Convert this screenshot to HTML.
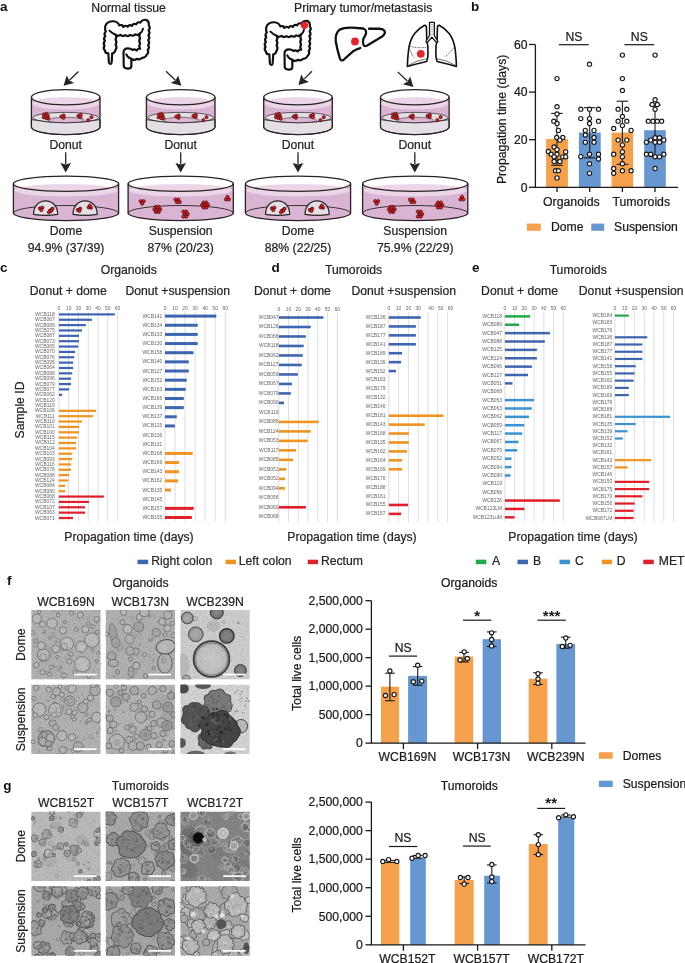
<!DOCTYPE html>
<html><head><meta charset="utf-8"><style>
html,body{margin:0;padding:0;background:#fff;}
body{width:685px;height:963px;overflow:hidden;}
svg{display:block;will-change:transform;}
text{font-family:"Liberation Sans",sans-serif;}
</style></head><body>
<svg width="685" height="963" viewBox="0 0 685 963">
<rect x="0" y="0" width="685" height="963" fill="#fff"/>
<defs><filter id="grain" x="0" y="0" width="100%" height="100%"><feTurbulence type="fractalNoise" baseFrequency="0.55" numOctaves="2" seed="7" result="t"/><feColorMatrix in="t" type="matrix" values="0 0 0 0 0  0 0 0 0 0  0 0 0 0 0  0.8 0 0 0 -0.3"/><feGaussianBlur stdDeviation="0.4"/></filter><filter id="soft"><feGaussianBlur stdDeviation="0.35"/></filter><filter id="blur1"><feGaussianBlur stdDeviation="1.2"/></filter><filter id="blur2"><feGaussianBlur stdDeviation="2.5"/></filter><clipPath id="cpf1"><rect x="31.2" y="610.0" width="69.5" height="69.5"/></clipPath><clipPath id="cpf2"><rect x="105.6" y="610.0" width="69.5" height="69.5"/></clipPath><clipPath id="cpf4"><rect x="31.2" y="684.6" width="69.5" height="69.5"/></clipPath><clipPath id="cpf5"><rect x="105.6" y="684.6" width="69.5" height="69.5"/></clipPath><radialGradient id="f3big"><stop offset="0" stop-color="#cbcbcb"/><stop offset="0.75" stop-color="#c2c2c2"/><stop offset="1" stop-color="#a8a8a8"/></radialGradient><radialGradient id="f3dk"><stop offset="0" stop-color="#8c8c8c"/><stop offset="0.75" stop-color="#7a7a7a"/><stop offset="1" stop-color="#5a5a5a"/></radialGradient><radialGradient id="f3md"><stop offset="0" stop-color="#b2b2b2"/><stop offset="0.75" stop-color="#a2a2a2"/><stop offset="1" stop-color="#7a7a7a"/></radialGradient><clipPath id="cpf3"><rect x="180.3" y="610.0" width="69.5" height="69.5"/></clipPath><radialGradient id="f6a"><stop offset="0" stop-color="#2e2e2e"/><stop offset="0.75" stop-color="#3e3e3e"/><stop offset="1" stop-color="#5a5a5a"/></radialGradient><radialGradient id="f6b"><stop offset="0" stop-color="#6e6e6e"/><stop offset="0.75" stop-color="#7a7a7a"/><stop offset="1" stop-color="#5a5a5a"/></radialGradient><radialGradient id="f6c"><stop offset="0" stop-color="#444"/><stop offset="0.75" stop-color="#525252"/><stop offset="1" stop-color="#6a6a6a"/></radialGradient><clipPath id="cpf6"><rect x="180.3" y="684.6" width="69.5" height="69.5"/></clipPath><clipPath id="cpg1"><rect x="31.2" y="811.6" width="69.5" height="69.5"/></clipPath><radialGradient id="gdk"><stop offset="0" stop-color="#7a7a7a"/><stop offset="0.75" stop-color="#868686"/><stop offset="1" stop-color="#666"/></radialGradient><radialGradient id="gmd"><stop offset="0" stop-color="#959595"/><stop offset="0.75" stop-color="#9d9d9d"/><stop offset="1" stop-color="#707070"/></radialGradient><clipPath id="cpg2"><rect x="105.6" y="811.6" width="69.5" height="69.5"/></clipPath><clipPath id="cpg3"><rect x="180.3" y="811.6" width="69.5" height="69.5"/></clipPath><clipPath id="cpg4"><rect x="31.2" y="886.3" width="69.5" height="69.5"/></clipPath><clipPath id="cpg5"><rect x="105.6" y="886.3" width="69.5" height="69.5"/></clipPath><clipPath id="cpg6"><rect x="180.3" y="886.3" width="69.5" height="69.5"/></clipPath></defs>
<text x="0.00" y="11.00" font-size="13.5" text-anchor="start" fill="#111" font-weight="bold" >a</text>
<text x="128.60" y="12.40" font-size="12.2" text-anchor="middle" fill="#2a2223" stroke="#2a2223" stroke-width="0.22" >Normal tissue</text>
<text x="363.20" y="12.40" font-size="12.2" text-anchor="middle" fill="#2a2223" stroke="#2a2223" stroke-width="0.22" >Primary tumor/metastasis</text>
<text x="471.00" y="10.80" font-size="13.5" text-anchor="start" fill="#111" font-weight="bold" >b</text>
<ellipse cx="65.7" cy="97.2" rx="34.3" ry="7.6" fill="#fff"/>
<path d="M31.400000000000006,97.2 A34.3,7.6 0 0 0 100.0,97.2 L100.0,127.0 A34.3,7.6 0 0 1 31.400000000000006,127.0 Z" fill="#dab5d3"/>
<ellipse cx="65.7" cy="103.3" rx="33.699999999999996" ry="6.3" fill="#ebd6e8"/>
<ellipse cx="65.7" cy="117.6" rx="32.8" ry="5.2" fill="#e4dfe5" stroke="#2a2122" stroke-width="0.7"/>
<ellipse cx="66.2" cy="120.3" rx="18.299999999999997" ry="3.0" fill="#dab5d3" stroke="#2a2122" stroke-width="0.5"/>
<path d="M31.400000000000006,119.6 Q65.7,126.2 100.0,119.6 L100.0,127.0 A34.3,7.6 0 0 1 31.400000000000006,127.0 Z" fill="#e4dfe5" stroke="#2a2122" stroke-width="0.9"/>
<circle cx="44.00" cy="114.50" r="1.6" fill="#e31e24" stroke="#3a0a0a" stroke-width="0.7"/>
<circle cx="46.50" cy="113.90" r="1.6" fill="#e31e24" stroke="#3a0a0a" stroke-width="0.7"/>
<circle cx="47.70" cy="115.90" r="1.6" fill="#e31e24" stroke="#3a0a0a" stroke-width="0.7"/>
<circle cx="43.70" cy="117.30" r="1.6" fill="#e31e24" stroke="#3a0a0a" stroke-width="0.7"/>
<circle cx="46.30" cy="118.10" r="1.6" fill="#e31e24" stroke="#3a0a0a" stroke-width="0.7"/>
<circle cx="48.30" cy="118.50" r="1.6" fill="#e31e24" stroke="#3a0a0a" stroke-width="0.7"/>
<circle cx="61.40" cy="116.50" r="1.6" fill="#e31e24" stroke="#3a0a0a" stroke-width="0.7"/>
<circle cx="63.70" cy="115.50" r="1.6" fill="#e31e24" stroke="#3a0a0a" stroke-width="0.7"/>
<circle cx="63.50" cy="117.80" r="1.6" fill="#e31e24" stroke="#3a0a0a" stroke-width="0.7"/>
<circle cx="78.40" cy="116.00" r="1.6" fill="#e31e24" stroke="#3a0a0a" stroke-width="0.7"/>
<circle cx="80.70" cy="114.80" r="1.6" fill="#e31e24" stroke="#3a0a0a" stroke-width="0.7"/>
<circle cx="80.50" cy="117.20" r="1.6" fill="#e31e24" stroke="#3a0a0a" stroke-width="0.7"/>
<circle cx="88.20" cy="120.20" r="1.6" fill="#e31e24" stroke="#3a0a0a" stroke-width="0.7"/>
<circle cx="91.50" cy="117.20" r="1.6" fill="#e31e24" stroke="#3a0a0a" stroke-width="0.7"/>
<path d="M31.400000000000006,97.2 L31.400000000000006,127.0 A34.3,7.6 0 0 0 100.0,127.0 L100.0,97.2" fill="none" stroke="#2a2122" stroke-width="1.3"/>
<ellipse cx="65.7" cy="97.2" rx="34.3" ry="7.6" fill="none" stroke="#2a2122" stroke-width="1.3"/>
<text x="65.70" y="149.10" font-size="12.2" text-anchor="middle" fill="#2a2223" stroke="#2a2223" stroke-width="0.22" >Donut</text>
<line x1="65.7" y1="152.3" x2="65.70" y2="164.10" stroke="#2a2122" stroke-width="1.3"/>
<path d="M65.70,172.60 L60.40,163.10 L65.70,164.62 L71.00,163.10 Z" fill="#2a2122"/>
<ellipse cx="180.7" cy="97.2" rx="34.3" ry="7.6" fill="#fff"/>
<path d="M146.39999999999998,97.2 A34.3,7.6 0 0 0 215.0,97.2 L215.0,127.0 A34.3,7.6 0 0 1 146.39999999999998,127.0 Z" fill="#dab5d3"/>
<ellipse cx="180.7" cy="103.3" rx="33.699999999999996" ry="6.3" fill="#ebd6e8"/>
<ellipse cx="180.7" cy="117.6" rx="32.8" ry="5.2" fill="#e4dfe5" stroke="#2a2122" stroke-width="0.7"/>
<ellipse cx="181.2" cy="120.3" rx="18.299999999999997" ry="3.0" fill="#dab5d3" stroke="#2a2122" stroke-width="0.5"/>
<path d="M146.39999999999998,119.6 Q180.7,126.2 215.0,119.6 L215.0,127.0 A34.3,7.6 0 0 1 146.39999999999998,127.0 Z" fill="#e4dfe5" stroke="#2a2122" stroke-width="0.9"/>
<circle cx="159.00" cy="114.50" r="1.6" fill="#e31e24" stroke="#3a0a0a" stroke-width="0.7"/>
<circle cx="161.50" cy="113.90" r="1.6" fill="#e31e24" stroke="#3a0a0a" stroke-width="0.7"/>
<circle cx="162.70" cy="115.90" r="1.6" fill="#e31e24" stroke="#3a0a0a" stroke-width="0.7"/>
<circle cx="158.70" cy="117.30" r="1.6" fill="#e31e24" stroke="#3a0a0a" stroke-width="0.7"/>
<circle cx="161.30" cy="118.10" r="1.6" fill="#e31e24" stroke="#3a0a0a" stroke-width="0.7"/>
<circle cx="163.30" cy="118.50" r="1.6" fill="#e31e24" stroke="#3a0a0a" stroke-width="0.7"/>
<circle cx="176.40" cy="116.50" r="1.6" fill="#e31e24" stroke="#3a0a0a" stroke-width="0.7"/>
<circle cx="178.70" cy="115.50" r="1.6" fill="#e31e24" stroke="#3a0a0a" stroke-width="0.7"/>
<circle cx="178.50" cy="117.80" r="1.6" fill="#e31e24" stroke="#3a0a0a" stroke-width="0.7"/>
<circle cx="193.40" cy="116.00" r="1.6" fill="#e31e24" stroke="#3a0a0a" stroke-width="0.7"/>
<circle cx="195.70" cy="114.80" r="1.6" fill="#e31e24" stroke="#3a0a0a" stroke-width="0.7"/>
<circle cx="195.50" cy="117.20" r="1.6" fill="#e31e24" stroke="#3a0a0a" stroke-width="0.7"/>
<circle cx="203.20" cy="120.20" r="1.6" fill="#e31e24" stroke="#3a0a0a" stroke-width="0.7"/>
<circle cx="206.50" cy="117.20" r="1.6" fill="#e31e24" stroke="#3a0a0a" stroke-width="0.7"/>
<path d="M146.39999999999998,97.2 L146.39999999999998,127.0 A34.3,7.6 0 0 0 215.0,127.0 L215.0,97.2" fill="none" stroke="#2a2122" stroke-width="1.3"/>
<ellipse cx="180.7" cy="97.2" rx="34.3" ry="7.6" fill="none" stroke="#2a2122" stroke-width="1.3"/>
<text x="180.70" y="149.10" font-size="12.2" text-anchor="middle" fill="#2a2223" stroke="#2a2223" stroke-width="0.22" >Donut</text>
<line x1="180.7" y1="152.3" x2="180.70" y2="164.10" stroke="#2a2122" stroke-width="1.3"/>
<path d="M180.70,172.60 L175.40,163.10 L180.70,164.62 L186.00,163.10 Z" fill="#2a2122"/>
<ellipse cx="298.0" cy="97.2" rx="34.3" ry="7.6" fill="#fff"/>
<path d="M263.7,97.2 A34.3,7.6 0 0 0 332.3,97.2 L332.3,127.0 A34.3,7.6 0 0 1 263.7,127.0 Z" fill="#dab5d3"/>
<ellipse cx="298.0" cy="103.3" rx="33.699999999999996" ry="6.3" fill="#ebd6e8"/>
<ellipse cx="298.0" cy="117.6" rx="32.8" ry="5.2" fill="#e4dfe5" stroke="#2a2122" stroke-width="0.7"/>
<ellipse cx="298.5" cy="120.3" rx="18.299999999999997" ry="3.0" fill="#dab5d3" stroke="#2a2122" stroke-width="0.5"/>
<path d="M263.7,119.6 Q298.0,126.2 332.3,119.6 L332.3,127.0 A34.3,7.6 0 0 1 263.7,127.0 Z" fill="#e4dfe5" stroke="#2a2122" stroke-width="0.9"/>
<circle cx="276.30" cy="114.50" r="1.6" fill="#e31e24" stroke="#3a0a0a" stroke-width="0.7"/>
<circle cx="278.80" cy="113.90" r="1.6" fill="#e31e24" stroke="#3a0a0a" stroke-width="0.7"/>
<circle cx="280.00" cy="115.90" r="1.6" fill="#e31e24" stroke="#3a0a0a" stroke-width="0.7"/>
<circle cx="276.00" cy="117.30" r="1.6" fill="#e31e24" stroke="#3a0a0a" stroke-width="0.7"/>
<circle cx="278.60" cy="118.10" r="1.6" fill="#e31e24" stroke="#3a0a0a" stroke-width="0.7"/>
<circle cx="280.60" cy="118.50" r="1.6" fill="#e31e24" stroke="#3a0a0a" stroke-width="0.7"/>
<circle cx="293.70" cy="116.50" r="1.6" fill="#e31e24" stroke="#3a0a0a" stroke-width="0.7"/>
<circle cx="296.00" cy="115.50" r="1.6" fill="#e31e24" stroke="#3a0a0a" stroke-width="0.7"/>
<circle cx="295.80" cy="117.80" r="1.6" fill="#e31e24" stroke="#3a0a0a" stroke-width="0.7"/>
<circle cx="310.70" cy="116.00" r="1.6" fill="#e31e24" stroke="#3a0a0a" stroke-width="0.7"/>
<circle cx="313.00" cy="114.80" r="1.6" fill="#e31e24" stroke="#3a0a0a" stroke-width="0.7"/>
<circle cx="312.80" cy="117.20" r="1.6" fill="#e31e24" stroke="#3a0a0a" stroke-width="0.7"/>
<circle cx="320.50" cy="120.20" r="1.6" fill="#e31e24" stroke="#3a0a0a" stroke-width="0.7"/>
<circle cx="323.80" cy="117.20" r="1.6" fill="#e31e24" stroke="#3a0a0a" stroke-width="0.7"/>
<path d="M263.7,97.2 L263.7,127.0 A34.3,7.6 0 0 0 332.3,127.0 L332.3,97.2" fill="none" stroke="#2a2122" stroke-width="1.3"/>
<ellipse cx="298.0" cy="97.2" rx="34.3" ry="7.6" fill="none" stroke="#2a2122" stroke-width="1.3"/>
<text x="298.00" y="149.10" font-size="12.2" text-anchor="middle" fill="#2a2223" stroke="#2a2223" stroke-width="0.22" >Donut</text>
<line x1="298.0" y1="152.3" x2="298.00" y2="164.10" stroke="#2a2122" stroke-width="1.3"/>
<path d="M298.00,172.60 L292.70,163.10 L298.00,164.62 L303.30,163.10 Z" fill="#2a2122"/>
<ellipse cx="414.8" cy="97.2" rx="34.3" ry="7.6" fill="#fff"/>
<path d="M380.5,97.2 A34.3,7.6 0 0 0 449.1,97.2 L449.1,127.0 A34.3,7.6 0 0 1 380.5,127.0 Z" fill="#dab5d3"/>
<ellipse cx="414.8" cy="103.3" rx="33.699999999999996" ry="6.3" fill="#ebd6e8"/>
<ellipse cx="414.8" cy="117.6" rx="32.8" ry="5.2" fill="#e4dfe5" stroke="#2a2122" stroke-width="0.7"/>
<ellipse cx="415.3" cy="120.3" rx="18.299999999999997" ry="3.0" fill="#dab5d3" stroke="#2a2122" stroke-width="0.5"/>
<path d="M380.5,119.6 Q414.8,126.2 449.1,119.6 L449.1,127.0 A34.3,7.6 0 0 1 380.5,127.0 Z" fill="#e4dfe5" stroke="#2a2122" stroke-width="0.9"/>
<circle cx="393.10" cy="114.50" r="1.6" fill="#e31e24" stroke="#3a0a0a" stroke-width="0.7"/>
<circle cx="395.60" cy="113.90" r="1.6" fill="#e31e24" stroke="#3a0a0a" stroke-width="0.7"/>
<circle cx="396.80" cy="115.90" r="1.6" fill="#e31e24" stroke="#3a0a0a" stroke-width="0.7"/>
<circle cx="392.80" cy="117.30" r="1.6" fill="#e31e24" stroke="#3a0a0a" stroke-width="0.7"/>
<circle cx="395.40" cy="118.10" r="1.6" fill="#e31e24" stroke="#3a0a0a" stroke-width="0.7"/>
<circle cx="397.40" cy="118.50" r="1.6" fill="#e31e24" stroke="#3a0a0a" stroke-width="0.7"/>
<circle cx="410.50" cy="116.50" r="1.6" fill="#e31e24" stroke="#3a0a0a" stroke-width="0.7"/>
<circle cx="412.80" cy="115.50" r="1.6" fill="#e31e24" stroke="#3a0a0a" stroke-width="0.7"/>
<circle cx="412.60" cy="117.80" r="1.6" fill="#e31e24" stroke="#3a0a0a" stroke-width="0.7"/>
<circle cx="427.50" cy="116.00" r="1.6" fill="#e31e24" stroke="#3a0a0a" stroke-width="0.7"/>
<circle cx="429.80" cy="114.80" r="1.6" fill="#e31e24" stroke="#3a0a0a" stroke-width="0.7"/>
<circle cx="429.60" cy="117.20" r="1.6" fill="#e31e24" stroke="#3a0a0a" stroke-width="0.7"/>
<circle cx="437.30" cy="120.20" r="1.6" fill="#e31e24" stroke="#3a0a0a" stroke-width="0.7"/>
<circle cx="440.60" cy="117.20" r="1.6" fill="#e31e24" stroke="#3a0a0a" stroke-width="0.7"/>
<path d="M380.5,97.2 L380.5,127.0 A34.3,7.6 0 0 0 449.1,127.0 L449.1,97.2" fill="none" stroke="#2a2122" stroke-width="1.3"/>
<ellipse cx="414.8" cy="97.2" rx="34.3" ry="7.6" fill="none" stroke="#2a2122" stroke-width="1.3"/>
<text x="414.80" y="149.10" font-size="12.2" text-anchor="middle" fill="#2a2223" stroke="#2a2223" stroke-width="0.22" >Donut</text>
<line x1="414.8" y1="152.3" x2="414.80" y2="164.10" stroke="#2a2122" stroke-width="1.3"/>
<path d="M414.80,172.60 L409.50,163.10 L414.80,164.62 L420.10,163.10 Z" fill="#2a2122"/>
<ellipse cx="66.0" cy="183.8" rx="52.6" ry="7.6" fill="#fff"/>
<path d="M13.399999999999999,183.8 A52.6,7.6 0 0 0 118.6,183.8 L118.6,213.1 A52.6,7.6 0 0 1 13.399999999999999,213.1 Z" fill="#dab5d3"/>
<ellipse cx="66.0" cy="190.3" rx="51.800000000000004" ry="6.2" fill="#ebd6e8"/>
<path d="M13.399999999999999,213.1 A52.6,7.6 0 0 1 118.6,213.1" fill="none" stroke="#2a2122" stroke-width="0.9"/>
<path d="M33.5,214.3 C33.5,196.5 57.7,196.5 57.7,214.3 Q45.6,216.6 33.5,214.3 Z" fill="#e4dfe5" stroke="#2a2122" stroke-width="1.2"/>
<circle cx="39.90" cy="208.30" r="1.6" fill="#e31e24" stroke="#3a0a0a" stroke-width="0.7"/>
<circle cx="42.40" cy="207.70" r="1.6" fill="#e31e24" stroke="#3a0a0a" stroke-width="0.7"/>
<circle cx="41.30" cy="210.00" r="1.6" fill="#e31e24" stroke="#3a0a0a" stroke-width="0.7"/>
<circle cx="50.30" cy="210.30" r="1.6" fill="#e31e24" stroke="#3a0a0a" stroke-width="0.7"/>
<circle cx="52.50" cy="208.70" r="1.6" fill="#e31e24" stroke="#3a0a0a" stroke-width="0.7"/>
<circle cx="48.90" cy="212.20" r="1.6" fill="#e31e24" stroke="#3a0a0a" stroke-width="0.7"/>
<circle cx="51.30" cy="210.90" r="1.6" fill="#e31e24" stroke="#3a0a0a" stroke-width="0.7"/>
<path d="M73.0,214.3 C73.0,196.5 97.19999999999999,196.5 97.19999999999999,214.3 Q85.1,216.6 73.0,214.3 Z" fill="#e4dfe5" stroke="#2a2122" stroke-width="1.2"/>
<circle cx="77.80" cy="209.90" r="1.6" fill="#e31e24" stroke="#3a0a0a" stroke-width="0.7"/>
<circle cx="80.20" cy="208.60" r="1.6" fill="#e31e24" stroke="#3a0a0a" stroke-width="0.7"/>
<circle cx="79.40" cy="210.90" r="1.6" fill="#e31e24" stroke="#3a0a0a" stroke-width="0.7"/>
<circle cx="88.70" cy="207.30" r="1.6" fill="#e31e24" stroke="#3a0a0a" stroke-width="0.7"/>
<circle cx="91.00" cy="207.70" r="1.6" fill="#e31e24" stroke="#3a0a0a" stroke-width="0.7"/>
<circle cx="89.90" cy="205.50" r="1.6" fill="#e31e24" stroke="#3a0a0a" stroke-width="0.7"/>
<path d="M13.399999999999999,183.8 L13.399999999999999,213.1 A52.6,7.6 0 0 0 118.6,213.1 L118.6,183.8" fill="none" stroke="#2a2122" stroke-width="1.3"/>
<ellipse cx="66.0" cy="183.8" rx="52.6" ry="7.6" fill="none" stroke="#2a2122" stroke-width="1.3"/>
<text x="66.00" y="234.70" font-size="12.2" text-anchor="middle" fill="#2a2223" stroke="#2a2223" stroke-width="0.22" >Dome</text>
<text x="66.00" y="251.50" font-size="12.2" text-anchor="middle" fill="#2a2223" stroke="#2a2223" stroke-width="0.22" >94.9% (37/39)</text>
<ellipse cx="180.7" cy="183.8" rx="52.6" ry="7.6" fill="#fff"/>
<path d="M128.1,183.8 A52.6,7.6 0 0 0 233.29999999999998,183.8 L233.29999999999998,213.1 A52.6,7.6 0 0 1 128.1,213.1 Z" fill="#dab5d3"/>
<ellipse cx="180.7" cy="190.3" rx="51.800000000000004" ry="6.2" fill="#ebd6e8"/>
<path d="M128.1,213.1 A52.6,7.6 0 0 1 233.29999999999998,213.1" fill="none" stroke="#2a2122" stroke-width="0.9"/>
<circle cx="140.70" cy="201.20" r="1.6" fill="#e31e24" stroke="#3a0a0a" stroke-width="0.7"/>
<circle cx="143.60" cy="201.20" r="1.6" fill="#e31e24" stroke="#3a0a0a" stroke-width="0.7"/>
<circle cx="142.15" cy="203.70" r="1.6" fill="#e31e24" stroke="#3a0a0a" stroke-width="0.7"/>
<circle cx="157.30" cy="209.40" r="1.6" fill="#e31e24" stroke="#3a0a0a" stroke-width="0.7"/>
<circle cx="160.20" cy="209.40" r="1.6" fill="#e31e24" stroke="#3a0a0a" stroke-width="0.7"/>
<circle cx="158.75" cy="206.90" r="1.6" fill="#e31e24" stroke="#3a0a0a" stroke-width="0.7"/>
<circle cx="158.75" cy="211.90" r="1.6" fill="#e31e24" stroke="#3a0a0a" stroke-width="0.7"/>
<circle cx="155.85" cy="206.90" r="1.6" fill="#e31e24" stroke="#3a0a0a" stroke-width="0.7"/>
<circle cx="155.85" cy="211.90" r="1.6" fill="#e31e24" stroke="#3a0a0a" stroke-width="0.7"/>
<circle cx="154.40" cy="209.40" r="1.6" fill="#e31e24" stroke="#3a0a0a" stroke-width="0.7"/>
<circle cx="176.90" cy="202.10" r="1.6" fill="#e31e24" stroke="#3a0a0a" stroke-width="0.7"/>
<circle cx="179.80" cy="202.10" r="1.6" fill="#e31e24" stroke="#3a0a0a" stroke-width="0.7"/>
<circle cx="178.35" cy="199.60" r="1.6" fill="#e31e24" stroke="#3a0a0a" stroke-width="0.7"/>
<circle cx="175.45" cy="199.60" r="1.6" fill="#e31e24" stroke="#3a0a0a" stroke-width="0.7"/>
<circle cx="184.80" cy="214.10" r="1.6" fill="#e31e24" stroke="#3a0a0a" stroke-width="0.7"/>
<circle cx="187.70" cy="214.10" r="1.6" fill="#e31e24" stroke="#3a0a0a" stroke-width="0.7"/>
<circle cx="186.25" cy="211.60" r="1.6" fill="#e31e24" stroke="#3a0a0a" stroke-width="0.7"/>
<circle cx="186.25" cy="216.60" r="1.6" fill="#e31e24" stroke="#3a0a0a" stroke-width="0.7"/>
<circle cx="183.35" cy="211.60" r="1.6" fill="#e31e24" stroke="#3a0a0a" stroke-width="0.7"/>
<circle cx="183.35" cy="216.60" r="1.6" fill="#e31e24" stroke="#3a0a0a" stroke-width="0.7"/>
<circle cx="205.00" cy="205.00" r="1.6" fill="#e31e24" stroke="#3a0a0a" stroke-width="0.7"/>
<circle cx="207.90" cy="205.00" r="1.6" fill="#e31e24" stroke="#3a0a0a" stroke-width="0.7"/>
<circle cx="206.45" cy="202.50" r="1.6" fill="#e31e24" stroke="#3a0a0a" stroke-width="0.7"/>
<circle cx="206.45" cy="207.50" r="1.6" fill="#e31e24" stroke="#3a0a0a" stroke-width="0.7"/>
<circle cx="203.55" cy="202.50" r="1.6" fill="#e31e24" stroke="#3a0a0a" stroke-width="0.7"/>
<circle cx="203.55" cy="207.50" r="1.6" fill="#e31e24" stroke="#3a0a0a" stroke-width="0.7"/>
<circle cx="202.10" cy="205.00" r="1.6" fill="#e31e24" stroke="#3a0a0a" stroke-width="0.7"/>
<circle cx="226.00" cy="199.40" r="1.6" fill="#e31e24" stroke="#3a0a0a" stroke-width="0.7"/>
<circle cx="228.90" cy="199.40" r="1.6" fill="#e31e24" stroke="#3a0a0a" stroke-width="0.7"/>
<circle cx="227.45" cy="196.90" r="1.6" fill="#e31e24" stroke="#3a0a0a" stroke-width="0.7"/>
<path d="M128.1,183.8 L128.1,213.1 A52.6,7.6 0 0 0 233.29999999999998,213.1 L233.29999999999998,183.8" fill="none" stroke="#2a2122" stroke-width="1.3"/>
<ellipse cx="180.7" cy="183.8" rx="52.6" ry="7.6" fill="none" stroke="#2a2122" stroke-width="1.3"/>
<text x="180.70" y="234.70" font-size="12.2" text-anchor="middle" fill="#2a2223" stroke="#2a2223" stroke-width="0.22" >Suspension</text>
<text x="180.70" y="251.50" font-size="12.2" text-anchor="middle" fill="#2a2223" stroke="#2a2223" stroke-width="0.22" >87% (20/23)</text>
<ellipse cx="298.0" cy="183.8" rx="52.6" ry="7.6" fill="#fff"/>
<path d="M245.4,183.8 A52.6,7.6 0 0 0 350.6,183.8 L350.6,213.1 A52.6,7.6 0 0 1 245.4,213.1 Z" fill="#dab5d3"/>
<ellipse cx="298.0" cy="190.3" rx="51.800000000000004" ry="6.2" fill="#ebd6e8"/>
<path d="M245.4,213.1 A52.6,7.6 0 0 1 350.6,213.1" fill="none" stroke="#2a2122" stroke-width="0.9"/>
<path d="M265.5,214.3 C265.5,196.5 289.70000000000005,196.5 289.70000000000005,214.3 Q277.6,216.6 265.5,214.3 Z" fill="#e4dfe5" stroke="#2a2122" stroke-width="1.2"/>
<circle cx="271.90" cy="208.30" r="1.6" fill="#e31e24" stroke="#3a0a0a" stroke-width="0.7"/>
<circle cx="274.40" cy="207.70" r="1.6" fill="#e31e24" stroke="#3a0a0a" stroke-width="0.7"/>
<circle cx="273.30" cy="210.00" r="1.6" fill="#e31e24" stroke="#3a0a0a" stroke-width="0.7"/>
<circle cx="282.30" cy="210.30" r="1.6" fill="#e31e24" stroke="#3a0a0a" stroke-width="0.7"/>
<circle cx="284.50" cy="208.70" r="1.6" fill="#e31e24" stroke="#3a0a0a" stroke-width="0.7"/>
<circle cx="280.90" cy="212.20" r="1.6" fill="#e31e24" stroke="#3a0a0a" stroke-width="0.7"/>
<circle cx="283.30" cy="210.90" r="1.6" fill="#e31e24" stroke="#3a0a0a" stroke-width="0.7"/>
<path d="M305.0,214.3 C305.0,196.5 329.20000000000005,196.5 329.20000000000005,214.3 Q317.1,216.6 305.0,214.3 Z" fill="#e4dfe5" stroke="#2a2122" stroke-width="1.2"/>
<circle cx="309.80" cy="209.90" r="1.6" fill="#e31e24" stroke="#3a0a0a" stroke-width="0.7"/>
<circle cx="312.20" cy="208.60" r="1.6" fill="#e31e24" stroke="#3a0a0a" stroke-width="0.7"/>
<circle cx="311.40" cy="210.90" r="1.6" fill="#e31e24" stroke="#3a0a0a" stroke-width="0.7"/>
<circle cx="320.70" cy="207.30" r="1.6" fill="#e31e24" stroke="#3a0a0a" stroke-width="0.7"/>
<circle cx="323.00" cy="207.70" r="1.6" fill="#e31e24" stroke="#3a0a0a" stroke-width="0.7"/>
<circle cx="321.90" cy="205.50" r="1.6" fill="#e31e24" stroke="#3a0a0a" stroke-width="0.7"/>
<path d="M245.4,183.8 L245.4,213.1 A52.6,7.6 0 0 0 350.6,213.1 L350.6,183.8" fill="none" stroke="#2a2122" stroke-width="1.3"/>
<ellipse cx="298.0" cy="183.8" rx="52.6" ry="7.6" fill="none" stroke="#2a2122" stroke-width="1.3"/>
<text x="298.00" y="234.70" font-size="12.2" text-anchor="middle" fill="#2a2223" stroke="#2a2223" stroke-width="0.22" >Dome</text>
<text x="298.00" y="251.50" font-size="12.2" text-anchor="middle" fill="#2a2223" stroke="#2a2223" stroke-width="0.22" >88% (22/25)</text>
<ellipse cx="415.2" cy="183.8" rx="52.6" ry="7.6" fill="#fff"/>
<path d="M362.59999999999997,183.8 A52.6,7.6 0 0 0 467.8,183.8 L467.8,213.1 A52.6,7.6 0 0 1 362.59999999999997,213.1 Z" fill="#dab5d3"/>
<ellipse cx="415.2" cy="190.3" rx="51.800000000000004" ry="6.2" fill="#ebd6e8"/>
<path d="M362.59999999999997,213.1 A52.6,7.6 0 0 1 467.8,213.1" fill="none" stroke="#2a2122" stroke-width="0.9"/>
<circle cx="375.20" cy="201.20" r="1.6" fill="#e31e24" stroke="#3a0a0a" stroke-width="0.7"/>
<circle cx="378.10" cy="201.20" r="1.6" fill="#e31e24" stroke="#3a0a0a" stroke-width="0.7"/>
<circle cx="376.65" cy="203.70" r="1.6" fill="#e31e24" stroke="#3a0a0a" stroke-width="0.7"/>
<circle cx="391.80" cy="209.40" r="1.6" fill="#e31e24" stroke="#3a0a0a" stroke-width="0.7"/>
<circle cx="394.70" cy="209.40" r="1.6" fill="#e31e24" stroke="#3a0a0a" stroke-width="0.7"/>
<circle cx="393.25" cy="206.90" r="1.6" fill="#e31e24" stroke="#3a0a0a" stroke-width="0.7"/>
<circle cx="393.25" cy="211.90" r="1.6" fill="#e31e24" stroke="#3a0a0a" stroke-width="0.7"/>
<circle cx="390.35" cy="206.90" r="1.6" fill="#e31e24" stroke="#3a0a0a" stroke-width="0.7"/>
<circle cx="390.35" cy="211.90" r="1.6" fill="#e31e24" stroke="#3a0a0a" stroke-width="0.7"/>
<circle cx="388.90" cy="209.40" r="1.6" fill="#e31e24" stroke="#3a0a0a" stroke-width="0.7"/>
<circle cx="411.40" cy="202.10" r="1.6" fill="#e31e24" stroke="#3a0a0a" stroke-width="0.7"/>
<circle cx="414.30" cy="202.10" r="1.6" fill="#e31e24" stroke="#3a0a0a" stroke-width="0.7"/>
<circle cx="412.85" cy="199.60" r="1.6" fill="#e31e24" stroke="#3a0a0a" stroke-width="0.7"/>
<circle cx="409.95" cy="199.60" r="1.6" fill="#e31e24" stroke="#3a0a0a" stroke-width="0.7"/>
<circle cx="419.30" cy="214.10" r="1.6" fill="#e31e24" stroke="#3a0a0a" stroke-width="0.7"/>
<circle cx="422.20" cy="214.10" r="1.6" fill="#e31e24" stroke="#3a0a0a" stroke-width="0.7"/>
<circle cx="420.75" cy="211.60" r="1.6" fill="#e31e24" stroke="#3a0a0a" stroke-width="0.7"/>
<circle cx="420.75" cy="216.60" r="1.6" fill="#e31e24" stroke="#3a0a0a" stroke-width="0.7"/>
<circle cx="417.85" cy="211.60" r="1.6" fill="#e31e24" stroke="#3a0a0a" stroke-width="0.7"/>
<circle cx="417.85" cy="216.60" r="1.6" fill="#e31e24" stroke="#3a0a0a" stroke-width="0.7"/>
<circle cx="439.50" cy="205.00" r="1.6" fill="#e31e24" stroke="#3a0a0a" stroke-width="0.7"/>
<circle cx="442.40" cy="205.00" r="1.6" fill="#e31e24" stroke="#3a0a0a" stroke-width="0.7"/>
<circle cx="440.95" cy="202.50" r="1.6" fill="#e31e24" stroke="#3a0a0a" stroke-width="0.7"/>
<circle cx="440.95" cy="207.50" r="1.6" fill="#e31e24" stroke="#3a0a0a" stroke-width="0.7"/>
<circle cx="438.05" cy="202.50" r="1.6" fill="#e31e24" stroke="#3a0a0a" stroke-width="0.7"/>
<circle cx="438.05" cy="207.50" r="1.6" fill="#e31e24" stroke="#3a0a0a" stroke-width="0.7"/>
<circle cx="436.60" cy="205.00" r="1.6" fill="#e31e24" stroke="#3a0a0a" stroke-width="0.7"/>
<circle cx="460.50" cy="199.40" r="1.6" fill="#e31e24" stroke="#3a0a0a" stroke-width="0.7"/>
<circle cx="463.40" cy="199.40" r="1.6" fill="#e31e24" stroke="#3a0a0a" stroke-width="0.7"/>
<circle cx="461.95" cy="196.90" r="1.6" fill="#e31e24" stroke="#3a0a0a" stroke-width="0.7"/>
<path d="M362.59999999999997,183.8 L362.59999999999997,213.1 A52.6,7.6 0 0 0 467.8,213.1 L467.8,183.8" fill="none" stroke="#2a2122" stroke-width="1.3"/>
<ellipse cx="415.2" cy="183.8" rx="52.6" ry="7.6" fill="none" stroke="#2a2122" stroke-width="1.3"/>
<text x="415.20" y="234.70" font-size="12.2" text-anchor="middle" fill="#2a2223" stroke="#2a2223" stroke-width="0.22" >Suspension</text>
<text x="415.20" y="251.50" font-size="12.2" text-anchor="middle" fill="#2a2223" stroke="#2a2223" stroke-width="0.22" >75.9% (22/29)</text>
<line x1="78.5" y1="71.5" x2="69.65" y2="79.93" stroke="#2a2122" stroke-width="1.3"/>
<path d="M63.50,85.80 L66.72,75.41 L69.28,80.29 L74.03,83.08 Z" fill="#2a2122"/>
<line x1="166" y1="71.2" x2="175.23" y2="79.95" stroke="#2a2122" stroke-width="1.3"/>
<path d="M181.40,85.80 L170.86,83.11 L175.61,80.31 L178.15,75.42 Z" fill="#2a2122"/>
<line x1="311.9" y1="71.2" x2="304.34" y2="78.92" stroke="#2a2122" stroke-width="1.3"/>
<path d="M298.40,85.00 L301.25,74.50 L303.98,79.30 L308.83,81.92 Z" fill="#2a2122"/>
<line x1="397.7" y1="71.9" x2="407.25" y2="81.03" stroke="#2a2122" stroke-width="1.3"/>
<path d="M413.40,86.90 L402.87,84.17 L407.63,81.39 L410.19,76.51 Z" fill="#2a2122"/>
<g transform="translate(100.0,15.0) scale(0.08032)">
<path d="M128,610 Q112,608 110,585 L104,478 Q66,480 61,442 Q33,414 57,383 Q33,352 61,323 Q37,291 66,264 Q43,232 72,205 Q50,150 80,110 Q110,75 165,78 Q225,82 240,130 Q275,113 291,149 Q317,120 345,146 Q366,113 398,135 Q415,100 450,117 Q464,80 500,95 Q530,55 570,60 Q615,70 608,130 Q633,162 605,191 Q630,223 602,252 Q627,284 600,313 Q625,345 599,375 Q622,407 594,435 Q612,471 580,495 Q566,535 524,533 Q495,564 458,545 Q424,571 390,545 L390,640 Q388,668 345,668 Q295,668 295,630 L293,460 Q300,415 345,415 Q385,415 405,435 Q434,419 457,443 Q469,414 500,420 Q478,388 500,356 Q478,324 500,292 Q478,260 500,228 Q475,258 439,241 Q411,268 378,248 Q348,274 316,251 Q284,274 254,248 Q222,271 192,245 Q214,275 193,307 Q215,337 194,368 Q216,399 195,430 Q180,475 152,478 L145,590 Q143,610 128,610 Z" fill="#fff" stroke="#111" stroke-width="27" stroke-linejoin="round"/>
<path d="M118,195 Q150,228 192,245 M535,170 Q528,212 500,228 M328,488 Q340,532 390,545" fill="none" stroke="#111" stroke-width="25" stroke-linecap="round"/>
</g>
<g transform="translate(261.0,16.0) scale(0.08032)">
<path d="M128,610 Q112,608 110,585 L104,478 Q66,480 61,442 Q33,414 57,383 Q33,352 61,323 Q37,291 66,264 Q43,232 72,205 Q50,150 80,110 Q110,75 165,78 Q225,82 240,130 Q275,113 291,149 Q317,120 345,146 Q366,113 398,135 Q415,100 450,117 Q464,80 500,95 Q530,55 570,60 Q615,70 608,130 Q633,162 605,191 Q630,223 602,252 Q627,284 600,313 Q625,345 599,375 Q622,407 594,435 Q612,471 580,495 Q566,535 524,533 Q495,564 458,545 Q424,571 390,545 L390,640 Q388,668 345,668 Q295,668 295,630 L293,460 Q300,415 345,415 Q385,415 405,435 Q434,419 457,443 Q469,414 500,420 Q478,388 500,356 Q478,324 500,292 Q478,260 500,228 Q475,258 439,241 Q411,268 378,248 Q348,274 316,251 Q284,274 254,248 Q222,271 192,245 Q214,275 193,307 Q215,337 194,368 Q216,399 195,430 Q180,475 152,478 L145,590 Q143,610 128,610 Z" fill="#fff" stroke="#111" stroke-width="27" stroke-linejoin="round"/>
<path d="M118,195 Q150,228 192,245 M535,170 Q528,212 500,228 M328,488 Q340,532 390,545" fill="none" stroke="#111" stroke-width="25" stroke-linecap="round"/>
</g>
<circle cx="304.5" cy="25.3" r="3.6" fill="#e52329"/>
<g transform="translate(330,20) scale(0.08757)">
<path d="M345,320 Q300,330 260,360 Q200,410 150,460 Q120,470 110,430 Q80,330 65,240 Q60,150 110,110 Q160,85 250,88 L380,97 Q420,110 410,160 Q395,195 380,215 Q370,260 385,290 Q400,305 420,295 L600,185 Q640,150 620,120 Q600,100 560,100 L445,100" fill="none" stroke="#111" stroke-width="26" stroke-linecap="round" stroke-linejoin="round"/>
</g>
<circle cx="355" cy="41.5" r="3.9" fill="#e52329"/>
<g transform="translate(405,15) scale(0.08032)">
<path d="M245,128 Q180,160 120,230 Q60,310 45,430 Q30,560 30,640 Q130,610 270,578 Q287,540 286,480 L284,380 Q268,345 270,290 Q268,200 266,150 Q262,125 245,128 Z" fill="#fff" stroke="#111" stroke-width="20" stroke-linejoin="round"/>
<path d="M245,128 Q180,160 120,230 Q60,310 45,430 Q30,560 30,640 Q130,610 270,578 Q287,540 286,480 L284,380 Q268,345 270,290 Q268,200 266,150 Q262,125 245,128 Z" transform="translate(670,0) scale(-1,1)" fill="#fff" stroke="#111" stroke-width="20" stroke-linejoin="round"/>
<path d="M305,92 L365,92 L365,255 L410,330 L392,345 L335,275 L278,345 L260,330 L305,255 Z" fill="#fff" stroke="#111" stroke-width="16" stroke-linejoin="round"/>
<path d="M318,120 L352,120 M318,150 L352,150 M318,180 L352,180 M318,210 L352,210 M318,240 L352,240" stroke="#777" stroke-width="7"/>
<path d="M55,385 Q150,420 270,400 M62,430 Q80,490 112,530 M608,405 Q560,470 500,520" fill="none" stroke="#222" stroke-width="8" stroke-dasharray="22,10"/>
<path d="M40,628 Q150,560 272,545 M630,628 Q520,560 398,545" fill="none" stroke="#222" stroke-width="8"/>
</g>
<circle cx="420.8" cy="53.8" r="3.9" fill="#e52329"/>
<rect x="546.1" y="138.99" width="21.80" height="48.31" fill="#f5a04a"/>
<rect x="578.9" y="132.56" width="21.80" height="54.74" fill="#6797d0"/>
<rect x="611.6" y="132.56" width="21.50" height="54.74" fill="#f5a04a"/>
<rect x="644.2" y="130.18" width="21.60" height="57.12" fill="#6797d0"/>
<line x1="557.0" y1="113.4" x2="557.0" y2="165.3" stroke="#1a1a1a" stroke-width="1.1"/>
<line x1="551.2" y1="113.4" x2="562.8" y2="113.4" stroke="#1a1a1a" stroke-width="1.1"/>
<line x1="551.2" y1="165.3" x2="562.8" y2="165.3" stroke="#1a1a1a" stroke-width="1.1"/>
<line x1="589.7" y1="107.7" x2="589.7" y2="157.9" stroke="#1a1a1a" stroke-width="1.1"/>
<line x1="583.9000000000001" y1="107.7" x2="595.5" y2="107.7" stroke="#1a1a1a" stroke-width="1.1"/>
<line x1="583.9000000000001" y1="157.9" x2="595.5" y2="157.9" stroke="#1a1a1a" stroke-width="1.1"/>
<line x1="622.4" y1="101.2" x2="622.4" y2="164.4" stroke="#1a1a1a" stroke-width="1.1"/>
<line x1="616.6" y1="101.2" x2="628.1999999999999" y2="101.2" stroke="#1a1a1a" stroke-width="1.1"/>
<line x1="616.6" y1="164.4" x2="628.1999999999999" y2="164.4" stroke="#1a1a1a" stroke-width="1.1"/>
<line x1="655.0" y1="105.2" x2="655.0" y2="156.5" stroke="#1a1a1a" stroke-width="1.1"/>
<line x1="649.2" y1="105.2" x2="660.8" y2="105.2" stroke="#1a1a1a" stroke-width="1.1"/>
<line x1="649.2" y1="156.5" x2="660.8" y2="156.5" stroke="#1a1a1a" stroke-width="1.1"/>
<circle cx="557" cy="78.6" r="2.1" fill="#fff" stroke="#1a1a1a" stroke-width="1.15"/>
<circle cx="557" cy="106.7" r="2.1" fill="#fff" stroke="#1a1a1a" stroke-width="1.15"/>
<circle cx="557" cy="114" r="2.1" fill="#fff" stroke="#1a1a1a" stroke-width="1.15"/>
<circle cx="553.8" cy="121.2" r="2.1" fill="#fff" stroke="#1a1a1a" stroke-width="1.15"/>
<circle cx="557.1" cy="123.4" r="2.1" fill="#fff" stroke="#1a1a1a" stroke-width="1.15"/>
<circle cx="558.4" cy="130.4" r="2.1" fill="#fff" stroke="#1a1a1a" stroke-width="1.15"/>
<circle cx="556.7" cy="137.5" r="2.1" fill="#fff" stroke="#1a1a1a" stroke-width="1.15"/>
<circle cx="562.8" cy="137.5" r="2.1" fill="#fff" stroke="#1a1a1a" stroke-width="1.15"/>
<circle cx="559.9" cy="140.1" r="2.1" fill="#fff" stroke="#1a1a1a" stroke-width="1.15"/>
<circle cx="554.1" cy="147" r="2.1" fill="#fff" stroke="#1a1a1a" stroke-width="1.15"/>
<circle cx="557" cy="149.6" r="2.1" fill="#fff" stroke="#1a1a1a" stroke-width="1.15"/>
<circle cx="548.3" cy="151.5" r="2.1" fill="#fff" stroke="#1a1a1a" stroke-width="1.15"/>
<circle cx="565.7" cy="151.8" r="2.1" fill="#fff" stroke="#1a1a1a" stroke-width="1.15"/>
<circle cx="551.2" cy="154.2" r="2.1" fill="#fff" stroke="#1a1a1a" stroke-width="1.15"/>
<circle cx="557" cy="154.2" r="2.1" fill="#fff" stroke="#1a1a1a" stroke-width="1.15"/>
<circle cx="554.1" cy="156.8" r="2.1" fill="#fff" stroke="#1a1a1a" stroke-width="1.15"/>
<circle cx="562.8" cy="156.8" r="2.1" fill="#fff" stroke="#1a1a1a" stroke-width="1.15"/>
<circle cx="565.7" cy="156.8" r="2.1" fill="#fff" stroke="#1a1a1a" stroke-width="1.15"/>
<circle cx="554.1" cy="161.5" r="2.1" fill="#fff" stroke="#1a1a1a" stroke-width="1.15"/>
<circle cx="559.9" cy="161.5" r="2.1" fill="#fff" stroke="#1a1a1a" stroke-width="1.15"/>
<circle cx="555.5" cy="170.7" r="2.1" fill="#fff" stroke="#1a1a1a" stroke-width="1.15"/>
<circle cx="558.4" cy="170.7" r="2.1" fill="#fff" stroke="#1a1a1a" stroke-width="1.15"/>
<circle cx="557" cy="177.9" r="2.1" fill="#fff" stroke="#1a1a1a" stroke-width="1.15"/>
<circle cx="589.5" cy="64.2" r="2.1" fill="#fff" stroke="#1a1a1a" stroke-width="1.15"/>
<circle cx="580.8" cy="109.2" r="2.1" fill="#fff" stroke="#1a1a1a" stroke-width="1.15"/>
<circle cx="589.5" cy="109.2" r="2.1" fill="#fff" stroke="#1a1a1a" stroke-width="1.15"/>
<circle cx="598.5" cy="109.2" r="2.1" fill="#fff" stroke="#1a1a1a" stroke-width="1.15"/>
<circle cx="580.8" cy="118.6" r="2.1" fill="#fff" stroke="#1a1a1a" stroke-width="1.15"/>
<circle cx="589.5" cy="118.6" r="2.1" fill="#fff" stroke="#1a1a1a" stroke-width="1.15"/>
<circle cx="598.5" cy="121.2" r="2.1" fill="#fff" stroke="#1a1a1a" stroke-width="1.15"/>
<circle cx="589.5" cy="123.4" r="2.1" fill="#fff" stroke="#1a1a1a" stroke-width="1.15"/>
<circle cx="585.3" cy="130.4" r="2.1" fill="#fff" stroke="#1a1a1a" stroke-width="1.15"/>
<circle cx="594" cy="130.4" r="2.1" fill="#fff" stroke="#1a1a1a" stroke-width="1.15"/>
<circle cx="585.3" cy="135" r="2.1" fill="#fff" stroke="#1a1a1a" stroke-width="1.15"/>
<circle cx="594" cy="137.5" r="2.1" fill="#fff" stroke="#1a1a1a" stroke-width="1.15"/>
<circle cx="585.3" cy="142.3" r="2.1" fill="#fff" stroke="#1a1a1a" stroke-width="1.15"/>
<circle cx="594" cy="142.3" r="2.1" fill="#fff" stroke="#1a1a1a" stroke-width="1.15"/>
<circle cx="589.5" cy="154.2" r="2.1" fill="#fff" stroke="#1a1a1a" stroke-width="1.15"/>
<circle cx="598.5" cy="154.2" r="2.1" fill="#fff" stroke="#1a1a1a" stroke-width="1.15"/>
<circle cx="580.8" cy="156.6" r="2.1" fill="#fff" stroke="#1a1a1a" stroke-width="1.15"/>
<circle cx="598.5" cy="159" r="2.1" fill="#fff" stroke="#1a1a1a" stroke-width="1.15"/>
<circle cx="589.5" cy="163.7" r="2.1" fill="#fff" stroke="#1a1a1a" stroke-width="1.15"/>
<circle cx="589.5" cy="173.3" r="2.1" fill="#fff" stroke="#1a1a1a" stroke-width="1.15"/>
<circle cx="622.4" cy="55.1" r="2.1" fill="#fff" stroke="#1a1a1a" stroke-width="1.15"/>
<circle cx="622.4" cy="78.6" r="2.1" fill="#fff" stroke="#1a1a1a" stroke-width="1.15"/>
<circle cx="622.4" cy="90.4" r="2.1" fill="#fff" stroke="#1a1a1a" stroke-width="1.15"/>
<circle cx="618.1" cy="109.2" r="2.1" fill="#fff" stroke="#1a1a1a" stroke-width="1.15"/>
<circle cx="626.8" cy="109.2" r="2.1" fill="#fff" stroke="#1a1a1a" stroke-width="1.15"/>
<circle cx="622.4" cy="116.4" r="2.1" fill="#fff" stroke="#1a1a1a" stroke-width="1.15"/>
<circle cx="618.1" cy="121.2" r="2.1" fill="#fff" stroke="#1a1a1a" stroke-width="1.15"/>
<circle cx="626.8" cy="121.2" r="2.1" fill="#fff" stroke="#1a1a1a" stroke-width="1.15"/>
<circle cx="622.4" cy="125.6" r="2.1" fill="#fff" stroke="#1a1a1a" stroke-width="1.15"/>
<circle cx="613.7" cy="128.5" r="2.1" fill="#fff" stroke="#1a1a1a" stroke-width="1.15"/>
<circle cx="631.1" cy="130.4" r="2.1" fill="#fff" stroke="#1a1a1a" stroke-width="1.15"/>
<circle cx="618.1" cy="140.1" r="2.1" fill="#fff" stroke="#1a1a1a" stroke-width="1.15"/>
<circle cx="626.8" cy="140.1" r="2.1" fill="#fff" stroke="#1a1a1a" stroke-width="1.15"/>
<circle cx="622.4" cy="144.9" r="2.1" fill="#fff" stroke="#1a1a1a" stroke-width="1.15"/>
<circle cx="613.7" cy="154.2" r="2.1" fill="#fff" stroke="#1a1a1a" stroke-width="1.15"/>
<circle cx="622.4" cy="151.8" r="2.1" fill="#fff" stroke="#1a1a1a" stroke-width="1.15"/>
<circle cx="622.4" cy="156.8" r="2.1" fill="#fff" stroke="#1a1a1a" stroke-width="1.15"/>
<circle cx="622.4" cy="163.7" r="2.1" fill="#fff" stroke="#1a1a1a" stroke-width="1.15"/>
<circle cx="613.7" cy="168.5" r="2.1" fill="#fff" stroke="#1a1a1a" stroke-width="1.15"/>
<circle cx="613.7" cy="173.3" r="2.1" fill="#fff" stroke="#1a1a1a" stroke-width="1.15"/>
<circle cx="622.4" cy="170.7" r="2.1" fill="#fff" stroke="#1a1a1a" stroke-width="1.15"/>
<circle cx="631.1" cy="170.7" r="2.1" fill="#fff" stroke="#1a1a1a" stroke-width="1.15"/>
<circle cx="655.1" cy="55.1" r="2.1" fill="#fff" stroke="#1a1a1a" stroke-width="1.15"/>
<circle cx="655.1" cy="99.7" r="2.1" fill="#fff" stroke="#1a1a1a" stroke-width="1.15"/>
<circle cx="652.2" cy="104.5" r="2.1" fill="#fff" stroke="#1a1a1a" stroke-width="1.15"/>
<circle cx="657.3" cy="104.5" r="2.1" fill="#fff" stroke="#1a1a1a" stroke-width="1.15"/>
<circle cx="655.1" cy="109.3" r="2.1" fill="#fff" stroke="#1a1a1a" stroke-width="1.15"/>
<circle cx="648.3" cy="121.2" r="2.1" fill="#fff" stroke="#1a1a1a" stroke-width="1.15"/>
<circle cx="652.9" cy="121.2" r="2.1" fill="#fff" stroke="#1a1a1a" stroke-width="1.15"/>
<circle cx="657.3" cy="121.2" r="2.1" fill="#fff" stroke="#1a1a1a" stroke-width="1.15"/>
<circle cx="661.6" cy="121.2" r="2.1" fill="#fff" stroke="#1a1a1a" stroke-width="1.15"/>
<circle cx="655.1" cy="137.7" r="2.1" fill="#fff" stroke="#1a1a1a" stroke-width="1.15"/>
<circle cx="659.5" cy="137.7" r="2.1" fill="#fff" stroke="#1a1a1a" stroke-width="1.15"/>
<circle cx="650.7" cy="140.1" r="2.1" fill="#fff" stroke="#1a1a1a" stroke-width="1.15"/>
<circle cx="663.8" cy="140.1" r="2.1" fill="#fff" stroke="#1a1a1a" stroke-width="1.15"/>
<circle cx="646.4" cy="142.3" r="2.1" fill="#fff" stroke="#1a1a1a" stroke-width="1.15"/>
<circle cx="655.1" cy="142.3" r="2.1" fill="#fff" stroke="#1a1a1a" stroke-width="1.15"/>
<circle cx="659.5" cy="142.3" r="2.1" fill="#fff" stroke="#1a1a1a" stroke-width="1.15"/>
<circle cx="646.4" cy="154.2" r="2.1" fill="#fff" stroke="#1a1a1a" stroke-width="1.15"/>
<circle cx="650.7" cy="154.2" r="2.1" fill="#fff" stroke="#1a1a1a" stroke-width="1.15"/>
<circle cx="663.8" cy="154.2" r="2.1" fill="#fff" stroke="#1a1a1a" stroke-width="1.15"/>
<circle cx="655.1" cy="156.8" r="2.1" fill="#fff" stroke="#1a1a1a" stroke-width="1.15"/>
<circle cx="659.5" cy="156.8" r="2.1" fill="#fff" stroke="#1a1a1a" stroke-width="1.15"/>
<circle cx="655.1" cy="168.5" r="2.1" fill="#fff" stroke="#1a1a1a" stroke-width="1.15"/>
<path d="M535.4,44.7 L535.4,187.3 L678,187.3" fill="none" stroke="#1a1a1a" stroke-width="1.3"/>
<line x1="529" y1="187.30" x2="535.4" y2="187.30" stroke="#1a1a1a" stroke-width="1.3"/>
<text x="527.50" y="191.60" font-size="12.2" text-anchor="end" fill="#1a1a1a" stroke="#1a1a1a" stroke-width="0.22" >0</text>
<line x1="529" y1="139.70" x2="535.4" y2="139.70" stroke="#1a1a1a" stroke-width="1.3"/>
<text x="527.50" y="144.00" font-size="12.2" text-anchor="end" fill="#1a1a1a" stroke="#1a1a1a" stroke-width="0.22" >20</text>
<line x1="529" y1="92.10" x2="535.4" y2="92.10" stroke="#1a1a1a" stroke-width="1.3"/>
<text x="527.50" y="96.40" font-size="12.2" text-anchor="end" fill="#1a1a1a" stroke="#1a1a1a" stroke-width="0.22" >40</text>
<line x1="529" y1="44.50" x2="535.4" y2="44.50" stroke="#1a1a1a" stroke-width="1.3"/>
<text x="527.50" y="48.80" font-size="12.2" text-anchor="end" fill="#1a1a1a" stroke="#1a1a1a" stroke-width="0.22" >60</text>
<line x1="557.0" y1="187.3" x2="557.0" y2="192" stroke="#1a1a1a" stroke-width="1.3"/>
<line x1="589.7" y1="187.3" x2="589.7" y2="192" stroke="#1a1a1a" stroke-width="1.3"/>
<line x1="622.4" y1="187.3" x2="622.4" y2="192" stroke="#1a1a1a" stroke-width="1.3"/>
<line x1="655.0" y1="187.3" x2="655.0" y2="192" stroke="#1a1a1a" stroke-width="1.3"/>
<text x="571.40" y="206.30" font-size="12.3" text-anchor="middle" fill="#1a1a1a" stroke="#1a1a1a" stroke-width="0.22" >Organoids</text>
<text x="641.30" y="206.30" font-size="12.3" text-anchor="middle" fill="#1a1a1a" stroke="#1a1a1a" stroke-width="0.22" >Tumoroids</text>
<text x="0.00" y="0.00" font-size="12.2" text-anchor="middle" fill="#1a1a1a" stroke="#1a1a1a" stroke-width="0.22" transform="translate(506.3,119.4) rotate(-90)">Propagation time (days)</text>
<line x1="558.9" y1="44.7" x2="588.8" y2="44.7" stroke="#1a1a1a" stroke-width="1.2"/>
<text x="573.85" y="41.30" font-size="12.2" text-anchor="middle" fill="#1a1a1a" stroke="#1a1a1a" stroke-width="0.22" >NS</text>
<line x1="624.4" y1="44.7" x2="654.2" y2="44.7" stroke="#1a1a1a" stroke-width="1.2"/>
<text x="639.30" y="41.30" font-size="12.2" text-anchor="middle" fill="#1a1a1a" stroke="#1a1a1a" stroke-width="0.22" >NS</text>
<rect x="527" y="223.6" width="13.8" height="7.2" fill="#f5a04a"/>
<text x="551.00" y="231.30" font-size="12.2" text-anchor="start" fill="#1a1a1a" stroke="#1a1a1a" stroke-width="0.22" >Dome</text>
<rect x="591.3" y="223.6" width="12.9" height="7.2" fill="#6797d0"/>
<text x="614.00" y="231.30" font-size="12.2" text-anchor="start" fill="#1a1a1a" stroke="#1a1a1a" stroke-width="0.22" >Suspension</text>
<line x1="58.90" y1="311.10" x2="58.90" y2="521.00" stroke="#d4d4d4" stroke-width="0.8"/>
<text x="58.90" y="309.60" font-size="4.95" text-anchor="middle" fill="#666666" >0</text>
<line x1="68.68" y1="311.10" x2="68.68" y2="521.00" stroke="#d4d4d4" stroke-width="0.8"/>
<text x="68.68" y="309.60" font-size="4.95" text-anchor="middle" fill="#666666" >10</text>
<line x1="78.47" y1="311.10" x2="78.47" y2="521.00" stroke="#d4d4d4" stroke-width="0.8"/>
<text x="78.47" y="309.60" font-size="4.95" text-anchor="middle" fill="#666666" >20</text>
<line x1="88.25" y1="311.10" x2="88.25" y2="521.00" stroke="#d4d4d4" stroke-width="0.8"/>
<text x="88.25" y="309.60" font-size="4.95" text-anchor="middle" fill="#666666" >30</text>
<line x1="98.03" y1="311.10" x2="98.03" y2="521.00" stroke="#d4d4d4" stroke-width="0.8"/>
<text x="98.03" y="309.60" font-size="4.95" text-anchor="middle" fill="#666666" >40</text>
<line x1="107.82" y1="311.10" x2="107.82" y2="521.00" stroke="#d4d4d4" stroke-width="0.8"/>
<text x="107.82" y="309.60" font-size="4.95" text-anchor="middle" fill="#666666" >50</text>
<line x1="117.60" y1="311.10" x2="117.60" y2="521.00" stroke="#d4d4d4" stroke-width="0.8"/>
<text x="117.60" y="309.60" font-size="4.95" text-anchor="middle" fill="#666666" >60</text>
<text x="54.70" y="315.90" font-size="4.95" text-anchor="end" fill="#666666" >WCB118</text>
<rect x="58.90" y="313.30" width="55.90" height="2.2" fill="#3d65b0"/>
<text x="54.70" y="321.26" font-size="4.95" text-anchor="end" fill="#666666" >WCB067</text>
<rect x="58.90" y="318.66" width="33.10" height="2.2" fill="#3d65b0"/>
<text x="54.70" y="326.62" font-size="4.95" text-anchor="end" fill="#666666" >WCB089</text>
<rect x="58.90" y="324.02" width="26.90" height="2.2" fill="#3d65b0"/>
<text x="54.70" y="331.97" font-size="4.95" text-anchor="end" fill="#666666" >WCB075</text>
<rect x="58.90" y="329.37" width="23.10" height="2.2" fill="#3d65b0"/>
<text x="54.70" y="337.33" font-size="4.95" text-anchor="end" fill="#666666" >WCB087</text>
<rect x="58.90" y="334.73" width="20.10" height="2.2" fill="#3d65b0"/>
<text x="54.70" y="342.69" font-size="4.95" text-anchor="end" fill="#666666" >WCB073</text>
<rect x="58.90" y="340.09" width="20.10" height="2.2" fill="#3d65b0"/>
<text x="54.70" y="348.05" font-size="4.95" text-anchor="end" fill="#666666" >WCB065</text>
<rect x="58.90" y="345.45" width="19.20" height="2.2" fill="#3d65b0"/>
<text x="54.70" y="353.41" font-size="4.95" text-anchor="end" fill="#666666" >WCB070</text>
<rect x="58.90" y="350.81" width="16.30" height="2.2" fill="#3d65b0"/>
<text x="54.70" y="358.76" font-size="4.95" text-anchor="end" fill="#666666" >WCB076</text>
<rect x="58.90" y="356.16" width="15.20" height="2.2" fill="#3d65b0"/>
<text x="54.70" y="364.12" font-size="4.95" text-anchor="end" fill="#666666" >WCB095</text>
<rect x="58.90" y="361.52" width="14.30" height="2.2" fill="#3d65b0"/>
<text x="54.70" y="369.48" font-size="4.95" text-anchor="end" fill="#666666" >WCB064</text>
<rect x="58.90" y="366.88" width="14.30" height="2.2" fill="#3d65b0"/>
<text x="54.70" y="374.84" font-size="4.95" text-anchor="end" fill="#666666" >WCB098</text>
<rect x="58.90" y="372.24" width="13.30" height="2.2" fill="#3d65b0"/>
<text x="54.70" y="380.19" font-size="4.95" text-anchor="end" fill="#666666" >WCB096</text>
<rect x="58.90" y="377.59" width="12.20" height="2.2" fill="#3d65b0"/>
<text x="54.70" y="385.55" font-size="4.95" text-anchor="end" fill="#666666" >WCB079</text>
<rect x="58.90" y="382.95" width="12.20" height="2.2" fill="#3d65b0"/>
<text x="54.70" y="390.91" font-size="4.95" text-anchor="end" fill="#666666" >WCB077</text>
<rect x="58.90" y="388.31" width="10.30" height="2.2" fill="#3d65b0"/>
<text x="54.70" y="396.27" font-size="4.95" text-anchor="end" fill="#666666" >WCB062</text>
<rect x="58.90" y="393.67" width="3.30" height="2.2" fill="#3d65b0"/>
<text x="54.70" y="401.63" font-size="4.95" text-anchor="end" fill="#666666" >WCB120</text>
<text x="54.70" y="406.98" font-size="4.95" text-anchor="end" fill="#666666" >WCB119</text>
<text x="54.70" y="412.34" font-size="4.95" text-anchor="end" fill="#666666" >WCB106</text>
<rect x="58.90" y="409.74" width="37.10" height="2.2" fill="#f0931f"/>
<text x="54.70" y="417.70" font-size="4.95" text-anchor="end" fill="#666666" >WCB111</text>
<rect x="58.90" y="415.10" width="34.00" height="2.2" fill="#f0931f"/>
<text x="54.70" y="423.06" font-size="4.95" text-anchor="end" fill="#666666" >WCB110</text>
<rect x="58.90" y="420.46" width="23.10" height="2.2" fill="#f0931f"/>
<text x="54.70" y="428.42" font-size="4.95" text-anchor="end" fill="#666666" >WCB101</text>
<rect x="58.90" y="425.82" width="20.10" height="2.2" fill="#f0931f"/>
<text x="54.70" y="433.77" font-size="4.95" text-anchor="end" fill="#666666" >WCB100</text>
<rect x="58.90" y="431.17" width="20.10" height="2.2" fill="#f0931f"/>
<text x="54.70" y="439.13" font-size="4.95" text-anchor="end" fill="#666666" >WCB115</text>
<rect x="58.90" y="436.53" width="18.20" height="2.2" fill="#f0931f"/>
<text x="54.70" y="444.49" font-size="4.95" text-anchor="end" fill="#666666" >WCB112</text>
<rect x="58.90" y="441.89" width="17.10" height="2.2" fill="#f0931f"/>
<text x="54.70" y="449.85" font-size="4.95" text-anchor="end" fill="#666666" >WCB104</text>
<rect x="58.90" y="447.25" width="17.10" height="2.2" fill="#f0931f"/>
<text x="54.70" y="455.21" font-size="4.95" text-anchor="end" fill="#666666" >WCB103</text>
<rect x="58.90" y="452.61" width="13.30" height="2.2" fill="#f0931f"/>
<text x="54.70" y="460.56" font-size="4.95" text-anchor="end" fill="#666666" >WCB093</text>
<rect x="58.90" y="457.96" width="13.30" height="2.2" fill="#f0931f"/>
<text x="54.70" y="465.92" font-size="4.95" text-anchor="end" fill="#666666" >WCB116</text>
<rect x="58.90" y="463.32" width="12.20" height="2.2" fill="#f0931f"/>
<text x="54.70" y="471.28" font-size="4.95" text-anchor="end" fill="#666666" >WCB078</text>
<rect x="58.90" y="468.68" width="12.20" height="2.2" fill="#f0931f"/>
<text x="54.70" y="476.64" font-size="4.95" text-anchor="end" fill="#666666" >WCB088</text>
<rect x="58.90" y="474.04" width="10.30" height="2.2" fill="#f0931f"/>
<text x="54.70" y="481.99" font-size="4.95" text-anchor="end" fill="#666666" >WCB124</text>
<rect x="58.90" y="479.39" width="9.30" height="2.2" fill="#f0931f"/>
<text x="54.70" y="487.35" font-size="4.95" text-anchor="end" fill="#666666" >WCB084</text>
<rect x="58.90" y="484.75" width="6.30" height="2.2" fill="#f0931f"/>
<text x="54.70" y="492.71" font-size="4.95" text-anchor="end" fill="#666666" >WCB080</text>
<rect x="58.90" y="490.11" width="6.30" height="2.2" fill="#f0931f"/>
<text x="54.70" y="498.07" font-size="4.95" text-anchor="end" fill="#666666" >WCB068</text>
<rect x="58.90" y="495.47" width="45.00" height="2.2" fill="#e01f2b"/>
<text x="54.70" y="503.43" font-size="4.95" text-anchor="end" fill="#666666" >WCB072</text>
<rect x="58.90" y="500.83" width="30.10" height="2.2" fill="#e01f2b"/>
<text x="54.70" y="508.78" font-size="4.95" text-anchor="end" fill="#666666" >WCB107</text>
<rect x="58.90" y="506.18" width="26.10" height="2.2" fill="#e01f2b"/>
<text x="54.70" y="514.14" font-size="4.95" text-anchor="end" fill="#666666" >WCB063</text>
<rect x="58.90" y="511.54" width="26.10" height="2.2" fill="#e01f2b"/>
<text x="54.70" y="519.50" font-size="4.95" text-anchor="end" fill="#666666" >WCB071</text>
<rect x="58.90" y="516.90" width="14.10" height="2.2" fill="#e01f2b"/>
<line x1="165.00" y1="311.40" x2="165.00" y2="521.00" stroke="#d4d4d4" stroke-width="0.8"/>
<text x="165.00" y="309.90" font-size="4.95" text-anchor="middle" fill="#666666" >0</text>
<line x1="175.03" y1="311.40" x2="175.03" y2="521.00" stroke="#d4d4d4" stroke-width="0.8"/>
<text x="175.03" y="309.90" font-size="4.95" text-anchor="middle" fill="#666666" >10</text>
<line x1="185.07" y1="311.40" x2="185.07" y2="521.00" stroke="#d4d4d4" stroke-width="0.8"/>
<text x="185.07" y="309.90" font-size="4.95" text-anchor="middle" fill="#666666" >20</text>
<line x1="195.10" y1="311.40" x2="195.10" y2="521.00" stroke="#d4d4d4" stroke-width="0.8"/>
<text x="195.10" y="309.90" font-size="4.95" text-anchor="middle" fill="#666666" >30</text>
<line x1="205.13" y1="311.40" x2="205.13" y2="521.00" stroke="#d4d4d4" stroke-width="0.8"/>
<text x="205.13" y="309.90" font-size="4.95" text-anchor="middle" fill="#666666" >40</text>
<line x1="215.17" y1="311.40" x2="215.17" y2="521.00" stroke="#d4d4d4" stroke-width="0.8"/>
<text x="215.17" y="309.90" font-size="4.95" text-anchor="middle" fill="#666666" >50</text>
<line x1="225.20" y1="311.40" x2="225.20" y2="521.00" stroke="#d4d4d4" stroke-width="0.8"/>
<text x="225.20" y="309.90" font-size="4.95" text-anchor="middle" fill="#666666" >60</text>
<text x="162.20" y="317.60" font-size="4.95" text-anchor="end" fill="#666666" >WCB141</text>
<rect x="165.00" y="314.60" width="51.30" height="3.0" fill="#3d65b0"/>
<text x="162.20" y="326.75" font-size="4.95" text-anchor="end" fill="#666666" >WCB134</text>
<rect x="165.00" y="323.75" width="32.70" height="3.0" fill="#3d65b0"/>
<text x="162.20" y="335.91" font-size="4.95" text-anchor="end" fill="#666666" >WCB133</text>
<rect x="165.00" y="332.91" width="32.70" height="3.0" fill="#3d65b0"/>
<text x="162.20" y="345.06" font-size="4.95" text-anchor="end" fill="#666666" >WCB130</text>
<rect x="165.00" y="342.06" width="32.70" height="3.0" fill="#3d65b0"/>
<text x="162.20" y="354.22" font-size="4.95" text-anchor="end" fill="#666666" >WCB158</text>
<rect x="165.00" y="351.22" width="28.50" height="3.0" fill="#3d65b0"/>
<text x="162.20" y="363.37" font-size="4.95" text-anchor="end" fill="#666666" >WCB140</text>
<rect x="165.00" y="360.37" width="23.80" height="3.0" fill="#3d65b0"/>
<text x="162.20" y="372.53" font-size="4.95" text-anchor="end" fill="#666666" >WCB127</text>
<rect x="165.00" y="369.53" width="23.80" height="3.0" fill="#3d65b0"/>
<text x="162.20" y="381.68" font-size="4.95" text-anchor="end" fill="#666666" >WCB152</text>
<rect x="165.00" y="378.68" width="21.70" height="3.0" fill="#3d65b0"/>
<text x="162.20" y="390.84" font-size="4.95" text-anchor="end" fill="#666666" >WCB163</text>
<rect x="165.00" y="387.84" width="20.70" height="3.0" fill="#3d65b0"/>
<text x="162.20" y="399.99" font-size="4.95" text-anchor="end" fill="#666666" >WCB166</text>
<rect x="165.00" y="396.99" width="18.80" height="3.0" fill="#3d65b0"/>
<text x="162.20" y="409.15" font-size="4.95" text-anchor="end" fill="#666666" >WCB139</text>
<rect x="165.00" y="406.15" width="18.80" height="3.0" fill="#3d65b0"/>
<text x="162.20" y="418.30" font-size="4.95" text-anchor="end" fill="#666666" >WCB137</text>
<rect x="165.00" y="415.30" width="11.80" height="3.0" fill="#3d65b0"/>
<text x="162.20" y="427.45" font-size="4.95" text-anchor="end" fill="#666666" >WCB125</text>
<rect x="165.00" y="424.45" width="9.90" height="3.0" fill="#3d65b0"/>
<text x="162.20" y="436.61" font-size="4.95" text-anchor="end" fill="#666666" >WCB136</text>
<text x="162.20" y="445.76" font-size="4.95" text-anchor="end" fill="#666666" >WCB131</text>
<text x="162.20" y="454.92" font-size="4.95" text-anchor="end" fill="#666666" >WCB168</text>
<rect x="165.00" y="451.92" width="27.70" height="3.0" fill="#f0931f"/>
<text x="162.20" y="464.07" font-size="4.95" text-anchor="end" fill="#666666" >WCB169</text>
<rect x="165.00" y="461.07" width="13.90" height="3.0" fill="#f0931f"/>
<text x="162.20" y="473.23" font-size="4.95" text-anchor="end" fill="#666666" >WCB143</text>
<rect x="165.00" y="470.23" width="13.90" height="3.0" fill="#f0931f"/>
<text x="162.20" y="482.38" font-size="4.95" text-anchor="end" fill="#666666" >WCB162</text>
<rect x="165.00" y="479.38" width="12.90" height="3.0" fill="#f0931f"/>
<text x="162.20" y="491.54" font-size="4.95" text-anchor="end" fill="#666666" >WCB135</text>
<rect x="165.00" y="488.54" width="5.90" height="3.0" fill="#f0931f"/>
<text x="162.20" y="500.69" font-size="4.95" text-anchor="end" fill="#666666" >WCB145</text>
<text x="162.20" y="509.85" font-size="4.95" text-anchor="end" fill="#666666" >WCB157</text>
<rect x="165.00" y="506.85" width="28.70" height="3.0" fill="#e01f2b"/>
<text x="162.20" y="519.00" font-size="4.95" text-anchor="end" fill="#666666" >WCB155</text>
<rect x="165.00" y="516.00" width="26.80" height="3.0" fill="#e01f2b"/>
<line x1="278.80" y1="312.50" x2="278.80" y2="522.40" stroke="#d4d4d4" stroke-width="0.8"/>
<text x="278.80" y="311.00" font-size="4.95" text-anchor="middle" fill="#666666" >0</text>
<line x1="288.55" y1="312.50" x2="288.55" y2="522.40" stroke="#d4d4d4" stroke-width="0.8"/>
<text x="288.55" y="311.00" font-size="4.95" text-anchor="middle" fill="#666666" >10</text>
<line x1="298.30" y1="312.50" x2="298.30" y2="522.40" stroke="#d4d4d4" stroke-width="0.8"/>
<text x="298.30" y="311.00" font-size="4.95" text-anchor="middle" fill="#666666" >20</text>
<line x1="308.05" y1="312.50" x2="308.05" y2="522.40" stroke="#d4d4d4" stroke-width="0.8"/>
<text x="308.05" y="311.00" font-size="4.95" text-anchor="middle" fill="#666666" >30</text>
<line x1="317.80" y1="312.50" x2="317.80" y2="522.40" stroke="#d4d4d4" stroke-width="0.8"/>
<text x="317.80" y="311.00" font-size="4.95" text-anchor="middle" fill="#666666" >40</text>
<line x1="327.55" y1="312.50" x2="327.55" y2="522.40" stroke="#d4d4d4" stroke-width="0.8"/>
<text x="327.55" y="311.00" font-size="4.95" text-anchor="middle" fill="#666666" >50</text>
<line x1="337.30" y1="312.50" x2="337.30" y2="522.40" stroke="#d4d4d4" stroke-width="0.8"/>
<text x="337.30" y="311.00" font-size="4.95" text-anchor="middle" fill="#666666" >60</text>
<text x="278.50" y="319.00" font-size="4.95" text-anchor="end" fill="#666666" >WCB047</text>
<rect x="278.80" y="316.20" width="44.60" height="2.6" fill="#3d65b0"/>
<text x="278.50" y="328.49" font-size="4.95" text-anchor="end" fill="#666666" >WCB126</text>
<rect x="278.80" y="325.69" width="31.90" height="2.6" fill="#3d65b0"/>
<text x="278.50" y="337.98" font-size="4.95" text-anchor="end" fill="#666666" >WCB066</text>
<rect x="278.80" y="335.18" width="27.00" height="2.6" fill="#3d65b0"/>
<text x="278.50" y="347.47" font-size="4.95" text-anchor="end" fill="#666666" >WCB118</text>
<rect x="278.80" y="344.67" width="24.90" height="2.6" fill="#3d65b0"/>
<text x="278.50" y="356.96" font-size="4.95" text-anchor="end" fill="#666666" >WCB062</text>
<rect x="278.80" y="354.16" width="24.00" height="2.6" fill="#3d65b0"/>
<text x="278.50" y="366.45" font-size="4.95" text-anchor="end" fill="#666666" >WCB127</text>
<rect x="278.80" y="363.65" width="23.00" height="2.6" fill="#3d65b0"/>
<text x="278.50" y="375.94" font-size="4.95" text-anchor="end" fill="#666666" >WCB059</text>
<rect x="278.80" y="373.14" width="19.10" height="2.6" fill="#3d65b0"/>
<text x="278.50" y="385.43" font-size="4.95" text-anchor="end" fill="#666666" >WCB067</text>
<rect x="278.80" y="382.63" width="13.20" height="2.6" fill="#3d65b0"/>
<text x="278.50" y="394.92" font-size="4.95" text-anchor="end" fill="#666666" >WCB079</text>
<rect x="278.80" y="392.12" width="12.10" height="2.6" fill="#3d65b0"/>
<text x="278.50" y="404.41" font-size="4.95" text-anchor="end" fill="#666666" >WCB090</text>
<rect x="278.80" y="401.61" width="5.20" height="2.6" fill="#3d65b0"/>
<text x="278.50" y="413.90" font-size="4.95" text-anchor="end" fill="#666666" >WCB119</text>
<text x="278.50" y="423.40" font-size="4.95" text-anchor="end" fill="#666666" >WCB086</text>
<rect x="278.80" y="420.60" width="39.80" height="2.6" fill="#f0931f"/>
<text x="278.50" y="432.89" font-size="4.95" text-anchor="end" fill="#666666" >WCB124</text>
<rect x="278.80" y="430.09" width="31.90" height="2.6" fill="#f0931f"/>
<text x="278.50" y="442.38" font-size="4.95" text-anchor="end" fill="#666666" >WCB053</text>
<rect x="278.80" y="439.58" width="29.00" height="2.6" fill="#f0931f"/>
<text x="278.50" y="451.87" font-size="4.95" text-anchor="end" fill="#666666" >WCB117</text>
<rect x="278.80" y="449.07" width="17.20" height="2.6" fill="#f0931f"/>
<text x="278.50" y="461.36" font-size="4.95" text-anchor="end" fill="#666666" >WCB085</text>
<rect x="278.80" y="458.56" width="14.20" height="2.6" fill="#f0931f"/>
<text x="278.50" y="470.85" font-size="4.95" text-anchor="end" fill="#666666" >WCB051</text>
<rect x="278.80" y="468.05" width="7.30" height="2.6" fill="#f0931f"/>
<text x="278.50" y="480.34" font-size="4.95" text-anchor="end" fill="#666666" >WCB052</text>
<rect x="278.80" y="477.54" width="6.20" height="2.6" fill="#f0931f"/>
<text x="278.50" y="489.83" font-size="4.95" text-anchor="end" fill="#666666" >WCB094</text>
<rect x="278.80" y="487.03" width="6.20" height="2.6" fill="#f0931f"/>
<text x="278.50" y="499.32" font-size="4.95" text-anchor="end" fill="#666666" >WCB056</text>
<text x="278.50" y="508.81" font-size="4.95" text-anchor="end" fill="#666666" >WCB060</text>
<rect x="278.80" y="506.01" width="27.10" height="2.6" fill="#e01f2b"/>
<text x="278.50" y="518.30" font-size="4.95" text-anchor="end" fill="#666666" >WCB068</text>
<line x1="388.80" y1="311.50" x2="388.80" y2="522.40" stroke="#d4d4d4" stroke-width="0.8"/>
<text x="388.80" y="310.00" font-size="4.95" text-anchor="middle" fill="#666666" >0</text>
<line x1="398.60" y1="311.50" x2="398.60" y2="522.40" stroke="#d4d4d4" stroke-width="0.8"/>
<text x="398.60" y="310.00" font-size="4.95" text-anchor="middle" fill="#666666" >10</text>
<line x1="408.40" y1="311.50" x2="408.40" y2="522.40" stroke="#d4d4d4" stroke-width="0.8"/>
<text x="408.40" y="310.00" font-size="4.95" text-anchor="middle" fill="#666666" >20</text>
<line x1="418.20" y1="311.50" x2="418.20" y2="522.40" stroke="#d4d4d4" stroke-width="0.8"/>
<text x="418.20" y="310.00" font-size="4.95" text-anchor="middle" fill="#666666" >30</text>
<line x1="428.00" y1="311.50" x2="428.00" y2="522.40" stroke="#d4d4d4" stroke-width="0.8"/>
<text x="431.00" y="310.00" font-size="4.95" text-anchor="middle" fill="#666666" >40</text>
<line x1="437.80" y1="311.50" x2="437.80" y2="522.40" stroke="#d4d4d4" stroke-width="0.8"/>
<text x="440.80" y="310.00" font-size="4.95" text-anchor="middle" fill="#666666" >50</text>
<line x1="447.60" y1="311.50" x2="447.60" y2="522.40" stroke="#d4d4d4" stroke-width="0.8"/>
<text x="450.60" y="310.00" font-size="4.95" text-anchor="middle" fill="#666666" >60</text>
<text x="385.50" y="319.00" font-size="4.95" text-anchor="end" fill="#666666" >WCB136</text>
<rect x="388.80" y="316.20" width="31.90" height="2.6" fill="#3d65b0"/>
<text x="385.50" y="327.93" font-size="4.95" text-anchor="end" fill="#666666" >WCB187</text>
<rect x="388.80" y="325.13" width="27.10" height="2.6" fill="#3d65b0"/>
<text x="385.50" y="336.85" font-size="4.95" text-anchor="end" fill="#666666" >WCB177</text>
<rect x="388.80" y="334.05" width="27.10" height="2.6" fill="#3d65b0"/>
<text x="385.50" y="345.78" font-size="4.95" text-anchor="end" fill="#666666" >WCB141</text>
<rect x="388.80" y="342.98" width="27.10" height="2.6" fill="#3d65b0"/>
<text x="385.50" y="354.71" font-size="4.95" text-anchor="end" fill="#666666" >WCB189</text>
<rect x="388.80" y="351.91" width="13.30" height="2.6" fill="#3d65b0"/>
<text x="385.50" y="363.64" font-size="4.95" text-anchor="end" fill="#666666" >WCB139</text>
<rect x="388.80" y="360.84" width="12.30" height="2.6" fill="#3d65b0"/>
<text x="385.50" y="372.56" font-size="4.95" text-anchor="end" fill="#666666" >WCB152</text>
<rect x="388.80" y="369.76" width="7.20" height="2.6" fill="#3d65b0"/>
<text x="385.50" y="381.49" font-size="4.95" text-anchor="end" fill="#666666" >WCB163</text>
<text x="385.50" y="390.42" font-size="4.95" text-anchor="end" fill="#666666" >WCB179</text>
<text x="385.50" y="399.35" font-size="4.95" text-anchor="end" fill="#666666" >WCB132</text>
<text x="385.50" y="408.27" font-size="4.95" text-anchor="end" fill="#666666" >WCB146</text>
<text x="385.50" y="417.20" font-size="4.95" text-anchor="end" fill="#666666" >WCB181</text>
<rect x="388.80" y="414.40" width="54.70" height="2.6" fill="#f0931f"/>
<text x="385.50" y="426.13" font-size="4.95" text-anchor="end" fill="#666666" >WCB143</text>
<rect x="388.80" y="423.33" width="36.00" height="2.6" fill="#f0931f"/>
<text x="385.50" y="435.05" font-size="4.95" text-anchor="end" fill="#666666" >WCB168</text>
<rect x="388.80" y="432.25" width="20.10" height="2.6" fill="#f0931f"/>
<text x="385.50" y="443.98" font-size="4.95" text-anchor="end" fill="#666666" >WCB135</text>
<rect x="388.80" y="441.18" width="20.10" height="2.6" fill="#f0931f"/>
<text x="385.50" y="452.91" font-size="4.95" text-anchor="end" fill="#666666" >WCB162</text>
<rect x="388.80" y="450.11" width="18.20" height="2.6" fill="#f0931f"/>
<text x="385.50" y="461.84" font-size="4.95" text-anchor="end" fill="#666666" >WCB164</text>
<rect x="388.80" y="459.04" width="13.30" height="2.6" fill="#f0931f"/>
<text x="385.50" y="470.76" font-size="4.95" text-anchor="end" fill="#666666" >WCB169</text>
<rect x="388.80" y="467.96" width="13.30" height="2.6" fill="#f0931f"/>
<text x="385.50" y="479.69" font-size="4.95" text-anchor="end" fill="#666666" >WCB176</text>
<text x="385.50" y="488.62" font-size="4.95" text-anchor="end" fill="#666666" >WCB188</text>
<text x="385.50" y="497.55" font-size="4.95" text-anchor="end" fill="#666666" >WCB161</text>
<text x="385.50" y="506.47" font-size="4.95" text-anchor="end" fill="#666666" >WCB155</text>
<rect x="388.80" y="503.67" width="19.20" height="2.6" fill="#e01f2b"/>
<text x="385.50" y="515.40" font-size="4.95" text-anchor="end" fill="#666666" >WCB157</text>
<rect x="388.80" y="512.60" width="12.30" height="2.6" fill="#e01f2b"/>
<line x1="504.90" y1="311.00" x2="504.90" y2="521.00" stroke="#d4d4d4" stroke-width="0.8"/>
<text x="504.90" y="309.50" font-size="4.95" text-anchor="middle" fill="#666666" >0</text>
<line x1="514.63" y1="311.00" x2="514.63" y2="521.00" stroke="#d4d4d4" stroke-width="0.8"/>
<text x="514.63" y="309.50" font-size="4.95" text-anchor="middle" fill="#666666" >10</text>
<line x1="524.37" y1="311.00" x2="524.37" y2="521.00" stroke="#d4d4d4" stroke-width="0.8"/>
<text x="524.37" y="309.50" font-size="4.95" text-anchor="middle" fill="#666666" >20</text>
<line x1="534.10" y1="311.00" x2="534.10" y2="521.00" stroke="#d4d4d4" stroke-width="0.8"/>
<text x="534.10" y="309.50" font-size="4.95" text-anchor="middle" fill="#666666" >30</text>
<line x1="543.83" y1="311.00" x2="543.83" y2="521.00" stroke="#d4d4d4" stroke-width="0.8"/>
<text x="543.83" y="309.50" font-size="4.95" text-anchor="middle" fill="#666666" >40</text>
<line x1="553.57" y1="311.00" x2="553.57" y2="521.00" stroke="#d4d4d4" stroke-width="0.8"/>
<text x="553.57" y="309.50" font-size="4.95" text-anchor="middle" fill="#666666" >50</text>
<line x1="563.30" y1="311.00" x2="563.30" y2="521.00" stroke="#d4d4d4" stroke-width="0.8"/>
<text x="563.30" y="309.50" font-size="4.95" text-anchor="middle" fill="#666666" >60</text>
<text x="502.00" y="317.90" font-size="4.95" text-anchor="end" fill="#666666" >WCB118</text>
<rect x="504.90" y="315.15" width="25.30" height="2.5" fill="#22a94b"/>
<text x="502.00" y="326.27" font-size="4.95" text-anchor="end" fill="#666666" >WCB086</text>
<rect x="504.90" y="323.52" width="14.30" height="2.5" fill="#22a94b"/>
<text x="502.00" y="334.64" font-size="4.95" text-anchor="end" fill="#666666" >WCB047</text>
<rect x="504.90" y="331.89" width="45.00" height="2.5" fill="#3d65b0"/>
<text x="502.00" y="343.01" font-size="4.95" text-anchor="end" fill="#666666" >WCB088</text>
<rect x="504.90" y="340.26" width="39.90" height="2.5" fill="#3d65b0"/>
<text x="502.00" y="351.38" font-size="4.95" text-anchor="end" fill="#666666" >WCB125</text>
<rect x="504.90" y="348.63" width="32.00" height="2.5" fill="#3d65b0"/>
<text x="502.00" y="359.75" font-size="4.95" text-anchor="end" fill="#666666" >WCB124</text>
<rect x="504.90" y="357.00" width="32.00" height="2.5" fill="#3d65b0"/>
<text x="502.00" y="368.12" font-size="4.95" text-anchor="end" fill="#666666" >WCB066</text>
<rect x="504.90" y="365.38" width="27.00" height="2.5" fill="#3d65b0"/>
<text x="502.00" y="376.50" font-size="4.95" text-anchor="end" fill="#666666" >WCB127</text>
<rect x="504.90" y="373.75" width="23.10" height="2.5" fill="#3d65b0"/>
<text x="502.00" y="384.87" font-size="4.95" text-anchor="end" fill="#666666" >WCB051</text>
<rect x="504.90" y="382.12" width="7.60" height="2.5" fill="#3d65b0"/>
<text x="502.00" y="393.24" font-size="4.95" text-anchor="end" fill="#666666" >WCB068</text>
<text x="502.00" y="401.61" font-size="4.95" text-anchor="end" fill="#666666" >WCB053</text>
<rect x="504.90" y="398.86" width="29.10" height="2.5" fill="#3b93d1"/>
<text x="502.00" y="409.98" font-size="4.95" text-anchor="end" fill="#666666" >WCB063</text>
<rect x="504.90" y="407.23" width="27.00" height="2.5" fill="#3b93d1"/>
<text x="502.00" y="418.35" font-size="4.95" text-anchor="end" fill="#666666" >WCB062</text>
<rect x="504.90" y="415.60" width="24.10" height="2.5" fill="#3b93d1"/>
<text x="502.00" y="426.72" font-size="4.95" text-anchor="end" fill="#666666" >WCB059</text>
<rect x="504.90" y="423.97" width="19.40" height="2.5" fill="#3b93d1"/>
<text x="502.00" y="435.09" font-size="4.95" text-anchor="end" fill="#666666" >WCB117</text>
<rect x="504.90" y="432.34" width="17.40" height="2.5" fill="#3b93d1"/>
<text x="502.00" y="443.46" font-size="4.95" text-anchor="end" fill="#666666" >WCB067</text>
<rect x="504.90" y="440.71" width="13.60" height="2.5" fill="#3b93d1"/>
<text x="502.00" y="451.83" font-size="4.95" text-anchor="end" fill="#666666" >WCB079</text>
<rect x="504.90" y="449.08" width="12.40" height="2.5" fill="#3b93d1"/>
<text x="502.00" y="460.20" font-size="4.95" text-anchor="end" fill="#666666" >WCB052</text>
<rect x="504.90" y="457.45" width="6.60" height="2.5" fill="#3b93d1"/>
<text x="502.00" y="468.57" font-size="4.95" text-anchor="end" fill="#666666" >WCB094</text>
<rect x="504.90" y="465.82" width="6.60" height="2.5" fill="#3b93d1"/>
<text x="502.00" y="476.95" font-size="4.95" text-anchor="end" fill="#666666" >WCB090</text>
<rect x="504.90" y="474.20" width="5.60" height="2.5" fill="#3b93d1"/>
<text x="502.00" y="485.32" font-size="4.95" text-anchor="end" fill="#666666" >WCB119</text>
<text x="502.00" y="493.69" font-size="4.95" text-anchor="end" fill="#666666" >WCB056</text>
<text x="502.00" y="502.06" font-size="4.95" text-anchor="end" fill="#666666" >WCB126</text>
<rect x="504.90" y="499.31" width="54.90" height="2.5" fill="#e01f2b"/>
<text x="502.00" y="510.43" font-size="4.95" text-anchor="end" fill="#666666" >WCB123LM</text>
<rect x="504.90" y="507.68" width="19.40" height="2.5" fill="#e01f2b"/>
<text x="502.00" y="518.80" font-size="4.95" text-anchor="end" fill="#666666" >WCB123LuM</text>
<rect x="504.90" y="516.05" width="9.50" height="2.5" fill="#e01f2b"/>
<line x1="614.90" y1="311.00" x2="614.90" y2="521.40" stroke="#d4d4d4" stroke-width="0.8"/>
<text x="614.90" y="309.50" font-size="4.95" text-anchor="middle" fill="#666666" >0</text>
<line x1="624.67" y1="311.00" x2="624.67" y2="521.40" stroke="#d4d4d4" stroke-width="0.8"/>
<text x="624.67" y="309.50" font-size="4.95" text-anchor="middle" fill="#666666" >10</text>
<line x1="634.43" y1="311.00" x2="634.43" y2="521.40" stroke="#d4d4d4" stroke-width="0.8"/>
<text x="634.43" y="309.50" font-size="4.95" text-anchor="middle" fill="#666666" >20</text>
<line x1="644.20" y1="311.00" x2="644.20" y2="521.40" stroke="#d4d4d4" stroke-width="0.8"/>
<text x="644.20" y="309.50" font-size="4.95" text-anchor="middle" fill="#666666" >30</text>
<line x1="653.97" y1="311.00" x2="653.97" y2="521.40" stroke="#d4d4d4" stroke-width="0.8"/>
<text x="653.97" y="309.50" font-size="4.95" text-anchor="middle" fill="#666666" >40</text>
<line x1="663.73" y1="311.00" x2="663.73" y2="521.40" stroke="#d4d4d4" stroke-width="0.8"/>
<text x="663.73" y="309.50" font-size="4.95" text-anchor="middle" fill="#666666" >50</text>
<line x1="673.50" y1="311.00" x2="673.50" y2="521.40" stroke="#d4d4d4" stroke-width="0.8"/>
<text x="673.50" y="309.50" font-size="4.95" text-anchor="middle" fill="#666666" >60</text>
<text x="612.30" y="317.10" font-size="4.95" text-anchor="end" fill="#666666" >WCB184</text>
<rect x="614.90" y="314.50" width="13.90" height="2.2" fill="#22a94b"/>
<text x="612.30" y="324.33" font-size="4.95" text-anchor="end" fill="#666666" >WCB183</text>
<text x="612.30" y="331.56" font-size="4.95" text-anchor="end" fill="#666666" >WCB176</text>
<text x="612.30" y="338.79" font-size="4.95" text-anchor="end" fill="#666666" >WCB136</text>
<rect x="614.90" y="336.19" width="32.40" height="2.2" fill="#3d65b0"/>
<text x="612.30" y="346.01" font-size="4.95" text-anchor="end" fill="#666666" >WCB187</text>
<rect x="614.90" y="343.41" width="27.50" height="2.2" fill="#3d65b0"/>
<text x="612.30" y="353.24" font-size="4.95" text-anchor="end" fill="#666666" >WCB177</text>
<rect x="614.90" y="350.64" width="27.50" height="2.2" fill="#3d65b0"/>
<text x="612.30" y="360.47" font-size="4.95" text-anchor="end" fill="#666666" >WCB141</text>
<rect x="614.90" y="357.87" width="27.50" height="2.2" fill="#3d65b0"/>
<text x="612.30" y="367.70" font-size="4.95" text-anchor="end" fill="#666666" >WCB158</text>
<rect x="614.90" y="365.10" width="20.80" height="2.2" fill="#3d65b0"/>
<text x="612.30" y="374.93" font-size="4.95" text-anchor="end" fill="#666666" >WCB155</text>
<rect x="614.90" y="372.33" width="19.70" height="2.2" fill="#3d65b0"/>
<text x="612.30" y="382.16" font-size="4.95" text-anchor="end" fill="#666666" >WCB162</text>
<rect x="614.90" y="379.56" width="18.70" height="2.2" fill="#3d65b0"/>
<text x="612.30" y="389.39" font-size="4.95" text-anchor="end" fill="#666666" >WCB189</text>
<rect x="614.90" y="386.79" width="13.90" height="2.2" fill="#3d65b0"/>
<text x="612.30" y="396.61" font-size="4.95" text-anchor="end" fill="#666666" >WCB169</text>
<rect x="614.90" y="394.01" width="13.90" height="2.2" fill="#3d65b0"/>
<text x="612.30" y="403.84" font-size="4.95" text-anchor="end" fill="#666666" >WCB179</text>
<text x="612.30" y="411.07" font-size="4.95" text-anchor="end" fill="#666666" >WCB188</text>
<text x="612.30" y="418.30" font-size="4.95" text-anchor="end" fill="#666666" >WCB181</text>
<rect x="614.90" y="415.70" width="55.10" height="2.2" fill="#3b93d1"/>
<text x="612.30" y="425.53" font-size="4.95" text-anchor="end" fill="#666666" >WCB135</text>
<rect x="614.90" y="422.93" width="20.80" height="2.2" fill="#3b93d1"/>
<text x="612.30" y="432.76" font-size="4.95" text-anchor="end" fill="#666666" >WCB139</text>
<rect x="614.90" y="430.16" width="12.70" height="2.2" fill="#3b93d1"/>
<text x="612.30" y="439.99" font-size="4.95" text-anchor="end" fill="#666666" >WCB152</text>
<rect x="614.90" y="437.39" width="7.90" height="2.2" fill="#3b93d1"/>
<text x="612.30" y="447.21" font-size="4.95" text-anchor="end" fill="#666666" >WCB132</text>
<text x="612.30" y="454.44" font-size="4.95" text-anchor="end" fill="#666666" >WCB161</text>
<text x="612.30" y="461.67" font-size="4.95" text-anchor="end" fill="#666666" >WCB143</text>
<rect x="614.90" y="459.07" width="36.40" height="2.2" fill="#f0931f"/>
<text x="612.30" y="468.90" font-size="4.95" text-anchor="end" fill="#666666" >WCB157</text>
<rect x="614.90" y="466.30" width="12.70" height="2.2" fill="#f0931f"/>
<text x="612.30" y="476.13" font-size="4.95" text-anchor="end" fill="#666666" >WCB146</text>
<text x="612.30" y="483.36" font-size="4.95" text-anchor="end" fill="#666666" >WCB150</text>
<rect x="614.90" y="480.76" width="34.30" height="2.2" fill="#e01f2b"/>
<text x="612.30" y="490.59" font-size="4.95" text-anchor="end" fill="#666666" >WCB175</text>
<rect x="614.90" y="487.99" width="34.30" height="2.2" fill="#e01f2b"/>
<text x="612.30" y="497.81" font-size="4.95" text-anchor="end" fill="#666666" >WCB170</text>
<rect x="614.90" y="495.21" width="27.50" height="2.2" fill="#e01f2b"/>
<text x="612.30" y="505.04" font-size="4.95" text-anchor="end" fill="#666666" >WCB156</text>
<rect x="614.90" y="502.44" width="19.70" height="2.2" fill="#e01f2b"/>
<text x="612.30" y="512.27" font-size="4.95" text-anchor="end" fill="#666666" >WCB172</text>
<rect x="614.90" y="509.67" width="18.70" height="2.2" fill="#e01f2b"/>
<text x="612.30" y="519.50" font-size="4.95" text-anchor="end" fill="#666666" >WCB087LM</text>
<rect x="614.90" y="516.90" width="18.70" height="2.2" fill="#e01f2b"/>
<text x="0.00" y="271.80" font-size="13.5" text-anchor="start" fill="#111" font-weight="bold" >c</text>
<text x="271.50" y="271.80" font-size="13.5" text-anchor="start" fill="#111" font-weight="bold" >d</text>
<text x="472.00" y="271.80" font-size="13.5" text-anchor="start" fill="#111" font-weight="bold" >e</text>
<text x="128.80" y="274.30" font-size="12.2" text-anchor="middle" fill="#2a2223" stroke="#2a2223" stroke-width="0.22" >Organoids</text>
<text x="353.50" y="274.30" font-size="12.2" text-anchor="middle" fill="#2a2223" stroke="#2a2223" stroke-width="0.22" >Tumoroids</text>
<text x="578.20" y="274.30" font-size="12.2" text-anchor="middle" fill="#2a2223" stroke="#2a2223" stroke-width="0.22" >Tumoroids</text>
<text x="29.80" y="295.30" font-size="12.2" text-anchor="start" fill="#2a2223" stroke="#2a2223" stroke-width="0.22" >Donut + dome</text>
<text x="254.00" y="295.30" font-size="12.2" text-anchor="start" fill="#2a2223" stroke="#2a2223" stroke-width="0.22" >Donut + dome</text>
<text x="481.10" y="295.30" font-size="12.2" text-anchor="start" fill="#2a2223" stroke="#2a2223" stroke-width="0.22" >Donut + dome</text>
<text x="125.40" y="295.30" font-size="12.2" text-anchor="start" fill="#2a2223" stroke="#2a2223" stroke-width="0.22" >Donut +suspension</text>
<text x="351.40" y="295.30" font-size="12.2" text-anchor="start" fill="#2a2223" stroke="#2a2223" stroke-width="0.22" >Donut +suspension</text>
<text x="578.80" y="295.30" font-size="12.2" text-anchor="start" fill="#2a2223" stroke="#2a2223" stroke-width="0.22" >Donut +suspension</text>
<text x="0.00" y="0.00" font-size="12.2" text-anchor="middle" fill="#2a2223" stroke="#2a2223" stroke-width="0.22" transform="translate(23.9,410) rotate(-90)">Sample ID</text>
<text x="129.00" y="541.40" font-size="12.2" text-anchor="middle" fill="#2a2223" stroke="#2a2223" stroke-width="0.22" >Propagation time (days)</text>
<text x="352.00" y="541.40" font-size="12.2" text-anchor="middle" fill="#2a2223" stroke="#2a2223" stroke-width="0.22" >Propagation time (days)</text>
<text x="573.00" y="541.40" font-size="12.2" text-anchor="middle" fill="#2a2223" stroke="#2a2223" stroke-width="0.22" >Propagation time (days)</text>
<rect x="137.5" y="559.7" width="10.7" height="4.5" fill="#3d65b0"/>
<text x="151.20" y="565.20" font-size="12.2" text-anchor="start" fill="#2a2223" stroke="#2a2223" stroke-width="0.22" >Right colon</text>
<rect x="225.6" y="559.7" width="10.3" height="4.5" fill="#f0931f"/>
<text x="238.80" y="565.20" font-size="12.2" text-anchor="start" fill="#2a2223" stroke="#2a2223" stroke-width="0.22" >Left colon</text>
<rect x="307.7" y="559.7" width="10.3" height="4.5" fill="#e01f2b"/>
<text x="320.90" y="565.20" font-size="12.2" text-anchor="start" fill="#2a2223" stroke="#2a2223" stroke-width="0.22" >Rectum</text>
<rect x="475.8" y="559.7" width="10.5" height="4.5" fill="#22a94b"/>
<text x="491.90" y="565.20" font-size="12.2" text-anchor="start" fill="#2a2223" stroke="#2a2223" stroke-width="0.22" >A</text>
<rect x="517.5" y="559.7" width="10.5" height="4.5" fill="#3d65b0"/>
<text x="532.90" y="565.20" font-size="12.2" text-anchor="start" fill="#2a2223" stroke="#2a2223" stroke-width="0.22" >B</text>
<rect x="559.5" y="559.7" width="10.5" height="4.5" fill="#3b93d1"/>
<text x="575.00" y="565.20" font-size="12.2" text-anchor="start" fill="#2a2223" stroke="#2a2223" stroke-width="0.22" >C</text>
<rect x="601.9" y="559.7" width="10.0" height="4.5" fill="#f0931f"/>
<text x="616.70" y="565.20" font-size="12.2" text-anchor="start" fill="#2a2223" stroke="#2a2223" stroke-width="0.22" >D</text>
<rect x="643.3" y="559.7" width="10.5" height="4.5" fill="#e01f2b"/>
<text x="658.80" y="565.20" font-size="12.2" text-anchor="start" fill="#2a2223" stroke="#2a2223" stroke-width="0.22" >MET</text>
<g clip-path="url(#cpf1)">
<rect x="31.2" y="610.0" width="69.5" height="69.5" fill="#b4b4b4"/>
<g transform="translate(31.2,610.0)" filter="url(#soft)">
<circle cx="31.2" cy="39.1" r="0.9" fill="#b0b0b0" stroke="#808080" stroke-width="0.5"/>
<circle cx="8.2" cy="47.8" r="0.6" fill="#bababa" stroke="#808080" stroke-width="0.5"/>
<circle cx="24" cy="20" r="0.7" fill="#bababa" stroke="#808080" stroke-width="0.5"/>
<circle cx="53.7" cy="63.1" r="0.6" fill="#bababa" stroke="#808080" stroke-width="0.5"/>
<circle cx="22" cy="26" r="1.4" fill="#bababa" stroke="#808080" stroke-width="0.5"/>
<ellipse cx="49.6" cy="-1.7" rx="0.8" ry="0.7" fill="#b0b0b0" stroke="#808080" stroke-width="0.5" transform="rotate(157 49.6 -1.7)"/>
<circle cx="51.3" cy="4.4" r="1" fill="#bababa" stroke="#808080" stroke-width="0.5"/>
<circle cx="63" cy="62.5" r="1.2" fill="#bababa" stroke="#808080" stroke-width="0.5"/>
<circle cx="4.6" cy="11.3" r="0.7" fill="#bababa" stroke="#808080" stroke-width="0.5"/>
<circle cx="61.2" cy="-0.3" r="0.7" fill="#b0b0b0" stroke="#808080" stroke-width="0.5"/>
<ellipse cx="61.1" cy="25.8" rx="0.6" ry="0.5" fill="#bababa" stroke="#808080" stroke-width="0.5" transform="rotate(167 61.1 25.8)"/>
<ellipse cx="25" cy="31.2" rx="1.2" ry="1.1" fill="#b0b0b0" stroke="#808080" stroke-width="0.5" transform="rotate(170 25 31.2)"/>
<circle cx="11.8" cy="-1" r="0.8" fill="#b0b0b0" stroke="#808080" stroke-width="0.5"/>
<circle cx="18.7" cy="40.4" r="0.7" fill="#bababa" stroke="#808080" stroke-width="0.5"/>
<ellipse cx="26.4" cy="59.1" rx="0.9" ry="0.9" fill="#bababa" stroke="#808080" stroke-width="0.5" transform="rotate(146 26.4 59.1)"/>
<circle cx="16.1" cy="48.7" r="0.8" fill="#bababa" stroke="#808080" stroke-width="0.5"/>
<circle cx="50.1" cy="36.1" r="1.9" fill="#bababa" stroke="#808080" stroke-width="0.5"/>
<circle cx="68.3" cy="1.2" r="0.7" fill="#b0b0b0" stroke="#808080" stroke-width="0.5"/>
<circle cx="30.7" cy="51.9" r="0.6" fill="#bababa" stroke="#808080" stroke-width="0.5"/>
<circle cx="24.2" cy="56.6" r="0.8" fill="#bababa" stroke="#808080" stroke-width="0.5"/>
<ellipse cx="22.1" cy="23.1" rx="0.7" ry="0.6" fill="#bababa" stroke="#808080" stroke-width="0.5" transform="rotate(55 22.1 23.1)"/>
<circle cx="6.2" cy="46" r="0.6" fill="#b0b0b0" stroke="#808080" stroke-width="0.5"/>
<circle cx="36.3" cy="47.1" r="2" fill="#bababa" stroke="#808080" stroke-width="0.5"/>
<ellipse cx="-0.4" cy="43.9" rx="0.6" ry="0.6" fill="#b0b0b0" stroke="#808080" stroke-width="0.5" transform="rotate(85 -0.4 43.9)"/>
<ellipse cx="10.1" cy="51.1" rx="0.7" ry="0.6" fill="#bababa" stroke="#808080" stroke-width="0.5" transform="rotate(79 10.1 51.1)"/>
<circle cx="56.9" cy="8.3" r="1.7" fill="#bababa" stroke="#808080" stroke-width="0.5"/>
<circle cx="53.9" cy="16.2" r="0.8" fill="#b0b0b0" stroke="#808080" stroke-width="0.5"/>
<ellipse cx="15.7" cy="63.3" rx="1.3" ry="1.3" fill="#b0b0b0" stroke="#808080" stroke-width="0.5" transform="rotate(66 15.7 63.3)"/>
<circle cx="69.3" cy="53.9" r="0.6" fill="#b0b0b0" stroke="#808080" stroke-width="0.5"/>
<circle cx="31.9" cy="69.9" r="0.7" fill="#b0b0b0" stroke="#808080" stroke-width="0.5"/>
<circle cx="24.2" cy="27.2" r="0.6" fill="#bababa" stroke="#808080" stroke-width="0.5"/>
<ellipse cx="34.5" cy="64.6" rx="0.7" ry="0.6" fill="#bababa" stroke="#808080" stroke-width="0.5" transform="rotate(140 34.5 64.6)"/>
<ellipse cx="3.5" cy="36.3" rx="0.6" ry="0.5" fill="#b0b0b0" stroke="#808080" stroke-width="0.5" transform="rotate(66 3.5 36.3)"/>
<circle cx="17.8" cy="17.6" r="0.6" fill="#bababa" stroke="#808080" stroke-width="0.5"/>
<circle cx="25.9" cy="0.9" r="1.6" fill="#bababa" stroke="#808080" stroke-width="0.5"/>
<ellipse cx="37.5" cy="30.1" rx="0.6" ry="0.5" fill="#b0b0b0" stroke="#808080" stroke-width="0.5" transform="rotate(104 37.5 30.1)"/>
<circle cx="23.7" cy="42.7" r="0.8" fill="#b0b0b0" stroke="#808080" stroke-width="0.5"/>
<ellipse cx="17.9" cy="61.5" rx="1.3" ry="1.1" fill="#bababa" stroke="#808080" stroke-width="0.5" transform="rotate(148 17.9 61.5)"/>
<ellipse cx="56.2" cy="58.3" rx="1.6" ry="1.5" fill="#b0b0b0" stroke="#808080" stroke-width="0.5" transform="rotate(124 56.2 58.3)"/>
<circle cx="11.8" cy="22.6" r="0.6" fill="#b0b0b0" stroke="#808080" stroke-width="0.5"/>
<circle cx="26.9" cy="30.8" r="1.9" fill="#b0b0b0" stroke="#808080" stroke-width="0.5"/>
<ellipse cx="65.6" cy="13.4" rx="0.8" ry="0.7" fill="#bababa" stroke="#808080" stroke-width="0.5" transform="rotate(134 65.6 13.4)"/>
<ellipse cx="54" cy="72.2" rx="1.2" ry="1.1" fill="#b0b0b0" stroke="#808080" stroke-width="0.5" transform="rotate(22 54 72.2)"/>
<ellipse cx="28.7" cy="60.6" rx="1.5" ry="1.3" fill="#bababa" stroke="#808080" stroke-width="0.5" transform="rotate(151 28.7 60.6)"/>
<circle cx="1.8" cy="22.1" r="0.7" fill="#b0b0b0" stroke="#808080" stroke-width="0.5"/>
<ellipse cx="14" cy="44" rx="8" ry="10" fill="#a8a8a8" opacity="0.7"/>
<circle cx="20.9" cy="13.3" r="5.1" fill="#bebebe" stroke="#6c6c6c" stroke-width="0.75"/>
<circle cx="5.6" cy="8.7" r="4.6" fill="#bebebe" stroke="#6c6c6c" stroke-width="0.75"/>
<circle cx="11.2" cy="14.3" r="3" fill="#bebebe" stroke="#6c6c6c" stroke-width="0.75"/>
<circle cx="35.8" cy="33.7" r="6.6" fill="#bebebe" stroke="#6c6c6c" stroke-width="0.75"/>
<circle cx="60.8" cy="30.1" r="7.2" fill="#bebebe" stroke="#6c6c6c" stroke-width="0.75"/>
<circle cx="50.1" cy="36.8" r="5.6" fill="#bebebe" stroke="#6c6c6c" stroke-width="0.75"/>
<circle cx="51.1" cy="54.2" r="7.7" fill="#bebebe" stroke="#6c6c6c" stroke-width="0.75"/>
<circle cx="12.3" cy="45" r="6.1" fill="#bebebe" stroke="#6c6c6c" stroke-width="0.75"/>
<circle cx="10.2" cy="35.8" r="4" fill="#bebebe" stroke="#6c6c6c" stroke-width="0.75"/>
<circle cx="31.7" cy="20.4" r="3.6" fill="#bebebe" stroke="#6c6c6c" stroke-width="0.75"/>
<circle cx="49" cy="5.1" r="3" fill="#bebebe" stroke="#6c6c6c" stroke-width="0.75"/>
<circle cx="54.2" cy="19.4" r="3.6" fill="#bebebe" stroke="#6c6c6c" stroke-width="0.75"/>
<circle cx="65.4" cy="9.2" r="2.6" fill="#bebebe" stroke="#6c6c6c" stroke-width="0.75"/>
<circle cx="38.3" cy="51.6" r="2.6" fill="#bebebe" stroke="#6c6c6c" stroke-width="0.75"/>
<circle cx="24.5" cy="38.8" r="4" fill="#bebebe" stroke="#6c6c6c" stroke-width="0.75"/>
<circle cx="45" cy="19.4" r="2" fill="#bebebe" stroke="#6c6c6c" stroke-width="0.75"/>
<circle cx="13.3" cy="21.5" r="1.5" fill="#bebebe" stroke="#6c6c6c" stroke-width="0.75"/>
<circle cx="4.6" cy="30.7" r="2" fill="#bebebe" stroke="#6c6c6c" stroke-width="0.75"/>
<circle cx="18.4" cy="27.6" r="1.5" fill="#bebebe" stroke="#6c6c6c" stroke-width="0.75"/>
<circle cx="33.7" cy="12.3" r="1.5" fill="#bebebe" stroke="#6c6c6c" stroke-width="0.75"/>
<circle cx="40.4" cy="3.1" r="2" fill="#bebebe" stroke="#6c6c6c" stroke-width="0.75"/>
<circle cx="61.3" cy="39.9" r="1.5" fill="#bebebe" stroke="#6c6c6c" stroke-width="0.75"/>
<circle cx="65.4" cy="51.1" r="1.5" fill="#bebebe" stroke="#6c6c6c" stroke-width="0.75"/>
<circle cx="20.4" cy="57.2" r="2" fill="#bebebe" stroke="#6c6c6c" stroke-width="0.75"/>
<circle cx="11.2" cy="62.3" r="2.5" fill="#bebebe" stroke="#6c6c6c" stroke-width="0.75"/>
<circle cx="32.7" cy="65.4" r="2.5" fill="#bebebe" stroke="#6c6c6c" stroke-width="0.75"/>
<circle cx="18.4" cy="64.4" r="2" fill="#bebebe" stroke="#6c6c6c" stroke-width="0.75"/>
<circle cx="29.6" cy="57.2" r="1.2" fill="#bebebe" stroke="#6c6c6c" stroke-width="0.75"/>
<circle cx="57.2" cy="13.3" r="1.5" fill="#bebebe" stroke="#6c6c6c" stroke-width="0.75"/>
<circle cx="61.3" cy="16.4" r="2" fill="#bebebe" stroke="#6c6c6c" stroke-width="0.75"/>
<circle cx="1" cy="22.5" r="2" fill="#bebebe" stroke="#6c6c6c" stroke-width="0.75"/>
<circle cx="67.4" cy="42.9" r="1.5" fill="#bebebe" stroke="#6c6c6c" stroke-width="0.75"/>
<circle cx="27" cy="5" r="1.8" fill="#bebebe" stroke="#6c6c6c" stroke-width="0.75"/>
<circle cx="40" cy="44" r="2.2" fill="#bebebe" stroke="#6c6c6c" stroke-width="0.75"/>
<circle cx="5" cy="55" r="2.8" fill="#bebebe" stroke="#6c6c6c" stroke-width="0.75"/>
<circle cx="44" cy="62" r="2" fill="#bebebe" stroke="#6c6c6c" stroke-width="0.75"/>
<circle cx="58" cy="66" r="2.2" fill="#bebebe" stroke="#6c6c6c" stroke-width="0.75"/>
<circle cx="66" cy="22" r="1.8" fill="#bebebe" stroke="#6c6c6c" stroke-width="0.75"/>
<circle cx="26" cy="47" r="1.6" fill="#bebebe" stroke="#6c6c6c" stroke-width="0.75"/>
<circle cx="8" cy="2" r="1.6" fill="#bebebe" stroke="#6c6c6c" stroke-width="0.75"/>
<circle cx="32.7" cy="36.8" r="3.6" fill="none" stroke="#777" stroke-width="0.6"/>
<circle cx="12" cy="47" r="3.5" fill="none" stroke="#707070" stroke-width="0.6"/>
<circle cx="50.5" cy="37.5" r="2.5" fill="#c6c6c6"/>
<circle cx="52" cy="56" r="2.5" fill="#c4c4c4"/>
<circle cx="36" cy="31" r="1.5" fill="#c8c8c8"/>
</g>
<rect x="31.2" y="610.0" width="69.5" height="69.5" filter="url(#grain)" opacity="0.3"/>
</g>
<rect x="74.0" y="673.7" width="22.6" height="1.7" fill="#fff"/>
<g clip-path="url(#cpf2)">
<rect x="105.6" y="610.0" width="69.5" height="69.5" fill="#b3b3b3"/>
<g transform="translate(105.6,610.0)" filter="url(#soft)">
<circle cx="34" cy="35.1" r="0.6" fill="#bababa" stroke="#858585" stroke-width="0.5"/>
<circle cx="8.8" cy="65.9" r="1.1" fill="#b0b0b0" stroke="#858585" stroke-width="0.5"/>
<ellipse cx="11.9" cy="39.3" rx="1.4" ry="1.1" fill="#bababa" stroke="#858585" stroke-width="0.5" transform="rotate(59 11.9 39.3)"/>
<circle cx="34.1" cy="33.6" r="0.7" fill="#bababa" stroke="#858585" stroke-width="0.5"/>
<circle cx="50.2" cy="-1" r="0.7" fill="#b0b0b0" stroke="#858585" stroke-width="0.5"/>
<circle cx="30.3" cy="26" r="1.2" fill="#b0b0b0" stroke="#858585" stroke-width="0.5"/>
<ellipse cx="-1" cy="19.6" rx="1.1" ry="0.9" fill="#bababa" stroke="#858585" stroke-width="0.5" transform="rotate(1 -1 19.6)"/>
<circle cx="2.4" cy="71.2" r="0.6" fill="#b0b0b0" stroke="#858585" stroke-width="0.5"/>
<ellipse cx="47" cy="28.2" rx="0.8" ry="0.7" fill="#bababa" stroke="#858585" stroke-width="0.5" transform="rotate(145 47 28.2)"/>
<circle cx="47.6" cy="50" r="1.1" fill="#b0b0b0" stroke="#858585" stroke-width="0.5"/>
<ellipse cx="36.3" cy="52.1" rx="0.6" ry="0.5" fill="#b0b0b0" stroke="#858585" stroke-width="0.5" transform="rotate(121 36.3 52.1)"/>
<circle cx="26.7" cy="23.6" r="1.4" fill="#bababa" stroke="#858585" stroke-width="0.5"/>
<circle cx="35.1" cy="24.7" r="1" fill="#bababa" stroke="#858585" stroke-width="0.5"/>
<ellipse cx="26.4" cy="49.4" rx="0.6" ry="0.5" fill="#bababa" stroke="#858585" stroke-width="0.5" transform="rotate(90 26.4 49.4)"/>
<ellipse cx="23.1" cy="69.6" rx="1" ry="0.9" fill="#bababa" stroke="#858585" stroke-width="0.5" transform="rotate(135 23.1 69.6)"/>
<circle cx="26.5" cy="8.2" r="1.4" fill="#bababa" stroke="#858585" stroke-width="0.5"/>
<circle cx="43.9" cy="46.4" r="1.1" fill="#b0b0b0" stroke="#858585" stroke-width="0.5"/>
<circle cx="22" cy="69.8" r="0.9" fill="#b0b0b0" stroke="#858585" stroke-width="0.5"/>
<circle cx="18.7" cy="14.4" r="0.8" fill="#bababa" stroke="#858585" stroke-width="0.5"/>
<circle cx="16.2" cy="34.8" r="1.1" fill="#bababa" stroke="#858585" stroke-width="0.5"/>
<ellipse cx="60.5" cy="57.2" rx="1.1" ry="1" fill="#b0b0b0" stroke="#858585" stroke-width="0.5" transform="rotate(175 60.5 57.2)"/>
<ellipse cx="67.8" cy="49.4" rx="0.7" ry="0.5" fill="#b0b0b0" stroke="#858585" stroke-width="0.5" transform="rotate(20 67.8 49.4)"/>
<ellipse cx="63.9" cy="8.3" rx="0.6" ry="0.5" fill="#bababa" stroke="#858585" stroke-width="0.5" transform="rotate(149 63.9 8.3)"/>
<circle cx="66.3" cy="0.7" r="1" fill="#b0b0b0" stroke="#858585" stroke-width="0.5"/>
<circle cx="15" cy="-1" r="0.6" fill="#b0b0b0" stroke="#858585" stroke-width="0.5"/>
<ellipse cx="-0.9" cy="16.7" rx="1.2" ry="1.1" fill="#bababa" stroke="#858585" stroke-width="0.5" transform="rotate(92 -0.9 16.7)"/>
<ellipse cx="34.5" cy="8.3" rx="1.2" ry="1.1" fill="#bababa" stroke="#858585" stroke-width="0.5" transform="rotate(53 34.5 8.3)"/>
<ellipse cx="29.9" cy="62.1" rx="1.5" ry="1.2" fill="#bababa" stroke="#858585" stroke-width="0.5" transform="rotate(5 29.9 62.1)"/>
<circle cx="58" cy="45.3" r="1.5" fill="#b0b0b0" stroke="#858585" stroke-width="0.5"/>
<ellipse cx="49" cy="5.8" rx="1" ry="0.8" fill="#bababa" stroke="#858585" stroke-width="0.5" transform="rotate(91 49 5.8)"/>
<ellipse cx="7.7" cy="23.5" rx="3.8" ry="10.2" fill="#a2a2a2" stroke="#777" stroke-width="0.7" transform="rotate(-10 7.7 23.5)"/>
<ellipse cx="10.2" cy="32.7" rx="4.2" ry="5.2" fill="#a6a6a6" stroke="#6e6e6e" stroke-width="0.7"/>
<ellipse cx="15.3" cy="38.8" rx="6.1" ry="2.6" fill="#a9a9a9" transform="rotate(-30 15.3 38.8)"/>
<circle cx="6.1" cy="46" r="4.6" fill="#aaaaaa" stroke="#6e6e6e" stroke-width="0.7"/>
<ellipse cx="7.7" cy="53.1" rx="5.1" ry="3.6" fill="#b0b0b0" stroke="#666" stroke-width="0.8"/>
<ellipse cx="25.5" cy="62.3" rx="3" ry="5.6" fill="#a8a8a8" stroke="#6e6e6e" stroke-width="0.7"/>
<circle cx="22" cy="18.9" r="4.6" fill="#bcbcbc" stroke="#6a6a6a" stroke-width="0.75"/>
<circle cx="33.2" cy="16.9" r="5.1" fill="#a5a5a5" stroke="#6a6a6a" stroke-width="0.75"/>
<circle cx="24" cy="29.6" r="4.6" fill="#b4b4b4" stroke="#6a6a6a" stroke-width="0.75"/>
<circle cx="30.1" cy="41.4" r="3.6" fill="#b0b0b0" stroke="#6a6a6a" stroke-width="0.75"/>
<circle cx="38.8" cy="44.5" r="2" fill="#bdbdbd" stroke="#6a6a6a" stroke-width="0.75"/>
<circle cx="30.7" cy="55.7" r="3.6" fill="#bababa" stroke="#6a6a6a" stroke-width="0.75"/>
<circle cx="33.7" cy="7.2" r="3.1" fill="#bdbdbd" stroke="#6a6a6a" stroke-width="0.75"/>
<circle cx="38.8" cy="2" r="4.6" fill="#bcbcbc" stroke="#6a6a6a" stroke-width="0.75"/>
<circle cx="17.9" cy="2.6" r="3.1" fill="#bcbcbc" stroke="#6a6a6a" stroke-width="0.75"/>
<circle cx="56.7" cy="11.8" r="3.6" fill="#bcbcbc" stroke="#6a6a6a" stroke-width="0.75"/>
<circle cx="62.3" cy="5.1" r="4" fill="#b8b8b8" stroke="#6a6a6a" stroke-width="0.75"/>
<circle cx="61.8" cy="18.4" r="3.6" fill="#bcbcbc" stroke="#6a6a6a" stroke-width="0.75"/>
<circle cx="50.6" cy="22.5" r="4.1" fill="#a8a8a8" stroke="#6a6a6a" stroke-width="0.75"/>
<circle cx="59.3" cy="25" r="2" fill="#bcbcbc" stroke="#6a6a6a" stroke-width="0.75"/>
<circle cx="68" cy="25.5" r="2.5" fill="#b9b9b9" stroke="#6a6a6a" stroke-width="0.75"/>
<circle cx="58.2" cy="50" r="2.6" fill="#b8b8b8" stroke="#6a6a6a" stroke-width="0.75"/>
<circle cx="24.5" cy="40.9" r="4.1" fill="#b0b0b0" stroke="#6a6a6a" stroke-width="0.75"/>
<circle cx="25" cy="49" r="2" fill="#bdbdbd" stroke="#6a6a6a" stroke-width="0.75"/>
<circle cx="16.9" cy="12.3" r="2.6" fill="#bababa" stroke="#6a6a6a" stroke-width="0.75"/>
<circle cx="43.9" cy="6.1" r="1.2" fill="#bdbdbd" stroke="#6a6a6a" stroke-width="0.75"/>
<circle cx="67" cy="13.3" r="2" fill="#bcbcbc" stroke="#6a6a6a" stroke-width="0.75"/>
<circle cx="1" cy="24" r="2" fill="#bbbbbb" stroke="#6a6a6a" stroke-width="0.75"/>
<circle cx="45" cy="30" r="1.5" fill="#bcbcbc" stroke="#6a6a6a" stroke-width="0.75"/>
<circle cx="12" cy="62" r="2" fill="#b8b8b8" stroke="#6a6a6a" stroke-width="0.75"/>
<circle cx="40" cy="66" r="2.2" fill="#b8b8b8" stroke="#6a6a6a" stroke-width="0.75"/>
<circle cx="48" cy="58" r="1.5" fill="#bcbcbc" stroke="#6a6a6a" stroke-width="0.75"/>
<ellipse cx="59.3" cy="53.1" rx="7.2" ry="10.2" fill="#b5b5b5" stroke="#5a5a5a" stroke-width="0.9"/>
<ellipse cx="60.3" cy="36.8" rx="9.7" ry="7.2" fill="#bababa" stroke="#4e4e4e" stroke-width="1.0" transform="rotate(-10 60.3 36.8)"/>
<circle cx="58.5" cy="37.5" r="3" fill="#c2c2c2"/>
<circle cx="58" cy="51" r="2.2" fill="none" stroke="#777" stroke-width="0.6"/>
</g>
<rect x="105.6" y="610.0" width="69.5" height="69.5" filter="url(#grain)" opacity="0.3"/>
</g>
<rect x="148.39999999999998" y="673.7" width="22.6" height="1.7" fill="#fff"/>
<g clip-path="url(#cpf4)">
<rect x="31.2" y="684.6" width="69.5" height="69.5" fill="#b5b5b5"/>
<g transform="translate(31.2,684.6)" filter="url(#soft)">
<circle cx="66" cy="-0.2" r="1.3" fill="#b0b0b0" stroke="#808080" stroke-width="0.5"/>
<circle cx="61.5" cy="53.9" r="0.9" fill="#bababa" stroke="#808080" stroke-width="0.5"/>
<circle cx="16.7" cy="32.3" r="1.4" fill="#b0b0b0" stroke="#808080" stroke-width="0.5"/>
<ellipse cx="67.9" cy="0.3" rx="0.6" ry="0.5" fill="#bababa" stroke="#808080" stroke-width="0.5" transform="rotate(53 67.9 0.3)"/>
<ellipse cx="15.2" cy="65.2" rx="0.6" ry="0.6" fill="#bababa" stroke="#808080" stroke-width="0.5" transform="rotate(18 15.2 65.2)"/>
<ellipse cx="38.7" cy="8.1" rx="0.6" ry="0.5" fill="#b0b0b0" stroke="#808080" stroke-width="0.5" transform="rotate(117 38.7 8.1)"/>
<ellipse cx="42" cy="66.9" rx="1.7" ry="1.4" fill="#bababa" stroke="#808080" stroke-width="0.5" transform="rotate(56 42 66.9)"/>
<circle cx="63.7" cy="33.9" r="1.9" fill="#bababa" stroke="#808080" stroke-width="0.5"/>
<circle cx="32.9" cy="13.7" r="0.6" fill="#bababa" stroke="#808080" stroke-width="0.5"/>
<circle cx="36.8" cy="64.1" r="0.6" fill="#b0b0b0" stroke="#808080" stroke-width="0.5"/>
<circle cx="23.4" cy="17.4" r="1.2" fill="#b0b0b0" stroke="#808080" stroke-width="0.5"/>
<circle cx="49.3" cy="20.3" r="1.7" fill="#bababa" stroke="#808080" stroke-width="0.5"/>
<ellipse cx="16.9" cy="16.6" rx="0.7" ry="0.6" fill="#b0b0b0" stroke="#808080" stroke-width="0.5" transform="rotate(19 16.9 16.6)"/>
<circle cx="51.3" cy="10.3" r="0.7" fill="#bababa" stroke="#808080" stroke-width="0.5"/>
<ellipse cx="6.4" cy="2.8" rx="1.5" ry="1.2" fill="#bababa" stroke="#808080" stroke-width="0.5" transform="rotate(57 6.4 2.8)"/>
<circle cx="34.3" cy="29.2" r="1" fill="#bababa" stroke="#808080" stroke-width="0.5"/>
<ellipse cx="67.7" cy="38.5" rx="0.6" ry="0.6" fill="#bababa" stroke="#808080" stroke-width="0.5" transform="rotate(122 67.7 38.5)"/>
<ellipse cx="31.3" cy="22" rx="1.8" ry="1.4" fill="#b0b0b0" stroke="#808080" stroke-width="0.5" transform="rotate(55 31.3 22)"/>
<circle cx="9" cy="32.6" r="0.7" fill="#b0b0b0" stroke="#808080" stroke-width="0.5"/>
<circle cx="27.2" cy="24.9" r="0.7" fill="#b0b0b0" stroke="#808080" stroke-width="0.5"/>
<ellipse cx="19.2" cy="71.7" rx="1.1" ry="1" fill="#bababa" stroke="#808080" stroke-width="0.5" transform="rotate(116 19.2 71.7)"/>
<circle cx="35.3" cy="3.6" r="1.9" fill="#b0b0b0" stroke="#808080" stroke-width="0.5"/>
<circle cx="29.2" cy="15.1" r="0.6" fill="#b0b0b0" stroke="#808080" stroke-width="0.5"/>
<circle cx="39.8" cy="65" r="0.7" fill="#bababa" stroke="#808080" stroke-width="0.5"/>
<circle cx="26.1" cy="69.7" r="0.8" fill="#b0b0b0" stroke="#808080" stroke-width="0.5"/>
<circle cx="59.6" cy="-2.2" r="0.8" fill="#bababa" stroke="#808080" stroke-width="0.5"/>
<circle cx="59.2" cy="7.5" r="1.2" fill="#bababa" stroke="#808080" stroke-width="0.5"/>
<circle cx="7.8" cy="67.3" r="1" fill="#bababa" stroke="#808080" stroke-width="0.5"/>
<circle cx="46.6" cy="52.7" r="0.7" fill="#bababa" stroke="#808080" stroke-width="0.5"/>
<circle cx="52.6" cy="55.1" r="0.6" fill="#b0b0b0" stroke="#808080" stroke-width="0.5"/>
<ellipse cx="32.1" cy="16.1" rx="1.1" ry="0.9" fill="#b0b0b0" stroke="#808080" stroke-width="0.5" transform="rotate(101 32.1 16.1)"/>
<circle cx="66.3" cy="48" r="1.3" fill="#b0b0b0" stroke="#808080" stroke-width="0.5"/>
<circle cx="68.6" cy="44" r="0.9" fill="#bababa" stroke="#808080" stroke-width="0.5"/>
<circle cx="1.9" cy="35" r="0.6" fill="#bababa" stroke="#808080" stroke-width="0.5"/>
<ellipse cx="58.8" cy="51.9" rx="1.7" ry="1.4" fill="#bababa" stroke="#808080" stroke-width="0.5" transform="rotate(74 58.8 51.9)"/>
<circle cx="27.8" cy="46.4" r="0.7" fill="#b0b0b0" stroke="#808080" stroke-width="0.5"/>
<ellipse cx="47.8" cy="13.2" rx="0.6" ry="0.6" fill="#bababa" stroke="#808080" stroke-width="0.5" transform="rotate(11 47.8 13.2)"/>
<circle cx="33.2" cy="22" r="1.1" fill="#bababa" stroke="#808080" stroke-width="0.5"/>
<circle cx="49" cy="36.8" r="0.6" fill="#bababa" stroke="#808080" stroke-width="0.5"/>
<circle cx="17.5" cy="57.1" r="1.4" fill="#bababa" stroke="#808080" stroke-width="0.5"/>
<ellipse cx="15" cy="54" rx="9" ry="9" fill="#a6a6a6" opacity="0.8"/>
<circle cx="8.2" cy="25" r="6.6" fill="#bcbcbc" stroke="#6a6a6a" stroke-width="0.75"/>
<circle cx="24.5" cy="25.5" r="7" fill="#b9b9b9" stroke="#6a6a6a" stroke-width="0.75"/>
<circle cx="38.8" cy="16.4" r="5.1" fill="#b0b0b0" stroke="#6a6a6a" stroke-width="0.75"/>
<circle cx="40.9" cy="4.1" r="4.1" fill="#bcbcbc" stroke="#6a6a6a" stroke-width="0.75"/>
<circle cx="17.4" cy="5.1" r="2.5" fill="#bdbdbd" stroke="#6a6a6a" stroke-width="0.75"/>
<circle cx="5.1" cy="3.1" r="2.5" fill="#bdbdbd" stroke="#6a6a6a" stroke-width="0.75"/>
<circle cx="22" cy="11.8" r="2.5" fill="#bdbdbd" stroke="#6a6a6a" stroke-width="0.75"/>
<circle cx="2.6" cy="13.8" r="2" fill="#bdbdbd" stroke="#6a6a6a" stroke-width="0.75"/>
<circle cx="25.5" cy="7.2" r="4.1" fill="#b3b3b3" stroke="#6a6a6a" stroke-width="0.75"/>
<circle cx="30.7" cy="10.2" r="2.5" fill="#bdbdbd" stroke="#6a6a6a" stroke-width="0.75"/>
<circle cx="37.8" cy="27.1" r="3.1" fill="#bdbdbd" stroke="#6a6a6a" stroke-width="0.75"/>
<circle cx="43.4" cy="28.1" r="2.5" fill="#bcbcbc" stroke="#6a6a6a" stroke-width="0.75"/>
<circle cx="41.4" cy="32.2" r="2" fill="#bdbdbd" stroke="#6a6a6a" stroke-width="0.75"/>
<circle cx="42.9" cy="34.7" r="2" fill="#bdbdbd" stroke="#6a6a6a" stroke-width="0.75"/>
<circle cx="15.3" cy="32.7" r="2.5" fill="#bdbdbd" stroke="#6a6a6a" stroke-width="0.75"/>
<circle cx="4.1" cy="30.7" r="2.5" fill="#bdbdbd" stroke="#6a6a6a" stroke-width="0.75"/>
<circle cx="51.6" cy="23" r="5.1" fill="#b0b0b0" stroke="#6a6a6a" stroke-width="0.75"/>
<circle cx="54.7" cy="16.9" r="2.5" fill="#bdbdbd" stroke="#6a6a6a" stroke-width="0.75"/>
<circle cx="59.3" cy="13.3" r="3.1" fill="#bcbcbc" stroke="#6a6a6a" stroke-width="0.75"/>
<circle cx="63.9" cy="6.1" r="5.1" fill="#b0b0b0" stroke="#6a6a6a" stroke-width="0.75"/>
<circle cx="65.4" cy="32.7" r="5.1" fill="#bcbcbc" stroke="#6a6a6a" stroke-width="0.75"/>
<circle cx="55.2" cy="30.1" r="1.5" fill="#bdbdbd" stroke="#6a6a6a" stroke-width="0.75"/>
<circle cx="58.2" cy="35.3" r="2" fill="#bdbdbd" stroke="#6a6a6a" stroke-width="0.75"/>
<circle cx="55.2" cy="38.3" r="1.5" fill="#bdbdbd" stroke="#6a6a6a" stroke-width="0.75"/>
<circle cx="21.5" cy="38.8" r="3.6" fill="#b0b0b0" stroke="#6a6a6a" stroke-width="0.75"/>
<circle cx="24.5" cy="42.9" r="3.1" fill="#b3b3b3" stroke="#6a6a6a" stroke-width="0.75"/>
<circle cx="11.2" cy="57.2" r="4.1" fill="#b0b0b0" stroke="#6a6a6a" stroke-width="0.75"/>
<circle cx="19.4" cy="53.1" r="4.1" fill="#b3b3b3" stroke="#6a6a6a" stroke-width="0.75"/>
<circle cx="30.7" cy="51.1" r="5.1" fill="#bababa" stroke="#6a6a6a" stroke-width="0.75"/>
<circle cx="40.9" cy="52.6" r="3.6" fill="#bdbdbd" stroke="#6a6a6a" stroke-width="0.75"/>
<circle cx="31.7" cy="65.4" r="3.6" fill="#b8b8b8" stroke="#6a6a6a" stroke-width="0.75"/>
<circle cx="47" cy="62.3" r="5.1" fill="#acacac" stroke="#6a6a6a" stroke-width="0.75"/>
<circle cx="2" cy="57.2" r="2" fill="#bdbdbd" stroke="#6a6a6a" stroke-width="0.75"/>
<circle cx="9.2" cy="45" r="2" fill="#bdbdbd" stroke="#6a6a6a" stroke-width="0.75"/>
<circle cx="18.4" cy="63.4" r="2.5" fill="#b5b5b5" stroke="#6a6a6a" stroke-width="0.75"/>
<circle cx="13" cy="50" r="3" fill="#aaaaaa" stroke="#6a6a6a" stroke-width="0.75"/>
<circle cx="17" cy="59" r="3" fill="#a8a8a8" stroke="#6a6a6a" stroke-width="0.75"/>
<circle cx="62" cy="0" r="3" fill="#b5b5b5" stroke="#6a6a6a" stroke-width="0.75"/>
<circle cx="29" cy="2" r="2" fill="#bdbdbd" stroke="#6a6a6a" stroke-width="0.75"/>
<circle cx="27.1" cy="25.5" r="2.5" fill="#c2c2c2" stroke="#777" stroke-width="0.6"/>
<circle cx="23" cy="30.1" r="2.5" fill="#bdbdbd" stroke="#777" stroke-width="0.6"/>
<circle cx="15.3" cy="54.2" r="8.2" fill="none" stroke="#666" stroke-width="0.8"/>
<circle cx="38.8" cy="16.4" r="2.5" fill="none" stroke="#777" stroke-width="0.6"/>
</g>
<rect x="31.2" y="684.6" width="69.5" height="69.5" filter="url(#grain)" opacity="0.3"/>
</g>
<rect x="74.0" y="748.3000000000001" width="22.6" height="1.7" fill="#fff"/>
<g clip-path="url(#cpf5)">
<rect x="105.6" y="684.6" width="69.5" height="69.5" fill="#b7b7b7"/>
<g transform="translate(105.6,684.6)" filter="url(#soft)">
<ellipse cx="43.4" cy="5.1" rx="0.6" ry="0.6" fill="#b5b5b5" stroke="#737373" stroke-width="0.55" transform="rotate(152 43.4 5.1)"/>
<circle cx="55.7" cy="41.2" r="1" fill="#bdbdbd" stroke="#737373" stroke-width="0.55"/>
<circle cx="39.5" cy="29.5" r="0.6" fill="#adadad" stroke="#737373" stroke-width="0.55"/>
<circle cx="14.1" cy="62.5" r="0.9" fill="#bdbdbd" stroke="#737373" stroke-width="0.55"/>
<circle cx="9.3" cy="25.8" r="0.8" fill="#bdbdbd" stroke="#737373" stroke-width="0.55"/>
<ellipse cx="61.9" cy="50.8" rx="0.6" ry="0.5" fill="#b5b5b5" stroke="#737373" stroke-width="0.55" transform="rotate(28 61.9 50.8)"/>
<circle cx="29.4" cy="54.8" r="0.6" fill="#b5b5b5" stroke="#737373" stroke-width="0.55"/>
<ellipse cx="58.6" cy="55.7" rx="1.4" ry="1" fill="#adadad" stroke="#737373" stroke-width="0.55" transform="rotate(48 58.6 55.7)"/>
<circle cx="10.6" cy="46" r="0.6" fill="#adadad" stroke="#737373" stroke-width="0.55"/>
<ellipse cx="7.4" cy="70" rx="1.5" ry="1.2" fill="#bdbdbd" stroke="#737373" stroke-width="0.55" transform="rotate(96 7.4 70)"/>
<circle cx="52.9" cy="53.2" r="0.6" fill="#bdbdbd" stroke="#737373" stroke-width="0.55"/>
<ellipse cx="37.5" cy="52.3" rx="1" ry="0.8" fill="#bdbdbd" stroke="#737373" stroke-width="0.55" transform="rotate(123 37.5 52.3)"/>
<circle cx="67.4" cy="43.4" r="1.4" fill="#b5b5b5" stroke="#737373" stroke-width="0.55"/>
<circle cx="47.2" cy="19.2" r="0.8" fill="#bdbdbd" stroke="#737373" stroke-width="0.55"/>
<ellipse cx="34.6" cy="32.5" rx="1.9" ry="1.6" fill="#b5b5b5" stroke="#737373" stroke-width="0.55" transform="rotate(36 34.6 32.5)"/>
<circle cx="15.1" cy="11.7" r="0.6" fill="#b5b5b5" stroke="#737373" stroke-width="0.55"/>
<ellipse cx="-1.4" cy="7.1" rx="2" ry="1.6" fill="#b5b5b5" stroke="#737373" stroke-width="0.55" transform="rotate(46 -1.4 7.1)"/>
<circle cx="2.4" cy="-1.4" r="1" fill="#bdbdbd" stroke="#737373" stroke-width="0.55"/>
<ellipse cx="17.7" cy="1.1" rx="1.8" ry="1.5" fill="#adadad" stroke="#737373" stroke-width="0.55" transform="rotate(25 17.7 1.1)"/>
<ellipse cx="49" cy="3" rx="0.6" ry="0.5" fill="#b5b5b5" stroke="#737373" stroke-width="0.55" transform="rotate(132 49 3)"/>
<ellipse cx="5" cy="70.3" rx="0.8" ry="0.7" fill="#adadad" stroke="#737373" stroke-width="0.55" transform="rotate(166 5 70.3)"/>
<circle cx="57.1" cy="55.2" r="0.7" fill="#bdbdbd" stroke="#737373" stroke-width="0.55"/>
<ellipse cx="3.6" cy="26.4" rx="1.2" ry="0.9" fill="#bdbdbd" stroke="#737373" stroke-width="0.55" transform="rotate(105 3.6 26.4)"/>
<circle cx="25.5" cy="47" r="0.9" fill="#adadad" stroke="#737373" stroke-width="0.55"/>
<circle cx="65.6" cy="6.6" r="1" fill="#adadad" stroke="#737373" stroke-width="0.55"/>
<circle cx="21.9" cy="17.3" r="0.8" fill="#adadad" stroke="#737373" stroke-width="0.55"/>
<ellipse cx="43.7" cy="27.2" rx="0.7" ry="0.5" fill="#b5b5b5" stroke="#737373" stroke-width="0.55" transform="rotate(106 43.7 27.2)"/>
<circle cx="57.9" cy="68.9" r="1.8" fill="#b5b5b5" stroke="#737373" stroke-width="0.55"/>
<circle cx="10.4" cy="2" r="2" fill="#b5b5b5" stroke="#737373" stroke-width="0.55"/>
<circle cx="19.9" cy="6.2" r="0.6" fill="#b5b5b5" stroke="#737373" stroke-width="0.55"/>
<circle cx="35.8" cy="20.4" r="0.6" fill="#bdbdbd" stroke="#737373" stroke-width="0.55"/>
<circle cx="-0.8" cy="31.1" r="2.1" fill="#b5b5b5" stroke="#737373" stroke-width="0.55"/>
<circle cx="70.3" cy="13.8" r="0.6" fill="#adadad" stroke="#737373" stroke-width="0.55"/>
<circle cx="51.4" cy="7.2" r="0.7" fill="#bdbdbd" stroke="#737373" stroke-width="0.55"/>
<circle cx="44.1" cy="61.2" r="0.7" fill="#b5b5b5" stroke="#737373" stroke-width="0.55"/>
<ellipse cx="35.5" cy="23.9" rx="0.7" ry="0.6" fill="#b5b5b5" stroke="#737373" stroke-width="0.55" transform="rotate(156 35.5 23.9)"/>
<ellipse cx="26" cy="58" rx="1.5" ry="1.1" fill="#adadad" stroke="#737373" stroke-width="0.55" transform="rotate(79 26 58)"/>
<circle cx="68" cy="68" r="1.5" fill="#b5b5b5" stroke="#737373" stroke-width="0.55"/>
<ellipse cx="7.8" cy="15" rx="0.6" ry="0.6" fill="#bdbdbd" stroke="#737373" stroke-width="0.55" transform="rotate(119 7.8 15)"/>
<ellipse cx="16.2" cy="13.1" rx="1.3" ry="1.3" fill="#bdbdbd" stroke="#737373" stroke-width="0.55" transform="rotate(22 16.2 13.1)"/>
<circle cx="32.3" cy="63.5" r="2" fill="#adadad" stroke="#737373" stroke-width="0.55"/>
<circle cx="20.9" cy="12" r="1.2" fill="#b5b5b5" stroke="#737373" stroke-width="0.55"/>
<ellipse cx="24.3" cy="40.6" rx="1.4" ry="1.1" fill="#b5b5b5" stroke="#737373" stroke-width="0.55" transform="rotate(52 24.3 40.6)"/>
<circle cx="26.3" cy="39.9" r="1.2" fill="#bdbdbd" stroke="#737373" stroke-width="0.55"/>
<ellipse cx="40.5" cy="42.5" rx="0.8" ry="0.7" fill="#adadad" stroke="#737373" stroke-width="0.55" transform="rotate(153 40.5 42.5)"/>
<ellipse cx="13.1" cy="39.8" rx="0.7" ry="0.6" fill="#adadad" stroke="#737373" stroke-width="0.55" transform="rotate(102 13.1 39.8)"/>
<ellipse cx="-0.9" cy="21.4" rx="1" ry="0.8" fill="#bdbdbd" stroke="#737373" stroke-width="0.55" transform="rotate(77 -0.9 21.4)"/>
<circle cx="35.8" cy="26.3" r="2" fill="#bdbdbd" stroke="#737373" stroke-width="0.55"/>
<circle cx="41.4" cy="55.5" r="0.6" fill="#adadad" stroke="#737373" stroke-width="0.55"/>
<ellipse cx="32.3" cy="9.3" rx="0.8" ry="0.6" fill="#adadad" stroke="#737373" stroke-width="0.55" transform="rotate(169 32.3 9.3)"/>
<circle cx="3.2" cy="27.3" r="0.8" fill="#b5b5b5" stroke="#737373" stroke-width="0.55"/>
<circle cx="71.3" cy="27.7" r="0.8" fill="#bdbdbd" stroke="#737373" stroke-width="0.55"/>
<circle cx="41.8" cy="33" r="1.9" fill="#b5b5b5" stroke="#737373" stroke-width="0.55"/>
<ellipse cx="18.2" cy="27.7" rx="0.7" ry="0.5" fill="#adadad" stroke="#737373" stroke-width="0.55" transform="rotate(166 18.2 27.7)"/>
<ellipse cx="54" cy="21.8" rx="1.1" ry="0.9" fill="#adadad" stroke="#737373" stroke-width="0.55" transform="rotate(111 54 21.8)"/>
<ellipse cx="62" cy="35" rx="7" ry="12" fill="#a4a4a4" opacity="0.8"/>
<ellipse cx="56" cy="18" rx="9" ry="8" fill="#a8a8a8" opacity="0.7"/>
<ellipse cx="12" cy="14" rx="8" ry="7" fill="#a6a6a6" opacity="0.7"/>
<circle cx="11.2" cy="57.2" r="7.7" fill="#bababa" stroke="#666" stroke-width="0.75"/>
<circle cx="35.3" cy="32.7" r="5.6" fill="#b6b6b6" stroke="#666" stroke-width="0.75"/>
<circle cx="39.9" cy="50.1" r="5.6" fill="#a4a4a4" stroke="#666" stroke-width="0.75"/>
<circle cx="55.7" cy="37.8" r="4.6" fill="#b3b3b3" stroke="#666" stroke-width="0.75"/>
<circle cx="61.3" cy="40.9" r="5.1" fill="#9e9e9e" stroke="#666" stroke-width="0.75"/>
<circle cx="62.3" cy="22.5" r="5.1" fill="#a0a0a0" stroke="#666" stroke-width="0.75"/>
<circle cx="51.1" cy="20.4" r="4.1" fill="#a8a8a8" stroke="#666" stroke-width="0.75"/>
<circle cx="46.5" cy="6.1" r="4.1" fill="#b3b3b3" stroke="#666" stroke-width="0.75"/>
<circle cx="28.6" cy="22.5" r="4.1" fill="#b5b5b5" stroke="#666" stroke-width="0.75"/>
<circle cx="10.2" cy="17.4" r="5.1" fill="#a2a2a2" stroke="#666" stroke-width="0.75"/>
<circle cx="4.1" cy="8.2" r="3.6" fill="#b3b3b3" stroke="#666" stroke-width="0.75"/>
<circle cx="4.1" cy="33.7" r="3.6" fill="#b0b0b0" stroke="#666" stroke-width="0.75"/>
<circle cx="7.7" cy="39.9" r="3.6" fill="#b6b6b6" stroke="#666" stroke-width="0.75"/>
<circle cx="4.6" cy="46" r="3.1" fill="#b6b6b6" stroke="#666" stroke-width="0.75"/>
<circle cx="27.1" cy="45" r="3.6" fill="#b3b3b3" stroke="#666" stroke-width="0.75"/>
<circle cx="23.5" cy="55.2" r="3.6" fill="#b3b3b3" stroke="#666" stroke-width="0.75"/>
<circle cx="27.1" cy="61.3" r="4.6" fill="#b0b0b0" stroke="#666" stroke-width="0.75"/>
<circle cx="34.7" cy="61.3" r="4.1" fill="#acacac" stroke="#666" stroke-width="0.75"/>
<circle cx="48" cy="51.1" r="3.1" fill="#b3b3b3" stroke="#666" stroke-width="0.75"/>
<circle cx="53.6" cy="60.3" r="3.1" fill="#b3b3b3" stroke="#666" stroke-width="0.75"/>
<circle cx="66.4" cy="59.3" r="3.1" fill="#adadad" stroke="#666" stroke-width="0.75"/>
<circle cx="28.6" cy="6.1" r="4.1" fill="#adadad" stroke="#666" stroke-width="0.75"/>
<circle cx="20.4" cy="12.3" r="3.6" fill="#ababab" stroke="#666" stroke-width="0.75"/>
<circle cx="65.4" cy="11.2" r="3.6" fill="#a8a8a8" stroke="#666" stroke-width="0.75"/>
<circle cx="57.2" cy="4.1" r="3.1" fill="#b3b3b3" stroke="#666" stroke-width="0.75"/>
<circle cx="48" cy="38.8" r="3.1" fill="#b3b3b3" stroke="#666" stroke-width="0.75"/>
<circle cx="21.5" cy="42.9" r="2.5" fill="#bababa" stroke="#666" stroke-width="0.75"/>
<circle cx="30.7" cy="52.1" r="2.5" fill="#bababa" stroke="#666" stroke-width="0.75"/>
<circle cx="46.5" cy="29.6" r="3.1" fill="#b3b3b3" stroke="#666" stroke-width="0.75"/>
<circle cx="38.8" cy="24.5" r="3.1" fill="#b3b3b3" stroke="#666" stroke-width="0.75"/>
<circle cx="18.4" cy="3.1" r="2.5" fill="#b5b5b5" stroke="#666" stroke-width="0.75"/>
<circle cx="33.7" cy="17.4" r="2" fill="#b8b8b8" stroke="#666" stroke-width="0.75"/>
<circle cx="3.1" cy="61.3" r="3.1" fill="#b3b3b3" stroke="#666" stroke-width="0.75"/>
<circle cx="57.2" cy="49" r="3.1" fill="#b0b0b0" stroke="#666" stroke-width="0.75"/>
<circle cx="15" cy="8" r="2.5" fill="#acacac" stroke="#666" stroke-width="0.75"/>
<circle cx="68" cy="30" r="3" fill="#a8a8a8" stroke="#666" stroke-width="0.75"/>
<circle cx="44" cy="44" r="2.5" fill="#b3b3b3" stroke="#666" stroke-width="0.75"/>
<circle cx="60" cy="66" r="2.5" fill="#b3b3b3" stroke="#666" stroke-width="0.75"/>
<circle cx="43" cy="62" r="2.5" fill="#b0b0b0" stroke="#666" stroke-width="0.75"/>
<circle cx="16" cy="66" r="2.5" fill="#b5b5b5" stroke="#666" stroke-width="0.75"/>
<circle cx="38" cy="11" r="2.5" fill="#b3b3b3" stroke="#666" stroke-width="0.75"/>
<circle cx="11.5" cy="58" r="3.5" fill="#a8a8a8" opacity="0.8"/>
<circle cx="40" cy="50" r="2.5" fill="#8e8e8e" opacity="0.7"/>
<circle cx="61" cy="41" r="2.5" fill="#8e8e8e" opacity="0.7"/>
<circle cx="62" cy="22" r="2.5" fill="#909090" opacity="0.7"/>
</g>
<rect x="105.6" y="684.6" width="69.5" height="69.5" filter="url(#grain)" opacity="0.3"/>
</g>
<rect x="148.39999999999998" y="748.3000000000001" width="22.6" height="1.7" fill="#fff"/>
<g clip-path="url(#cpf3)">
<rect x="180.3" y="610.0" width="69.5" height="69.5" fill="#cfcfcf"/>
<g transform="translate(180.3,610.0)" filter="url(#soft)">
<ellipse cx="33" cy="16" rx="7" ry="6" fill="#b9b9b9" opacity="0.9"/>
<ellipse cx="3" cy="55" rx="6" ry="12" fill="#b8b8b8" opacity="0.8"/>
<circle cx="7.1" cy="8" r="5.9" fill="url(#f3md)" stroke="#4a4a4a" stroke-width="1.0"/>
<circle cx="36.5" cy="2.5" r="6.5" fill="url(#f3dk)" stroke="#3a3a3a" stroke-width="1.0"/>
<circle cx="15.5" cy="24.3" r="7.4" fill="url(#f3md)" stroke="#555" stroke-width="1.0"/>
<circle cx="46.5" cy="25.9" r="7.3" fill="url(#f3dk)" stroke="#333" stroke-width="1.2"/>
<circle cx="60.1" cy="60.5" r="6" fill="url(#f3dk)" stroke="#444" stroke-width="1.0"/>
<circle cx="14.8" cy="8.5" r="2.2" fill="none" stroke="#777" stroke-width="0.6"/>
<circle cx="6" cy="69" r="4" fill="#aaa" stroke="#666" stroke-width="0.8"/>
<circle cx="31.2" cy="49" r="17.9" fill="url(#f3big)" stroke="#3e3e3e" stroke-width="1.8"/>
<circle cx="31.2" cy="49" r="16.2" fill="none" stroke="#7a7a7a" stroke-width="0.9"/>
<circle cx="58" cy="13" r="1.2" fill="#999"/>
<circle cx="44" cy="12" r="1.5" fill="none" stroke="#888" stroke-width="0.5"/>
</g>
<rect x="180.3" y="610.0" width="69.5" height="69.5" filter="url(#grain)" opacity="0.25"/>
</g>
<rect x="223.10000000000002" y="673.7" width="22.6" height="1.7" fill="#fff"/>
<g clip-path="url(#cpf6)">
<rect x="180.3" y="684.6" width="69.5" height="69.5" fill="#d5d5d5"/>
<g transform="translate(180.3,684.6)" filter="url(#soft)">
<ellipse cx="3" cy="4" rx="5.5" ry="5" fill="#4c4c4c"/>
<ellipse cx="22.8" cy="1" rx="8" ry="3.5" fill="#5a5a5a"/>
<circle cx="0.5" cy="58.3" r="5" fill="#5a5a5a"/>
<ellipse cx="15.5" cy="69.2" rx="9" ry="3" fill="#6a6a6a"/>
<ellipse cx="50" cy="69.3" rx="6" ry="2.5" fill="#777"/>
<circle cx="60.8" cy="41.5" r="6.6" fill="#bdbdbd" stroke="#4a4a4a" stroke-width="1.0"/>
<g fill="#4a4a4a"><circle cx="37" cy="18.5" r="12.8"/><circle cx="46.6" cy="21" r="5.8"/><circle cx="46.5" cy="23.1" r="5.1"/><circle cx="40" cy="27" r="6"/><circle cx="30.5" cy="26" r="5.2"/><circle cx="27.6" cy="21.4" r="4.7"/><circle cx="28.1" cy="14" r="4.7"/><circle cx="33.5" cy="11.2" r="6"/><circle cx="39.5" cy="9.2" r="5.3"/><circle cx="46.5" cy="13.9" r="4.5"/></g><g fill="#7c7c7c"><circle cx="37" cy="18.5" r="11.8"/><circle cx="46.6" cy="21" r="4.8"/><circle cx="46.5" cy="23.1" r="4.1"/><circle cx="40" cy="27" r="5"/><circle cx="30.5" cy="26" r="4.2"/><circle cx="27.6" cy="21.4" r="3.7"/><circle cx="28.1" cy="14" r="3.7"/><circle cx="33.5" cy="11.2" r="5"/><circle cx="39.5" cy="9.2" r="4.3"/><circle cx="46.5" cy="13.9" r="3.5"/></g>
<g opacity="0.6"><circle cx="34.6" cy="9.2" r="1.1" fill="#666"/><circle cx="33" cy="17.9" r="1.5" fill="#666"/><circle cx="27.3" cy="18.2" r="1.3" fill="#8a8a8a"/><circle cx="42.8" cy="23.5" r="0.8" fill="#666"/><circle cx="37.3" cy="17.2" r="1.3" fill="#5a5a5a"/><circle cx="41.8" cy="16.3" r="0.7" fill="#8a8a8a"/><circle cx="27.5" cy="20.3" r="0.9" fill="#5a5a5a"/><circle cx="37.1" cy="26.9" r="1" fill="#5a5a5a"/><circle cx="29.8" cy="20.2" r="0.6" fill="#8a8a8a"/><circle cx="41.6" cy="23.7" r="0.6" fill="#666"/><circle cx="43.3" cy="21.2" r="1.4" fill="#5a5a5a"/><circle cx="31.2" cy="11.2" r="0.8" fill="#8a8a8a"/><circle cx="32.8" cy="14.5" r="1.1" fill="#5a5a5a"/><circle cx="38" cy="26.1" r="1.5" fill="#8a8a8a"/><circle cx="41.2" cy="26.3" r="0.6" fill="#8a8a8a"/><circle cx="28.7" cy="16.1" r="0.9" fill="#5a5a5a"/><circle cx="31.5" cy="23.7" r="1.4" fill="#5a5a5a"/><circle cx="38.5" cy="21.6" r="1.5" fill="#8a8a8a"/><circle cx="31.3" cy="11.9" r="1.3" fill="#5a5a5a"/><circle cx="44.4" cy="22.6" r="1.2" fill="#666"/><circle cx="40.7" cy="23.7" r="0.7" fill="#5a5a5a"/><circle cx="46" cy="20" r="1.1" fill="#8a8a8a"/><circle cx="38.6" cy="11.7" r="1.5" fill="#666"/><circle cx="35.1" cy="18.6" r="1" fill="#666"/><circle cx="37.2" cy="13.5" r="0.8" fill="#8a8a8a"/></g>
<g fill="#4a4a4a"><circle cx="15" cy="31.5" r="13"/><circle cx="25.9" cy="32.4" r="4.1"/><circle cx="21" cy="38.5" r="5.7"/><circle cx="14.7" cy="42.4" r="5.4"/><circle cx="9.5" cy="39.8" r="5.1"/><circle cx="5.6" cy="35.2" r="5.1"/><circle cx="6.5" cy="25.1" r="4.6"/><circle cx="13" cy="22.9" r="5.6"/><circle cx="16.4" cy="22.7" r="5.4"/><circle cx="23.6" cy="26.1" r="5.4"/></g><g fill="#545454"><circle cx="15" cy="31.5" r="12"/><circle cx="25.9" cy="32.4" r="3.1"/><circle cx="21" cy="38.5" r="4.7"/><circle cx="14.7" cy="42.4" r="4.4"/><circle cx="9.5" cy="39.8" r="4.1"/><circle cx="5.6" cy="35.2" r="4.1"/><circle cx="6.5" cy="25.1" r="3.6"/><circle cx="13" cy="22.9" r="4.6"/><circle cx="16.4" cy="22.7" r="4.4"/><circle cx="23.6" cy="26.1" r="4.4"/></g>
<g opacity="0.6"><circle cx="19.2" cy="39.7" r="0.6" fill="#444"/><circle cx="20.2" cy="24.5" r="0.5" fill="#444"/><circle cx="20.2" cy="26" r="1.2" fill="#444"/><circle cx="14.3" cy="22.6" r="1.4" fill="#444"/><circle cx="10.4" cy="40.2" r="1.5" fill="#6a6a6a"/><circle cx="7.8" cy="32.1" r="0.8" fill="#6a6a6a"/><circle cx="16.9" cy="32.1" r="1.5" fill="#6a6a6a"/><circle cx="19.8" cy="37" r="0.8" fill="#444"/><circle cx="10.6" cy="36" r="1.5" fill="#6a6a6a"/><circle cx="15.6" cy="34.7" r="1.1" fill="#6a6a6a"/><circle cx="20.1" cy="37" r="0.6" fill="#444"/><circle cx="14.1" cy="35.5" r="0.6" fill="#6a6a6a"/><circle cx="18.7" cy="22.8" r="0.9" fill="#6a6a6a"/><circle cx="19.2" cy="39" r="1.2" fill="#444"/><circle cx="14.2" cy="34" r="1.3" fill="#444"/><circle cx="7.6" cy="35.7" r="0.8" fill="#444"/><circle cx="15.8" cy="38.5" r="0.8" fill="#6a6a6a"/><circle cx="12.4" cy="24.6" r="1.5" fill="#6a6a6a"/><circle cx="10" cy="26.6" r="0.8" fill="#6a6a6a"/><circle cx="19.5" cy="28.1" r="0.5" fill="#444"/><circle cx="15.4" cy="34.6" r="1.1" fill="#6a6a6a"/><circle cx="19.7" cy="30.1" r="0.8" fill="#444"/><circle cx="19.5" cy="22.7" r="0.7" fill="#444"/><circle cx="18.1" cy="33" r="0.7" fill="#444"/><circle cx="21.5" cy="33.9" r="0.6" fill="#6a6a6a"/></g>
<g fill="#4a4a4a"><circle cx="26" cy="56" r="8"/><circle cx="31.8" cy="57.4" r="3.3"/><circle cx="29" cy="61.4" r="3.2"/><circle cx="23.8" cy="61.7" r="3.2"/><circle cx="20.5" cy="58.9" r="2.8"/><circle cx="20.9" cy="52.7" r="3.5"/><circle cx="23.6" cy="50.5" r="2.6"/><circle cx="29.1" cy="50.9" r="3.3"/></g><g fill="#686868"><circle cx="26" cy="56" r="7"/><circle cx="31.8" cy="57.4" r="2.4"/><circle cx="29" cy="61.4" r="2.3"/><circle cx="23.8" cy="61.7" r="2.3"/><circle cx="20.5" cy="58.9" r="1.9"/><circle cx="20.9" cy="52.7" r="2.6"/><circle cx="23.6" cy="50.5" r="1.7"/><circle cx="29.1" cy="50.9" r="2.4"/></g>
<g opacity="0.6"><circle cx="24.4" cy="52.3" r="0.7" fill="#555"/><circle cx="22.6" cy="53.5" r="1" fill="#555"/><circle cx="23.9" cy="51.9" r="1.5" fill="#555"/><circle cx="25.8" cy="62" r="1.2" fill="#555"/><circle cx="25.7" cy="51.5" r="1.2" fill="#777"/><circle cx="31.7" cy="56" r="0.6" fill="#777"/><circle cx="26.4" cy="56.2" r="1.2" fill="#777"/><circle cx="21.6" cy="57.2" r="1.1" fill="#777"/><circle cx="21.2" cy="55" r="0.7" fill="#777"/><circle cx="31.1" cy="55.1" r="0.9" fill="#777"/></g>
<g fill="#333"><circle cx="40" cy="45" r="17.5"/><circle cx="52.7" cy="47" r="7.9"/><circle cx="51.2" cy="51.2" r="7.1"/><circle cx="46.2" cy="55.8" r="7.5"/><circle cx="41.2" cy="56.8" r="6.3"/><circle cx="31.4" cy="53.2" r="7.2"/><circle cx="26.4" cy="50.2" r="6.3"/><circle cx="27.2" cy="42.3" r="6.7"/><circle cx="33" cy="33.3" r="5.9"/><circle cx="40.2" cy="32.4" r="6.4"/><circle cx="42.1" cy="33.1" r="7.6"/><circle cx="51.7" cy="40.5" r="6"/></g><g fill="#464646"><circle cx="40" cy="45" r="16.5"/><circle cx="52.7" cy="47" r="6.9"/><circle cx="51.2" cy="51.2" r="6.1"/><circle cx="46.2" cy="55.8" r="6.5"/><circle cx="41.2" cy="56.8" r="5.3"/><circle cx="31.4" cy="53.2" r="6.2"/><circle cx="26.4" cy="50.2" r="5.3"/><circle cx="27.2" cy="42.3" r="5.7"/><circle cx="33" cy="33.3" r="4.9"/><circle cx="40.2" cy="32.4" r="5.4"/><circle cx="42.1" cy="33.1" r="6.6"/><circle cx="51.7" cy="40.5" r="5"/></g>
<g opacity="0.6"><circle cx="29.7" cy="50.6" r="0.6" fill="#262626"/><circle cx="37.4" cy="56.7" r="1.4" fill="#2e2e2e"/><circle cx="39.8" cy="46.8" r="0.5" fill="#262626"/><circle cx="37" cy="38.9" r="0.8" fill="#2e2e2e"/><circle cx="34.1" cy="53.1" r="1.3" fill="#2e2e2e"/><circle cx="40.3" cy="35.1" r="1.5" fill="#5e5e5e"/><circle cx="39.6" cy="53" r="1.4" fill="#2e2e2e"/><circle cx="31.6" cy="41.6" r="0.5" fill="#2e2e2e"/><circle cx="50.4" cy="45.4" r="1.3" fill="#262626"/><circle cx="40.4" cy="40.7" r="1.2" fill="#2e2e2e"/><circle cx="27.6" cy="42.4" r="1.2" fill="#262626"/><circle cx="27.5" cy="46" r="1.1" fill="#262626"/><circle cx="31.4" cy="51.4" r="1.5" fill="#6e6e6e"/><circle cx="40.4" cy="38.8" r="1.6" fill="#5e5e5e"/><circle cx="32.7" cy="42.7" r="1.6" fill="#5e5e5e"/><circle cx="46.3" cy="41.9" r="0.7" fill="#262626"/><circle cx="42.5" cy="56.9" r="1.6" fill="#6e6e6e"/><circle cx="31.3" cy="52.5" r="0.8" fill="#262626"/><circle cx="28.2" cy="49.4" r="0.7" fill="#262626"/><circle cx="35.2" cy="35.3" r="1" fill="#6e6e6e"/><circle cx="48.8" cy="43" r="0.9" fill="#262626"/><circle cx="40.5" cy="56.4" r="1.2" fill="#262626"/><circle cx="40.2" cy="52.4" r="0.6" fill="#262626"/><circle cx="33.6" cy="44.6" r="1.3" fill="#5e5e5e"/><circle cx="36" cy="43.6" r="0.7" fill="#6e6e6e"/><circle cx="35.6" cy="36.7" r="1.2" fill="#262626"/><circle cx="32.2" cy="43.7" r="1.5" fill="#2e2e2e"/><circle cx="42.3" cy="37.8" r="1" fill="#2e2e2e"/><circle cx="41.6" cy="39.6" r="1.1" fill="#5e5e5e"/><circle cx="42.8" cy="33.5" r="1.4" fill="#5e5e5e"/><circle cx="45.1" cy="49.7" r="0.7" fill="#5e5e5e"/><circle cx="31.9" cy="36.4" r="1.2" fill="#6e6e6e"/><circle cx="46.2" cy="41.6" r="0.7" fill="#262626"/><circle cx="39.2" cy="39.4" r="0.8" fill="#2e2e2e"/><circle cx="42.7" cy="33.5" r="0.7" fill="#2e2e2e"/><circle cx="43.7" cy="46.9" r="0.5" fill="#6e6e6e"/><circle cx="51.3" cy="42.1" r="1" fill="#5e5e5e"/><circle cx="48.8" cy="38.6" r="1" fill="#262626"/><circle cx="41.7" cy="46.8" r="0.5" fill="#2e2e2e"/><circle cx="48.1" cy="48.1" r="0.8" fill="#5e5e5e"/><circle cx="45.4" cy="44.6" r="1.5" fill="#262626"/><circle cx="48.2" cy="54.3" r="0.9" fill="#5e5e5e"/><circle cx="40.4" cy="46.1" r="0.8" fill="#6e6e6e"/><circle cx="46.1" cy="40.3" r="1" fill="#6e6e6e"/><circle cx="37" cy="44.9" r="1.5" fill="#2e2e2e"/><circle cx="43.3" cy="37" r="0.9" fill="#2e2e2e"/><circle cx="35.2" cy="55" r="1.5" fill="#6e6e6e"/><circle cx="41.1" cy="47.1" r="1.4" fill="#262626"/><circle cx="38.3" cy="38.4" r="1.6" fill="#5e5e5e"/><circle cx="33.3" cy="39.2" r="1.6" fill="#6e6e6e"/></g>
<ellipse cx="28" cy="40" rx="9" ry="8" fill="#464646"/>
<circle cx="41.1" cy="38.6" r="0.9" fill="#6a6a6a" opacity="0.7"/>
<circle cx="29.2" cy="49.2" r="1.5" fill="#222" opacity="0.7"/>
<circle cx="33.4" cy="23" r="1.2" fill="#6a6a6a" opacity="0.7"/>
<circle cx="17.5" cy="34.2" r="1.5" fill="#5a5a5a" opacity="0.7"/>
<circle cx="33" cy="30.4" r="1.4" fill="#222" opacity="0.7"/>
<circle cx="18.9" cy="33.9" r="1.8" fill="#5a5a5a" opacity="0.7"/>
<circle cx="34.2" cy="36" r="0.8" fill="#6a6a6a" opacity="0.7"/>
<circle cx="37.7" cy="35.6" r="1" fill="#6a6a6a" opacity="0.7"/>
<circle cx="37.5" cy="35.1" r="0.7" fill="#5a5a5a" opacity="0.7"/>
<circle cx="49.7" cy="33.7" r="1.6" fill="#6a6a6a" opacity="0.7"/>
<circle cx="35.4" cy="36.6" r="0.9" fill="#222" opacity="0.7"/>
<circle cx="27.5" cy="42.8" r="0.7" fill="#6a6a6a" opacity="0.7"/>
<circle cx="32.3" cy="35.5" r="1.6" fill="#6a6a6a" opacity="0.7"/>
<circle cx="28" cy="46.5" r="1.5" fill="#2a2a2a" opacity="0.7"/>
<circle cx="40.7" cy="47.8" r="1.6" fill="#222" opacity="0.7"/>
<circle cx="30.7" cy="48.3" r="1.3" fill="#6a6a6a" opacity="0.7"/>
<circle cx="28.1" cy="43.2" r="1.4" fill="#5a5a5a" opacity="0.7"/>
<circle cx="33.1" cy="37.3" r="0.7" fill="#5a5a5a" opacity="0.7"/>
<circle cx="34.1" cy="35.8" r="0.6" fill="#2a2a2a" opacity="0.7"/>
<circle cx="22.6" cy="33.1" r="1.8" fill="#222" opacity="0.7"/>
<circle cx="32.2" cy="35.7" r="0.7" fill="#6a6a6a" opacity="0.7"/>
<circle cx="46.7" cy="29.9" r="1.3" fill="#222" opacity="0.7"/>
<circle cx="47.6" cy="33" r="1.2" fill="#222" opacity="0.7"/>
<circle cx="38.7" cy="42.9" r="1" fill="#222" opacity="0.7"/>
<circle cx="37.9" cy="30.7" r="0.9" fill="#6a6a6a" opacity="0.7"/>
<circle cx="46.1" cy="41" r="0.8" fill="#2a2a2a" opacity="0.7"/>
<circle cx="28" cy="27" r="1.3" fill="#222" opacity="0.7"/>
<circle cx="36.7" cy="24.4" r="1.3" fill="#222" opacity="0.7"/>
<circle cx="31.2" cy="35.3" r="1.7" fill="#5a5a5a" opacity="0.7"/>
<circle cx="33.6" cy="24.8" r="1.1" fill="#2a2a2a" opacity="0.7"/>
<circle cx="28.9" cy="25.8" r="1" fill="#5a5a5a" opacity="0.7"/>
<circle cx="32.1" cy="32.3" r="0.6" fill="#222" opacity="0.7"/>
<circle cx="26.8" cy="39.9" r="1.5" fill="#222" opacity="0.7"/>
<circle cx="35.2" cy="38.7" r="1.7" fill="#6a6a6a" opacity="0.7"/>
<circle cx="38.7" cy="35.2" r="1.5" fill="#2a2a2a" opacity="0.7"/>
<circle cx="37.4" cy="30.9" r="1.4" fill="#222" opacity="0.7"/>
<circle cx="18.7" cy="41.2" r="1.5" fill="#2a2a2a" opacity="0.7"/>
<circle cx="35" cy="38.1" r="1.6" fill="#5a5a5a" opacity="0.7"/>
<circle cx="44.3" cy="30" r="1.5" fill="#2a2a2a" opacity="0.7"/>
<circle cx="33.3" cy="36.7" r="1.8" fill="#6a6a6a" opacity="0.7"/>
<circle cx="68.6" cy="16.3" r="1" fill="#9a9a9a"/>
<circle cx="64.9" cy="21.1" r="1" fill="#9a9a9a"/>
<circle cx="61.2" cy="13.5" r="0.9" fill="#9a9a9a"/>
<circle cx="62" cy="16.9" r="0.8" fill="#9a9a9a"/>
<circle cx="57.9" cy="26.8" r="0.7" fill="#9a9a9a"/>
<circle cx="66.6" cy="13.4" r="0.9" fill="#9a9a9a"/>
<circle cx="45.8" cy="28.4" r="0.5" fill="#9a9a9a"/>
<circle cx="54.6" cy="8.1" r="0.9" fill="#9a9a9a"/>
<circle cx="61.2" cy="12.8" r="0.4" fill="#9a9a9a"/>
<circle cx="56.5" cy="26.1" r="0.9" fill="#9a9a9a"/>
<circle cx="52.7" cy="29.5" r="0.6" fill="#9a9a9a"/>
<circle cx="67.7" cy="3.3" r="0.4" fill="#9a9a9a"/>
<circle cx="59.7" cy="9.4" r="0.8" fill="#9a9a9a"/>
<circle cx="56.9" cy="6" r="0.9" fill="#9a9a9a"/>
<circle cx="45.5" cy="9" r="0.7" fill="#9a9a9a"/>
<circle cx="59.9" cy="9.7" r="0.6" fill="#9a9a9a"/>
<circle cx="49.3" cy="24.7" r="0.6" fill="#9a9a9a"/>
<circle cx="50" cy="26.5" r="0.9" fill="#9a9a9a"/>
<circle cx="66.1" cy="16.7" r="1" fill="#9a9a9a"/>
<circle cx="54.8" cy="27.1" r="1" fill="#9a9a9a"/>
<circle cx="59.4" cy="15.2" r="0.8" fill="#9a9a9a"/>
<circle cx="61.7" cy="7.3" r="1" fill="#9a9a9a"/>
<circle cx="62.5" cy="28" r="0.9" fill="#9a9a9a"/>
<circle cx="49.6" cy="0.9" r="0.6" fill="#9a9a9a"/>
<circle cx="64.2" cy="28.4" r="0.5" fill="#9a9a9a"/>
<circle cx="53.6" cy="0.2" r="0.6" fill="#9a9a9a"/>
<circle cx="48.6" cy="19.2" r="0.8" fill="#9a9a9a"/>
<circle cx="66.9" cy="3.6" r="0.6" fill="#9a9a9a"/>
<circle cx="50.5" cy="19.2" r="0.7" fill="#9a9a9a"/>
<circle cx="59.7" cy="0.2" r="0.5" fill="#9a9a9a"/>
</g>
<rect x="180.3" y="684.6" width="69.5" height="69.5" filter="url(#grain)" opacity="0.25"/>
</g>
<rect x="223.10000000000002" y="748.3000000000001" width="22.6" height="1.7" fill="#fff"/>
<g clip-path="url(#cpg1)">
<rect x="31.2" y="811.6" width="69.5" height="69.5" fill="#bcbcbc"/>
<g transform="translate(31.2,811.6)" filter="url(#soft)">
<ellipse cx="25" cy="14" rx="7" ry="4" fill="#a5a5a5" opacity="0.6"/>
<ellipse cx="50" cy="28" rx="6" ry="5" fill="#a8a8a8" opacity="0.6"/>
<ellipse cx="18" cy="50" rx="8" ry="6" fill="#ababab" opacity="0.5"/>
<ellipse cx="40" cy="45" rx="6" ry="5" fill="#aaaaaa" opacity="0.6"/>
<ellipse cx="19.2" cy="31.7" rx="2.2" ry="1.7" fill="#c8c8c8" stroke="#7a7a7a" stroke-width="0.6" transform="rotate(148 19.2 31.7)"/>
<ellipse cx="13.3" cy="47.5" rx="1.5" ry="1.3" fill="#b0b0b0" stroke="#7a7a7a" stroke-width="0.6" transform="rotate(91 13.3 47.5)"/>
<ellipse cx="25.4" cy="64.1" rx="1.8" ry="1.5" fill="#c8c8c8" stroke="#7a7a7a" stroke-width="0.6" transform="rotate(51 25.4 64.1)"/>
<circle cx="17" cy="53.8" r="0.8" fill="#c8c8c8" stroke="#7a7a7a" stroke-width="0.6"/>
<circle cx="50.5" cy="1.9" r="2" fill="#b0b0b0" stroke="#7a7a7a" stroke-width="0.6"/>
<circle cx="57.4" cy="57.2" r="0.9" fill="#a5a5a5" stroke="#7a7a7a" stroke-width="0.6"/>
<circle cx="53" cy="53.2" r="0.8" fill="#c8c8c8" stroke="#7a7a7a" stroke-width="0.6"/>
<circle cx="23.9" cy="6.2" r="1.4" fill="#c8c8c8" stroke="#7a7a7a" stroke-width="0.6"/>
<ellipse cx="46.7" cy="52" rx="2.1" ry="1.7" fill="#b0b0b0" stroke="#7a7a7a" stroke-width="0.6" transform="rotate(78 46.7 52)"/>
<ellipse cx="42.9" cy="35.8" rx="0.9" ry="0.7" fill="#a5a5a5" stroke="#7a7a7a" stroke-width="0.6" transform="rotate(162 42.9 35.8)"/>
<ellipse cx="3.9" cy="10.7" rx="1" ry="0.8" fill="#c8c8c8" stroke="#7a7a7a" stroke-width="0.6" transform="rotate(142 3.9 10.7)"/>
<ellipse cx="68.6" cy="16" rx="0.8" ry="0.7" fill="#c8c8c8" stroke="#7a7a7a" stroke-width="0.6" transform="rotate(10 68.6 16)"/>
<ellipse cx="29.2" cy="6.6" rx="1.3" ry="1" fill="#b0b0b0" stroke="#7a7a7a" stroke-width="0.6" transform="rotate(73 29.2 6.6)"/>
<circle cx="7.7" cy="46.8" r="1.2" fill="#b0b0b0" stroke="#7a7a7a" stroke-width="0.6"/>
<ellipse cx="23.2" cy="36.2" rx="2.4" ry="2.1" fill="#a5a5a5" stroke="#7a7a7a" stroke-width="0.6" transform="rotate(3 23.2 36.2)"/>
<circle cx="28.8" cy="15.8" r="0.9" fill="#c8c8c8" stroke="#7a7a7a" stroke-width="0.6"/>
<ellipse cx="42.8" cy="47.8" rx="1.9" ry="1.7" fill="#b0b0b0" stroke="#7a7a7a" stroke-width="0.6" transform="rotate(5 42.8 47.8)"/>
<ellipse cx="39.7" cy="35.2" rx="1.8" ry="1.3" fill="#a5a5a5" stroke="#7a7a7a" stroke-width="0.6" transform="rotate(157 39.7 35.2)"/>
<circle cx="-1" cy="6.7" r="1.6" fill="#b0b0b0" stroke="#7a7a7a" stroke-width="0.6"/>
<circle cx="68.1" cy="16.4" r="1" fill="#a5a5a5" stroke="#7a7a7a" stroke-width="0.6"/>
<circle cx="55.4" cy="32.3" r="2.1" fill="#a5a5a5" stroke="#7a7a7a" stroke-width="0.6"/>
<circle cx="20.3" cy="15.4" r="0.8" fill="#b0b0b0" stroke="#7a7a7a" stroke-width="0.6"/>
<circle cx="37.9" cy="-0.3" r="1.2" fill="#c8c8c8" stroke="#7a7a7a" stroke-width="0.6"/>
<circle cx="7.3" cy="53.4" r="1.5" fill="#c8c8c8" stroke="#7a7a7a" stroke-width="0.6"/>
<ellipse cx="69.3" cy="26.4" rx="1.5" ry="1.4" fill="#c8c8c8" stroke="#7a7a7a" stroke-width="0.6" transform="rotate(105 69.3 26.4)"/>
<circle cx="51.2" cy="32.2" r="0.8" fill="#c8c8c8" stroke="#7a7a7a" stroke-width="0.6"/>
<ellipse cx="43.1" cy="3.5" rx="0.8" ry="0.7" fill="#c8c8c8" stroke="#7a7a7a" stroke-width="0.6" transform="rotate(92 43.1 3.5)"/>
<ellipse cx="52.5" cy="30" rx="1.2" ry="1" fill="#b0b0b0" stroke="#7a7a7a" stroke-width="0.6" transform="rotate(64 52.5 30)"/>
<circle cx="56.9" cy="50.6" r="0.8" fill="#c8c8c8" stroke="#7a7a7a" stroke-width="0.6"/>
<ellipse cx="63.4" cy="63.7" rx="1.2" ry="1.1" fill="#c8c8c8" stroke="#7a7a7a" stroke-width="0.6" transform="rotate(43 63.4 63.7)"/>
<g fill="#6a6a6a"><circle cx="22.7" cy="43.4" r="1.9"/><circle cx="23.8" cy="43.2" r="0.9"/><circle cx="23.3" cy="44.4" r="1"/><circle cx="22.1" cy="44.6" r="0.9"/><circle cx="21.6" cy="43.9" r="0.8"/><circle cx="21.7" cy="42.6" r="0.9"/><circle cx="22.6" cy="42.1" r="0.8"/><circle cx="23.2" cy="42.3" r="0.9"/></g><g fill="#989898"><circle cx="22.7" cy="43.4" r="1.2"/><circle cx="23.8" cy="43.2" r="0.3"/><circle cx="23.3" cy="44.4" r="0.3"/><circle cx="22.1" cy="44.6" r="0.3"/><circle cx="21.6" cy="43.9" r="0.3"/><circle cx="21.7" cy="42.6" r="0.3"/><circle cx="22.6" cy="42.1" r="0.3"/><circle cx="23.2" cy="42.3" r="0.3"/></g>
<g opacity="0.6"><circle cx="23.2" cy="43.3" r="1.6" fill="#888"/><circle cx="23.5" cy="42.8" r="0.7" fill="#7a7a7a"/></g>
<g fill="#6a6a6a"><circle cx="57.6" cy="69.9" r="2.4"/><circle cx="59.1" cy="70" r="1"/><circle cx="58.2" cy="71.4" r="1.1"/><circle cx="57.5" cy="71.7" r="1"/><circle cx="56.1" cy="70.4" r="1"/><circle cx="55.8" cy="69.6" r="1"/><circle cx="57.4" cy="68.3" r="1"/><circle cx="58.4" cy="68.6" r="1.1"/></g><g fill="#989898"><circle cx="57.6" cy="69.9" r="1.7"/><circle cx="59.1" cy="70" r="0.3"/><circle cx="58.2" cy="71.4" r="0.4"/><circle cx="57.5" cy="71.7" r="0.3"/><circle cx="56.1" cy="70.4" r="0.3"/><circle cx="55.8" cy="69.6" r="0.3"/><circle cx="57.4" cy="68.3" r="0.3"/><circle cx="58.4" cy="68.6" r="0.4"/></g>
<g opacity="0.6"><circle cx="57.8" cy="71" r="0.8" fill="#7a7a7a"/><circle cx="56.8" cy="68.9" r="0.9" fill="#888"/><circle cx="56.8" cy="70.5" r="1" fill="#888"/></g>
<g fill="#6a6a6a"><circle cx="35.9" cy="41.6" r="3.2"/><circle cx="38.2" cy="41.1" r="1.5"/><circle cx="37.1" cy="43.6" r="1.4"/><circle cx="35.1" cy="44" r="1.4"/><circle cx="33.8" cy="42.5" r="1.5"/><circle cx="34.1" cy="40.2" r="1.5"/><circle cx="35" cy="39.5" r="1.2"/><circle cx="37.5" cy="40" r="1.4"/></g><g fill="#aaaaaa"><circle cx="35.9" cy="41.6" r="2.5"/><circle cx="38.2" cy="41.1" r="0.8"/><circle cx="37.1" cy="43.6" r="0.7"/><circle cx="35.1" cy="44" r="0.7"/><circle cx="33.8" cy="42.5" r="0.8"/><circle cx="34.1" cy="40.2" r="0.8"/><circle cx="35" cy="39.5" r="0.5"/><circle cx="37.5" cy="40" r="0.7"/></g>
<g opacity="0.6"><circle cx="34.8" cy="41.6" r="1.1" fill="#7a7a7a"/><circle cx="34.4" cy="41.7" r="1" fill="#7a7a7a"/><circle cx="35.9" cy="42.3" r="0.9" fill="#7a7a7a"/><circle cx="33.9" cy="41.5" r="1" fill="#888"/></g>
<g fill="#6a6a6a"><circle cx="65.2" cy="32" r="2"/><circle cx="66.4" cy="32.4" r="1"/><circle cx="65.9" cy="33.3" r="0.9"/><circle cx="64.8" cy="33.4" r="0.9"/><circle cx="63.8" cy="32.3" r="1.1"/><circle cx="63.9" cy="31.7" r="0.9"/><circle cx="64.4" cy="30.7" r="0.9"/><circle cx="65.8" cy="30.7" r="1"/></g><g fill="#989898"><circle cx="65.2" cy="32" r="1.3"/><circle cx="66.4" cy="32.4" r="0.3"/><circle cx="65.9" cy="33.3" r="0.3"/><circle cx="64.8" cy="33.4" r="0.3"/><circle cx="63.8" cy="32.3" r="0.4"/><circle cx="63.9" cy="31.7" r="0.3"/><circle cx="64.4" cy="30.7" r="0.3"/><circle cx="65.8" cy="30.7" r="0.3"/></g>
<g opacity="0.6"><circle cx="64.2" cy="32.6" r="1.3" fill="#888"/><circle cx="65.3" cy="33.1" r="1.3" fill="#7a7a7a"/></g>
<g fill="#6a6a6a"><circle cx="2.6" cy="42.5" r="2.8"/><circle cx="4.2" cy="42.9" r="1.4"/><circle cx="4" cy="43.7" r="1.2"/><circle cx="1.7" cy="44.4" r="1"/><circle cx="0.7" cy="42.9" r="1.1"/><circle cx="1" cy="41.9" r="1.3"/><circle cx="2.2" cy="40.5" r="1.2"/><circle cx="3.9" cy="41" r="1.3"/></g><g fill="#989898"><circle cx="2.6" cy="42.5" r="2.1"/><circle cx="4.2" cy="42.9" r="0.7"/><circle cx="4" cy="43.7" r="0.5"/><circle cx="1.7" cy="44.4" r="0.3"/><circle cx="0.7" cy="42.9" r="0.4"/><circle cx="1" cy="41.9" r="0.6"/><circle cx="2.2" cy="40.5" r="0.5"/><circle cx="3.9" cy="41" r="0.6"/></g>
<g opacity="0.6"><circle cx="1.2" cy="42.8" r="0.8" fill="#7a7a7a"/><circle cx="2.8" cy="42.2" r="0.5" fill="#7a7a7a"/><circle cx="3" cy="41.6" r="1" fill="#7a7a7a"/></g>
<g fill="#6a6a6a"><circle cx="67.6" cy="22.5" r="4.7"/><circle cx="70.9" cy="23.2" r="1.8"/><circle cx="68.9" cy="25.6" r="1.8"/><circle cx="67.1" cy="26.2" r="1.7"/><circle cx="64.2" cy="23.5" r="1.7"/><circle cx="64.1" cy="21.2" r="1.7"/><circle cx="66.7" cy="19.4" r="1.9"/><circle cx="70.2" cy="20.5" r="1.7"/></g><g fill="#c4c4c4"><circle cx="67.6" cy="22.5" r="4"/><circle cx="70.9" cy="23.2" r="1.1"/><circle cx="68.9" cy="25.6" r="1.1"/><circle cx="67.1" cy="26.2" r="1"/><circle cx="64.2" cy="23.5" r="1"/><circle cx="64.1" cy="21.2" r="1"/><circle cx="66.7" cy="19.4" r="1.2"/><circle cx="70.2" cy="20.5" r="1"/></g>
<g opacity="0.6"><circle cx="65" cy="20.3" r="1.4" fill="#888"/><circle cx="69.5" cy="23.2" r="1.4" fill="#7a7a7a"/><circle cx="65.7" cy="24.8" r="1.2" fill="#7a7a7a"/><circle cx="71" cy="22" r="1.3" fill="#888"/><circle cx="70.8" cy="21.6" r="1.1" fill="#888"/><circle cx="68.8" cy="20.3" r="1.1" fill="#7a7a7a"/></g>
<g fill="#6a6a6a"><circle cx="66.2" cy="68.6" r="3.9"/><circle cx="69.3" cy="69" r="1.9"/><circle cx="67.4" cy="71.4" r="1.8"/><circle cx="65" cy="71.3" r="1.8"/><circle cx="63.3" cy="69.1" r="1.6"/><circle cx="64" cy="67.3" r="1.8"/><circle cx="65.1" cy="65.7" r="1.6"/><circle cx="67.8" cy="65.9" r="1.6"/></g><g fill="#989898"><circle cx="66.2" cy="68.6" r="3.2"/><circle cx="69.3" cy="69" r="1.2"/><circle cx="67.4" cy="71.4" r="1.1"/><circle cx="65" cy="71.3" r="1.1"/><circle cx="63.3" cy="69.1" r="0.9"/><circle cx="64" cy="67.3" r="1.1"/><circle cx="65.1" cy="65.7" r="0.9"/><circle cx="67.8" cy="65.9" r="0.9"/></g>
<g opacity="0.6"><circle cx="64.7" cy="70.7" r="0.7" fill="#888"/><circle cx="67" cy="69.1" r="0.9" fill="#7a7a7a"/><circle cx="66.7" cy="66.9" r="1.3" fill="#888"/><circle cx="64.7" cy="67.3" r="1" fill="#7a7a7a"/><circle cx="67.8" cy="67.4" r="0.7" fill="#7a7a7a"/></g>
<g fill="#6a6a6a"><circle cx="42.3" cy="10.9" r="4.6"/><circle cx="45.2" cy="10.5" r="2"/><circle cx="44.2" cy="13.9" r="1.9"/><circle cx="42.3" cy="13.9" r="2.3"/><circle cx="39.6" cy="12.7" r="2"/><circle cx="39.5" cy="8.6" r="1.7"/><circle cx="41.1" cy="8.1" r="2"/><circle cx="44.9" cy="8.4" r="1.6"/></g><g fill="#aaaaaa"><circle cx="42.3" cy="10.9" r="3.9"/><circle cx="45.2" cy="10.5" r="1.3"/><circle cx="44.2" cy="13.9" r="1.2"/><circle cx="42.3" cy="13.9" r="1.6"/><circle cx="39.6" cy="12.7" r="1.3"/><circle cx="39.5" cy="8.6" r="1"/><circle cx="41.1" cy="8.1" r="1.3"/><circle cx="44.9" cy="8.4" r="0.9"/></g>
<g opacity="0.6"><circle cx="43.5" cy="11.6" r="1" fill="#7a7a7a"/><circle cx="41.3" cy="11.2" r="0.8" fill="#888"/><circle cx="43.3" cy="9.6" r="1.2" fill="#888"/><circle cx="45" cy="9.4" r="1.5" fill="#7a7a7a"/><circle cx="43.9" cy="8.5" r="1.5" fill="#888"/><circle cx="43.1" cy="12.3" r="0.6" fill="#888"/></g>
<g fill="#6a6a6a"><circle cx="20.9" cy="1.2" r="2.6"/><circle cx="22.4" cy="0.9" r="1.3"/><circle cx="22.2" cy="2.7" r="1.1"/><circle cx="20.9" cy="3.2" r="1.1"/><circle cx="18.9" cy="1.7" r="1.1"/><circle cx="19.4" cy="-0" r="1.3"/><circle cx="20.3" cy="-0.5" r="1.4"/><circle cx="22" cy="-0" r="1.3"/></g><g fill="#c4c4c4"><circle cx="20.9" cy="1.2" r="1.9"/><circle cx="22.4" cy="0.9" r="0.6"/><circle cx="22.2" cy="2.7" r="0.4"/><circle cx="20.9" cy="3.2" r="0.4"/><circle cx="18.9" cy="1.7" r="0.4"/><circle cx="19.4" cy="-0" r="0.6"/><circle cx="20.3" cy="-0.5" r="0.7"/><circle cx="22" cy="-0" r="0.6"/></g>
<g opacity="0.6"><circle cx="22.3" cy="1.8" r="1.4" fill="#888"/><circle cx="22.5" cy="1.6" r="0.9" fill="#7a7a7a"/><circle cx="21.3" cy="2.7" r="1" fill="#7a7a7a"/></g>
<g fill="#6a6a6a"><circle cx="2" cy="6.8" r="2"/><circle cx="3.3" cy="6.7" r="0.9"/><circle cx="3" cy="7.5" r="0.9"/><circle cx="1.7" cy="8" r="0.9"/><circle cx="1" cy="7.4" r="0.9"/><circle cx="1" cy="6.6" r="1"/><circle cx="1.8" cy="5.4" r="0.9"/><circle cx="2.6" cy="5.8" r="1"/></g><g fill="#989898"><circle cx="2" cy="6.8" r="1.3"/><circle cx="3.3" cy="6.7" r="0.3"/><circle cx="3" cy="7.5" r="0.3"/><circle cx="1.7" cy="8" r="0.3"/><circle cx="1" cy="7.4" r="0.3"/><circle cx="1" cy="6.6" r="0.3"/><circle cx="1.8" cy="5.4" r="0.3"/><circle cx="2.6" cy="5.8" r="0.3"/></g>
<g opacity="0.6"><circle cx="1.7" cy="6.5" r="1.3" fill="#888"/><circle cx="2.8" cy="6.1" r="1" fill="#888"/></g>
<g fill="#6a6a6a"><circle cx="29.1" cy="34.6" r="3.5"/><circle cx="31.4" cy="35.2" r="1.4"/><circle cx="31" cy="36.4" r="1.5"/><circle cx="28.5" cy="37.1" r="1.3"/><circle cx="27" cy="35.9" r="1.2"/><circle cx="27.2" cy="33" r="1.3"/><circle cx="28.6" cy="32.2" r="1.4"/><circle cx="30.9" cy="32.7" r="1.4"/></g><g fill="#aaaaaa"><circle cx="29.1" cy="34.6" r="2.8"/><circle cx="31.4" cy="35.2" r="0.7"/><circle cx="31" cy="36.4" r="0.8"/><circle cx="28.5" cy="37.1" r="0.6"/><circle cx="27" cy="35.9" r="0.5"/><circle cx="27.2" cy="33" r="0.6"/><circle cx="28.6" cy="32.2" r="0.7"/><circle cx="30.9" cy="32.7" r="0.7"/></g>
<g opacity="0.6"><circle cx="26.6" cy="34.5" r="1.5" fill="#888"/><circle cx="28.8" cy="36.9" r="1.2" fill="#7a7a7a"/><circle cx="29.7" cy="36.1" r="0.8" fill="#888"/><circle cx="29.2" cy="35.3" r="0.9" fill="#7a7a7a"/></g>
<g fill="#6a6a6a"><circle cx="20.6" cy="6.6" r="2.5"/><circle cx="22.2" cy="7" r="1"/><circle cx="21.7" cy="8" r="1.1"/><circle cx="20.6" cy="8.4" r="1"/><circle cx="19.2" cy="7.6" r="1.2"/><circle cx="18.9" cy="6" r="1"/><circle cx="20.5" cy="5" r="1.3"/><circle cx="21.9" cy="5.6" r="1.1"/></g><g fill="#989898"><circle cx="20.6" cy="6.6" r="1.8"/><circle cx="22.2" cy="7" r="0.3"/><circle cx="21.7" cy="8" r="0.4"/><circle cx="20.6" cy="8.4" r="0.3"/><circle cx="19.2" cy="7.6" r="0.5"/><circle cx="18.9" cy="6" r="0.3"/><circle cx="20.5" cy="5" r="0.6"/><circle cx="21.9" cy="5.6" r="0.4"/></g>
<g opacity="0.6"><circle cx="20.7" cy="7.9" r="0.9" fill="#888"/><circle cx="20.7" cy="6.1" r="0.6" fill="#888"/><circle cx="21.4" cy="6" r="1.5" fill="#7a7a7a"/></g>
<g fill="#6a6a6a"><circle cx="11.2" cy="30.9" r="3.4"/><circle cx="13.5" cy="30.9" r="1.5"/><circle cx="12.4" cy="32.7" r="1.7"/><circle cx="11.2" cy="33.4" r="1.3"/><circle cx="9.4" cy="31.9" r="1.7"/><circle cx="8.9" cy="29.8" r="1.4"/><circle cx="10.8" cy="28.4" r="1.7"/><circle cx="12.7" cy="29" r="1.4"/></g><g fill="#aaaaaa"><circle cx="11.2" cy="30.9" r="2.7"/><circle cx="13.5" cy="30.9" r="0.8"/><circle cx="12.4" cy="32.7" r="1"/><circle cx="11.2" cy="33.4" r="0.6"/><circle cx="9.4" cy="31.9" r="1"/><circle cx="8.9" cy="29.8" r="0.7"/><circle cx="10.8" cy="28.4" r="1"/><circle cx="12.7" cy="29" r="0.7"/></g>
<g opacity="0.6"><circle cx="11.2" cy="31.5" r="1.2" fill="#888"/><circle cx="9.5" cy="32.2" r="0.6" fill="#7a7a7a"/><circle cx="12.4" cy="31.4" r="1.2" fill="#888"/><circle cx="13.4" cy="30.2" r="0.8" fill="#888"/></g>
<g fill="#6a6a6a"><circle cx="6.6" cy="52.6" r="3.7"/><circle cx="9" cy="51.9" r="1.8"/><circle cx="9" cy="54.2" r="1.6"/><circle cx="5.4" cy="55" r="1.8"/><circle cx="4" cy="53.6" r="1.6"/><circle cx="4.1" cy="51.5" r="1.5"/><circle cx="6.8" cy="49.6" r="1.7"/><circle cx="7.9" cy="50.6" r="1.8"/></g><g fill="#aaaaaa"><circle cx="6.6" cy="52.6" r="3"/><circle cx="9" cy="51.9" r="1.1"/><circle cx="9" cy="54.2" r="0.9"/><circle cx="5.4" cy="55" r="1.1"/><circle cx="4" cy="53.6" r="0.9"/><circle cx="4.1" cy="51.5" r="0.8"/><circle cx="6.8" cy="49.6" r="1"/><circle cx="7.9" cy="50.6" r="1.1"/></g>
<g opacity="0.6"><circle cx="4.9" cy="51.2" r="1.3" fill="#7a7a7a"/><circle cx="6.3" cy="54.7" r="1.3" fill="#7a7a7a"/><circle cx="6.4" cy="52.1" r="0.7" fill="#888"/><circle cx="4.6" cy="52.2" r="0.6" fill="#7a7a7a"/><circle cx="7.6" cy="52" r="1" fill="#7a7a7a"/></g>
<g fill="#6a6a6a"><circle cx="49.2" cy="59.8" r="1.9"/><circle cx="50.4" cy="59.7" r="0.8"/><circle cx="50.2" cy="60.7" r="0.9"/><circle cx="48.6" cy="60.9" r="1"/><circle cx="48.4" cy="60.5" r="1"/><circle cx="48.1" cy="59.4" r="0.8"/><circle cx="49.2" cy="58.5" r="0.9"/><circle cx="50.1" cy="59" r="1"/></g><g fill="#989898"><circle cx="49.2" cy="59.8" r="1.2"/><circle cx="50.4" cy="59.7" r="0.3"/><circle cx="50.2" cy="60.7" r="0.3"/><circle cx="48.6" cy="60.9" r="0.3"/><circle cx="48.4" cy="60.5" r="0.3"/><circle cx="48.1" cy="59.4" r="0.3"/><circle cx="49.2" cy="58.5" r="0.3"/><circle cx="50.1" cy="59" r="0.3"/></g>
<g opacity="0.6"><circle cx="48.4" cy="60.7" r="1.3" fill="#888"/><circle cx="48.8" cy="59.4" r="1.5" fill="#7a7a7a"/></g>
<g fill="#6a6a6a"><circle cx="15.5" cy="22.8" r="4.8"/><circle cx="19.3" cy="23.7" r="1.7"/><circle cx="17.9" cy="24.7" r="2.2"/><circle cx="13.8" cy="25.7" r="2.1"/><circle cx="12.2" cy="24" r="2"/><circle cx="12.1" cy="22" r="1.6"/><circle cx="15.4" cy="19.7" r="2.3"/><circle cx="17.8" cy="20.3" r="1.7"/></g><g fill="#aaaaaa"><circle cx="15.5" cy="22.8" r="4.1"/><circle cx="19.3" cy="23.7" r="1"/><circle cx="17.9" cy="24.7" r="1.5"/><circle cx="13.8" cy="25.7" r="1.4"/><circle cx="12.2" cy="24" r="1.3"/><circle cx="12.1" cy="22" r="0.9"/><circle cx="15.4" cy="19.7" r="1.6"/><circle cx="17.8" cy="20.3" r="1"/></g>
<g opacity="0.6"><circle cx="12.2" cy="22.2" r="1.4" fill="#888"/><circle cx="17.1" cy="23" r="0.9" fill="#7a7a7a"/><circle cx="18.8" cy="22.3" r="1.3" fill="#7a7a7a"/><circle cx="15.4" cy="26.3" r="1.4" fill="#7a7a7a"/><circle cx="12.6" cy="23.2" r="0.7" fill="#888"/><circle cx="17" cy="20.6" r="1.3" fill="#888"/></g>
<g fill="#6a6a6a"><circle cx="66.6" cy="18.9" r="2.1"/><circle cx="67.9" cy="19.1" r="1"/><circle cx="67.7" cy="19.6" r="1"/><circle cx="66.3" cy="20.3" r="1"/><circle cx="65.6" cy="19.5" r="1"/><circle cx="65.4" cy="18.2" r="1"/><circle cx="66.5" cy="17.4" r="0.9"/><circle cx="67.4" cy="17.9" r="1"/></g><g fill="#a0a0a0"><circle cx="66.6" cy="18.9" r="1.4"/><circle cx="67.9" cy="19.1" r="0.3"/><circle cx="67.7" cy="19.6" r="0.3"/><circle cx="66.3" cy="20.3" r="0.3"/><circle cx="65.6" cy="19.5" r="0.3"/><circle cx="65.4" cy="18.2" r="0.3"/><circle cx="66.5" cy="17.4" r="0.3"/><circle cx="67.4" cy="17.9" r="0.3"/></g>
<g opacity="0.6"><circle cx="65.6" cy="19.3" r="0.9" fill="#888"/><circle cx="65.7" cy="18.6" r="1.2" fill="#888"/></g>
<g fill="#6a6a6a"><circle cx="35" cy="32.7" r="2"/><circle cx="36.4" cy="32.5" r="0.9"/><circle cx="36.1" cy="33.7" r="0.9"/><circle cx="34.7" cy="34.1" r="1"/><circle cx="33.7" cy="33.1" r="0.8"/><circle cx="33.7" cy="32.2" r="0.9"/><circle cx="34.6" cy="31.4" r="0.8"/><circle cx="35.9" cy="31.8" r="1"/></g><g fill="#a0a0a0"><circle cx="35" cy="32.7" r="1.3"/><circle cx="36.4" cy="32.5" r="0.3"/><circle cx="36.1" cy="33.7" r="0.3"/><circle cx="34.7" cy="34.1" r="0.3"/><circle cx="33.7" cy="33.1" r="0.3"/><circle cx="33.7" cy="32.2" r="0.3"/><circle cx="34.6" cy="31.4" r="0.3"/><circle cx="35.9" cy="31.8" r="0.3"/></g>
<g opacity="0.6"><circle cx="35.8" cy="32.2" r="1.1" fill="#888"/><circle cx="35.4" cy="32.4" r="0.6" fill="#7a7a7a"/></g>
<g fill="#6a6a6a"><circle cx="14.8" cy="43.8" r="2.4"/><circle cx="16.6" cy="44" r="1"/><circle cx="16" cy="45" r="1.2"/><circle cx="14.1" cy="45.2" r="1.1"/><circle cx="13.3" cy="44.4" r="1.1"/><circle cx="13.5" cy="42.8" r="1.2"/><circle cx="13.9" cy="42.2" r="1"/><circle cx="16.1" cy="42.8" r="1.3"/></g><g fill="#c4c4c4"><circle cx="14.8" cy="43.8" r="1.7"/><circle cx="16.6" cy="44" r="0.3"/><circle cx="16" cy="45" r="0.5"/><circle cx="14.1" cy="45.2" r="0.4"/><circle cx="13.3" cy="44.4" r="0.4"/><circle cx="13.5" cy="42.8" r="0.5"/><circle cx="13.9" cy="42.2" r="0.3"/><circle cx="16.1" cy="42.8" r="0.6"/></g>
<g opacity="0.6"><circle cx="14.8" cy="43.4" r="1.4" fill="#7a7a7a"/><circle cx="13.4" cy="43.3" r="0.9" fill="#888"/><circle cx="14.9" cy="42.7" r="0.6" fill="#7a7a7a"/></g>
<g fill="#6a6a6a"><circle cx="29.8" cy="18.1" r="2.7"/><circle cx="31.6" cy="18.6" r="1.1"/><circle cx="30.8" cy="19.5" r="1.4"/><circle cx="29.4" cy="20.1" r="1"/><circle cx="27.9" cy="18.4" r="1.4"/><circle cx="28.2" cy="17" r="1.1"/><circle cx="29.2" cy="16.2" r="1.1"/><circle cx="31.2" cy="16.8" r="1.3"/></g><g fill="#aaaaaa"><circle cx="29.8" cy="18.1" r="2"/><circle cx="31.6" cy="18.6" r="0.4"/><circle cx="30.8" cy="19.5" r="0.7"/><circle cx="29.4" cy="20.1" r="0.3"/><circle cx="27.9" cy="18.4" r="0.7"/><circle cx="28.2" cy="17" r="0.4"/><circle cx="29.2" cy="16.2" r="0.4"/><circle cx="31.2" cy="16.8" r="0.6"/></g>
<g opacity="0.6"><circle cx="29.9" cy="18.3" r="1.5" fill="#888"/><circle cx="31.5" cy="17.5" r="0.6" fill="#7a7a7a"/><circle cx="30.9" cy="17.9" r="1.1" fill="#7a7a7a"/></g>
<g fill="#6a6a6a"><circle cx="43.6" cy="38.5" r="5.1"/><circle cx="47.2" cy="38.6" r="1.8"/><circle cx="45.5" cy="41.3" r="2.1"/><circle cx="43.7" cy="42.4" r="2.3"/><circle cx="40.6" cy="40.6" r="1.9"/><circle cx="40.7" cy="36" r="2.2"/><circle cx="41.9" cy="34.8" r="1.9"/><circle cx="46.2" cy="35.3" r="2.1"/></g><g fill="#a0a0a0"><circle cx="43.6" cy="38.5" r="4.4"/><circle cx="47.2" cy="38.6" r="1.1"/><circle cx="45.5" cy="41.3" r="1.4"/><circle cx="43.7" cy="42.4" r="1.6"/><circle cx="40.6" cy="40.6" r="1.2"/><circle cx="40.7" cy="36" r="1.5"/><circle cx="41.9" cy="34.8" r="1.2"/><circle cx="46.2" cy="35.3" r="1.4"/></g>
<g opacity="0.6"><circle cx="44.5" cy="42" r="1.3" fill="#7a7a7a"/><circle cx="47.3" cy="38.6" r="1.5" fill="#888"/><circle cx="44.7" cy="35.6" r="1" fill="#888"/><circle cx="45.6" cy="35.4" r="1.4" fill="#888"/><circle cx="44.2" cy="38.9" r="0.9" fill="#888"/><circle cx="43.1" cy="35.4" r="0.7" fill="#888"/><circle cx="41.1" cy="39.9" r="1" fill="#888"/></g>
<g fill="#6a6a6a"><circle cx="67.5" cy="28.6" r="3"/><circle cx="69.6" cy="28" r="1.4"/><circle cx="68.4" cy="30.5" r="1.4"/><circle cx="66.6" cy="30.3" r="1.2"/><circle cx="65.9" cy="29.4" r="1.4"/><circle cx="66" cy="27.4" r="1.4"/><circle cx="66.6" cy="26.8" r="1.3"/><circle cx="69.2" cy="27" r="1.3"/></g><g fill="#aaaaaa"><circle cx="67.5" cy="28.6" r="2.3"/><circle cx="69.6" cy="28" r="0.7"/><circle cx="68.4" cy="30.5" r="0.7"/><circle cx="66.6" cy="30.3" r="0.5"/><circle cx="65.9" cy="29.4" r="0.7"/><circle cx="66" cy="27.4" r="0.7"/><circle cx="66.6" cy="26.8" r="0.6"/><circle cx="69.2" cy="27" r="0.6"/></g>
<g opacity="0.6"><circle cx="66.7" cy="29.7" r="0.6" fill="#7a7a7a"/><circle cx="66.6" cy="27.3" r="0.7" fill="#888"/><circle cx="67.8" cy="28.8" r="1.5" fill="#888"/></g>
<g fill="#6a6a6a"><circle cx="47.9" cy="3.5" r="2.9"/><circle cx="50" cy="3.5" r="1.3"/><circle cx="48.7" cy="5.2" r="1.4"/><circle cx="47.6" cy="5.3" r="1.4"/><circle cx="45.9" cy="4.3" r="1.1"/><circle cx="46.4" cy="2.1" r="1.3"/><circle cx="47.6" cy="1.3" r="1.1"/><circle cx="49.5" cy="2.1" r="1.3"/></g><g fill="#aaaaaa"><circle cx="47.9" cy="3.5" r="2.2"/><circle cx="50" cy="3.5" r="0.6"/><circle cx="48.7" cy="5.2" r="0.7"/><circle cx="47.6" cy="5.3" r="0.7"/><circle cx="45.9" cy="4.3" r="0.4"/><circle cx="46.4" cy="2.1" r="0.6"/><circle cx="47.6" cy="1.3" r="0.4"/><circle cx="49.5" cy="2.1" r="0.6"/></g>
<g opacity="0.6"><circle cx="49.4" cy="3.3" r="1" fill="#7a7a7a"/><circle cx="46" cy="3.2" r="1.5" fill="#888"/><circle cx="49.4" cy="2.8" r="1.1" fill="#888"/></g>
<g fill="#6a6a6a"><circle cx="17.4" cy="41.9" r="4"/><circle cx="20.4" cy="41" r="1.4"/><circle cx="19.9" cy="43.8" r="1.9"/><circle cx="16.7" cy="44.5" r="1.6"/><circle cx="14.9" cy="43.7" r="1.6"/><circle cx="14.4" cy="40.9" r="1.4"/><circle cx="15.9" cy="39" r="1.8"/><circle cx="18.8" cy="39.6" r="1.7"/></g><g fill="#c4c4c4"><circle cx="17.4" cy="41.9" r="3.3"/><circle cx="20.4" cy="41" r="0.7"/><circle cx="19.9" cy="43.8" r="1.2"/><circle cx="16.7" cy="44.5" r="0.9"/><circle cx="14.9" cy="43.7" r="0.9"/><circle cx="14.4" cy="40.9" r="0.7"/><circle cx="15.9" cy="39" r="1.1"/><circle cx="18.8" cy="39.6" r="1"/></g>
<g opacity="0.6"><circle cx="18.3" cy="42.5" r="1.4" fill="#7a7a7a"/><circle cx="16.9" cy="43.7" r="1" fill="#888"/><circle cx="18.7" cy="39.7" r="0.9" fill="#888"/><circle cx="18" cy="44.1" r="1.1" fill="#888"/><circle cx="20.1" cy="42.1" r="1.2" fill="#888"/></g>
<g fill="#6a6a6a"><circle cx="47.5" cy="38.9" r="2.6"/><circle cx="49.4" cy="39.4" r="1.2"/><circle cx="48.2" cy="40.5" r="1.1"/><circle cx="47.6" cy="40.6" r="1"/><circle cx="45.6" cy="39.4" r="1"/><circle cx="45.6" cy="38.1" r="1.1"/><circle cx="46.8" cy="37" r="1"/><circle cx="49" cy="37.7" r="1.1"/></g><g fill="#c4c4c4"><circle cx="47.5" cy="38.9" r="1.9"/><circle cx="49.4" cy="39.4" r="0.5"/><circle cx="48.2" cy="40.5" r="0.4"/><circle cx="47.6" cy="40.6" r="0.3"/><circle cx="45.6" cy="39.4" r="0.3"/><circle cx="45.6" cy="38.1" r="0.4"/><circle cx="46.8" cy="37" r="0.3"/><circle cx="49" cy="37.7" r="0.4"/></g>
<g opacity="0.6"><circle cx="47" cy="39.2" r="1.5" fill="#7a7a7a"/><circle cx="46.5" cy="39.7" r="1.5" fill="#7a7a7a"/><circle cx="46.5" cy="38.1" r="0.6" fill="#888"/></g>
<g fill="#6a6a6a"><circle cx="3.5" cy="26.7" r="3.5"/><circle cx="5.8" cy="27.2" r="1.3"/><circle cx="5.3" cy="28.4" r="1.6"/><circle cx="2.7" cy="29.3" r="1.6"/><circle cx="1" cy="27.5" r="1.3"/><circle cx="1.6" cy="25.3" r="1.6"/><circle cx="2.6" cy="24.2" r="1.5"/><circle cx="5" cy="24.8" r="1.3"/></g><g fill="#aaaaaa"><circle cx="3.5" cy="26.7" r="2.8"/><circle cx="5.8" cy="27.2" r="0.6"/><circle cx="5.3" cy="28.4" r="0.9"/><circle cx="2.7" cy="29.3" r="0.9"/><circle cx="1" cy="27.5" r="0.6"/><circle cx="1.6" cy="25.3" r="0.9"/><circle cx="2.6" cy="24.2" r="0.8"/><circle cx="5" cy="24.8" r="0.6"/></g>
<g opacity="0.6"><circle cx="3.1" cy="28.6" r="1.1" fill="#888"/><circle cx="5.4" cy="27" r="1.3" fill="#7a7a7a"/><circle cx="3.8" cy="26.2" r="1" fill="#7a7a7a"/><circle cx="2" cy="28.1" r="0.5" fill="#7a7a7a"/></g>
</g>
<rect x="31.2" y="811.6" width="69.5" height="69.5" filter="url(#grain)" opacity="0.25"/>
</g>
<rect x="74.0" y="875.3000000000001" width="22.6" height="1.7" fill="#fff"/>
<g clip-path="url(#cpg2)">
<rect x="105.6" y="811.6" width="69.5" height="69.5" fill="#acacac"/>
<g transform="translate(105.6,811.6)" filter="url(#soft)">
<ellipse cx="69.7" cy="6.5" rx="1.1" ry="0.9" fill="#a2a2a2" stroke="#6e6e6e" stroke-width="0.6" transform="rotate(180 69.7 6.5)"/>
<circle cx="45.5" cy="31.7" r="1.1" fill="#b4b4b4" stroke="#6e6e6e" stroke-width="0.6"/>
<ellipse cx="64.7" cy="27.4" rx="2" ry="1.5" fill="#b4b4b4" stroke="#6e6e6e" stroke-width="0.6" transform="rotate(48 64.7 27.4)"/>
<circle cx="65.1" cy="25.6" r="1.5" fill="#a2a2a2" stroke="#6e6e6e" stroke-width="0.6"/>
<ellipse cx="58.5" cy="26.2" rx="1" ry="0.8" fill="#b4b4b4" stroke="#6e6e6e" stroke-width="0.6" transform="rotate(42 58.5 26.2)"/>
<circle cx="65.2" cy="36" r="1" fill="#9a9a9a" stroke="#6e6e6e" stroke-width="0.6"/>
<circle cx="1.9" cy="68.4" r="1" fill="#b4b4b4" stroke="#6e6e6e" stroke-width="0.6"/>
<ellipse cx="62" cy="31.4" rx="1.1" ry="0.9" fill="#b4b4b4" stroke="#6e6e6e" stroke-width="0.6" transform="rotate(158 62 31.4)"/>
<circle cx="54.7" cy="4.4" r="1" fill="#a8a8a8" stroke="#6e6e6e" stroke-width="0.6"/>
<ellipse cx="60.7" cy="35" rx="4.1" ry="3.4" fill="#9a9a9a" stroke="#6e6e6e" stroke-width="0.6" transform="rotate(51 60.7 35)"/>
<ellipse cx="58" cy="61.7" rx="2.4" ry="2.2" fill="#9a9a9a" stroke="#6e6e6e" stroke-width="0.6" transform="rotate(53 58 61.7)"/>
<circle cx="-0.5" cy="16.2" r="1.1" fill="#a8a8a8" stroke="#6e6e6e" stroke-width="0.6"/>
<circle cx="10.2" cy="26.9" r="3.7" fill="#9a9a9a" stroke="#6e6e6e" stroke-width="0.6"/>
<ellipse cx="-1.1" cy="70.5" rx="3.5" ry="2.6" fill="#9a9a9a" stroke="#6e6e6e" stroke-width="0.6" transform="rotate(138 -1.1 70.5)"/>
<ellipse cx="9.8" cy="29.9" rx="1.3" ry="1.1" fill="#9a9a9a" stroke="#6e6e6e" stroke-width="0.6" transform="rotate(73 9.8 29.9)"/>
<ellipse cx="2.3" cy="51.1" rx="1" ry="0.8" fill="#a2a2a2" stroke="#6e6e6e" stroke-width="0.6" transform="rotate(94 2.3 51.1)"/>
<circle cx="58" cy="35.1" r="1.4" fill="#9a9a9a" stroke="#6e6e6e" stroke-width="0.6"/>
<circle cx="-1.7" cy="7.6" r="1" fill="#b4b4b4" stroke="#6e6e6e" stroke-width="0.6"/>
<ellipse cx="19.6" cy="21.6" rx="1" ry="0.9" fill="#a8a8a8" stroke="#6e6e6e" stroke-width="0.6" transform="rotate(38 19.6 21.6)"/>
<ellipse cx="-0.5" cy="69.9" rx="3.6" ry="3.4" fill="#9a9a9a" stroke="#6e6e6e" stroke-width="0.6" transform="rotate(79 -0.5 69.9)"/>
<circle cx="42.7" cy="34.5" r="1" fill="#b4b4b4" stroke="#6e6e6e" stroke-width="0.6"/>
<circle cx="5.2" cy="51.4" r="1.4" fill="#9a9a9a" stroke="#6e6e6e" stroke-width="0.6"/>
<circle cx="3.8" cy="67.1" r="1.8" fill="#b4b4b4" stroke="#6e6e6e" stroke-width="0.6"/>
<ellipse cx="0.8" cy="0.7" rx="1.6" ry="1.4" fill="#a2a2a2" stroke="#6e6e6e" stroke-width="0.6" transform="rotate(127 0.8 0.7)"/>
<circle cx="-1.3" cy="24.5" r="2.2" fill="#b4b4b4" stroke="#6e6e6e" stroke-width="0.6"/>
<circle cx="53.5" cy="42.3" r="4.3" fill="#9a9a9a" stroke="#6e6e6e" stroke-width="0.6"/>
<ellipse cx="26" cy="36.2" rx="1.3" ry="1.1" fill="#9a9a9a" stroke="#6e6e6e" stroke-width="0.6" transform="rotate(164 26 36.2)"/>
<circle cx="67" cy="71.1" r="2.8" fill="#9a9a9a" stroke="#6e6e6e" stroke-width="0.6"/>
<circle cx="28.7" cy="53.2" r="1" fill="#a8a8a8" stroke="#6e6e6e" stroke-width="0.6"/>
<circle cx="69.3" cy="56.1" r="2.2" fill="#a8a8a8" stroke="#6e6e6e" stroke-width="0.6"/>
<ellipse cx="33.6" cy="25.6" rx="1" ry="0.9" fill="#a8a8a8" stroke="#6e6e6e" stroke-width="0.6" transform="rotate(69 33.6 25.6)"/>
<circle cx="36.5" cy="49.1" r="3.9" fill="#a8a8a8" stroke="#6e6e6e" stroke-width="0.6"/>
<circle cx="24.3" cy="29.3" r="2.2" fill="#b4b4b4" stroke="#6e6e6e" stroke-width="0.6"/>
<circle cx="3.2" cy="9.3" r="1.8" fill="#b4b4b4" stroke="#6e6e6e" stroke-width="0.6"/>
<circle cx="28.7" cy="5.8" r="1.2" fill="#a8a8a8" stroke="#6e6e6e" stroke-width="0.6"/>
<ellipse cx="59.3" cy="17.3" rx="1.2" ry="1" fill="#b4b4b4" stroke="#6e6e6e" stroke-width="0.6" transform="rotate(45 59.3 17.3)"/>
<circle cx="31.6" cy="14.7" r="1.8" fill="#9a9a9a" stroke="#6e6e6e" stroke-width="0.6"/>
<circle cx="56.9" cy="26.3" r="3" fill="#9a9a9a" stroke="#6e6e6e" stroke-width="0.6"/>
<ellipse cx="66.5" cy="56.4" rx="4.4" ry="3.5" fill="#9a9a9a" stroke="#6e6e6e" stroke-width="0.6" transform="rotate(48 66.5 56.4)"/>
<circle cx="31.7" cy="47.5" r="1" fill="#a8a8a8" stroke="#6e6e6e" stroke-width="0.6"/>
<ellipse cx="42.8" cy="62.3" rx="1" ry="0.8" fill="#a2a2a2" stroke="#6e6e6e" stroke-width="0.6" transform="rotate(166 42.8 62.3)"/>
<circle cx="46.3" cy="24.7" r="3.5" fill="#a2a2a2" stroke="#6e6e6e" stroke-width="0.6"/>
<circle cx="42.3" cy="21.1" r="2.7" fill="#a8a8a8" stroke="#6e6e6e" stroke-width="0.6"/>
<circle cx="2" cy="65" r="4.3" fill="#a8a8a8" stroke="#6e6e6e" stroke-width="0.6"/>
<ellipse cx="64.5" cy="8.2" rx="1.1" ry="0.8" fill="#a2a2a2" stroke="#6e6e6e" stroke-width="0.6" transform="rotate(53 64.5 8.2)"/>
<ellipse cx="53.6" cy="5.2" rx="1.1" ry="1" fill="#a2a2a2" stroke="#6e6e6e" stroke-width="0.6" transform="rotate(32 53.6 5.2)"/>
<circle cx="45.3" cy="19.3" r="1.1" fill="#9a9a9a" stroke="#6e6e6e" stroke-width="0.6"/>
<circle cx="39.5" cy="67.7" r="1.7" fill="#9a9a9a" stroke="#6e6e6e" stroke-width="0.6"/>
<ellipse cx="21.7" cy="27.8" rx="1" ry="0.9" fill="#9a9a9a" stroke="#6e6e6e" stroke-width="0.6" transform="rotate(125 21.7 27.8)"/>
<circle cx="47.4" cy="18.7" r="1.6" fill="#b4b4b4" stroke="#6e6e6e" stroke-width="0.6"/>
<circle cx="66.7" cy="49.3" r="3.8" fill="#b4b4b4" stroke="#6e6e6e" stroke-width="0.6"/>
<circle cx="55.9" cy="11.2" r="2.8" fill="#a8a8a8" stroke="#6e6e6e" stroke-width="0.6"/>
<circle cx="6.7" cy="60.3" r="1.7" fill="#b4b4b4" stroke="#6e6e6e" stroke-width="0.6"/>
<circle cx="56.6" cy="35.6" r="1.8" fill="#9a9a9a" stroke="#6e6e6e" stroke-width="0.6"/>
<ellipse cx="7.2" cy="33.9" rx="1.4" ry="1.2" fill="#b4b4b4" stroke="#6e6e6e" stroke-width="0.6" transform="rotate(6 7.2 33.9)"/>
<g fill="#5e5e5e"><circle cx="33.3" cy="9" r="8.9"/><circle cx="39.2" cy="7.7" r="4.1"/><circle cx="38.8" cy="13.1" r="3.5"/><circle cx="32.6" cy="16.2" r="4"/><circle cx="30.1" cy="14.8" r="4"/><circle cx="26.1" cy="7.9" r="2.8"/><circle cx="29.4" cy="3.9" r="3.2"/><circle cx="35.1" cy="1.5" r="2.9"/><circle cx="38.1" cy="4.4" r="4.2"/></g><g fill="#939393"><circle cx="33.3" cy="9" r="8.1"/><circle cx="39.2" cy="7.7" r="3.2"/><circle cx="38.8" cy="13.1" r="2.6"/><circle cx="32.6" cy="16.2" r="3.1"/><circle cx="30.1" cy="14.8" r="3.1"/><circle cx="26.1" cy="7.9" r="1.9"/><circle cx="29.4" cy="3.9" r="2.3"/><circle cx="35.1" cy="1.5" r="2"/><circle cx="38.1" cy="4.4" r="3.3"/></g>
<g opacity="0.6"><circle cx="34.2" cy="13.3" r="0.5" fill="#6a6a6a"/><circle cx="33.9" cy="2.4" r="1.1" fill="#777"/><circle cx="33.7" cy="12.2" r="1" fill="#777"/><circle cx="37.2" cy="7" r="1.5" fill="#5a5a5a"/><circle cx="36" cy="15.2" r="1.4" fill="#5a5a5a"/><circle cx="33" cy="2.6" r="1.6" fill="#8a8a8a"/><circle cx="26.8" cy="8.7" r="0.7" fill="#777"/><circle cx="27.9" cy="5.7" r="1.4" fill="#8a8a8a"/><circle cx="32.2" cy="8.3" r="0.8" fill="#8a8a8a"/><circle cx="30.9" cy="10.5" r="1.1" fill="#777"/><circle cx="38" cy="11.9" r="0.6" fill="#6a6a6a"/><circle cx="29.1" cy="8.4" r="1" fill="#5a5a5a"/><circle cx="29.6" cy="9.7" r="1.4" fill="#8a8a8a"/><circle cx="31.6" cy="6.8" r="0.7" fill="#5a5a5a"/><circle cx="33.9" cy="4" r="1.4" fill="#6a6a6a"/><circle cx="30" cy="11.3" r="1.4" fill="#777"/><circle cx="29.9" cy="9.9" r="1.1" fill="#5a5a5a"/></g>
<g fill="#5e5e5e"><circle cx="55.2" cy="19.6" r="7.5"/><circle cx="61" cy="21.2" r="3.5"/><circle cx="59.5" cy="22.2" r="3.4"/><circle cx="54.6" cy="25.2" r="2.8"/><circle cx="50.7" cy="23.6" r="3.1"/><circle cx="49.8" cy="19.8" r="2.9"/><circle cx="52.7" cy="15" r="3.5"/><circle cx="55" cy="13.3" r="2.7"/><circle cx="58" cy="14.5" r="3"/></g><g fill="#9a9a9a"><circle cx="55.2" cy="19.6" r="6.5"/><circle cx="61" cy="21.2" r="2.6"/><circle cx="59.5" cy="22.2" r="2.5"/><circle cx="54.6" cy="25.2" r="1.9"/><circle cx="50.7" cy="23.6" r="2.2"/><circle cx="49.8" cy="19.8" r="2"/><circle cx="52.7" cy="15" r="2.6"/><circle cx="55" cy="13.3" r="1.8"/><circle cx="58" cy="14.5" r="2.1"/></g>
<g opacity="0.6"><circle cx="51.3" cy="23.2" r="1.1" fill="#6a6a6a"/><circle cx="55.3" cy="20.5" r="0.9" fill="#6a6a6a"/><circle cx="51.8" cy="19.4" r="1.1" fill="#6a6a6a"/><circle cx="58.9" cy="19.5" r="1" fill="#777"/><circle cx="56" cy="16.4" r="1.6" fill="#8a8a8a"/><circle cx="57.8" cy="23.7" r="1.3" fill="#8a8a8a"/><circle cx="53.6" cy="17.3" r="0.8" fill="#8a8a8a"/><circle cx="50.1" cy="19.6" r="0.9" fill="#8a8a8a"/><circle cx="58.3" cy="17.4" r="1.1" fill="#8a8a8a"/><circle cx="52.6" cy="19.8" r="0.9" fill="#6a6a6a"/><circle cx="58.3" cy="16.5" r="1.4" fill="#8a8a8a"/><circle cx="53.2" cy="24.7" r="1.3" fill="#8a8a8a"/><circle cx="54.2" cy="22" r="1.1" fill="#5a5a5a"/><circle cx="55.9" cy="16.4" r="0.5" fill="#6a6a6a"/></g>
<g fill="#5e5e5e"><circle cx="3.6" cy="6.5" r="6.5"/><circle cx="8.5" cy="5.7" r="2.7"/><circle cx="7.1" cy="10.4" r="2.8"/><circle cx="5" cy="11.2" r="3"/><circle cx="0.9" cy="10.2" r="3.1"/><circle cx="-1" cy="5.6" r="2.6"/><circle cx="0" cy="4.2" r="2.8"/><circle cx="3.7" cy="2" r="2.9"/><circle cx="5.9" cy="2.6" r="2.9"/></g><g fill="#969696"><circle cx="3.6" cy="6.5" r="5.5"/><circle cx="8.5" cy="5.7" r="1.8"/><circle cx="7.1" cy="10.4" r="1.9"/><circle cx="5" cy="11.2" r="2.1"/><circle cx="0.9" cy="10.2" r="2.2"/><circle cx="-1" cy="5.6" r="1.7"/><circle cx="0" cy="4.2" r="1.9"/><circle cx="3.7" cy="2" r="2"/><circle cx="5.9" cy="2.6" r="2"/></g>
<g opacity="0.6"><circle cx="3.3" cy="7.3" r="1.5" fill="#8a8a8a"/><circle cx="-0.2" cy="3.9" r="0.9" fill="#8a8a8a"/><circle cx="0.2" cy="9.1" r="1" fill="#6a6a6a"/><circle cx="4.7" cy="5.5" r="0.6" fill="#6a6a6a"/><circle cx="3.4" cy="10.4" r="1.4" fill="#777"/><circle cx="-0.3" cy="8.6" r="1.1" fill="#8a8a8a"/><circle cx="-0.3" cy="4.2" r="1.3" fill="#5a5a5a"/><circle cx="6.6" cy="2.7" r="1.2" fill="#6a6a6a"/><circle cx="2.7" cy="3.9" r="1.1" fill="#5a5a5a"/><circle cx="3.1" cy="4.4" r="1.4" fill="#777"/><circle cx="3.3" cy="7.7" r="1.4" fill="#8a8a8a"/><circle cx="7.2" cy="8.8" r="1" fill="#6a6a6a"/></g>
<g fill="#5e5e5e"><circle cx="15.8" cy="56" r="8.9"/><circle cx="22.9" cy="54.9" r="3"/><circle cx="21.9" cy="60" r="2.9"/><circle cx="14.3" cy="61.9" r="4"/><circle cx="11.7" cy="61.8" r="3.6"/><circle cx="8.5" cy="57.5" r="3"/><circle cx="12.8" cy="50.8" r="4"/><circle cx="17.1" cy="48.8" r="3.1"/><circle cx="20.4" cy="52.1" r="3.9"/></g><g fill="#9a9a9a"><circle cx="15.8" cy="56" r="8.1"/><circle cx="22.9" cy="54.9" r="2.1"/><circle cx="21.9" cy="60" r="2"/><circle cx="14.3" cy="61.9" r="3.1"/><circle cx="11.7" cy="61.8" r="2.7"/><circle cx="8.5" cy="57.5" r="2.1"/><circle cx="12.8" cy="50.8" r="3.1"/><circle cx="17.1" cy="48.8" r="2.2"/><circle cx="20.4" cy="52.1" r="3"/></g>
<g opacity="0.6"><circle cx="17.3" cy="54.6" r="1.2" fill="#8a8a8a"/><circle cx="12.9" cy="55.9" r="1" fill="#5a5a5a"/><circle cx="21.6" cy="53.9" r="1.5" fill="#777"/><circle cx="19.5" cy="56.2" r="1.3" fill="#777"/><circle cx="18.6" cy="52" r="1" fill="#777"/><circle cx="13.3" cy="57.1" r="0.8" fill="#5a5a5a"/><circle cx="19.8" cy="58.3" r="1.6" fill="#8a8a8a"/><circle cx="15" cy="53.5" r="1.2" fill="#5a5a5a"/><circle cx="13.2" cy="57.6" r="1.2" fill="#777"/><circle cx="17.6" cy="60.1" r="1.1" fill="#6a6a6a"/><circle cx="17.6" cy="54.8" r="0.6" fill="#6a6a6a"/><circle cx="14.9" cy="61.1" r="1.4" fill="#5a5a5a"/><circle cx="14.4" cy="58.5" r="1" fill="#5a5a5a"/><circle cx="14.6" cy="57.5" r="1.6" fill="#777"/><circle cx="15.2" cy="49.4" r="0.5" fill="#777"/><circle cx="14.6" cy="58.4" r="1.2" fill="#5a5a5a"/><circle cx="15" cy="58.9" r="1" fill="#6a6a6a"/></g>
<g fill="#5e5e5e"><circle cx="42.4" cy="56.8" r="6.5"/><circle cx="46.7" cy="57.1" r="2.9"/><circle cx="44.5" cy="60.4" r="2.9"/><circle cx="43.6" cy="61" r="2.6"/><circle cx="38.5" cy="60.1" r="3"/><circle cx="37.5" cy="56.9" r="2.4"/><circle cx="38.8" cy="52.9" r="2.1"/><circle cx="41.8" cy="52.6" r="3.1"/><circle cx="45.2" cy="52.6" r="2.9"/></g><g fill="#a0a0a0"><circle cx="42.4" cy="56.8" r="5.5"/><circle cx="46.7" cy="57.1" r="2"/><circle cx="44.5" cy="60.4" r="2"/><circle cx="43.6" cy="61" r="1.7"/><circle cx="38.5" cy="60.1" r="2.1"/><circle cx="37.5" cy="56.9" r="1.5"/><circle cx="38.8" cy="52.9" r="1.2"/><circle cx="41.8" cy="52.6" r="2.2"/><circle cx="45.2" cy="52.6" r="2"/></g>
<g opacity="0.6"><circle cx="41.1" cy="55.7" r="0.5" fill="#5a5a5a"/><circle cx="43" cy="59" r="1.6" fill="#6a6a6a"/><circle cx="41.2" cy="61.4" r="1.1" fill="#6a6a6a"/><circle cx="44.4" cy="61.1" r="0.7" fill="#8a8a8a"/><circle cx="41.5" cy="59.6" r="0.7" fill="#6a6a6a"/><circle cx="42.2" cy="59.6" r="1.4" fill="#5a5a5a"/><circle cx="39.1" cy="54.5" r="0.6" fill="#777"/><circle cx="43.8" cy="53.8" r="0.8" fill="#8a8a8a"/><circle cx="40.4" cy="57.1" r="0.8" fill="#5a5a5a"/><circle cx="45.1" cy="55.9" r="0.9" fill="#8a8a8a"/><circle cx="40" cy="59.5" r="0.5" fill="#5a5a5a"/><circle cx="41.4" cy="53.1" r="1.5" fill="#5a5a5a"/></g>
<g fill="#5e5e5e"><circle cx="59" cy="48.4" r="8.9"/><circle cx="65.5" cy="49.5" r="4"/><circle cx="64.6" cy="52.6" r="2.8"/><circle cx="59.1" cy="55.2" r="3.9"/><circle cx="53.7" cy="52.2" r="3.2"/><circle cx="52.3" cy="47.5" r="3.4"/><circle cx="54.6" cy="43" r="3.1"/><circle cx="60.2" cy="41.9" r="3.2"/><circle cx="64.3" cy="44.1" r="4"/></g><g fill="#8e8e8e"><circle cx="59" cy="48.4" r="8.1"/><circle cx="65.5" cy="49.5" r="3.1"/><circle cx="64.6" cy="52.6" r="1.9"/><circle cx="59.1" cy="55.2" r="3"/><circle cx="53.7" cy="52.2" r="2.3"/><circle cx="52.3" cy="47.5" r="2.5"/><circle cx="54.6" cy="43" r="2.2"/><circle cx="60.2" cy="41.9" r="2.3"/><circle cx="64.3" cy="44.1" r="3.1"/></g>
<g opacity="0.6"><circle cx="64.1" cy="51.8" r="1.4" fill="#8a8a8a"/><circle cx="57.2" cy="42.8" r="1.3" fill="#777"/><circle cx="60.2" cy="49.2" r="1.5" fill="#777"/><circle cx="52.8" cy="48.9" r="0.7" fill="#5a5a5a"/><circle cx="56.8" cy="45.9" r="1" fill="#777"/><circle cx="57.3" cy="47.3" r="1.5" fill="#6a6a6a"/><circle cx="63.1" cy="52.1" r="0.8" fill="#6a6a6a"/><circle cx="56.7" cy="50.6" r="1.2" fill="#5a5a5a"/><circle cx="60.1" cy="51" r="1.2" fill="#777"/><circle cx="55.5" cy="51.9" r="0.8" fill="#8a8a8a"/><circle cx="63.2" cy="49.9" r="1.3" fill="#8a8a8a"/><circle cx="62.7" cy="51" r="1.4" fill="#5a5a5a"/><circle cx="63.3" cy="44.9" r="1.5" fill="#8a8a8a"/><circle cx="59.9" cy="44.3" r="0.6" fill="#8a8a8a"/><circle cx="53.4" cy="49.4" r="0.9" fill="#5a5a5a"/><circle cx="61" cy="53.6" r="1" fill="#6a6a6a"/><circle cx="64" cy="49" r="0.8" fill="#777"/></g>
<g fill="#5e5e5e"><circle cx="66" cy="8" r="5.5"/><circle cx="70" cy="7.6" r="2"/><circle cx="69.5" cy="10.1" r="2.3"/><circle cx="67.2" cy="12.3" r="2.3"/><circle cx="62.9" cy="11.3" r="1.9"/><circle cx="61.8" cy="8.2" r="2.6"/><circle cx="63.1" cy="6" r="2.4"/><circle cx="66.2" cy="4.4" r="2.2"/><circle cx="68" cy="4.5" r="2.6"/></g><g fill="#999"><circle cx="66" cy="8" r="4.5"/><circle cx="70" cy="7.6" r="1.1"/><circle cx="69.5" cy="10.1" r="1.4"/><circle cx="67.2" cy="12.3" r="1.4"/><circle cx="62.9" cy="11.3" r="1"/><circle cx="61.8" cy="8.2" r="1.7"/><circle cx="63.1" cy="6" r="1.5"/><circle cx="66.2" cy="4.4" r="1.3"/><circle cx="68" cy="4.5" r="1.7"/></g>
<g opacity="0.6"><circle cx="66.8" cy="9.1" r="0.8" fill="#6a6a6a"/><circle cx="68.4" cy="9.8" r="0.7" fill="#5a5a5a"/><circle cx="65" cy="7.7" r="0.6" fill="#6a6a6a"/><circle cx="63.1" cy="8.1" r="1.4" fill="#8a8a8a"/><circle cx="63.7" cy="6.6" r="0.8" fill="#6a6a6a"/><circle cx="65.4" cy="6.1" r="1.1" fill="#8a8a8a"/><circle cx="68.4" cy="5.6" r="0.8" fill="#5a5a5a"/><circle cx="67.9" cy="9.7" r="1.3" fill="#6a6a6a"/><circle cx="68.4" cy="6.9" r="1.6" fill="#5a5a5a"/><circle cx="66.3" cy="5" r="1.5" fill="#777"/></g>
<g fill="#5e5e5e"><circle cx="8" cy="28" r="6.5"/><circle cx="13" cy="27.2" r="3.1"/><circle cx="11.2" cy="32.1" r="2.2"/><circle cx="6.6" cy="32.6" r="2.3"/><circle cx="4.7" cy="31.5" r="2.6"/><circle cx="3" cy="28.9" r="3"/><circle cx="3.7" cy="24.9" r="2.2"/><circle cx="7.7" cy="23.3" r="3.1"/><circle cx="10.3" cy="24.2" r="2.4"/></g><g fill="#979797"><circle cx="8" cy="28" r="5.5"/><circle cx="13" cy="27.2" r="2.2"/><circle cx="11.2" cy="32.1" r="1.3"/><circle cx="6.6" cy="32.6" r="1.4"/><circle cx="4.7" cy="31.5" r="1.7"/><circle cx="3" cy="28.9" r="2.1"/><circle cx="3.7" cy="24.9" r="1.3"/><circle cx="7.7" cy="23.3" r="2.2"/><circle cx="10.3" cy="24.2" r="1.5"/></g>
<g opacity="0.6"><circle cx="11.5" cy="29.5" r="0.9" fill="#5a5a5a"/><circle cx="5.9" cy="31.4" r="1" fill="#6a6a6a"/><circle cx="6.4" cy="27.1" r="0.6" fill="#5a5a5a"/><circle cx="5.9" cy="28.2" r="1.5" fill="#8a8a8a"/><circle cx="7.4" cy="23.5" r="0.8" fill="#777"/><circle cx="9.9" cy="25.5" r="0.7" fill="#5a5a5a"/><circle cx="5.4" cy="27.5" r="0.9" fill="#8a8a8a"/><circle cx="5.9" cy="28" r="0.7" fill="#777"/><circle cx="6.7" cy="27.9" r="1.5" fill="#6a6a6a"/><circle cx="5.4" cy="31.8" r="0.8" fill="#6a6a6a"/><circle cx="7.7" cy="31.1" r="0.9" fill="#8a8a8a"/><circle cx="9.4" cy="30.7" r="0.7" fill="#5a5a5a"/></g>
<g fill="#5e5e5e"><circle cx="68" cy="33" r="5.5"/><circle cx="72.4" cy="32.9" r="2.2"/><circle cx="70.3" cy="36.6" r="1.9"/><circle cx="67" cy="37" r="1.9"/><circle cx="64.8" cy="35.8" r="1.9"/><circle cx="64.2" cy="32.5" r="2.2"/><circle cx="64.3" cy="30.6" r="2.1"/><circle cx="68" cy="29.3" r="2.6"/><circle cx="71.1" cy="30.8" r="2.2"/></g><g fill="#959595"><circle cx="68" cy="33" r="4.5"/><circle cx="72.4" cy="32.9" r="1.3"/><circle cx="70.3" cy="36.6" r="1"/><circle cx="67" cy="37" r="1"/><circle cx="64.8" cy="35.8" r="1"/><circle cx="64.2" cy="32.5" r="1.3"/><circle cx="64.3" cy="30.6" r="1.2"/><circle cx="68" cy="29.3" r="1.7"/><circle cx="71.1" cy="30.8" r="1.3"/></g>
<g opacity="0.6"><circle cx="69.7" cy="34.3" r="1.2" fill="#8a8a8a"/><circle cx="70.7" cy="30.8" r="1.5" fill="#8a8a8a"/><circle cx="67.3" cy="36.5" r="0.7" fill="#5a5a5a"/><circle cx="68.7" cy="32.4" r="0.9" fill="#8a8a8a"/><circle cx="69.2" cy="34.5" r="1.3" fill="#5a5a5a"/><circle cx="68.2" cy="32.9" r="1.3" fill="#6a6a6a"/><circle cx="69.4" cy="31.9" r="0.5" fill="#5a5a5a"/><circle cx="70.6" cy="35.8" r="1.1" fill="#8a8a8a"/><circle cx="66.3" cy="32.6" r="0.6" fill="#6a6a6a"/><circle cx="67.2" cy="32.1" r="1.1" fill="#6a6a6a"/></g>
<g fill="#5e5e5e"><circle cx="28" cy="66" r="5.5"/><circle cx="32" cy="66.2" r="2.2"/><circle cx="30.9" cy="68" r="2.5"/><circle cx="27.6" cy="70.1" r="2"/><circle cx="25.6" cy="68.9" r="2.1"/><circle cx="24.2" cy="64.8" r="1.9"/><circle cx="25.2" cy="62.8" r="2.2"/><circle cx="28.4" cy="62.2" r="2.2"/><circle cx="31.1" cy="63.5" r="2"/></g><g fill="#9c9c9c"><circle cx="28" cy="66" r="4.5"/><circle cx="32" cy="66.2" r="1.3"/><circle cx="30.9" cy="68" r="1.6"/><circle cx="27.6" cy="70.1" r="1.1"/><circle cx="25.6" cy="68.9" r="1.2"/><circle cx="24.2" cy="64.8" r="1"/><circle cx="25.2" cy="62.8" r="1.3"/><circle cx="28.4" cy="62.2" r="1.3"/><circle cx="31.1" cy="63.5" r="1.1"/></g>
<g opacity="0.6"><circle cx="31.9" cy="65.6" r="1.2" fill="#5a5a5a"/><circle cx="26.3" cy="65" r="0.7" fill="#777"/><circle cx="24.6" cy="65.2" r="0.8" fill="#8a8a8a"/><circle cx="27.1" cy="66.4" r="1.1" fill="#6a6a6a"/><circle cx="30.2" cy="62.7" r="0.8" fill="#5a5a5a"/><circle cx="24.4" cy="66.1" r="1.2" fill="#5a5a5a"/><circle cx="29.8" cy="68.4" r="0.9" fill="#6a6a6a"/><circle cx="30.7" cy="68.3" r="0.6" fill="#6a6a6a"/><circle cx="29.7" cy="65.8" r="0.9" fill="#8a8a8a"/><circle cx="24.9" cy="67.1" r="0.7" fill="#6a6a6a"/></g>
<g fill="#5e5e5e"><circle cx="50" cy="35" r="4.5"/><circle cx="52.9" cy="34.9" r="2"/><circle cx="52.3" cy="37.2" r="1.9"/><circle cx="50.6" cy="38" r="1.9"/><circle cx="47.2" cy="37" r="1.6"/><circle cx="47.2" cy="35.7" r="2.1"/><circle cx="47.7" cy="33.7" r="2.2"/><circle cx="50.3" cy="31.6" r="2"/><circle cx="51.7" cy="31.9" r="1.9"/></g><g fill="#a3a3a3"><circle cx="50" cy="35" r="3.5"/><circle cx="52.9" cy="34.9" r="1.1"/><circle cx="52.3" cy="37.2" r="1"/><circle cx="50.6" cy="38" r="1"/><circle cx="47.2" cy="37" r="0.7"/><circle cx="47.2" cy="35.7" r="1.2"/><circle cx="47.7" cy="33.7" r="1.3"/><circle cx="50.3" cy="31.6" r="1.1"/><circle cx="51.7" cy="31.9" r="1"/></g>
<g opacity="0.6"><circle cx="50.6" cy="36.5" r="0.5" fill="#8a8a8a"/><circle cx="48.9" cy="37.2" r="0.7" fill="#6a6a6a"/><circle cx="48.6" cy="33.3" r="1.2" fill="#8a8a8a"/><circle cx="48.9" cy="33.3" r="1.1" fill="#5a5a5a"/><circle cx="49.5" cy="33.3" r="0.8" fill="#777"/><circle cx="52.4" cy="35.4" r="0.6" fill="#5a5a5a"/><circle cx="51.1" cy="33.4" r="1.6" fill="#5a5a5a"/><circle cx="50.7" cy="38" r="0.6" fill="#8a8a8a"/></g>
<g fill="#555"><circle cx="25.7" cy="33.3" r="13.5"/><circle cx="35.5" cy="33.2" r="5.6"/><circle cx="36" cy="37" r="4.2"/><circle cx="29.8" cy="40.3" r="5.9"/><circle cx="22.1" cy="40.9" r="5.4"/><circle cx="18.2" cy="40.2" r="5.1"/><circle cx="15.7" cy="31.3" r="4.3"/><circle cx="15.8" cy="30.1" r="5.7"/><circle cx="21.6" cy="24.7" r="6"/><circle cx="26.2" cy="25.2" r="6.2"/><circle cx="31.2" cy="28" r="6.3"/></g><g fill="#858585"><circle cx="25.7" cy="33.3" r="12.5"/><circle cx="35.5" cy="33.2" r="4.6"/><circle cx="36" cy="37" r="3.2"/><circle cx="29.8" cy="40.3" r="4.9"/><circle cx="22.1" cy="40.9" r="4.4"/><circle cx="18.2" cy="40.2" r="4.1"/><circle cx="15.7" cy="31.3" r="3.3"/><circle cx="15.8" cy="30.1" r="4.7"/><circle cx="21.6" cy="24.7" r="5"/><circle cx="26.2" cy="25.2" r="5.2"/><circle cx="31.2" cy="28" r="5.3"/></g>
<g opacity="0.6"><circle cx="30.8" cy="36.9" r="0.6" fill="#777"/><circle cx="31.4" cy="29" r="1.6" fill="#5a5a5a"/><circle cx="18.7" cy="31.2" r="0.6" fill="#8a8a8a"/><circle cx="22.2" cy="28.2" r="1.2" fill="#5a5a5a"/><circle cx="23.8" cy="31.4" r="0.7" fill="#777"/><circle cx="21.8" cy="37.3" r="1.3" fill="#777"/><circle cx="29.5" cy="36" r="0.9" fill="#6a6a6a"/><circle cx="35" cy="34.7" r="1" fill="#5a5a5a"/><circle cx="26.9" cy="38.8" r="0.9" fill="#5a5a5a"/><circle cx="25.8" cy="29.3" r="0.6" fill="#777"/><circle cx="31" cy="34.3" r="0.9" fill="#5a5a5a"/><circle cx="19.4" cy="32.8" r="0.9" fill="#8a8a8a"/><circle cx="15.6" cy="34.5" r="1" fill="#6a6a6a"/><circle cx="18.2" cy="34.7" r="0.7" fill="#6a6a6a"/><circle cx="26.4" cy="32.9" r="0.8" fill="#777"/><circle cx="29.7" cy="40.2" r="1.1" fill="#6a6a6a"/><circle cx="18.1" cy="27.5" r="1.6" fill="#6a6a6a"/><circle cx="31.5" cy="34" r="1.4" fill="#777"/><circle cx="22.5" cy="30.2" r="1.1" fill="#8a8a8a"/><circle cx="19.5" cy="33.6" r="1.3" fill="#8a8a8a"/><circle cx="29" cy="31.2" r="0.8" fill="#5a5a5a"/><circle cx="23.9" cy="41.5" r="1.1" fill="#8a8a8a"/><circle cx="24.3" cy="29.5" r="0.8" fill="#777"/><circle cx="26.3" cy="33.4" r="0.5" fill="#777"/><circle cx="21.2" cy="35.3" r="1" fill="#5a5a5a"/><circle cx="18.1" cy="30.8" r="1.5" fill="#777"/><circle cx="26.1" cy="27.8" r="1.1" fill="#8a8a8a"/><circle cx="27.6" cy="27" r="0.9" fill="#777"/><circle cx="21.5" cy="29.3" r="0.7" fill="#6a6a6a"/><circle cx="33.3" cy="29" r="1.5" fill="#8a8a8a"/><circle cx="16.7" cy="31.7" r="0.9" fill="#5a5a5a"/><circle cx="24.6" cy="29.7" r="0.8" fill="#8a8a8a"/><circle cx="23.1" cy="31.2" r="1.1" fill="#8a8a8a"/><circle cx="23.3" cy="32.2" r="0.9" fill="#5a5a5a"/><circle cx="24.2" cy="30.4" r="0.6" fill="#777"/><circle cx="24.1" cy="36.7" r="1.2" fill="#8a8a8a"/><circle cx="24.5" cy="34.4" r="1" fill="#8a8a8a"/><circle cx="23.2" cy="33.5" r="1.2" fill="#8a8a8a"/><circle cx="26.1" cy="38.2" r="1.5" fill="#5a5a5a"/><circle cx="31.8" cy="32.1" r="1.4" fill="#8a8a8a"/></g>
</g>
<rect x="105.6" y="811.6" width="69.5" height="69.5" filter="url(#grain)" opacity="0.3"/>
</g>
<rect x="148.39999999999998" y="875.3000000000001" width="22.6" height="1.7" fill="#fff"/>
<g clip-path="url(#cpg3)">
<rect x="180.3" y="811.6" width="69.5" height="69.5" fill="#868686"/>
<g transform="translate(180.3,811.6)" filter="url(#soft)">
<ellipse cx="10" cy="30" rx="12" ry="14" fill="#6e6e6e" opacity="0.8"/>
<ellipse cx="40" cy="40" rx="10" ry="8" fill="#7a7a7a" opacity="0.7"/>
<ellipse cx="60" cy="55" rx="10" ry="10" fill="#7a7a7a" opacity="0.7"/>
<ellipse cx="8" cy="58" rx="9" ry="9" fill="#727272" opacity="0.7"/>
<g fill="#b8b8b8"><circle cx="47.4" cy="54.9" r="4"/><circle cx="50.1" cy="54.6" r="1.6"/><circle cx="49" cy="57.2" r="1.9"/><circle cx="46.1" cy="57.3" r="1.9"/><circle cx="44.4" cy="55.5" r="1.6"/><circle cx="45.5" cy="53.4" r="2"/><circle cx="47.1" cy="51.8" r="1.4"/><circle cx="49.7" cy="52.9" r="1.4"/></g><g fill="#9a9a9a"><circle cx="47.4" cy="54.9" r="3.2"/><circle cx="50.1" cy="54.6" r="0.8"/><circle cx="49" cy="57.2" r="1.1"/><circle cx="46.1" cy="57.3" r="1.1"/><circle cx="44.4" cy="55.5" r="0.8"/><circle cx="45.5" cy="53.4" r="1.2"/><circle cx="47.1" cy="51.8" r="0.6"/><circle cx="49.7" cy="52.9" r="0.6"/></g>
<g opacity="0.6"><circle cx="47.8" cy="57.7" r="0.7" fill="#5a5a5a"/><circle cx="49.6" cy="56.4" r="0.6" fill="#5a5a5a"/><circle cx="47.8" cy="52.3" r="1.6" fill="#5a5a5a"/><circle cx="48.2" cy="55.3" r="1.5" fill="#b0b0b0"/></g>
<g fill="#9e9e9e"><circle cx="27.5" cy="69.8" r="3.3"/><circle cx="29.7" cy="69.8" r="1.4"/><circle cx="28.6" cy="71.8" r="1.6"/><circle cx="26.5" cy="71.8" r="1.3"/><circle cx="25.5" cy="70.5" r="1.3"/><circle cx="25.6" cy="68.6" r="1.2"/><circle cx="27.2" cy="67.3" r="1.5"/><circle cx="28.9" cy="68.4" r="1.7"/></g><g fill="#858585"><circle cx="27.5" cy="69.8" r="2.5"/><circle cx="29.7" cy="69.8" r="0.6"/><circle cx="28.6" cy="71.8" r="0.8"/><circle cx="26.5" cy="71.8" r="0.5"/><circle cx="25.5" cy="70.5" r="0.5"/><circle cx="25.6" cy="68.6" r="0.4"/><circle cx="27.2" cy="67.3" r="0.7"/><circle cx="28.9" cy="68.4" r="0.9"/></g>
<g opacity="0.6"><circle cx="27" cy="71.6" r="0.7" fill="#5a5a5a"/><circle cx="28.9" cy="69.1" r="1.5" fill="#b0b0b0"/><circle cx="26.6" cy="70.5" r="1.5" fill="#5a5a5a"/></g>
<g fill="#b8b8b8"><circle cx="18.3" cy="18.2" r="3.4"/><circle cx="20.7" cy="18.7" r="1.3"/><circle cx="19.9" cy="20" r="1.5"/><circle cx="17.9" cy="20.3" r="1.6"/><circle cx="16.5" cy="19.6" r="1.6"/><circle cx="16.3" cy="17.3" r="1.6"/><circle cx="18" cy="16" r="1.5"/><circle cx="20.2" cy="16.5" r="1.5"/></g><g fill="#6c6c6c"><circle cx="18.3" cy="18.2" r="2.6"/><circle cx="20.7" cy="18.7" r="0.5"/><circle cx="19.9" cy="20" r="0.7"/><circle cx="17.9" cy="20.3" r="0.8"/><circle cx="16.5" cy="19.6" r="0.8"/><circle cx="16.3" cy="17.3" r="0.8"/><circle cx="18" cy="16" r="0.7"/><circle cx="20.2" cy="16.5" r="0.7"/></g>
<g opacity="0.6"><circle cx="17.9" cy="19.4" r="0.9" fill="#5a5a5a"/><circle cx="18" cy="18" r="0.8" fill="#b0b0b0"/><circle cx="17.1" cy="17.8" r="1.2" fill="#5a5a5a"/></g>
<g fill="#b8b8b8"><circle cx="54.1" cy="62.8" r="2.5"/><circle cx="55.7" cy="62.6" r="1.1"/><circle cx="54.7" cy="64.1" r="1.3"/><circle cx="53.8" cy="64.2" r="1.3"/><circle cx="52.7" cy="63.2" r="1.2"/><circle cx="52.8" cy="62.3" r="1.2"/><circle cx="53.9" cy="61.4" r="1.3"/><circle cx="54.9" cy="61.3" r="1"/></g><g fill="#9a9a9a"><circle cx="54.1" cy="62.8" r="1.7"/><circle cx="55.7" cy="62.6" r="0.3"/><circle cx="54.7" cy="64.1" r="0.5"/><circle cx="53.8" cy="64.2" r="0.5"/><circle cx="52.7" cy="63.2" r="0.4"/><circle cx="52.8" cy="62.3" r="0.4"/><circle cx="53.9" cy="61.4" r="0.5"/><circle cx="54.9" cy="61.3" r="0.3"/></g>
<g opacity="0.6"><circle cx="55.4" cy="62.6" r="1.4" fill="#b0b0b0"/><circle cx="52.7" cy="63.1" r="1.3" fill="#b0b0b0"/></g>
<g fill="#a8a8a8"><circle cx="61.5" cy="64.4" r="2.7"/><circle cx="63.6" cy="63.9" r="1.2"/><circle cx="63.1" cy="65.6" r="1.3"/><circle cx="61.2" cy="66.2" r="1.1"/><circle cx="59.8" cy="65.1" r="1.2"/><circle cx="59.9" cy="64" r="1.3"/><circle cx="60.8" cy="62.6" r="1.1"/><circle cx="62.4" cy="62.6" r="1.2"/></g><g fill="#909090"><circle cx="61.5" cy="64.4" r="1.9"/><circle cx="63.6" cy="63.9" r="0.4"/><circle cx="63.1" cy="65.6" r="0.5"/><circle cx="61.2" cy="66.2" r="0.3"/><circle cx="59.8" cy="65.1" r="0.4"/><circle cx="59.9" cy="64" r="0.5"/><circle cx="60.8" cy="62.6" r="0.3"/><circle cx="62.4" cy="62.6" r="0.4"/></g>
<g opacity="0.6"><circle cx="62.6" cy="64.7" r="1.4" fill="#5a5a5a"/><circle cx="62.4" cy="64.9" r="1" fill="#b0b0b0"/></g>
<g fill="#b8b8b8"><circle cx="60.6" cy="5.2" r="2.7"/><circle cx="62.2" cy="4.7" r="1.4"/><circle cx="61.4" cy="6.7" r="1.4"/><circle cx="60" cy="7" r="1.1"/><circle cx="58.8" cy="5.9" r="1.1"/><circle cx="58.8" cy="4.5" r="1"/><circle cx="60.2" cy="3.2" r="1.2"/><circle cx="62" cy="3.9" r="1.3"/></g><g fill="#7a7a7a"><circle cx="60.6" cy="5.2" r="1.9"/><circle cx="62.2" cy="4.7" r="0.6"/><circle cx="61.4" cy="6.7" r="0.6"/><circle cx="60" cy="7" r="0.3"/><circle cx="58.8" cy="5.9" r="0.3"/><circle cx="58.8" cy="4.5" r="0.3"/><circle cx="60.2" cy="3.2" r="0.4"/><circle cx="62" cy="3.9" r="0.5"/></g>
<g opacity="0.6"><circle cx="59.3" cy="5.1" r="1" fill="#5a5a5a"/><circle cx="59.4" cy="6.1" r="1.3" fill="#b0b0b0"/></g>
<g fill="#9e9e9e"><circle cx="40.5" cy="29.6" r="5"/><circle cx="44.3" cy="29.4" r="2"/><circle cx="43.5" cy="32.5" r="1.8"/><circle cx="40.5" cy="33.3" r="2.4"/><circle cx="38" cy="31.7" r="2.4"/><circle cx="37.3" cy="28.3" r="1.8"/><circle cx="40.1" cy="25.9" r="2.4"/><circle cx="43.3" cy="27.3" r="2"/></g><g fill="#909090"><circle cx="40.5" cy="29.6" r="4.2"/><circle cx="44.3" cy="29.4" r="1.2"/><circle cx="43.5" cy="32.5" r="1"/><circle cx="40.5" cy="33.3" r="1.6"/><circle cx="38" cy="31.7" r="1.6"/><circle cx="37.3" cy="28.3" r="1"/><circle cx="40.1" cy="25.9" r="1.6"/><circle cx="43.3" cy="27.3" r="1.2"/></g>
<g opacity="0.6"><circle cx="44" cy="29.3" r="0.7" fill="#5a5a5a"/><circle cx="37.5" cy="30" r="0.9" fill="#b0b0b0"/><circle cx="42.6" cy="32.1" r="1" fill="#b0b0b0"/><circle cx="38.7" cy="27" r="1.5" fill="#5a5a5a"/><circle cx="39" cy="30.8" r="1" fill="#b0b0b0"/></g>
<g fill="#9e9e9e"><circle cx="69.2" cy="40" r="3.9"/><circle cx="72" cy="40.2" r="1.4"/><circle cx="70.9" cy="42.1" r="1.6"/><circle cx="68.2" cy="42.9" r="1.7"/><circle cx="67" cy="40.9" r="1.9"/><circle cx="67.1" cy="38.1" r="1.7"/><circle cx="68.1" cy="37.2" r="1.5"/><circle cx="70.5" cy="37.6" r="1.6"/></g><g fill="#858585"><circle cx="69.2" cy="40" r="3.1"/><circle cx="72" cy="40.2" r="0.6"/><circle cx="70.9" cy="42.1" r="0.8"/><circle cx="68.2" cy="42.9" r="0.9"/><circle cx="67" cy="40.9" r="1.1"/><circle cx="67.1" cy="38.1" r="0.9"/><circle cx="68.1" cy="37.2" r="0.7"/><circle cx="70.5" cy="37.6" r="0.8"/></g>
<g opacity="0.6"><circle cx="66.9" cy="38.9" r="1.2" fill="#5a5a5a"/><circle cx="69.1" cy="42.2" r="1.1" fill="#5a5a5a"/><circle cx="68.5" cy="37.9" r="1" fill="#b0b0b0"/><circle cx="69.2" cy="41.8" r="0.7" fill="#5a5a5a"/></g>
<g fill="#b8b8b8"><circle cx="66.8" cy="16.3" r="4"/><circle cx="69.4" cy="16.8" r="1.7"/><circle cx="68.9" cy="18.3" r="1.8"/><circle cx="66.6" cy="19.2" r="1.5"/><circle cx="64.4" cy="17.4" r="1.8"/><circle cx="64.4" cy="14.7" r="1.6"/><circle cx="66.9" cy="13.2" r="2"/><circle cx="68.3" cy="13.4" r="1.5"/></g><g fill="#7a7a7a"><circle cx="66.8" cy="16.3" r="3.2"/><circle cx="69.4" cy="16.8" r="0.9"/><circle cx="68.9" cy="18.3" r="1"/><circle cx="66.6" cy="19.2" r="0.7"/><circle cx="64.4" cy="17.4" r="1"/><circle cx="64.4" cy="14.7" r="0.8"/><circle cx="66.9" cy="13.2" r="1.2"/><circle cx="68.3" cy="13.4" r="0.7"/></g>
<g opacity="0.6"><circle cx="67.2" cy="18.5" r="0.8" fill="#b0b0b0"/><circle cx="68.2" cy="14.9" r="0.6" fill="#5a5a5a"/><circle cx="66.5" cy="19.1" r="1.3" fill="#b0b0b0"/><circle cx="67.1" cy="14.8" r="1.6" fill="#5a5a5a"/></g>
<g fill="#9e9e9e"><circle cx="27.3" cy="9.7" r="4.3"/><circle cx="30.6" cy="10.3" r="1.8"/><circle cx="28.6" cy="12.5" r="1.9"/><circle cx="25.8" cy="12.5" r="2"/><circle cx="24.8" cy="11.8" r="1.7"/><circle cx="24.1" cy="8.9" r="1.9"/><circle cx="27.5" cy="6.4" r="1.8"/><circle cx="29.4" cy="7.3" r="1.9"/></g><g fill="#7a7a7a"><circle cx="27.3" cy="9.7" r="3.5"/><circle cx="30.6" cy="10.3" r="1"/><circle cx="28.6" cy="12.5" r="1.1"/><circle cx="25.8" cy="12.5" r="1.2"/><circle cx="24.8" cy="11.8" r="0.9"/><circle cx="24.1" cy="8.9" r="1.1"/><circle cx="27.5" cy="6.4" r="1"/><circle cx="29.4" cy="7.3" r="1.1"/></g>
<g opacity="0.6"><circle cx="28.1" cy="8" r="1.6" fill="#b0b0b0"/><circle cx="28.6" cy="9.7" r="0.7" fill="#b0b0b0"/><circle cx="24.5" cy="9.5" r="0.8" fill="#b0b0b0"/><circle cx="25.5" cy="10.3" r="1.3" fill="#5a5a5a"/></g>
<g fill="#9e9e9e"><circle cx="49.4" cy="0.5" r="3.8"/><circle cx="52.2" cy="-0.1" r="1.9"/><circle cx="51.1" cy="2.2" r="1.9"/><circle cx="48.8" cy="3.4" r="1.5"/><circle cx="47.6" cy="2" r="1.9"/><circle cx="46.8" cy="-1.1" r="1.4"/><circle cx="48.9" cy="-2" r="1.6"/><circle cx="51.5" cy="-1.1" r="1.8"/></g><g fill="#909090"><circle cx="49.4" cy="0.5" r="3"/><circle cx="52.2" cy="-0.1" r="1.1"/><circle cx="51.1" cy="2.2" r="1.1"/><circle cx="48.8" cy="3.4" r="0.7"/><circle cx="47.6" cy="2" r="1.1"/><circle cx="46.8" cy="-1.1" r="0.6"/><circle cx="48.9" cy="-2" r="0.8"/><circle cx="51.5" cy="-1.1" r="1"/></g>
<g opacity="0.6"><circle cx="52" cy="0.6" r="0.6" fill="#b0b0b0"/><circle cx="47.8" cy="-0.3" r="0.6" fill="#b0b0b0"/><circle cx="48" cy="2.3" r="1" fill="#b0b0b0"/><circle cx="48.2" cy="-1.1" r="0.8" fill="#b0b0b0"/></g>
<g fill="#a8a8a8"><circle cx="8.4" cy="33.6" r="3.9"/><circle cx="11.1" cy="33.1" r="1.6"/><circle cx="10.4" cy="35.5" r="1.9"/><circle cx="8.2" cy="36.4" r="1.4"/><circle cx="6" cy="34.5" r="1.8"/><circle cx="6.2" cy="32.1" r="1.5"/><circle cx="8" cy="31.1" r="1.8"/><circle cx="10.6" cy="31.5" r="1.7"/></g><g fill="#6c6c6c"><circle cx="8.4" cy="33.6" r="3.1"/><circle cx="11.1" cy="33.1" r="0.8"/><circle cx="10.4" cy="35.5" r="1.1"/><circle cx="8.2" cy="36.4" r="0.6"/><circle cx="6" cy="34.5" r="1"/><circle cx="6.2" cy="32.1" r="0.7"/><circle cx="8" cy="31.1" r="1"/><circle cx="10.6" cy="31.5" r="0.9"/></g>
<g opacity="0.6"><circle cx="9.1" cy="31.6" r="1.1" fill="#5a5a5a"/><circle cx="9.3" cy="33.7" r="1.2" fill="#5a5a5a"/><circle cx="7.9" cy="32.3" r="0.6" fill="#b0b0b0"/><circle cx="8.5" cy="35.3" r="1.2" fill="#5a5a5a"/></g>
<g fill="#b8b8b8"><circle cx="62.7" cy="60.6" r="5.1"/><circle cx="66.8" cy="60.1" r="2.3"/><circle cx="64.3" cy="64.5" r="1.8"/><circle cx="62.6" cy="64.7" r="2.1"/><circle cx="59.5" cy="61.7" r="2"/><circle cx="59.3" cy="58.9" r="2.2"/><circle cx="62.5" cy="57.2" r="2"/><circle cx="64.9" cy="57.3" r="2.2"/></g><g fill="#858585"><circle cx="62.7" cy="60.6" r="4.3"/><circle cx="66.8" cy="60.1" r="1.5"/><circle cx="64.3" cy="64.5" r="1"/><circle cx="62.6" cy="64.7" r="1.3"/><circle cx="59.5" cy="61.7" r="1.2"/><circle cx="59.3" cy="58.9" r="1.4"/><circle cx="62.5" cy="57.2" r="1.2"/><circle cx="64.9" cy="57.3" r="1.4"/></g>
<g opacity="0.6"><circle cx="65.8" cy="59.8" r="1" fill="#b0b0b0"/><circle cx="64.6" cy="61.1" r="0.7" fill="#5a5a5a"/><circle cx="65.6" cy="58.6" r="0.9" fill="#5a5a5a"/><circle cx="61" cy="58.1" r="1.1" fill="#b0b0b0"/><circle cx="64.1" cy="58.4" r="0.5" fill="#b0b0b0"/></g>
<g fill="#b8b8b8"><circle cx="1.8" cy="26.4" r="2.7"/><circle cx="3.6" cy="26.7" r="1.3"/><circle cx="3.3" cy="27.5" r="1.3"/><circle cx="1.2" cy="28.1" r="1.1"/><circle cx="0.2" cy="27.4" r="1.3"/><circle cx="0.3" cy="25.3" r="1.3"/><circle cx="1.9" cy="24.3" r="1.1"/><circle cx="2.9" cy="24.6" r="1.1"/></g><g fill="#6c6c6c"><circle cx="1.8" cy="26.4" r="1.9"/><circle cx="3.6" cy="26.7" r="0.5"/><circle cx="3.3" cy="27.5" r="0.5"/><circle cx="1.2" cy="28.1" r="0.3"/><circle cx="0.2" cy="27.4" r="0.5"/><circle cx="0.3" cy="25.3" r="0.5"/><circle cx="1.9" cy="24.3" r="0.3"/><circle cx="2.9" cy="24.6" r="0.3"/></g>
<g opacity="0.6"><circle cx="1.6" cy="26.9" r="0.9" fill="#b0b0b0"/><circle cx="0.1" cy="26.4" r="0.8" fill="#b0b0b0"/></g>
<g fill="#a8a8a8"><circle cx="33.3" cy="31.4" r="3.3"/><circle cx="35.4" cy="31.3" r="1.4"/><circle cx="34.5" cy="33.6" r="1.3"/><circle cx="33.4" cy="33.8" r="1.3"/><circle cx="31.3" cy="31.8" r="1.7"/><circle cx="31.2" cy="31" r="1.4"/><circle cx="33.5" cy="28.9" r="1.3"/><circle cx="34.9" cy="29.6" r="1.4"/></g><g fill="#858585"><circle cx="33.3" cy="31.4" r="2.5"/><circle cx="35.4" cy="31.3" r="0.6"/><circle cx="34.5" cy="33.6" r="0.5"/><circle cx="33.4" cy="33.8" r="0.5"/><circle cx="31.3" cy="31.8" r="0.9"/><circle cx="31.2" cy="31" r="0.6"/><circle cx="33.5" cy="28.9" r="0.5"/><circle cx="34.9" cy="29.6" r="0.6"/></g>
<g opacity="0.6"><circle cx="31.3" cy="32.2" r="0.5" fill="#b0b0b0"/><circle cx="33.9" cy="32.8" r="1" fill="#b0b0b0"/><circle cx="34.3" cy="33.4" r="1.4" fill="#5a5a5a"/></g>
<g fill="#b8b8b8"><circle cx="30.7" cy="21.6" r="4.7"/><circle cx="34.3" cy="22.2" r="1.8"/><circle cx="33.1" cy="23.7" r="2"/><circle cx="30.8" cy="24.6" r="2"/><circle cx="28.3" cy="23.4" r="2.3"/><circle cx="27" cy="21" r="1.7"/><circle cx="29.1" cy="18.5" r="1.9"/><circle cx="32.3" cy="18.6" r="1.8"/></g><g fill="#7a7a7a"><circle cx="30.7" cy="21.6" r="3.9"/><circle cx="34.3" cy="22.2" r="1"/><circle cx="33.1" cy="23.7" r="1.2"/><circle cx="30.8" cy="24.6" r="1.2"/><circle cx="28.3" cy="23.4" r="1.5"/><circle cx="27" cy="21" r="0.9"/><circle cx="29.1" cy="18.5" r="1.1"/><circle cx="32.3" cy="18.6" r="1"/></g>
<g opacity="0.6"><circle cx="31.7" cy="18.7" r="1.5" fill="#b0b0b0"/><circle cx="29.7" cy="18.8" r="1" fill="#5a5a5a"/><circle cx="29.9" cy="24.3" r="1.6" fill="#5a5a5a"/><circle cx="29.9" cy="20.2" r="1.4" fill="#b0b0b0"/><circle cx="30.3" cy="24.1" r="1" fill="#5a5a5a"/></g>
<g fill="#b8b8b8"><circle cx="21.8" cy="67.6" r="3.7"/><circle cx="24.5" cy="67.2" r="1.3"/><circle cx="23.2" cy="69.8" r="1.7"/><circle cx="21.5" cy="70.1" r="1.7"/><circle cx="19.1" cy="68.6" r="1.7"/><circle cx="20" cy="65.9" r="1.7"/><circle cx="20.5" cy="65.2" r="1.4"/><circle cx="23" cy="65.4" r="1.5"/></g><g fill="#909090"><circle cx="21.8" cy="67.6" r="2.9"/><circle cx="24.5" cy="67.2" r="0.5"/><circle cx="23.2" cy="69.8" r="0.9"/><circle cx="21.5" cy="70.1" r="0.9"/><circle cx="19.1" cy="68.6" r="0.9"/><circle cx="20" cy="65.9" r="0.9"/><circle cx="20.5" cy="65.2" r="0.6"/><circle cx="23" cy="65.4" r="0.7"/></g>
<g opacity="0.6"><circle cx="22.4" cy="66.3" r="0.6" fill="#5a5a5a"/><circle cx="22.4" cy="65.6" r="0.9" fill="#5a5a5a"/><circle cx="21.2" cy="65.8" r="1.2" fill="#5a5a5a"/></g>
<g fill="#a8a8a8"><circle cx="32.8" cy="31.6" r="5.3"/><circle cx="36.2" cy="32.5" r="2.4"/><circle cx="35.9" cy="33.8" r="2.1"/><circle cx="33" cy="35.7" r="1.8"/><circle cx="28.8" cy="32.8" r="1.8"/><circle cx="28.6" cy="30.9" r="1.8"/><circle cx="31.6" cy="28" r="2.5"/><circle cx="34.2" cy="28.2" r="2.2"/></g><g fill="#858585"><circle cx="32.8" cy="31.6" r="4.5"/><circle cx="36.2" cy="32.5" r="1.6"/><circle cx="35.9" cy="33.8" r="1.3"/><circle cx="33" cy="35.7" r="1"/><circle cx="28.8" cy="32.8" r="1"/><circle cx="28.6" cy="30.9" r="1"/><circle cx="31.6" cy="28" r="1.7"/><circle cx="34.2" cy="28.2" r="1.4"/></g>
<g opacity="0.6"><circle cx="34.9" cy="33.4" r="1" fill="#b0b0b0"/><circle cx="34.3" cy="33.6" r="1.1" fill="#b0b0b0"/><circle cx="32" cy="30.4" r="0.9" fill="#5a5a5a"/><circle cx="34.5" cy="31.5" r="1.4" fill="#5a5a5a"/><circle cx="35.1" cy="30" r="0.6" fill="#b0b0b0"/></g>
<g fill="#a8a8a8"><circle cx="45.4" cy="5.3" r="2.8"/><circle cx="47.5" cy="5.1" r="1.1"/><circle cx="46.4" cy="6.8" r="1.2"/><circle cx="45.5" cy="7.1" r="1.2"/><circle cx="43.8" cy="6" r="1.2"/><circle cx="43.6" cy="4.2" r="1.3"/><circle cx="44.7" cy="3.9" r="1.4"/><circle cx="46.3" cy="3.4" r="1.3"/></g><g fill="#909090"><circle cx="45.4" cy="5.3" r="2"/><circle cx="47.5" cy="5.1" r="0.3"/><circle cx="46.4" cy="6.8" r="0.4"/><circle cx="45.5" cy="7.1" r="0.4"/><circle cx="43.8" cy="6" r="0.4"/><circle cx="43.6" cy="4.2" r="0.5"/><circle cx="44.7" cy="3.9" r="0.6"/><circle cx="46.3" cy="3.4" r="0.5"/></g>
<g opacity="0.6"><circle cx="45.8" cy="5.8" r="1.4" fill="#b0b0b0"/><circle cx="45.4" cy="4.3" r="0.6" fill="#b0b0b0"/></g>
<g fill="#9e9e9e"><circle cx="61.8" cy="58.2" r="3"/><circle cx="64" cy="58.4" r="1.5"/><circle cx="63.4" cy="59.8" r="1.4"/><circle cx="61.9" cy="60" r="1.5"/><circle cx="59.8" cy="59.2" r="1.2"/><circle cx="59.6" cy="57.8" r="1.6"/><circle cx="60.9" cy="56.4" r="1.3"/><circle cx="63.1" cy="56.6" r="1.3"/></g><g fill="#909090"><circle cx="61.8" cy="58.2" r="2.2"/><circle cx="64" cy="58.4" r="0.7"/><circle cx="63.4" cy="59.8" r="0.6"/><circle cx="61.9" cy="60" r="0.7"/><circle cx="59.8" cy="59.2" r="0.4"/><circle cx="59.6" cy="57.8" r="0.8"/><circle cx="60.9" cy="56.4" r="0.5"/><circle cx="63.1" cy="56.6" r="0.5"/></g>
<g opacity="0.6"><circle cx="63.1" cy="57.1" r="0.7" fill="#5a5a5a"/><circle cx="63.5" cy="57.6" r="1" fill="#b0b0b0"/><circle cx="61.4" cy="58" r="0.5" fill="#b0b0b0"/></g>
<g fill="#b8b8b8"><circle cx="56.8" cy="30" r="5.2"/><circle cx="60.6" cy="28.9" r="2.4"/><circle cx="59.6" cy="32.2" r="2.3"/><circle cx="57" cy="33.6" r="2"/><circle cx="53.7" cy="32.8" r="2.4"/><circle cx="52.8" cy="28.6" r="2.1"/><circle cx="56.9" cy="25.8" r="2"/><circle cx="58.5" cy="26.2" r="2"/></g><g fill="#858585"><circle cx="56.8" cy="30" r="4.4"/><circle cx="60.6" cy="28.9" r="1.6"/><circle cx="59.6" cy="32.2" r="1.5"/><circle cx="57" cy="33.6" r="1.2"/><circle cx="53.7" cy="32.8" r="1.6"/><circle cx="52.8" cy="28.6" r="1.3"/><circle cx="56.9" cy="25.8" r="1.2"/><circle cx="58.5" cy="26.2" r="1.2"/></g>
<g opacity="0.6"><circle cx="55.8" cy="28.3" r="0.5" fill="#5a5a5a"/><circle cx="53.6" cy="29.7" r="1.3" fill="#5a5a5a"/><circle cx="54.9" cy="29" r="1.1" fill="#b0b0b0"/><circle cx="56.6" cy="27.5" r="0.5" fill="#5a5a5a"/><circle cx="59.1" cy="28.5" r="0.9" fill="#b0b0b0"/></g>
<g fill="#9e9e9e"><circle cx="61.5" cy="43.5" r="3.3"/><circle cx="63.5" cy="43.6" r="1.5"/><circle cx="63" cy="45.3" r="1.4"/><circle cx="60.5" cy="45.5" r="1.4"/><circle cx="59.6" cy="44.6" r="1.3"/><circle cx="59.4" cy="43.1" r="1.6"/><circle cx="61.4" cy="41.1" r="1.5"/><circle cx="62.8" cy="41.3" r="1.5"/></g><g fill="#7a7a7a"><circle cx="61.5" cy="43.5" r="2.5"/><circle cx="63.5" cy="43.6" r="0.7"/><circle cx="63" cy="45.3" r="0.6"/><circle cx="60.5" cy="45.5" r="0.6"/><circle cx="59.6" cy="44.6" r="0.5"/><circle cx="59.4" cy="43.1" r="0.8"/><circle cx="61.4" cy="41.1" r="0.7"/><circle cx="62.8" cy="41.3" r="0.7"/></g>
<g opacity="0.6"><circle cx="59.5" cy="44.3" r="0.7" fill="#5a5a5a"/><circle cx="62.7" cy="42.3" r="0.7" fill="#b0b0b0"/><circle cx="60.9" cy="44.1" r="0.9" fill="#b0b0b0"/></g>
<g fill="#9e9e9e"><circle cx="38.2" cy="25" r="3.2"/><circle cx="40.3" cy="24.8" r="1.2"/><circle cx="39.5" cy="26.8" r="1.5"/><circle cx="38.3" cy="26.9" r="1.6"/><circle cx="36.5" cy="26.3" r="1.4"/><circle cx="36.4" cy="24" r="1.5"/><circle cx="38.1" cy="22.6" r="1.3"/><circle cx="39.6" cy="22.9" r="1.3"/></g><g fill="#6c6c6c"><circle cx="38.2" cy="25" r="2.4"/><circle cx="40.3" cy="24.8" r="0.4"/><circle cx="39.5" cy="26.8" r="0.7"/><circle cx="38.3" cy="26.9" r="0.8"/><circle cx="36.5" cy="26.3" r="0.6"/><circle cx="36.4" cy="24" r="0.7"/><circle cx="38.1" cy="22.6" r="0.5"/><circle cx="39.6" cy="22.9" r="0.5"/></g>
<g opacity="0.6"><circle cx="37.8" cy="23.2" r="1" fill="#b0b0b0"/><circle cx="37.8" cy="25.3" r="1.3" fill="#b0b0b0"/><circle cx="39.5" cy="25.7" r="1.5" fill="#b0b0b0"/></g>
<g fill="#b8b8b8"><circle cx="22.2" cy="1.7" r="3.2"/><circle cx="24.3" cy="1.5" r="1.5"/><circle cx="23" cy="3.5" r="1.5"/><circle cx="21.8" cy="4.1" r="1.3"/><circle cx="20.3" cy="2.5" r="1.5"/><circle cx="20.7" cy="0.5" r="1.6"/><circle cx="21.2" cy="-0.2" r="1.5"/><circle cx="24" cy="0.4" r="1.2"/></g><g fill="#858585"><circle cx="22.2" cy="1.7" r="2.4"/><circle cx="24.3" cy="1.5" r="0.7"/><circle cx="23" cy="3.5" r="0.7"/><circle cx="21.8" cy="4.1" r="0.5"/><circle cx="20.3" cy="2.5" r="0.7"/><circle cx="20.7" cy="0.5" r="0.8"/><circle cx="21.2" cy="-0.2" r="0.7"/><circle cx="24" cy="0.4" r="0.4"/></g>
<g opacity="0.6"><circle cx="21.2" cy="3.6" r="0.6" fill="#5a5a5a"/><circle cx="20.2" cy="1.4" r="0.6" fill="#5a5a5a"/><circle cx="20.5" cy="1.5" r="1.5" fill="#5a5a5a"/></g>
<g fill="#a8a8a8"><circle cx="13.8" cy="36.7" r="4.7"/><circle cx="16.9" cy="36.8" r="2.2"/><circle cx="16.5" cy="38.7" r="2.1"/><circle cx="13.6" cy="40" r="1.7"/><circle cx="10.4" cy="37.7" r="2.1"/><circle cx="10.6" cy="35.8" r="1.9"/><circle cx="12.6" cy="33.6" r="2.2"/><circle cx="16.4" cy="34.8" r="1.9"/></g><g fill="#858585"><circle cx="13.8" cy="36.7" r="3.9"/><circle cx="16.9" cy="36.8" r="1.4"/><circle cx="16.5" cy="38.7" r="1.3"/><circle cx="13.6" cy="40" r="0.9"/><circle cx="10.4" cy="37.7" r="1.3"/><circle cx="10.6" cy="35.8" r="1.1"/><circle cx="12.6" cy="33.6" r="1.4"/><circle cx="16.4" cy="34.8" r="1.1"/></g>
<g opacity="0.6"><circle cx="13.6" cy="34.9" r="1.1" fill="#b0b0b0"/><circle cx="12.7" cy="38" r="1.3" fill="#b0b0b0"/><circle cx="10.9" cy="35.3" r="1.2" fill="#5a5a5a"/><circle cx="14.8" cy="34.4" r="0.7" fill="#5a5a5a"/><circle cx="16.7" cy="36.9" r="0.7" fill="#5a5a5a"/></g>
<g fill="#9e9e9e"><circle cx="56.3" cy="56.2" r="4.1"/><circle cx="59.6" cy="56.1" r="1.5"/><circle cx="57.7" cy="58.7" r="1.9"/><circle cx="55.4" cy="59.2" r="1.9"/><circle cx="53.5" cy="57.2" r="1.7"/><circle cx="53.3" cy="55.7" r="1.6"/><circle cx="56" cy="53.3" r="1.5"/><circle cx="57.5" cy="53.5" r="1.5"/></g><g fill="#6c6c6c"><circle cx="56.3" cy="56.2" r="3.3"/><circle cx="59.6" cy="56.1" r="0.7"/><circle cx="57.7" cy="58.7" r="1.1"/><circle cx="55.4" cy="59.2" r="1.1"/><circle cx="53.5" cy="57.2" r="0.9"/><circle cx="53.3" cy="55.7" r="0.8"/><circle cx="56" cy="53.3" r="0.7"/><circle cx="57.5" cy="53.5" r="0.7"/></g>
<g opacity="0.6"><circle cx="53.7" cy="56.5" r="0.9" fill="#5a5a5a"/><circle cx="55.5" cy="54.6" r="0.6" fill="#b0b0b0"/><circle cx="56.9" cy="58.3" r="1.4" fill="#5a5a5a"/><circle cx="55.5" cy="57.7" r="1.5" fill="#b0b0b0"/></g>
<g fill="#a8a8a8"><circle cx="52.2" cy="37" r="4.3"/><circle cx="55.3" cy="36.4" r="2"/><circle cx="54.6" cy="39.1" r="2.1"/><circle cx="51.3" cy="39.8" r="1.9"/><circle cx="49.4" cy="37.6" r="1.9"/><circle cx="49.6" cy="35.2" r="2.1"/><circle cx="51.4" cy="33.6" r="1.7"/><circle cx="54.6" cy="34.9" r="2.1"/></g><g fill="#9a9a9a"><circle cx="52.2" cy="37" r="3.5"/><circle cx="55.3" cy="36.4" r="1.2"/><circle cx="54.6" cy="39.1" r="1.3"/><circle cx="51.3" cy="39.8" r="1.1"/><circle cx="49.4" cy="37.6" r="1.1"/><circle cx="49.6" cy="35.2" r="1.3"/><circle cx="51.4" cy="33.6" r="0.9"/><circle cx="54.6" cy="34.9" r="1.3"/></g>
<g opacity="0.6"><circle cx="51.9" cy="37.4" r="1.5" fill="#b0b0b0"/><circle cx="50.9" cy="35.2" r="0.9" fill="#5a5a5a"/><circle cx="50.9" cy="39.8" r="1.4" fill="#5a5a5a"/><circle cx="53.1" cy="36.7" r="0.9" fill="#5a5a5a"/></g>
<g fill="#b8b8b8"><circle cx="57.8" cy="65.5" r="5"/><circle cx="61" cy="64.8" r="2.3"/><circle cx="60.8" cy="67.6" r="1.9"/><circle cx="56.3" cy="68.7" r="2.1"/><circle cx="54" cy="66.1" r="2.1"/><circle cx="54.6" cy="63.9" r="2"/><circle cx="56.7" cy="62.3" r="2.2"/><circle cx="60.2" cy="62.7" r="2.2"/></g><g fill="#858585"><circle cx="57.8" cy="65.5" r="4.2"/><circle cx="61" cy="64.8" r="1.5"/><circle cx="60.8" cy="67.6" r="1.1"/><circle cx="56.3" cy="68.7" r="1.3"/><circle cx="54" cy="66.1" r="1.3"/><circle cx="54.6" cy="63.9" r="1.2"/><circle cx="56.7" cy="62.3" r="1.4"/><circle cx="60.2" cy="62.7" r="1.4"/></g>
<g opacity="0.6"><circle cx="56.6" cy="64.6" r="0.9" fill="#b0b0b0"/><circle cx="58.3" cy="68.4" r="1.2" fill="#5a5a5a"/><circle cx="57.1" cy="66.3" r="1.1" fill="#5a5a5a"/><circle cx="58.5" cy="63.1" r="1.3" fill="#5a5a5a"/><circle cx="56.6" cy="69" r="1.1" fill="#b0b0b0"/></g>
<g fill="#b8b8b8"><circle cx="2.7" cy="59.7" r="2.7"/><circle cx="4.7" cy="59.4" r="1.1"/><circle cx="3.6" cy="61.5" r="1.2"/><circle cx="2.8" cy="61.8" r="1.2"/><circle cx="1.1" cy="60" r="1.3"/><circle cx="1" cy="59.3" r="1.3"/><circle cx="2.1" cy="58.1" r="1.3"/><circle cx="4.3" cy="58.6" r="1.2"/></g><g fill="#9a9a9a"><circle cx="2.7" cy="59.7" r="1.9"/><circle cx="4.7" cy="59.4" r="0.3"/><circle cx="3.6" cy="61.5" r="0.4"/><circle cx="2.8" cy="61.8" r="0.4"/><circle cx="1.1" cy="60" r="0.5"/><circle cx="1" cy="59.3" r="0.5"/><circle cx="2.1" cy="58.1" r="0.5"/><circle cx="4.3" cy="58.6" r="0.4"/></g>
<g opacity="0.6"><circle cx="2.8" cy="58.9" r="0.6" fill="#b0b0b0"/><circle cx="1.9" cy="58.5" r="1.2" fill="#5a5a5a"/></g>
<g fill="#a8a8a8"><circle cx="18.2" cy="32.7" r="3.5"/><circle cx="21.1" cy="32.8" r="1.3"/><circle cx="20.4" cy="34.2" r="1.5"/><circle cx="17.3" cy="34.8" r="1.5"/><circle cx="15.9" cy="33.7" r="1.4"/><circle cx="15.9" cy="31.9" r="1.4"/><circle cx="18.1" cy="30" r="1.4"/><circle cx="19.7" cy="30.5" r="1.6"/></g><g fill="#6c6c6c"><circle cx="18.2" cy="32.7" r="2.7"/><circle cx="21.1" cy="32.8" r="0.5"/><circle cx="20.4" cy="34.2" r="0.7"/><circle cx="17.3" cy="34.8" r="0.7"/><circle cx="15.9" cy="33.7" r="0.6"/><circle cx="15.9" cy="31.9" r="0.6"/><circle cx="18.1" cy="30" r="0.6"/><circle cx="19.7" cy="30.5" r="0.8"/></g>
<g opacity="0.6"><circle cx="19.5" cy="34.1" r="1" fill="#b0b0b0"/><circle cx="16.5" cy="31.1" r="1" fill="#5a5a5a"/><circle cx="16.2" cy="32.3" r="0.7" fill="#5a5a5a"/></g>
<g fill="#9e9e9e"><circle cx="25.9" cy="31.2" r="4.9"/><circle cx="29.8" cy="30.6" r="1.8"/><circle cx="28.4" cy="33.5" r="1.9"/><circle cx="24.1" cy="34.7" r="1.8"/><circle cx="22.4" cy="31.9" r="2.4"/><circle cx="23.1" cy="28.9" r="1.8"/><circle cx="25.7" cy="27.4" r="1.9"/><circle cx="27.5" cy="28.1" r="1.8"/></g><g fill="#7a7a7a"><circle cx="25.9" cy="31.2" r="4.1"/><circle cx="29.8" cy="30.6" r="1"/><circle cx="28.4" cy="33.5" r="1.1"/><circle cx="24.1" cy="34.7" r="1"/><circle cx="22.4" cy="31.9" r="1.6"/><circle cx="23.1" cy="28.9" r="1"/><circle cx="25.7" cy="27.4" r="1.1"/><circle cx="27.5" cy="28.1" r="1"/></g>
<g opacity="0.6"><circle cx="27.8" cy="29" r="1" fill="#5a5a5a"/><circle cx="25.3" cy="30.9" r="1.3" fill="#b0b0b0"/><circle cx="25.5" cy="29.9" r="1.4" fill="#b0b0b0"/><circle cx="23" cy="33.1" r="0.5" fill="#b0b0b0"/><circle cx="26.2" cy="30.7" r="1.1" fill="#b0b0b0"/></g>
<g fill="#a8a8a8"><circle cx="46.7" cy="37" r="3.6"/><circle cx="48.9" cy="37.6" r="1.7"/><circle cx="48.1" cy="39.5" r="1.3"/><circle cx="46.7" cy="39.8" r="1.6"/><circle cx="44.5" cy="38" r="1.5"/><circle cx="44.5" cy="36.1" r="1.7"/><circle cx="46.5" cy="34.5" r="1.8"/><circle cx="47.8" cy="34.9" r="1.7"/></g><g fill="#7a7a7a"><circle cx="46.7" cy="37" r="2.8"/><circle cx="48.9" cy="37.6" r="0.9"/><circle cx="48.1" cy="39.5" r="0.5"/><circle cx="46.7" cy="39.8" r="0.8"/><circle cx="44.5" cy="38" r="0.7"/><circle cx="44.5" cy="36.1" r="0.9"/><circle cx="46.5" cy="34.5" r="1"/><circle cx="47.8" cy="34.9" r="0.9"/></g>
<g opacity="0.6"><circle cx="45.7" cy="37.3" r="1.2" fill="#5a5a5a"/><circle cx="49.1" cy="36.5" r="1.1" fill="#b0b0b0"/><circle cx="46.2" cy="39.4" r="0.5" fill="#5a5a5a"/></g>
<g fill="#b8b8b8"><circle cx="6.6" cy="30.6" r="3.8"/><circle cx="9.5" cy="30.7" r="1.7"/><circle cx="7.8" cy="32.9" r="1.6"/><circle cx="6.5" cy="33.1" r="1.8"/><circle cx="4.3" cy="31.4" r="1.6"/><circle cx="3.8" cy="29.8" r="1.5"/><circle cx="6.3" cy="27.9" r="1.5"/><circle cx="8.7" cy="28.8" r="1.9"/></g><g fill="#6c6c6c"><circle cx="6.6" cy="30.6" r="3"/><circle cx="9.5" cy="30.7" r="0.9"/><circle cx="7.8" cy="32.9" r="0.8"/><circle cx="6.5" cy="33.1" r="1"/><circle cx="4.3" cy="31.4" r="0.8"/><circle cx="3.8" cy="29.8" r="0.7"/><circle cx="6.3" cy="27.9" r="0.7"/><circle cx="8.7" cy="28.8" r="1.1"/></g>
<g opacity="0.6"><circle cx="5.8" cy="32.7" r="0.8" fill="#5a5a5a"/><circle cx="7.8" cy="29.5" r="0.6" fill="#b0b0b0"/><circle cx="8.4" cy="32.2" r="1.4" fill="#b0b0b0"/><circle cx="4.9" cy="30.4" r="1.2" fill="#b0b0b0"/></g>
<g fill="#b8b8b8"><circle cx="20.7" cy="19.2" r="5.3"/><circle cx="25" cy="18.4" r="2.2"/><circle cx="22.6" cy="21.9" r="2.5"/><circle cx="19" cy="23.2" r="1.9"/><circle cx="17.5" cy="21.6" r="2.4"/><circle cx="16.5" cy="18.5" r="2.4"/><circle cx="20.9" cy="14.7" r="1.9"/><circle cx="23.2" cy="16.5" r="2.6"/></g><g fill="#909090"><circle cx="20.7" cy="19.2" r="4.5"/><circle cx="25" cy="18.4" r="1.4"/><circle cx="22.6" cy="21.9" r="1.7"/><circle cx="19" cy="23.2" r="1.1"/><circle cx="17.5" cy="21.6" r="1.6"/><circle cx="16.5" cy="18.5" r="1.6"/><circle cx="20.9" cy="14.7" r="1.1"/><circle cx="23.2" cy="16.5" r="1.8"/></g>
<g opacity="0.6"><circle cx="23.2" cy="21" r="0.6" fill="#b0b0b0"/><circle cx="22.2" cy="21.4" r="0.9" fill="#5a5a5a"/><circle cx="23.9" cy="19.2" r="0.6" fill="#b0b0b0"/><circle cx="17.8" cy="17.6" r="1.1" fill="#5a5a5a"/><circle cx="21.6" cy="17" r="0.8" fill="#5a5a5a"/></g>
<g fill="#b8b8b8"><circle cx="68.1" cy="11.6" r="4.4"/><circle cx="71.4" cy="11.3" r="1.9"/><circle cx="69.7" cy="14.6" r="1.5"/><circle cx="67.5" cy="14.8" r="1.6"/><circle cx="64.6" cy="12.6" r="1.5"/><circle cx="65.3" cy="9.8" r="1.6"/><circle cx="67.4" cy="8.8" r="2"/><circle cx="69.4" cy="8.5" r="1.9"/></g><g fill="#9a9a9a"><circle cx="68.1" cy="11.6" r="3.6"/><circle cx="71.4" cy="11.3" r="1.1"/><circle cx="69.7" cy="14.6" r="0.7"/><circle cx="67.5" cy="14.8" r="0.8"/><circle cx="64.6" cy="12.6" r="0.7"/><circle cx="65.3" cy="9.8" r="0.8"/><circle cx="67.4" cy="8.8" r="1.2"/><circle cx="69.4" cy="8.5" r="1.1"/></g>
<g opacity="0.6"><circle cx="70.6" cy="12.2" r="0.6" fill="#b0b0b0"/><circle cx="67.7" cy="8.6" r="1.1" fill="#5a5a5a"/><circle cx="67.4" cy="13.6" r="0.8" fill="#b0b0b0"/><circle cx="69.8" cy="9" r="1.4" fill="#5a5a5a"/></g>
<g fill="#a8a8a8"><circle cx="49.7" cy="36" r="5"/><circle cx="53.1" cy="37" r="2.4"/><circle cx="51.4" cy="39.4" r="1.7"/><circle cx="48.1" cy="39.3" r="2.1"/><circle cx="46.2" cy="37.6" r="1.8"/><circle cx="46.3" cy="35" r="2.1"/><circle cx="48.7" cy="32.5" r="2.1"/><circle cx="52.4" cy="34" r="2.4"/></g><g fill="#9a9a9a"><circle cx="49.7" cy="36" r="4.2"/><circle cx="53.1" cy="37" r="1.6"/><circle cx="51.4" cy="39.4" r="0.9"/><circle cx="48.1" cy="39.3" r="1.3"/><circle cx="46.2" cy="37.6" r="1"/><circle cx="46.3" cy="35" r="1.3"/><circle cx="48.7" cy="32.5" r="1.3"/><circle cx="52.4" cy="34" r="1.6"/></g>
<g opacity="0.6"><circle cx="48.8" cy="36.3" r="1.6" fill="#5a5a5a"/><circle cx="46.3" cy="36.8" r="0.7" fill="#b0b0b0"/><circle cx="48.9" cy="36" r="1.6" fill="#b0b0b0"/><circle cx="52.2" cy="37.5" r="1" fill="#5a5a5a"/><circle cx="52.7" cy="34.8" r="1" fill="#5a5a5a"/></g>
<g fill="#9e9e9e"><circle cx="3.3" cy="47.8" r="4.2"/><circle cx="6.4" cy="47.6" r="2"/><circle cx="4.7" cy="50.5" r="1.6"/><circle cx="2.9" cy="50.6" r="1.8"/><circle cx="0.1" cy="49" r="1.8"/><circle cx="0.5" cy="46.4" r="1.5"/><circle cx="3.4" cy="44.7" r="1.8"/><circle cx="4.5" cy="45.4" r="1.9"/></g><g fill="#858585"><circle cx="3.3" cy="47.8" r="3.4"/><circle cx="6.4" cy="47.6" r="1.2"/><circle cx="4.7" cy="50.5" r="0.8"/><circle cx="2.9" cy="50.6" r="1"/><circle cx="0.1" cy="49" r="1"/><circle cx="0.5" cy="46.4" r="0.7"/><circle cx="3.4" cy="44.7" r="1"/><circle cx="4.5" cy="45.4" r="1.1"/></g>
<g opacity="0.6"><circle cx="3.9" cy="45.8" r="0.9" fill="#b0b0b0"/><circle cx="3.9" cy="47.2" r="0.8" fill="#b0b0b0"/><circle cx="2.4" cy="45.4" r="1.2" fill="#5a5a5a"/><circle cx="5.8" cy="47.5" r="0.8" fill="#b0b0b0"/></g>
<g fill="#b8b8b8"><circle cx="51.1" cy="58.5" r="3.2"/><circle cx="53.7" cy="58.5" r="1.2"/><circle cx="52.9" cy="59.7" r="1.7"/><circle cx="50.3" cy="60.7" r="1.4"/><circle cx="48.9" cy="59.3" r="1.3"/><circle cx="49.4" cy="57.2" r="1.5"/><circle cx="51.3" cy="56.1" r="1.6"/><circle cx="52" cy="56.3" r="1.2"/></g><g fill="#858585"><circle cx="51.1" cy="58.5" r="2.4"/><circle cx="53.7" cy="58.5" r="0.4"/><circle cx="52.9" cy="59.7" r="0.9"/><circle cx="50.3" cy="60.7" r="0.6"/><circle cx="48.9" cy="59.3" r="0.5"/><circle cx="49.4" cy="57.2" r="0.7"/><circle cx="51.3" cy="56.1" r="0.8"/><circle cx="52" cy="56.3" r="0.4"/></g>
<g opacity="0.6"><circle cx="50.6" cy="58.5" r="1.1" fill="#b0b0b0"/><circle cx="49.6" cy="59.1" r="1.3" fill="#5a5a5a"/><circle cx="50.9" cy="60.4" r="1.4" fill="#b0b0b0"/></g>
<g fill="#9e9e9e"><circle cx="20.2" cy="41.3" r="3.7"/><circle cx="22.6" cy="40.8" r="1.7"/><circle cx="21.6" cy="43.6" r="1.5"/><circle cx="20.4" cy="44.1" r="1.3"/><circle cx="18.1" cy="42.8" r="1.4"/><circle cx="17.9" cy="40.7" r="1.6"/><circle cx="19.4" cy="38.6" r="1.6"/><circle cx="21.3" cy="38.8" r="1.8"/></g><g fill="#7a7a7a"><circle cx="20.2" cy="41.3" r="2.9"/><circle cx="22.6" cy="40.8" r="0.9"/><circle cx="21.6" cy="43.6" r="0.7"/><circle cx="20.4" cy="44.1" r="0.5"/><circle cx="18.1" cy="42.8" r="0.6"/><circle cx="17.9" cy="40.7" r="0.8"/><circle cx="19.4" cy="38.6" r="0.8"/><circle cx="21.3" cy="38.8" r="1"/></g>
<g opacity="0.6"><circle cx="21.2" cy="42.6" r="0.7" fill="#b0b0b0"/><circle cx="19.2" cy="43.7" r="1.4" fill="#b0b0b0"/><circle cx="19.3" cy="43" r="0.8" fill="#b0b0b0"/></g>
<g fill="#9e9e9e"><circle cx="31.5" cy="38.3" r="4.1"/><circle cx="34.7" cy="38.1" r="1.6"/><circle cx="32.7" cy="40.8" r="1.9"/><circle cx="31" cy="41" r="1.8"/><circle cx="29.2" cy="39.8" r="1.7"/><circle cx="29.3" cy="37.2" r="2"/><circle cx="31.1" cy="35.5" r="1.9"/><circle cx="33.8" cy="36.2" r="1.9"/></g><g fill="#6c6c6c"><circle cx="31.5" cy="38.3" r="3.3"/><circle cx="34.7" cy="38.1" r="0.8"/><circle cx="32.7" cy="40.8" r="1.1"/><circle cx="31" cy="41" r="1"/><circle cx="29.2" cy="39.8" r="0.9"/><circle cx="29.3" cy="37.2" r="1.2"/><circle cx="31.1" cy="35.5" r="1.1"/><circle cx="33.8" cy="36.2" r="1.1"/></g>
<g opacity="0.6"><circle cx="31.1" cy="37.3" r="1.2" fill="#b0b0b0"/><circle cx="32.8" cy="40.4" r="1.4" fill="#b0b0b0"/><circle cx="31" cy="36" r="0.6" fill="#b0b0b0"/><circle cx="32.1" cy="39.7" r="1.4" fill="#5a5a5a"/></g>
<g fill="#a8a8a8"><circle cx="55" cy="47.4" r="3.2"/><circle cx="57.3" cy="46.8" r="1.2"/><circle cx="56.7" cy="49.1" r="1.3"/><circle cx="54.4" cy="49.5" r="1.4"/><circle cx="52.8" cy="48.2" r="1.3"/><circle cx="52.6" cy="46.9" r="1.3"/><circle cx="54.3" cy="45.4" r="1.4"/><circle cx="56.6" cy="45.9" r="1.5"/></g><g fill="#6c6c6c"><circle cx="55" cy="47.4" r="2.4"/><circle cx="57.3" cy="46.8" r="0.4"/><circle cx="56.7" cy="49.1" r="0.5"/><circle cx="54.4" cy="49.5" r="0.6"/><circle cx="52.8" cy="48.2" r="0.5"/><circle cx="52.6" cy="46.9" r="0.5"/><circle cx="54.3" cy="45.4" r="0.6"/><circle cx="56.6" cy="45.9" r="0.7"/></g>
<g opacity="0.6"><circle cx="53.8" cy="47.8" r="1.6" fill="#b0b0b0"/><circle cx="53.1" cy="47" r="0.9" fill="#b0b0b0"/><circle cx="55.4" cy="47.3" r="1.1" fill="#5a5a5a"/></g>
<g fill="#b8b8b8"><circle cx="64.8" cy="15.5" r="3.7"/><circle cx="67.2" cy="15" r="1.8"/><circle cx="66.2" cy="17.5" r="1.6"/><circle cx="64.3" cy="18.1" r="1.9"/><circle cx="61.9" cy="16.2" r="1.6"/><circle cx="62.1" cy="14.4" r="1.7"/><circle cx="63.8" cy="12.8" r="1.4"/><circle cx="66.7" cy="13.2" r="1.3"/></g><g fill="#6c6c6c"><circle cx="64.8" cy="15.5" r="2.9"/><circle cx="67.2" cy="15" r="1"/><circle cx="66.2" cy="17.5" r="0.8"/><circle cx="64.3" cy="18.1" r="1.1"/><circle cx="61.9" cy="16.2" r="0.8"/><circle cx="62.1" cy="14.4" r="0.9"/><circle cx="63.8" cy="12.8" r="0.6"/><circle cx="66.7" cy="13.2" r="0.5"/></g>
<g opacity="0.6"><circle cx="66.5" cy="13.9" r="0.6" fill="#b0b0b0"/><circle cx="65.7" cy="16.4" r="0.7" fill="#5a5a5a"/><circle cx="63.1" cy="14.6" r="1.2" fill="#5a5a5a"/><circle cx="62.6" cy="14.9" r="1.5" fill="#b0b0b0"/></g>
<g fill="#9e9e9e"><circle cx="40.8" cy="55.7" r="2.8"/><circle cx="42.7" cy="55.5" r="1.2"/><circle cx="42.2" cy="57.2" r="1.3"/><circle cx="40.2" cy="57.3" r="1.3"/><circle cx="39.2" cy="56.6" r="1.1"/><circle cx="39.3" cy="55.2" r="1.4"/><circle cx="40.7" cy="54" r="1.3"/><circle cx="42.3" cy="54.5" r="1.3"/></g><g fill="#858585"><circle cx="40.8" cy="55.7" r="2"/><circle cx="42.7" cy="55.5" r="0.4"/><circle cx="42.2" cy="57.2" r="0.5"/><circle cx="40.2" cy="57.3" r="0.5"/><circle cx="39.2" cy="56.6" r="0.3"/><circle cx="39.3" cy="55.2" r="0.6"/><circle cx="40.7" cy="54" r="0.5"/><circle cx="42.3" cy="54.5" r="0.5"/></g>
<g opacity="0.6"><circle cx="41.2" cy="56" r="1.3" fill="#b0b0b0"/><circle cx="42.3" cy="55.4" r="0.9" fill="#b0b0b0"/></g>
<g fill="#a8a8a8"><circle cx="4.5" cy="8.8" r="4"/><circle cx="7.4" cy="9.3" r="1.4"/><circle cx="6.7" cy="10.9" r="1.6"/><circle cx="4.6" cy="11.5" r="1.9"/><circle cx="1.9" cy="9.3" r="1.7"/><circle cx="1.9" cy="8.2" r="1.6"/><circle cx="3.4" cy="6.3" r="1.5"/><circle cx="6.6" cy="6.4" r="1.5"/></g><g fill="#909090"><circle cx="4.5" cy="8.8" r="3.2"/><circle cx="7.4" cy="9.3" r="0.6"/><circle cx="6.7" cy="10.9" r="0.8"/><circle cx="4.6" cy="11.5" r="1.1"/><circle cx="1.9" cy="9.3" r="0.9"/><circle cx="1.9" cy="8.2" r="0.8"/><circle cx="3.4" cy="6.3" r="0.7"/><circle cx="6.6" cy="6.4" r="0.7"/></g>
<g opacity="0.6"><circle cx="2.8" cy="10.9" r="0.8" fill="#b0b0b0"/><circle cx="5" cy="6.9" r="1.6" fill="#5a5a5a"/><circle cx="6.2" cy="7.6" r="0.8" fill="#b0b0b0"/><circle cx="4.7" cy="8.4" r="1.3" fill="#5a5a5a"/></g>
<g fill="#9e9e9e"><circle cx="66.2" cy="31.7" r="4"/><circle cx="69.2" cy="31.4" r="1.4"/><circle cx="67.4" cy="34.1" r="1.9"/><circle cx="65.6" cy="34.8" r="1.6"/><circle cx="63.5" cy="32.9" r="1.5"/><circle cx="63.7" cy="30.1" r="1.9"/><circle cx="64.8" cy="28.9" r="1.8"/><circle cx="68.4" cy="29.8" r="1.9"/></g><g fill="#7a7a7a"><circle cx="66.2" cy="31.7" r="3.2"/><circle cx="69.2" cy="31.4" r="0.6"/><circle cx="67.4" cy="34.1" r="1.1"/><circle cx="65.6" cy="34.8" r="0.8"/><circle cx="63.5" cy="32.9" r="0.7"/><circle cx="63.7" cy="30.1" r="1.1"/><circle cx="64.8" cy="28.9" r="1"/><circle cx="68.4" cy="29.8" r="1.1"/></g>
<g opacity="0.6"><circle cx="67.1" cy="33.1" r="0.6" fill="#5a5a5a"/><circle cx="64.9" cy="33.6" r="0.9" fill="#b0b0b0"/><circle cx="64.6" cy="30" r="1" fill="#b0b0b0"/><circle cx="66" cy="30.5" r="1.2" fill="#5a5a5a"/></g>
<g fill="#a8a8a8"><circle cx="15.8" cy="21.7" r="3.1"/><circle cx="18.1" cy="21.7" r="1.3"/><circle cx="16.6" cy="23.6" r="1.6"/><circle cx="15" cy="23.6" r="1.3"/><circle cx="13.7" cy="22.2" r="1.6"/><circle cx="13.7" cy="21" r="1.3"/><circle cx="15.8" cy="19.5" r="1.2"/><circle cx="16.9" cy="19.8" r="1.3"/></g><g fill="#909090"><circle cx="15.8" cy="21.7" r="2.3"/><circle cx="18.1" cy="21.7" r="0.5"/><circle cx="16.6" cy="23.6" r="0.8"/><circle cx="15" cy="23.6" r="0.5"/><circle cx="13.7" cy="22.2" r="0.8"/><circle cx="13.7" cy="21" r="0.5"/><circle cx="15.8" cy="19.5" r="0.4"/><circle cx="16.9" cy="19.8" r="0.5"/></g>
<g opacity="0.6"><circle cx="14.4" cy="20.7" r="1.3" fill="#b0b0b0"/><circle cx="13.9" cy="22.6" r="0.5" fill="#5a5a5a"/><circle cx="16.2" cy="22.6" r="0.7" fill="#5a5a5a"/></g>
<g fill="#b8b8b8"><circle cx="44.4" cy="48.2" r="3.1"/><circle cx="46.3" cy="48.5" r="1.5"/><circle cx="45.7" cy="50.1" r="1.3"/><circle cx="44" cy="50.4" r="1.2"/><circle cx="42.5" cy="49" r="1.3"/><circle cx="42.7" cy="46.7" r="1.2"/><circle cx="44" cy="45.9" r="1.5"/><circle cx="45.5" cy="46.7" r="1.5"/></g><g fill="#909090"><circle cx="44.4" cy="48.2" r="2.3"/><circle cx="46.3" cy="48.5" r="0.7"/><circle cx="45.7" cy="50.1" r="0.5"/><circle cx="44" cy="50.4" r="0.4"/><circle cx="42.5" cy="49" r="0.5"/><circle cx="42.7" cy="46.7" r="0.4"/><circle cx="44" cy="45.9" r="0.7"/><circle cx="45.5" cy="46.7" r="0.7"/></g>
<g opacity="0.6"><circle cx="45.5" cy="48.5" r="1.3" fill="#5a5a5a"/><circle cx="44.1" cy="49.1" r="0.9" fill="#5a5a5a"/><circle cx="45.7" cy="46.8" r="1" fill="#b0b0b0"/></g>
<g fill="#a8a8a8"><circle cx="50.1" cy="33.4" r="3.2"/><circle cx="52.3" cy="33.3" r="1.4"/><circle cx="51.6" cy="35.1" r="1.5"/><circle cx="49.1" cy="35.4" r="1.3"/><circle cx="47.7" cy="34" r="1.2"/><circle cx="48.3" cy="31.9" r="1.6"/><circle cx="50.2" cy="31.1" r="1.2"/><circle cx="51.1" cy="31.3" r="1.6"/></g><g fill="#909090"><circle cx="50.1" cy="33.4" r="2.4"/><circle cx="52.3" cy="33.3" r="0.6"/><circle cx="51.6" cy="35.1" r="0.7"/><circle cx="49.1" cy="35.4" r="0.5"/><circle cx="47.7" cy="34" r="0.4"/><circle cx="48.3" cy="31.9" r="0.8"/><circle cx="50.2" cy="31.1" r="0.4"/><circle cx="51.1" cy="31.3" r="0.8"/></g>
<g opacity="0.6"><circle cx="49.6" cy="31.7" r="1.5" fill="#5a5a5a"/><circle cx="48.3" cy="34.4" r="1.3" fill="#5a5a5a"/><circle cx="51.5" cy="33" r="0.7" fill="#b0b0b0"/></g>
<circle cx="16" cy="27" r="8" fill="#505050" opacity="0.55"/>
<circle cx="18.1" cy="26.3" r="5.6" fill="#0e0e0e"/>
<circle cx="24" cy="28" r="2" fill="#e0e0e0" opacity="0.8"/>
<circle cx="42.8" cy="21.5" r="4.8" fill="#b5b5b5" stroke="#e6e6e6" stroke-width="1.2"/>
<circle cx="42.8" cy="21.5" r="2" fill="#d0d0d0"/>
<circle cx="53.8" cy="34.1" r="3.8" fill="#a5a5a5" stroke="#dedede" stroke-width="1.1"/>
<circle cx="65.9" cy="4.7" r="3.5" fill="#999" stroke="#ddd" stroke-width="1.0"/>
<circle cx="14" cy="47" r="4" fill="#888" stroke="#ddd" stroke-width="1.1"/>
<circle cx="13" cy="4" r="4" fill="#999" stroke="#ccc" stroke-width="1.0"/>
</g>
<rect x="180.3" y="811.6" width="69.5" height="69.5" filter="url(#grain)" opacity="0.3"/>
</g>
<rect x="223.10000000000002" y="875.3000000000001" width="22.6" height="1.7" fill="#fff"/>
<g clip-path="url(#cpg4)">
<rect x="31.2" y="886.3" width="69.5" height="69.5" fill="#acacac"/>
<g transform="translate(31.2,886.3)" filter="url(#soft)">
<ellipse cx="34.9" cy="39.6" rx="0.9" ry="0.7" fill="#a0a0a0" stroke="#777" stroke-width="0.6" transform="rotate(73 34.9 39.6)"/>
<circle cx="31" cy="-1.3" r="1.2" fill="#a0a0a0" stroke="#777" stroke-width="0.6"/>
<ellipse cx="23.6" cy="28.9" rx="0.8" ry="0.6" fill="#a0a0a0" stroke="#777" stroke-width="0.6" transform="rotate(48 23.6 28.9)"/>
<circle cx="56.4" cy="50.8" r="1.3" fill="#b0b0b0" stroke="#777" stroke-width="0.6"/>
<ellipse cx="63.8" cy="68.8" rx="1.8" ry="1.7" fill="#b0b0b0" stroke="#777" stroke-width="0.6" transform="rotate(145 63.8 68.8)"/>
<circle cx="50.5" cy="67" r="2.2" fill="#b0b0b0" stroke="#777" stroke-width="0.6"/>
<circle cx="29.5" cy="3.2" r="2.2" fill="#b0b0b0" stroke="#777" stroke-width="0.6"/>
<circle cx="39" cy="30.2" r="0.8" fill="#a0a0a0" stroke="#777" stroke-width="0.6"/>
<circle cx="23.4" cy="19.9" r="1.3" fill="#b0b0b0" stroke="#777" stroke-width="0.6"/>
<circle cx="26.7" cy="1.5" r="1.8" fill="#b0b0b0" stroke="#777" stroke-width="0.6"/>
<circle cx="55.8" cy="4" r="0.8" fill="#b0b0b0" stroke="#777" stroke-width="0.6"/>
<circle cx="38.4" cy="19.7" r="1.9" fill="#a0a0a0" stroke="#777" stroke-width="0.6"/>
<ellipse cx="3.1" cy="-0.5" rx="1.6" ry="1.4" fill="#b0b0b0" stroke="#777" stroke-width="0.6" transform="rotate(47 3.1 -0.5)"/>
<ellipse cx="72" cy="45.4" rx="1.1" ry="0.9" fill="#a0a0a0" stroke="#777" stroke-width="0.6" transform="rotate(130 72 45.4)"/>
<ellipse cx="49.5" cy="55.8" rx="0.8" ry="0.8" fill="#a0a0a0" stroke="#777" stroke-width="0.6" transform="rotate(153 49.5 55.8)"/>
<circle cx="46.2" cy="47.9" r="1" fill="#b0b0b0" stroke="#777" stroke-width="0.6"/>
<ellipse cx="7.1" cy="15" rx="0.9" ry="0.7" fill="#a0a0a0" stroke="#777" stroke-width="0.6" transform="rotate(136 7.1 15)"/>
<ellipse cx="28.1" cy="39.7" rx="0.8" ry="0.7" fill="#a0a0a0" stroke="#777" stroke-width="0.6" transform="rotate(62 28.1 39.7)"/>
<ellipse cx="27.9" cy="26.3" rx="1.1" ry="0.9" fill="#a0a0a0" stroke="#777" stroke-width="0.6" transform="rotate(129 27.9 26.3)"/>
<circle cx="47.8" cy="3.8" r="0.9" fill="#a0a0a0" stroke="#777" stroke-width="0.6"/>
<circle cx="25.3" cy="3.3" r="1.6" fill="#a0a0a0" stroke="#777" stroke-width="0.6"/>
<ellipse cx="49.7" cy="32.1" rx="2.1" ry="1.9" fill="#b0b0b0" stroke="#777" stroke-width="0.6" transform="rotate(113 49.7 32.1)"/>
<ellipse cx="13.1" cy="18.2" rx="0.8" ry="0.7" fill="#a0a0a0" stroke="#777" stroke-width="0.6" transform="rotate(66 13.1 18.2)"/>
<circle cx="44.7" cy="-2.9" r="1.8" fill="#b0b0b0" stroke="#777" stroke-width="0.6"/>
<circle cx="51.8" cy="11.2" r="2.3" fill="#a0a0a0" stroke="#777" stroke-width="0.6"/>
<circle cx="26.7" cy="53.2" r="1.5" fill="#b0b0b0" stroke="#777" stroke-width="0.6"/>
<circle cx="42.6" cy="37.1" r="1.7" fill="#b0b0b0" stroke="#777" stroke-width="0.6"/>
<circle cx="3.7" cy="45.4" r="1.5" fill="#a0a0a0" stroke="#777" stroke-width="0.6"/>
<ellipse cx="50.3" cy="45.4" rx="0.9" ry="0.8" fill="#a0a0a0" stroke="#777" stroke-width="0.6" transform="rotate(149 50.3 45.4)"/>
<ellipse cx="55.8" cy="-0.6" rx="0.9" ry="0.8" fill="#a0a0a0" stroke="#777" stroke-width="0.6" transform="rotate(129 55.8 -0.6)"/>
<g fill="#5e5e5e"><circle cx="3.4" cy="42" r="6.8"/><circle cx="8.3" cy="40.6" r="2.4"/><circle cx="7.5" cy="45.3" r="3.1"/><circle cx="3.8" cy="47.5" r="2.7"/><circle cx="-0.5" cy="45.6" r="2.5"/><circle cx="-1.6" cy="40.6" r="3.1"/><circle cx="2.8" cy="36.4" r="2.6"/><circle cx="6.4" cy="37.9" r="2.9"/></g><g fill="#9e9e9e"><circle cx="3.4" cy="42" r="6"/><circle cx="8.3" cy="40.6" r="1.6"/><circle cx="7.5" cy="45.3" r="2.4"/><circle cx="3.8" cy="47.5" r="1.9"/><circle cx="-0.5" cy="45.6" r="1.7"/><circle cx="-1.6" cy="40.6" r="2.4"/><circle cx="2.8" cy="36.4" r="1.8"/><circle cx="6.4" cy="37.9" r="2.2"/></g>
<g opacity="0.6"><circle cx="2.3" cy="40.6" r="0.7" fill="#666"/><circle cx="1.4" cy="42.2" r="0.7" fill="#777"/><circle cx="4.2" cy="40.4" r="0.7" fill="#b5b5b5"/><circle cx="1.7" cy="39.6" r="0.6" fill="#b5b5b5"/><circle cx="1.1" cy="38.7" r="0.6" fill="#b5b5b5"/><circle cx="2.1" cy="43.6" r="1" fill="#b5b5b5"/><circle cx="6.2" cy="41.9" r="1.5" fill="#666"/><circle cx="4.4" cy="44.7" r="0.8" fill="#777"/><circle cx="8.1" cy="44" r="0.8" fill="#b5b5b5"/><circle cx="1.4" cy="45" r="0.5" fill="#b5b5b5"/><circle cx="4.7" cy="46.1" r="0.6" fill="#777"/></g>
<g fill="#5e5e5e"><circle cx="49.7" cy="43.9" r="3.1"/><circle cx="52" cy="43.2" r="1.3"/><circle cx="51.1" cy="45.2" r="1.5"/><circle cx="49.3" cy="45.9" r="1.5"/><circle cx="47.5" cy="44.4" r="1.4"/><circle cx="47.8" cy="42.9" r="1.3"/><circle cx="48.9" cy="41.8" r="1.4"/><circle cx="50.9" cy="41.9" r="1.2"/></g><g fill="#8c8c8c"><circle cx="49.7" cy="43.9" r="2.3"/><circle cx="52" cy="43.2" r="0.5"/><circle cx="51.1" cy="45.2" r="0.7"/><circle cx="49.3" cy="45.9" r="0.7"/><circle cx="47.5" cy="44.4" r="0.7"/><circle cx="47.8" cy="42.9" r="0.6"/><circle cx="48.9" cy="41.8" r="0.7"/><circle cx="50.9" cy="41.9" r="0.5"/></g>
<g opacity="0.6"><circle cx="50.5" cy="45.6" r="1.2" fill="#666"/><circle cx="51.4" cy="42.7" r="1.3" fill="#b5b5b5"/><circle cx="48.4" cy="44.7" r="1.3" fill="#b5b5b5"/><circle cx="49.2" cy="42.8" r="0.6" fill="#b5b5b5"/></g>
<g fill="#5e5e5e"><circle cx="70.2" cy="50" r="3.2"/><circle cx="72.5" cy="50.4" r="1.5"/><circle cx="71.7" cy="51.3" r="1.5"/><circle cx="69.8" cy="52.4" r="1.6"/><circle cx="68.1" cy="51" r="1.3"/><circle cx="68.4" cy="49" r="1.6"/><circle cx="70.2" cy="47.5" r="1.3"/><circle cx="71.5" cy="48.4" r="1.5"/></g><g fill="#a6a6a6"><circle cx="70.2" cy="50" r="2.4"/><circle cx="72.5" cy="50.4" r="0.7"/><circle cx="71.7" cy="51.3" r="0.7"/><circle cx="69.8" cy="52.4" r="0.8"/><circle cx="68.1" cy="51" r="0.5"/><circle cx="68.4" cy="49" r="0.8"/><circle cx="70.2" cy="47.5" r="0.6"/><circle cx="71.5" cy="48.4" r="0.8"/></g>
<g opacity="0.6"><circle cx="71.3" cy="50.3" r="0.8" fill="#777"/><circle cx="71.3" cy="48.9" r="1.6" fill="#666"/><circle cx="71.6" cy="48.6" r="0.5" fill="#777"/><circle cx="71.3" cy="50.1" r="0.7" fill="#777"/><circle cx="71" cy="50.8" r="1.4" fill="#666"/></g>
<g fill="#5e5e5e"><circle cx="8.6" cy="0" r="5.6"/><circle cx="12.4" cy="-0.9" r="2.6"/><circle cx="11.5" cy="2.6" r="2.5"/><circle cx="7" cy="3.5" r="2.4"/><circle cx="4.2" cy="1.3" r="2.1"/><circle cx="5.3" cy="-2.7" r="1.9"/><circle cx="8.9" cy="-4.4" r="2.1"/><circle cx="10.9" cy="-3.4" r="2"/></g><g fill="#a6a6a6"><circle cx="8.6" cy="0" r="4.8"/><circle cx="12.4" cy="-0.9" r="1.8"/><circle cx="11.5" cy="2.6" r="1.8"/><circle cx="7" cy="3.5" r="1.6"/><circle cx="4.2" cy="1.3" r="1.4"/><circle cx="5.3" cy="-2.7" r="1.2"/><circle cx="8.9" cy="-4.4" r="1.4"/><circle cx="10.9" cy="-3.4" r="1.3"/></g>
<g opacity="0.6"><circle cx="8.3" cy="1.1" r="1.2" fill="#777"/><circle cx="7.5" cy="-0.9" r="1.5" fill="#777"/><circle cx="9.1" cy="-1.5" r="1.1" fill="#777"/><circle cx="11.6" cy="1.4" r="1.4" fill="#777"/><circle cx="6.9" cy="-3.2" r="1.2" fill="#666"/><circle cx="10.5" cy="-0.7" r="1.3" fill="#666"/><circle cx="7.6" cy="-1.1" r="1.2" fill="#666"/><circle cx="10.4" cy="0.8" r="0.8" fill="#777"/><circle cx="5" cy="0.2" r="0.6" fill="#666"/></g>
<g fill="#5e5e5e"><circle cx="57.9" cy="31.1" r="5.4"/><circle cx="62" cy="30.8" r="1.8"/><circle cx="61.1" cy="33.7" r="2.2"/><circle cx="56.6" cy="34.6" r="1.9"/><circle cx="54.8" cy="33.7" r="1.8"/><circle cx="55.3" cy="28.7" r="2.5"/><circle cx="56.1" cy="27.2" r="1.9"/><circle cx="60" cy="27.4" r="1.9"/></g><g fill="#959595"><circle cx="57.9" cy="31.1" r="4.6"/><circle cx="62" cy="30.8" r="1.1"/><circle cx="61.1" cy="33.7" r="1.4"/><circle cx="56.6" cy="34.6" r="1.2"/><circle cx="54.8" cy="33.7" r="1.1"/><circle cx="55.3" cy="28.7" r="1.7"/><circle cx="56.1" cy="27.2" r="1.2"/><circle cx="60" cy="27.4" r="1.2"/></g>
<g opacity="0.6"><circle cx="56.2" cy="32.7" r="1.4" fill="#777"/><circle cx="59.8" cy="33.2" r="1.3" fill="#666"/><circle cx="58.1" cy="29.7" r="1.1" fill="#777"/><circle cx="54.7" cy="33.2" r="1.1" fill="#777"/><circle cx="55.7" cy="31.9" r="1.4" fill="#777"/><circle cx="61.1" cy="29.5" r="1.4" fill="#666"/><circle cx="59.9" cy="29.4" r="1.3" fill="#777"/><circle cx="55" cy="33.3" r="0.9" fill="#777"/></g>
<g fill="#5e5e5e"><circle cx="35.4" cy="51.7" r="6"/><circle cx="39.8" cy="51.6" r="2.6"/><circle cx="38.3" cy="55.4" r="2.7"/><circle cx="33" cy="56" r="2.4"/><circle cx="31.4" cy="53" r="2.2"/><circle cx="31.8" cy="49.5" r="2.1"/><circle cx="33.8" cy="47.1" r="2.9"/><circle cx="37.9" cy="47.8" r="2.5"/></g><g fill="#9e9e9e"><circle cx="35.4" cy="51.7" r="5.2"/><circle cx="39.8" cy="51.6" r="1.9"/><circle cx="38.3" cy="55.4" r="2"/><circle cx="33" cy="56" r="1.7"/><circle cx="31.4" cy="53" r="1.4"/><circle cx="31.8" cy="49.5" r="1.4"/><circle cx="33.8" cy="47.1" r="2.1"/><circle cx="37.9" cy="47.8" r="1.8"/></g>
<g opacity="0.6"><circle cx="34.7" cy="53" r="1.2" fill="#666"/><circle cx="34.2" cy="55.2" r="1.1" fill="#b5b5b5"/><circle cx="37" cy="53.6" r="1.2" fill="#666"/><circle cx="31.7" cy="52.3" r="1.6" fill="#b5b5b5"/><circle cx="35" cy="53" r="1.5" fill="#666"/><circle cx="38.2" cy="53.8" r="1.4" fill="#b5b5b5"/><circle cx="34.7" cy="47.4" r="0.9" fill="#777"/><circle cx="39.6" cy="51.8" r="1.6" fill="#777"/><circle cx="38.7" cy="51.2" r="1.3" fill="#777"/><circle cx="38.1" cy="53.4" r="1.4" fill="#b5b5b5"/></g>
<g fill="#5e5e5e"><circle cx="17.9" cy="25.4" r="3.3"/><circle cx="20.1" cy="24.7" r="1.3"/><circle cx="18.8" cy="27.1" r="1.6"/><circle cx="17.8" cy="27.8" r="1.3"/><circle cx="15.8" cy="26.2" r="1.3"/><circle cx="15.8" cy="24.7" r="1.5"/><circle cx="17.2" cy="23.3" r="1.4"/><circle cx="19.3" cy="23.7" r="1.3"/></g><g fill="#a6a6a6"><circle cx="17.9" cy="25.4" r="2.6"/><circle cx="20.1" cy="24.7" r="0.6"/><circle cx="18.8" cy="27.1" r="0.9"/><circle cx="17.8" cy="27.8" r="0.6"/><circle cx="15.8" cy="26.2" r="0.5"/><circle cx="15.8" cy="24.7" r="0.8"/><circle cx="17.2" cy="23.3" r="0.7"/><circle cx="19.3" cy="23.7" r="0.6"/></g>
<g opacity="0.6"><circle cx="17.2" cy="26.5" r="0.6" fill="#b5b5b5"/><circle cx="17.3" cy="23.6" r="1.1" fill="#666"/><circle cx="19.3" cy="26.3" r="1.1" fill="#666"/><circle cx="15.8" cy="24.6" r="0.5" fill="#777"/><circle cx="18" cy="23.5" r="1.4" fill="#777"/></g>
<g fill="#5e5e5e"><circle cx="45" cy="23.9" r="3.8"/><circle cx="47.5" cy="23.9" r="1.7"/><circle cx="47.1" cy="25.7" r="1.4"/><circle cx="44.7" cy="26.3" r="1.8"/><circle cx="42.7" cy="25.9" r="1.6"/><circle cx="42.3" cy="22.9" r="1.9"/><circle cx="44.1" cy="20.9" r="1.5"/><circle cx="46.2" cy="21.4" r="1.4"/></g><g fill="#8c8c8c"><circle cx="45" cy="23.9" r="3.1"/><circle cx="47.5" cy="23.9" r="1"/><circle cx="47.1" cy="25.7" r="0.7"/><circle cx="44.7" cy="26.3" r="1"/><circle cx="42.7" cy="25.9" r="0.8"/><circle cx="42.3" cy="22.9" r="1.1"/><circle cx="44.1" cy="20.9" r="0.7"/><circle cx="46.2" cy="21.4" r="0.6"/></g>
<g opacity="0.6"><circle cx="44.4" cy="22.4" r="1.3" fill="#b5b5b5"/><circle cx="44.9" cy="26.1" r="0.6" fill="#777"/><circle cx="47" cy="24.6" r="0.9" fill="#777"/><circle cx="43.9" cy="25.1" r="1.4" fill="#777"/><circle cx="46.5" cy="22" r="0.7" fill="#b5b5b5"/><circle cx="45.2" cy="25.3" r="1.3" fill="#777"/></g>
<g fill="#5e5e5e"><circle cx="20.2" cy="28.2" r="5.8"/><circle cx="24.9" cy="27.6" r="2.6"/><circle cx="22.3" cy="32.1" r="2.1"/><circle cx="18.4" cy="32.1" r="2.1"/><circle cx="15.8" cy="28.9" r="2.5"/><circle cx="16" cy="27.1" r="2.8"/><circle cx="20.2" cy="23.5" r="2.4"/><circle cx="22.7" cy="24.7" r="2.3"/></g><g fill="#9e9e9e"><circle cx="20.2" cy="28.2" r="5.1"/><circle cx="24.9" cy="27.6" r="1.9"/><circle cx="22.3" cy="32.1" r="1.4"/><circle cx="18.4" cy="32.1" r="1.4"/><circle cx="15.8" cy="28.9" r="1.7"/><circle cx="16" cy="27.1" r="2.1"/><circle cx="20.2" cy="23.5" r="1.7"/><circle cx="22.7" cy="24.7" r="1.5"/></g>
<g opacity="0.6"><circle cx="20.7" cy="31.4" r="1.1" fill="#666"/><circle cx="23.4" cy="29.2" r="0.9" fill="#666"/><circle cx="23.2" cy="26" r="1.2" fill="#b5b5b5"/><circle cx="18.1" cy="24.8" r="0.7" fill="#b5b5b5"/><circle cx="20.9" cy="28.3" r="0.8" fill="#666"/><circle cx="20.7" cy="30.4" r="1" fill="#777"/><circle cx="17.5" cy="31.5" r="0.8" fill="#b5b5b5"/><circle cx="18.8" cy="29.3" r="1" fill="#777"/><circle cx="23.3" cy="28.9" r="1.4" fill="#666"/></g>
<g fill="#5e5e5e"><circle cx="9.4" cy="68.5" r="2.8"/><circle cx="11.2" cy="68.6" r="1.1"/><circle cx="10.8" cy="69.9" r="1.3"/><circle cx="9.1" cy="70.2" r="1.3"/><circle cx="7.5" cy="69.7" r="1.1"/><circle cx="7.4" cy="67.6" r="1.2"/><circle cx="8.6" cy="66.9" r="1.3"/><circle cx="10.7" cy="67.1" r="1.3"/></g><g fill="#959595"><circle cx="9.4" cy="68.5" r="2"/><circle cx="11.2" cy="68.6" r="0.3"/><circle cx="10.8" cy="69.9" r="0.6"/><circle cx="9.1" cy="70.2" r="0.6"/><circle cx="7.5" cy="69.7" r="0.4"/><circle cx="7.4" cy="67.6" r="0.4"/><circle cx="8.6" cy="66.9" r="0.5"/><circle cx="10.7" cy="67.1" r="0.6"/></g>
<g opacity="0.6"><circle cx="10.5" cy="69.7" r="1.2" fill="#b5b5b5"/><circle cx="8.4" cy="68.2" r="1.4" fill="#b5b5b5"/><circle cx="10.2" cy="69.4" r="1.3" fill="#b5b5b5"/><circle cx="10.1" cy="69.5" r="1" fill="#666"/></g>
<g fill="#5e5e5e"><circle cx="22.4" cy="2.5" r="2.4"/><circle cx="23.9" cy="2.4" r="1.2"/><circle cx="23.7" cy="3.9" r="1"/><circle cx="22.2" cy="4.4" r="1"/><circle cx="21" cy="3.2" r="1.1"/><circle cx="20.6" cy="2.1" r="1"/><circle cx="22" cy="1" r="1"/><circle cx="23.5" cy="1.3" r="1.3"/></g><g fill="#8c8c8c"><circle cx="22.4" cy="2.5" r="1.7"/><circle cx="23.9" cy="2.4" r="0.4"/><circle cx="23.7" cy="3.9" r="0.3"/><circle cx="22.2" cy="4.4" r="0.3"/><circle cx="21" cy="3.2" r="0.4"/><circle cx="20.6" cy="2.1" r="0.3"/><circle cx="22" cy="1" r="0.3"/><circle cx="23.5" cy="1.3" r="0.6"/></g>
<g opacity="0.6"><circle cx="23.3" cy="2.3" r="1.4" fill="#666"/><circle cx="22.2" cy="3.4" r="0.5" fill="#b5b5b5"/><circle cx="23.1" cy="2.1" r="0.8" fill="#666"/></g>
<g fill="#5e5e5e"><circle cx="20.1" cy="69.5" r="3.8"/><circle cx="23.1" cy="69.6" r="1.8"/><circle cx="21.2" cy="71.8" r="1.7"/><circle cx="19" cy="71.9" r="1.5"/><circle cx="17.5" cy="70.4" r="1.4"/><circle cx="18" cy="68.3" r="1.8"/><circle cx="19.8" cy="67.1" r="1.7"/><circle cx="21.4" cy="67" r="1.4"/></g><g fill="#a6a6a6"><circle cx="20.1" cy="69.5" r="3.1"/><circle cx="23.1" cy="69.6" r="1"/><circle cx="21.2" cy="71.8" r="1"/><circle cx="19" cy="71.9" r="0.8"/><circle cx="17.5" cy="70.4" r="0.7"/><circle cx="18" cy="68.3" r="1.1"/><circle cx="19.8" cy="67.1" r="0.9"/><circle cx="21.4" cy="67" r="0.7"/></g>
<g opacity="0.6"><circle cx="18.8" cy="67.1" r="1.3" fill="#b5b5b5"/><circle cx="20.1" cy="71.3" r="1.2" fill="#666"/><circle cx="19.6" cy="67.4" r="1.1" fill="#666"/><circle cx="19.2" cy="68.1" r="0.6" fill="#777"/><circle cx="19.2" cy="69.6" r="1.4" fill="#666"/><circle cx="20.7" cy="68.2" r="0.7" fill="#666"/></g>
<g fill="#5e5e5e"><circle cx="38.9" cy="65.5" r="3.4"/><circle cx="41" cy="65.4" r="1.7"/><circle cx="40.9" cy="67" r="1.5"/><circle cx="39" cy="67.5" r="1.6"/><circle cx="36.5" cy="66.6" r="1.5"/><circle cx="36.2" cy="65" r="1.4"/><circle cx="38.7" cy="63" r="1.3"/><circle cx="39.9" cy="63.2" r="1.3"/></g><g fill="#959595"><circle cx="38.9" cy="65.5" r="2.6"/><circle cx="41" cy="65.4" r="1"/><circle cx="40.9" cy="67" r="0.8"/><circle cx="39" cy="67.5" r="0.9"/><circle cx="36.5" cy="66.6" r="0.8"/><circle cx="36.2" cy="65" r="0.6"/><circle cx="38.7" cy="63" r="0.5"/><circle cx="39.9" cy="63.2" r="0.6"/></g>
<g opacity="0.6"><circle cx="37.6" cy="65.4" r="1.1" fill="#b5b5b5"/><circle cx="37.8" cy="64.9" r="0.6" fill="#b5b5b5"/><circle cx="37.7" cy="63.7" r="1.5" fill="#b5b5b5"/><circle cx="36.9" cy="64.3" r="1.3" fill="#b5b5b5"/><circle cx="39.6" cy="63.3" r="0.6" fill="#666"/></g>
<g fill="#5e5e5e"><circle cx="56.2" cy="35" r="6.5"/><circle cx="61.7" cy="33.8" r="2.3"/><circle cx="59.6" cy="38.8" r="2.6"/><circle cx="55.5" cy="40.1" r="2.6"/><circle cx="52" cy="37.5" r="2.7"/><circle cx="52.6" cy="32.3" r="2.9"/><circle cx="55.4" cy="30.3" r="2.4"/><circle cx="60.1" cy="31.3" r="2.4"/></g><g fill="#959595"><circle cx="56.2" cy="35" r="5.8"/><circle cx="61.7" cy="33.8" r="1.6"/><circle cx="59.6" cy="38.8" r="1.9"/><circle cx="55.5" cy="40.1" r="1.9"/><circle cx="52" cy="37.5" r="1.9"/><circle cx="52.6" cy="32.3" r="2.2"/><circle cx="55.4" cy="30.3" r="1.7"/><circle cx="60.1" cy="31.3" r="1.7"/></g>
<g opacity="0.6"><circle cx="53.5" cy="35.9" r="0.9" fill="#777"/><circle cx="59.5" cy="31.5" r="1.2" fill="#777"/><circle cx="57.6" cy="34.3" r="1.3" fill="#b5b5b5"/><circle cx="56" cy="31" r="0.8" fill="#666"/><circle cx="57.2" cy="33.6" r="1.4" fill="#777"/><circle cx="59.4" cy="38.1" r="1.2" fill="#b5b5b5"/><circle cx="57.1" cy="39.5" r="1.5" fill="#666"/><circle cx="52" cy="37.5" r="1.1" fill="#666"/><circle cx="57.6" cy="30.6" r="1.3" fill="#777"/><circle cx="57.9" cy="35.3" r="1.2" fill="#666"/><circle cx="59.9" cy="36.7" r="1" fill="#b5b5b5"/></g>
<g fill="#5e5e5e"><circle cx="17.3" cy="22.7" r="3.8"/><circle cx="20.1" cy="22.7" r="1.5"/><circle cx="19" cy="25" r="1.6"/><circle cx="17.4" cy="25.3" r="1.4"/><circle cx="14.5" cy="23.2" r="1.7"/><circle cx="15.1" cy="21.6" r="1.8"/><circle cx="16.2" cy="20.6" r="1.9"/><circle cx="19.2" cy="20.5" r="1.8"/></g><g fill="#959595"><circle cx="17.3" cy="22.7" r="3"/><circle cx="20.1" cy="22.7" r="0.8"/><circle cx="19" cy="25" r="0.8"/><circle cx="17.4" cy="25.3" r="0.7"/><circle cx="14.5" cy="23.2" r="1"/><circle cx="15.1" cy="21.6" r="1"/><circle cx="16.2" cy="20.6" r="1.1"/><circle cx="19.2" cy="20.5" r="1.1"/></g>
<g opacity="0.6"><circle cx="18.6" cy="24.4" r="0.9" fill="#b5b5b5"/><circle cx="15.9" cy="20.4" r="0.9" fill="#666"/><circle cx="14.9" cy="23.8" r="1" fill="#666"/><circle cx="15.6" cy="20.9" r="1.4" fill="#b5b5b5"/><circle cx="15.7" cy="23.7" r="0.5" fill="#666"/><circle cx="15" cy="21.3" r="1.5" fill="#b5b5b5"/></g>
<g fill="#5e5e5e"><circle cx="20.5" cy="20.9" r="3.3"/><circle cx="22.9" cy="20.3" r="1.6"/><circle cx="22.4" cy="22.7" r="1.2"/><circle cx="20.2" cy="23" r="1.5"/><circle cx="18.3" cy="21.8" r="1.6"/><circle cx="18.5" cy="20.5" r="1.6"/><circle cx="19.9" cy="18.6" r="1.3"/><circle cx="22.1" cy="19.2" r="1.4"/></g><g fill="#8c8c8c"><circle cx="20.5" cy="20.9" r="2.5"/><circle cx="22.9" cy="20.3" r="0.9"/><circle cx="22.4" cy="22.7" r="0.5"/><circle cx="20.2" cy="23" r="0.8"/><circle cx="18.3" cy="21.8" r="0.8"/><circle cx="18.5" cy="20.5" r="0.8"/><circle cx="19.9" cy="18.6" r="0.5"/><circle cx="22.1" cy="19.2" r="0.6"/></g>
<g opacity="0.6"><circle cx="19.2" cy="19.3" r="1" fill="#777"/><circle cx="20.5" cy="22.6" r="0.7" fill="#666"/><circle cx="20.3" cy="21.4" r="0.8" fill="#666"/><circle cx="20.4" cy="23.1" r="0.7" fill="#b5b5b5"/><circle cx="19.8" cy="21.7" r="1.2" fill="#777"/></g>
<g fill="#5e5e5e"><circle cx="55.9" cy="35.1" r="6.1"/><circle cx="60.1" cy="36.1" r="2.6"/><circle cx="58.8" cy="38.7" r="2.3"/><circle cx="55.6" cy="39.4" r="2.9"/><circle cx="51.8" cy="36.2" r="2.4"/><circle cx="51.7" cy="33.2" r="2"/><circle cx="56.1" cy="30.8" r="2.6"/><circle cx="58.7" cy="31.1" r="2.2"/></g><g fill="#8c8c8c"><circle cx="55.9" cy="35.1" r="5.4"/><circle cx="60.1" cy="36.1" r="1.9"/><circle cx="58.8" cy="38.7" r="1.6"/><circle cx="55.6" cy="39.4" r="2.1"/><circle cx="51.8" cy="36.2" r="1.7"/><circle cx="51.7" cy="33.2" r="1.3"/><circle cx="56.1" cy="30.8" r="1.8"/><circle cx="58.7" cy="31.1" r="1.5"/></g>
<g opacity="0.6"><circle cx="52.8" cy="31.9" r="0.6" fill="#777"/><circle cx="55.5" cy="37" r="0.8" fill="#777"/><circle cx="54.4" cy="32.6" r="1.2" fill="#b5b5b5"/><circle cx="56.8" cy="39.2" r="1.3" fill="#777"/><circle cx="52" cy="34.9" r="0.5" fill="#b5b5b5"/><circle cx="53.6" cy="36.5" r="0.6" fill="#666"/><circle cx="55.6" cy="37.6" r="1.4" fill="#666"/><circle cx="53" cy="34.2" r="1.5" fill="#666"/><circle cx="59.5" cy="36" r="0.6" fill="#777"/><circle cx="56.5" cy="38.9" r="1" fill="#666"/></g>
<g fill="#5e5e5e"><circle cx="55.8" cy="29.1" r="4.7"/><circle cx="59.3" cy="30.1" r="1.8"/><circle cx="58.5" cy="31.6" r="1.8"/><circle cx="55.3" cy="32.5" r="2.1"/><circle cx="52.4" cy="30.5" r="2.1"/><circle cx="52.3" cy="28.4" r="2.2"/><circle cx="54.3" cy="26.3" r="2"/><circle cx="58.7" cy="26.7" r="1.6"/></g><g fill="#959595"><circle cx="55.8" cy="29.1" r="3.9"/><circle cx="59.3" cy="30.1" r="1"/><circle cx="58.5" cy="31.6" r="1.1"/><circle cx="55.3" cy="32.5" r="1.4"/><circle cx="52.4" cy="30.5" r="1.4"/><circle cx="52.3" cy="28.4" r="1.4"/><circle cx="54.3" cy="26.3" r="1.2"/><circle cx="58.7" cy="26.7" r="0.9"/></g>
<g opacity="0.6"><circle cx="55" cy="32.2" r="0.7" fill="#777"/><circle cx="57.1" cy="27.4" r="1.4" fill="#666"/><circle cx="53.4" cy="27.5" r="0.9" fill="#b5b5b5"/><circle cx="58.9" cy="30.4" r="1.6" fill="#b5b5b5"/><circle cx="59.2" cy="29.1" r="1.4" fill="#666"/><circle cx="55.4" cy="26.4" r="0.9" fill="#777"/><circle cx="53.6" cy="29.3" r="1.3" fill="#b5b5b5"/></g>
<g fill="#5e5e5e"><circle cx="45.5" cy="13.1" r="4.3"/><circle cx="48.5" cy="12.7" r="1.5"/><circle cx="47.6" cy="15.2" r="1.6"/><circle cx="45.7" cy="16.2" r="1.9"/><circle cx="42.8" cy="15" r="1.7"/><circle cx="42.9" cy="11.6" r="2"/><circle cx="44.2" cy="10.1" r="1.6"/><circle cx="47" cy="10.1" r="1.9"/></g><g fill="#9e9e9e"><circle cx="45.5" cy="13.1" r="3.5"/><circle cx="48.5" cy="12.7" r="0.8"/><circle cx="47.6" cy="15.2" r="0.8"/><circle cx="45.7" cy="16.2" r="1.2"/><circle cx="42.8" cy="15" r="0.9"/><circle cx="42.9" cy="11.6" r="1.3"/><circle cx="44.2" cy="10.1" r="0.9"/><circle cx="47" cy="10.1" r="1.2"/></g>
<g opacity="0.6"><circle cx="43.2" cy="13.6" r="1" fill="#777"/><circle cx="45.3" cy="14.1" r="1.4" fill="#777"/><circle cx="46.7" cy="15.7" r="1.6" fill="#777"/><circle cx="46.7" cy="13.3" r="0.7" fill="#666"/><circle cx="43.6" cy="11.8" r="1.4" fill="#777"/><circle cx="43.6" cy="13.1" r="1.2" fill="#666"/></g>
<g fill="#5e5e5e"><circle cx="12.9" cy="61" r="5.8"/><circle cx="17.7" cy="61.6" r="2.2"/><circle cx="15.3" cy="65" r="2"/><circle cx="12.3" cy="65.6" r="2.8"/><circle cx="9.6" cy="63.9" r="2.6"/><circle cx="8.1" cy="59.9" r="2"/><circle cx="11.7" cy="57.4" r="2.8"/><circle cx="16.6" cy="58.3" r="2"/></g><g fill="#8c8c8c"><circle cx="12.9" cy="61" r="5.1"/><circle cx="17.7" cy="61.6" r="1.5"/><circle cx="15.3" cy="65" r="1.3"/><circle cx="12.3" cy="65.6" r="2.1"/><circle cx="9.6" cy="63.9" r="1.9"/><circle cx="8.1" cy="59.9" r="1.3"/><circle cx="11.7" cy="57.4" r="2"/><circle cx="16.6" cy="58.3" r="1.2"/></g>
<g opacity="0.6"><circle cx="14.9" cy="62.4" r="1.3" fill="#b5b5b5"/><circle cx="14.6" cy="58.9" r="0.5" fill="#666"/><circle cx="16.8" cy="61.3" r="1.1" fill="#b5b5b5"/><circle cx="16.1" cy="61.2" r="0.5" fill="#777"/><circle cx="12.1" cy="61.4" r="1.4" fill="#777"/><circle cx="9.9" cy="64" r="1.5" fill="#b5b5b5"/><circle cx="11.8" cy="62.4" r="0.6" fill="#b5b5b5"/><circle cx="13.9" cy="58.5" r="1" fill="#666"/><circle cx="14.9" cy="61.2" r="1.4" fill="#b5b5b5"/></g>
<g fill="#5e5e5e"><circle cx="7" cy="59.4" r="2.8"/><circle cx="9.1" cy="59.7" r="1.2"/><circle cx="8.4" cy="60.7" r="1.2"/><circle cx="6.4" cy="61.1" r="1.2"/><circle cx="5.2" cy="60.4" r="1.2"/><circle cx="5.2" cy="58.4" r="1.3"/><circle cx="6.8" cy="57.3" r="1.3"/><circle cx="8.1" cy="57.7" r="1.1"/></g><g fill="#8c8c8c"><circle cx="7" cy="59.4" r="2.1"/><circle cx="9.1" cy="59.7" r="0.4"/><circle cx="8.4" cy="60.7" r="0.5"/><circle cx="6.4" cy="61.1" r="0.4"/><circle cx="5.2" cy="60.4" r="0.5"/><circle cx="5.2" cy="58.4" r="0.6"/><circle cx="6.8" cy="57.3" r="0.5"/><circle cx="8.1" cy="57.7" r="0.3"/></g>
<g opacity="0.6"><circle cx="8.7" cy="59.3" r="0.8" fill="#777"/><circle cx="6.3" cy="58.5" r="1.3" fill="#b5b5b5"/><circle cx="6.2" cy="59.2" r="0.5" fill="#666"/><circle cx="7.4" cy="59.1" r="1.1" fill="#777"/></g>
<g fill="#5e5e5e"><circle cx="55.1" cy="37.3" r="3.8"/><circle cx="58.1" cy="36.8" r="1.4"/><circle cx="56.4" cy="39.7" r="1.5"/><circle cx="54.7" cy="39.9" r="1.6"/><circle cx="53.2" cy="38.9" r="1.9"/><circle cx="52.4" cy="36.4" r="1.5"/><circle cx="55" cy="34.3" r="1.9"/><circle cx="56.7" cy="34.9" r="1.9"/></g><g fill="#8c8c8c"><circle cx="55.1" cy="37.3" r="3.1"/><circle cx="58.1" cy="36.8" r="0.7"/><circle cx="56.4" cy="39.7" r="0.7"/><circle cx="54.7" cy="39.9" r="0.9"/><circle cx="53.2" cy="38.9" r="1.1"/><circle cx="52.4" cy="36.4" r="0.7"/><circle cx="55" cy="34.3" r="1.1"/><circle cx="56.7" cy="34.9" r="1.1"/></g>
<g opacity="0.6"><circle cx="55.2" cy="35.1" r="1.3" fill="#b5b5b5"/><circle cx="52.9" cy="38.7" r="1" fill="#b5b5b5"/><circle cx="56.6" cy="35.5" r="1.5" fill="#b5b5b5"/><circle cx="53.2" cy="38.8" r="0.5" fill="#666"/><circle cx="56.4" cy="37.1" r="0.5" fill="#b5b5b5"/><circle cx="56.7" cy="37.9" r="1.6" fill="#b5b5b5"/></g>
<g fill="#5e5e5e"><circle cx="26.2" cy="5.6" r="6"/><circle cx="31" cy="6.4" r="2.2"/><circle cx="29.9" cy="8.1" r="2.2"/><circle cx="25.3" cy="10.6" r="2"/><circle cx="21.6" cy="6.4" r="2"/><circle cx="21.9" cy="3.4" r="2.3"/><circle cx="24.8" cy="1.2" r="2.4"/><circle cx="30.1" cy="2.6" r="2.8"/></g><g fill="#9e9e9e"><circle cx="26.2" cy="5.6" r="5.3"/><circle cx="31" cy="6.4" r="1.4"/><circle cx="29.9" cy="8.1" r="1.4"/><circle cx="25.3" cy="10.6" r="1.3"/><circle cx="21.6" cy="6.4" r="1.3"/><circle cx="21.9" cy="3.4" r="1.6"/><circle cx="24.8" cy="1.2" r="1.6"/><circle cx="30.1" cy="2.6" r="2.1"/></g>
<g opacity="0.6"><circle cx="26.1" cy="6.3" r="1.1" fill="#b5b5b5"/><circle cx="26" cy="1.3" r="0.8" fill="#666"/><circle cx="28" cy="9.1" r="1.4" fill="#b5b5b5"/><circle cx="25.6" cy="3.7" r="0.9" fill="#666"/><circle cx="26.6" cy="3.8" r="1.1" fill="#666"/><circle cx="24" cy="8" r="1.2" fill="#b5b5b5"/><circle cx="24.9" cy="5.5" r="0.9" fill="#777"/><circle cx="27" cy="5.7" r="1.3" fill="#777"/><circle cx="26.2" cy="2.7" r="1.5" fill="#777"/><circle cx="22.1" cy="5.8" r="1.4" fill="#777"/></g>
<g fill="#5e5e5e"><circle cx="49.8" cy="20.2" r="3.8"/><circle cx="52.6" cy="19.9" r="1.6"/><circle cx="51.4" cy="22.3" r="1.6"/><circle cx="48.8" cy="22.6" r="1.6"/><circle cx="47.5" cy="20.9" r="1.7"/><circle cx="47.4" cy="18.7" r="1.9"/><circle cx="49" cy="17.5" r="1.5"/><circle cx="50.8" cy="17.9" r="1.7"/></g><g fill="#8c8c8c"><circle cx="49.8" cy="20.2" r="3"/><circle cx="52.6" cy="19.9" r="0.8"/><circle cx="51.4" cy="22.3" r="0.9"/><circle cx="48.8" cy="22.6" r="0.9"/><circle cx="47.5" cy="20.9" r="0.9"/><circle cx="47.4" cy="18.7" r="1.1"/><circle cx="49" cy="17.5" r="0.8"/><circle cx="50.8" cy="17.9" r="1"/></g>
<g opacity="0.6"><circle cx="51.5" cy="20" r="1.4" fill="#b5b5b5"/><circle cx="51.2" cy="20.2" r="0.6" fill="#b5b5b5"/><circle cx="51.6" cy="21.9" r="1" fill="#666"/><circle cx="47.7" cy="19.3" r="0.6" fill="#b5b5b5"/><circle cx="48.2" cy="21.8" r="1.4" fill="#b5b5b5"/><circle cx="48.6" cy="21.2" r="1.1" fill="#777"/></g>
<g fill="#5e5e5e"><circle cx="61.9" cy="0.1" r="5.8"/><circle cx="66.6" cy="-1.1" r="2.1"/><circle cx="64.6" cy="3.7" r="2.1"/><circle cx="59.7" cy="4.4" r="2.4"/><circle cx="57.9" cy="2.6" r="2.4"/><circle cx="58.3" cy="-2.5" r="2.3"/><circle cx="60.7" cy="-4.2" r="2.1"/><circle cx="64.7" cy="-2.6" r="2.5"/></g><g fill="#a6a6a6"><circle cx="61.9" cy="0.1" r="5"/><circle cx="66.6" cy="-1.1" r="1.3"/><circle cx="64.6" cy="3.7" r="1.3"/><circle cx="59.7" cy="4.4" r="1.6"/><circle cx="57.9" cy="2.6" r="1.6"/><circle cx="58.3" cy="-2.5" r="1.5"/><circle cx="60.7" cy="-4.2" r="1.4"/><circle cx="64.7" cy="-2.6" r="1.8"/></g>
<g opacity="0.6"><circle cx="64.2" cy="-1.4" r="1.2" fill="#777"/><circle cx="61.2" cy="-0.9" r="1.5" fill="#b5b5b5"/><circle cx="64.5" cy="1" r="0.6" fill="#b5b5b5"/><circle cx="58.9" cy="1.3" r="1" fill="#777"/><circle cx="59.7" cy="2.4" r="1.5" fill="#b5b5b5"/><circle cx="58.9" cy="2.4" r="0.8" fill="#666"/><circle cx="61.3" cy="-2.7" r="0.8" fill="#777"/><circle cx="65.7" cy="0.6" r="1.3" fill="#b5b5b5"/><circle cx="61.5" cy="4.3" r="1.4" fill="#666"/></g>
<g fill="#5e5e5e"><circle cx="10.4" cy="36.6" r="3.5"/><circle cx="12.8" cy="36.9" r="1.4"/><circle cx="11.4" cy="39" r="1.6"/><circle cx="9.2" cy="38.9" r="1.6"/><circle cx="8.3" cy="38.5" r="1.3"/><circle cx="8.5" cy="35.4" r="1.5"/><circle cx="9.3" cy="34.1" r="1.4"/><circle cx="12.6" cy="35.1" r="1.5"/></g><g fill="#959595"><circle cx="10.4" cy="36.6" r="2.7"/><circle cx="12.8" cy="36.9" r="0.6"/><circle cx="11.4" cy="39" r="0.9"/><circle cx="9.2" cy="38.9" r="0.9"/><circle cx="8.3" cy="38.5" r="0.6"/><circle cx="8.5" cy="35.4" r="0.8"/><circle cx="9.3" cy="34.1" r="0.6"/><circle cx="12.6" cy="35.1" r="0.7"/></g>
<g opacity="0.6"><circle cx="12.4" cy="37.3" r="1.2" fill="#666"/><circle cx="8.9" cy="38.1" r="0.9" fill="#666"/><circle cx="11.1" cy="34.7" r="1.6" fill="#b5b5b5"/><circle cx="10.6" cy="34.2" r="1.2" fill="#777"/><circle cx="11.5" cy="38.8" r="0.9" fill="#666"/></g>
<g fill="#5e5e5e"><circle cx="24.1" cy="4.2" r="2.7"/><circle cx="25.9" cy="4.1" r="1.4"/><circle cx="25.3" cy="5.8" r="1"/><circle cx="23.3" cy="5.7" r="1.2"/><circle cx="22.5" cy="4.6" r="1.4"/><circle cx="22.3" cy="3.5" r="1.1"/><circle cx="23.7" cy="2.3" r="1.1"/><circle cx="25.1" cy="2.6" r="1.2"/></g><g fill="#a6a6a6"><circle cx="24.1" cy="4.2" r="1.9"/><circle cx="25.9" cy="4.1" r="0.6"/><circle cx="25.3" cy="5.8" r="0.3"/><circle cx="23.3" cy="5.7" r="0.4"/><circle cx="22.5" cy="4.6" r="0.6"/><circle cx="22.3" cy="3.5" r="0.3"/><circle cx="23.7" cy="2.3" r="0.3"/><circle cx="25.1" cy="2.6" r="0.5"/></g>
<g opacity="0.6"><circle cx="24.9" cy="5.1" r="1.3" fill="#666"/><circle cx="25.8" cy="4" r="0.9" fill="#777"/><circle cx="23.3" cy="4.9" r="1.3" fill="#b5b5b5"/><circle cx="23.2" cy="2.6" r="1.5" fill="#777"/></g>
<g fill="#5e5e5e"><circle cx="25" cy="0.6" r="5.2"/><circle cx="28.5" cy="0.4" r="2.4"/><circle cx="27.7" cy="2.7" r="2.4"/><circle cx="24.3" cy="4.5" r="2.3"/><circle cx="21" cy="2" r="1.8"/><circle cx="21.7" cy="-2" r="2.3"/><circle cx="24.8" cy="-3.3" r="2"/><circle cx="26.8" cy="-2.5" r="2.4"/></g><g fill="#9e9e9e"><circle cx="25" cy="0.6" r="4.4"/><circle cx="28.5" cy="0.4" r="1.6"/><circle cx="27.7" cy="2.7" r="1.6"/><circle cx="24.3" cy="4.5" r="1.6"/><circle cx="21" cy="2" r="1"/><circle cx="21.7" cy="-2" r="1.6"/><circle cx="24.8" cy="-3.3" r="1.3"/><circle cx="26.8" cy="-2.5" r="1.7"/></g>
<g opacity="0.6"><circle cx="25" cy="1.4" r="1" fill="#666"/><circle cx="24.8" cy="-0.6" r="0.9" fill="#777"/><circle cx="25.8" cy="-2.9" r="0.9" fill="#666"/><circle cx="25.8" cy="0" r="1.4" fill="#b5b5b5"/><circle cx="26.3" cy="-1.8" r="0.6" fill="#b5b5b5"/><circle cx="27.5" cy="1.2" r="0.9" fill="#777"/><circle cx="23.1" cy="2" r="1.6" fill="#666"/><circle cx="25.1" cy="0.4" r="1.4" fill="#777"/></g>
<g fill="#5e5e5e"><circle cx="51.4" cy="51" r="4.8"/><circle cx="54.9" cy="51.9" r="2.1"/><circle cx="53.7" cy="53.2" r="2"/><circle cx="50.3" cy="54" r="1.9"/><circle cx="48.9" cy="52.9" r="2.2"/><circle cx="48.6" cy="48.5" r="2.3"/><circle cx="50.4" cy="48.3" r="2.3"/><circle cx="54.3" cy="49" r="2.2"/></g><g fill="#959595"><circle cx="51.4" cy="51" r="4"/><circle cx="54.9" cy="51.9" r="1.4"/><circle cx="53.7" cy="53.2" r="1.2"/><circle cx="50.3" cy="54" r="1.2"/><circle cx="48.9" cy="52.9" r="1.5"/><circle cx="48.6" cy="48.5" r="1.5"/><circle cx="50.4" cy="48.3" r="1.6"/><circle cx="54.3" cy="49" r="1.5"/></g>
<g opacity="0.6"><circle cx="52.4" cy="49" r="0.7" fill="#b5b5b5"/><circle cx="53.3" cy="48.2" r="0.6" fill="#b5b5b5"/><circle cx="49.1" cy="50.7" r="1.4" fill="#b5b5b5"/><circle cx="49.3" cy="49.2" r="1.6" fill="#b5b5b5"/><circle cx="49.9" cy="51.9" r="0.9" fill="#777"/><circle cx="50.5" cy="52.4" r="0.8" fill="#666"/><circle cx="48.1" cy="50.5" r="1.4" fill="#777"/></g>
<g fill="#5e5e5e"><circle cx="7.7" cy="28.6" r="2.5"/><circle cx="9.4" cy="28.7" r="1.1"/><circle cx="8.4" cy="30" r="1.3"/><circle cx="7.2" cy="30.2" r="1.3"/><circle cx="6.3" cy="29.5" r="1.2"/><circle cx="6.4" cy="27.6" r="1"/><circle cx="7.5" cy="26.7" r="1.1"/><circle cx="9.1" cy="27.6" r="1"/></g><g fill="#9e9e9e"><circle cx="7.7" cy="28.6" r="1.8"/><circle cx="9.4" cy="28.7" r="0.3"/><circle cx="8.4" cy="30" r="0.5"/><circle cx="7.2" cy="30.2" r="0.6"/><circle cx="6.3" cy="29.5" r="0.4"/><circle cx="6.4" cy="27.6" r="0.3"/><circle cx="7.5" cy="26.7" r="0.3"/><circle cx="9.1" cy="27.6" r="0.3"/></g>
<g opacity="0.6"><circle cx="7.9" cy="27.3" r="1.3" fill="#777"/><circle cx="6.9" cy="27.3" r="1" fill="#777"/><circle cx="6.7" cy="27.4" r="1.5" fill="#666"/></g>
<g fill="#5e5e5e"><circle cx="43.3" cy="50.8" r="4.6"/><circle cx="46.4" cy="51.2" r="1.8"/><circle cx="44.7" cy="53.7" r="1.9"/><circle cx="42.2" cy="53.6" r="1.9"/><circle cx="40.3" cy="51.5" r="2.2"/><circle cx="40.3" cy="48.7" r="2.3"/><circle cx="42.9" cy="47.2" r="2.1"/><circle cx="45.6" cy="48.7" r="1.8"/></g><g fill="#9e9e9e"><circle cx="43.3" cy="50.8" r="3.8"/><circle cx="46.4" cy="51.2" r="1"/><circle cx="44.7" cy="53.7" r="1.2"/><circle cx="42.2" cy="53.6" r="1.1"/><circle cx="40.3" cy="51.5" r="1.4"/><circle cx="40.3" cy="48.7" r="1.5"/><circle cx="42.9" cy="47.2" r="1.4"/><circle cx="45.6" cy="48.7" r="1"/></g>
<g opacity="0.6"><circle cx="44.9" cy="52.5" r="1.1" fill="#b5b5b5"/><circle cx="41.5" cy="51.4" r="0.5" fill="#666"/><circle cx="42.2" cy="53.4" r="1.1" fill="#777"/><circle cx="45" cy="50.7" r="0.9" fill="#666"/><circle cx="41.9" cy="49.2" r="1" fill="#b5b5b5"/><circle cx="43.4" cy="50.7" r="0.8" fill="#b5b5b5"/><circle cx="41.2" cy="53" r="1.5" fill="#666"/></g>
<g fill="#5e5e5e"><circle cx="61.8" cy="51.2" r="4.2"/><circle cx="64.3" cy="51.8" r="2.1"/><circle cx="63" cy="53.6" r="2.1"/><circle cx="60.4" cy="53.9" r="1.6"/><circle cx="58.9" cy="52.5" r="1.6"/><circle cx="59.3" cy="50.3" r="2.1"/><circle cx="60.7" cy="48.1" r="1.9"/><circle cx="62.9" cy="48.8" r="2"/></g><g fill="#959595"><circle cx="61.8" cy="51.2" r="3.5"/><circle cx="64.3" cy="51.8" r="1.3"/><circle cx="63" cy="53.6" r="1.3"/><circle cx="60.4" cy="53.9" r="0.8"/><circle cx="58.9" cy="52.5" r="0.9"/><circle cx="59.3" cy="50.3" r="1.3"/><circle cx="60.7" cy="48.1" r="1.1"/><circle cx="62.9" cy="48.8" r="1.3"/></g>
<g opacity="0.6"><circle cx="60.9" cy="52.5" r="0.9" fill="#666"/><circle cx="60.7" cy="49.1" r="0.9" fill="#b5b5b5"/><circle cx="63.7" cy="52" r="1.6" fill="#666"/><circle cx="64.5" cy="51" r="0.6" fill="#666"/><circle cx="61" cy="49.6" r="0.9" fill="#666"/><circle cx="59.6" cy="52.9" r="0.9" fill="#777"/></g>
<g fill="#5e5e5e"><circle cx="37.1" cy="12.1" r="2.5"/><circle cx="39" cy="11.8" r="1.1"/><circle cx="37.9" cy="13.7" r="1.1"/><circle cx="36.3" cy="13.6" r="1.1"/><circle cx="35.7" cy="13.2" r="1.1"/><circle cx="35.4" cy="11.7" r="1.1"/><circle cx="37" cy="10.2" r="1.2"/><circle cx="38.1" cy="10.9" r="1.3"/></g><g fill="#9e9e9e"><circle cx="37.1" cy="12.1" r="1.8"/><circle cx="39" cy="11.8" r="0.3"/><circle cx="37.9" cy="13.7" r="0.3"/><circle cx="36.3" cy="13.6" r="0.4"/><circle cx="35.7" cy="13.2" r="0.3"/><circle cx="35.4" cy="11.7" r="0.3"/><circle cx="37" cy="10.2" r="0.5"/><circle cx="38.1" cy="10.9" r="0.6"/></g>
<g opacity="0.6"><circle cx="36.7" cy="11.8" r="0.6" fill="#666"/><circle cx="38.4" cy="12.1" r="0.9" fill="#666"/><circle cx="36.9" cy="11" r="0.5" fill="#666"/></g>
<g fill="#5e5e5e"><circle cx="62.2" cy="3.3" r="6.6"/><circle cx="67" cy="3.9" r="2.8"/><circle cx="64.7" cy="8" r="2.6"/><circle cx="60.2" cy="7.8" r="2.4"/><circle cx="57.4" cy="4.9" r="2.2"/><circle cx="58.4" cy="-0.1" r="2.9"/><circle cx="60.4" cy="-1.6" r="2.6"/><circle cx="66.1" cy="0.1" r="2.4"/></g><g fill="#9e9e9e"><circle cx="62.2" cy="3.3" r="5.8"/><circle cx="67" cy="3.9" r="2"/><circle cx="64.7" cy="8" r="1.9"/><circle cx="60.2" cy="7.8" r="1.7"/><circle cx="57.4" cy="4.9" r="1.4"/><circle cx="58.4" cy="-0.1" r="2.1"/><circle cx="60.4" cy="-1.6" r="1.9"/><circle cx="66.1" cy="0.1" r="1.7"/></g>
<g opacity="0.6"><circle cx="64.5" cy="6.5" r="0.9" fill="#666"/><circle cx="57.9" cy="3.3" r="1" fill="#666"/><circle cx="60.5" cy="4.6" r="1.3" fill="#666"/><circle cx="62.9" cy="6.2" r="0.9" fill="#b5b5b5"/><circle cx="64" cy="0.5" r="1.5" fill="#777"/><circle cx="64.4" cy="5.3" r="1.4" fill="#666"/><circle cx="61" cy="-0.2" r="0.6" fill="#777"/><circle cx="65.9" cy="0.1" r="0.5" fill="#b5b5b5"/><circle cx="59.1" cy="4.1" r="0.5" fill="#777"/><circle cx="60.3" cy="5.7" r="1.2" fill="#777"/><circle cx="60.8" cy="7.7" r="1.3" fill="#666"/></g>
<g fill="#5e5e5e"><circle cx="15.5" cy="9.4" r="4.5"/><circle cx="18.3" cy="9.1" r="2.1"/><circle cx="16.8" cy="12.4" r="1.9"/><circle cx="14.3" cy="11.8" r="2.2"/><circle cx="12.9" cy="10.9" r="1.9"/><circle cx="12.4" cy="8.4" r="1.8"/><circle cx="14.5" cy="6.1" r="1.8"/><circle cx="17.3" cy="6.4" r="1.5"/></g><g fill="#8c8c8c"><circle cx="15.5" cy="9.4" r="3.7"/><circle cx="18.3" cy="9.1" r="1.4"/><circle cx="16.8" cy="12.4" r="1.1"/><circle cx="14.3" cy="11.8" r="1.4"/><circle cx="12.9" cy="10.9" r="1.1"/><circle cx="12.4" cy="8.4" r="1.1"/><circle cx="14.5" cy="6.1" r="1"/><circle cx="17.3" cy="6.4" r="0.8"/></g>
<g opacity="0.6"><circle cx="17.6" cy="11.2" r="1.1" fill="#b5b5b5"/><circle cx="14.9" cy="11.1" r="1" fill="#666"/><circle cx="13.2" cy="7.4" r="1" fill="#666"/><circle cx="14.8" cy="12.6" r="1.1" fill="#b5b5b5"/><circle cx="14.9" cy="8.6" r="0.7" fill="#b5b5b5"/><circle cx="18.1" cy="8.2" r="1.5" fill="#666"/><circle cx="17.7" cy="11" r="1.1" fill="#666"/></g>
<g fill="#5e5e5e"><circle cx="21.8" cy="69" r="2.4"/><circle cx="23.6" cy="68.8" r="1.1"/><circle cx="23.1" cy="69.9" r="0.9"/><circle cx="21.9" cy="70.6" r="1"/><circle cx="20.5" cy="69.9" r="1"/><circle cx="20.4" cy="68.5" r="1.2"/><circle cx="21.7" cy="67.3" r="1.2"/><circle cx="23" cy="68" r="1.1"/></g><g fill="#9e9e9e"><circle cx="21.8" cy="69" r="1.6"/><circle cx="23.6" cy="68.8" r="0.4"/><circle cx="23.1" cy="69.9" r="0.3"/><circle cx="21.9" cy="70.6" r="0.3"/><circle cx="20.5" cy="69.9" r="0.3"/><circle cx="20.4" cy="68.5" r="0.5"/><circle cx="21.7" cy="67.3" r="0.4"/><circle cx="23" cy="68" r="0.3"/></g>
<g opacity="0.6"><circle cx="20.4" cy="69.3" r="1" fill="#666"/><circle cx="21.2" cy="69.4" r="1.1" fill="#666"/><circle cx="21.1" cy="69.6" r="0.9" fill="#666"/></g>
<g fill="#5e5e5e"><circle cx="63" cy="61.1" r="4.1"/><circle cx="65.8" cy="61.4" r="1.7"/><circle cx="65.2" cy="62.8" r="1.9"/><circle cx="62.7" cy="64.1" r="1.5"/><circle cx="60.4" cy="61.9" r="1.9"/><circle cx="59.9" cy="60" r="1.5"/><circle cx="61.7" cy="58.5" r="2"/><circle cx="64.1" cy="58.4" r="1.5"/></g><g fill="#8c8c8c"><circle cx="63" cy="61.1" r="3.4"/><circle cx="65.8" cy="61.4" r="1"/><circle cx="65.2" cy="62.8" r="1.1"/><circle cx="62.7" cy="64.1" r="0.8"/><circle cx="60.4" cy="61.9" r="1.1"/><circle cx="59.9" cy="60" r="0.8"/><circle cx="61.7" cy="58.5" r="1.3"/><circle cx="64.1" cy="58.4" r="0.7"/></g>
<g opacity="0.6"><circle cx="65.2" cy="62.3" r="1" fill="#777"/><circle cx="61.8" cy="62.4" r="0.8" fill="#666"/><circle cx="64.2" cy="63.3" r="1.6" fill="#b5b5b5"/><circle cx="62" cy="63" r="1.4" fill="#b5b5b5"/><circle cx="60.5" cy="60.9" r="1.3" fill="#666"/><circle cx="65.1" cy="62" r="1.2" fill="#b5b5b5"/></g>
<g fill="#5e5e5e"><circle cx="31.2" cy="3.2" r="4.5"/><circle cx="33.9" cy="3.4" r="2.2"/><circle cx="33" cy="6.4" r="1.6"/><circle cx="30.1" cy="6.2" r="2.2"/><circle cx="28.1" cy="4.6" r="1.5"/><circle cx="28.8" cy="0.9" r="2"/><circle cx="30.5" cy="-0.2" r="1.6"/><circle cx="33.9" cy="1.2" r="1.6"/></g><g fill="#a6a6a6"><circle cx="31.2" cy="3.2" r="3.8"/><circle cx="33.9" cy="3.4" r="1.4"/><circle cx="33" cy="6.4" r="0.8"/><circle cx="30.1" cy="6.2" r="1.4"/><circle cx="28.1" cy="4.6" r="0.8"/><circle cx="28.8" cy="0.9" r="1.2"/><circle cx="30.5" cy="-0.2" r="0.9"/><circle cx="33.9" cy="1.2" r="0.8"/></g>
<g opacity="0.6"><circle cx="32.9" cy="1" r="0.9" fill="#666"/><circle cx="30.7" cy="6.2" r="1" fill="#777"/><circle cx="31.4" cy="6.1" r="0.8" fill="#777"/><circle cx="29.2" cy="2.7" r="1.4" fill="#666"/><circle cx="29.9" cy="1.3" r="0.7" fill="#666"/><circle cx="28.4" cy="2.8" r="0.6" fill="#666"/><circle cx="30.2" cy="3.9" r="1.2" fill="#777"/></g>
<g fill="#5e5e5e"><circle cx="6.2" cy="59" r="4"/><circle cx="9.2" cy="59.6" r="1.5"/><circle cx="8.5" cy="60.7" r="1.5"/><circle cx="6.2" cy="61.9" r="1.7"/><circle cx="3.9" cy="61.1" r="1.5"/><circle cx="3.6" cy="58.6" r="1.7"/><circle cx="5.2" cy="56.4" r="1.5"/><circle cx="7.9" cy="56.8" r="1.6"/></g><g fill="#9e9e9e"><circle cx="6.2" cy="59" r="3.3"/><circle cx="9.2" cy="59.6" r="0.7"/><circle cx="8.5" cy="60.7" r="0.7"/><circle cx="6.2" cy="61.9" r="1"/><circle cx="3.9" cy="61.1" r="0.8"/><circle cx="3.6" cy="58.6" r="0.9"/><circle cx="5.2" cy="56.4" r="0.7"/><circle cx="7.9" cy="56.8" r="0.8"/></g>
<g opacity="0.6"><circle cx="7.9" cy="57.3" r="1.2" fill="#b5b5b5"/><circle cx="8.9" cy="58.5" r="1.3" fill="#666"/><circle cx="6.5" cy="60" r="1.4" fill="#777"/><circle cx="5.1" cy="58.2" r="1.4" fill="#b5b5b5"/><circle cx="5.3" cy="60.8" r="0.8" fill="#666"/><circle cx="5.7" cy="57.3" r="0.6" fill="#b5b5b5"/></g>
<g fill="#5e5e5e"><circle cx="43.6" cy="19.6" r="6"/><circle cx="48.2" cy="18.6" r="2.7"/><circle cx="47.4" cy="22.6" r="2"/><circle cx="43.9" cy="24.2" r="2.7"/><circle cx="39.1" cy="20.8" r="2.1"/><circle cx="38.9" cy="18.9" r="2.8"/><circle cx="42" cy="15.6" r="2.7"/><circle cx="46" cy="17" r="2.9"/></g><g fill="#8c8c8c"><circle cx="43.6" cy="19.6" r="5.2"/><circle cx="48.2" cy="18.6" r="2"/><circle cx="47.4" cy="22.6" r="1.3"/><circle cx="43.9" cy="24.2" r="1.9"/><circle cx="39.1" cy="20.8" r="1.3"/><circle cx="38.9" cy="18.9" r="2"/><circle cx="42" cy="15.6" r="2"/><circle cx="46" cy="17" r="2.1"/></g>
<g opacity="0.6"><circle cx="43.8" cy="15.7" r="1.3" fill="#777"/><circle cx="47" cy="17" r="0.9" fill="#b5b5b5"/><circle cx="40.9" cy="18.5" r="0.7" fill="#666"/><circle cx="45.7" cy="22.8" r="0.5" fill="#777"/><circle cx="41.9" cy="18.5" r="1.4" fill="#777"/><circle cx="47.4" cy="18.7" r="1" fill="#777"/><circle cx="46.7" cy="19.9" r="0.9" fill="#777"/><circle cx="45.8" cy="16.2" r="1" fill="#777"/><circle cx="45.3" cy="22.1" r="0.9" fill="#777"/><circle cx="42.4" cy="19.8" r="0.6" fill="#777"/></g>
<g fill="#5e5e5e"><circle cx="67.6" cy="10.1" r="2.5"/><circle cx="69.2" cy="10.5" r="1"/><circle cx="68.8" cy="11.3" r="1.2"/><circle cx="67.1" cy="11.8" r="1.1"/><circle cx="66.2" cy="11.1" r="1.3"/><circle cx="66.2" cy="9.1" r="1.2"/><circle cx="66.9" cy="8.4" r="1.2"/><circle cx="68.6" cy="9" r="1.3"/></g><g fill="#9e9e9e"><circle cx="67.6" cy="10.1" r="1.8"/><circle cx="69.2" cy="10.5" r="0.3"/><circle cx="68.8" cy="11.3" r="0.5"/><circle cx="67.1" cy="11.8" r="0.3"/><circle cx="66.2" cy="11.1" r="0.5"/><circle cx="66.2" cy="9.1" r="0.4"/><circle cx="66.9" cy="8.4" r="0.4"/><circle cx="68.6" cy="9" r="0.6"/></g>
<g opacity="0.6"><circle cx="66.6" cy="10.8" r="1.1" fill="#b5b5b5"/><circle cx="69" cy="10.9" r="1.3" fill="#777"/><circle cx="68.8" cy="10.3" r="0.9" fill="#b5b5b5"/></g>
<g fill="#5e5e5e"><circle cx="36.3" cy="17.9" r="5.2"/><circle cx="40.2" cy="18.3" r="2.3"/><circle cx="38.4" cy="21.3" r="2.3"/><circle cx="35" cy="21.8" r="2.2"/><circle cx="32.9" cy="20.2" r="1.9"/><circle cx="32.4" cy="17" r="2.4"/><circle cx="36.5" cy="14.1" r="2.2"/><circle cx="38.7" cy="14.9" r="2.2"/></g><g fill="#9e9e9e"><circle cx="36.3" cy="17.9" r="4.4"/><circle cx="40.2" cy="18.3" r="1.6"/><circle cx="38.4" cy="21.3" r="1.6"/><circle cx="35" cy="21.8" r="1.4"/><circle cx="32.9" cy="20.2" r="1.2"/><circle cx="32.4" cy="17" r="1.7"/><circle cx="36.5" cy="14.1" r="1.5"/><circle cx="38.7" cy="14.9" r="1.4"/></g>
<g opacity="0.6"><circle cx="36.8" cy="18.7" r="1.6" fill="#b5b5b5"/><circle cx="37.5" cy="18.8" r="0.6" fill="#777"/><circle cx="37.8" cy="20.7" r="0.9" fill="#b5b5b5"/><circle cx="38.6" cy="18.4" r="0.6" fill="#b5b5b5"/><circle cx="35.5" cy="20.6" r="1.5" fill="#777"/><circle cx="36.9" cy="15.2" r="1.6" fill="#777"/><circle cx="36.6" cy="20.5" r="0.5" fill="#666"/><circle cx="37.8" cy="15.7" r="0.8" fill="#666"/></g>
<g fill="#5e5e5e"><circle cx="68.4" cy="51.2" r="4.1"/><circle cx="71.1" cy="50.9" r="1.7"/><circle cx="70" cy="53.5" r="1.7"/><circle cx="68.7" cy="54.4" r="1.6"/><circle cx="65.8" cy="52.2" r="1.7"/><circle cx="66" cy="49.3" r="1.6"/><circle cx="67.2" cy="48.2" r="1.4"/><circle cx="70.4" cy="48.5" r="1.6"/></g><g fill="#a6a6a6"><circle cx="68.4" cy="51.2" r="3.4"/><circle cx="71.1" cy="50.9" r="1"/><circle cx="70" cy="53.5" r="1"/><circle cx="68.7" cy="54.4" r="0.8"/><circle cx="65.8" cy="52.2" r="0.9"/><circle cx="66" cy="49.3" r="0.9"/><circle cx="67.2" cy="48.2" r="0.7"/><circle cx="70.4" cy="48.5" r="0.9"/></g>
<g opacity="0.6"><circle cx="69.3" cy="52.3" r="0.6" fill="#b5b5b5"/><circle cx="68.2" cy="48.3" r="1.6" fill="#777"/><circle cx="66.2" cy="50.6" r="0.8" fill="#777"/><circle cx="67.3" cy="51" r="1.3" fill="#666"/><circle cx="69.7" cy="51.5" r="0.6" fill="#777"/><circle cx="70.1" cy="49.9" r="0.8" fill="#b5b5b5"/></g>
<g fill="#5e5e5e"><circle cx="59" cy="54.1" r="2.9"/><circle cx="60.9" cy="54.6" r="1.3"/><circle cx="60.4" cy="55.7" r="1.2"/><circle cx="59.1" cy="56.2" r="1.2"/><circle cx="57.1" cy="54.7" r="1.2"/><circle cx="57.1" cy="52.9" r="1.1"/><circle cx="58.3" cy="52.1" r="1.5"/><circle cx="60.6" cy="52.6" r="1.4"/></g><g fill="#959595"><circle cx="59" cy="54.1" r="2.1"/><circle cx="60.9" cy="54.6" r="0.5"/><circle cx="60.4" cy="55.7" r="0.5"/><circle cx="59.1" cy="56.2" r="0.5"/><circle cx="57.1" cy="54.7" r="0.4"/><circle cx="57.1" cy="52.9" r="0.3"/><circle cx="58.3" cy="52.1" r="0.7"/><circle cx="60.6" cy="52.6" r="0.6"/></g>
<g opacity="0.6"><circle cx="59.8" cy="54.1" r="1.2" fill="#777"/><circle cx="59.6" cy="54.5" r="1.3" fill="#b5b5b5"/><circle cx="59.6" cy="54.5" r="0.8" fill="#777"/><circle cx="57.8" cy="52.6" r="1.1" fill="#777"/></g>
<g fill="#5e5e5e"><circle cx="45.8" cy="3.5" r="2.6"/><circle cx="47.4" cy="3.9" r="1.3"/><circle cx="47.1" cy="4.9" r="1.2"/><circle cx="45.8" cy="5" r="1.3"/><circle cx="44.4" cy="4.4" r="1.3"/><circle cx="44" cy="3.1" r="1.1"/><circle cx="45" cy="1.8" r="1"/><circle cx="47.3" cy="2.4" r="1.1"/></g><g fill="#a6a6a6"><circle cx="45.8" cy="3.5" r="1.8"/><circle cx="47.4" cy="3.9" r="0.5"/><circle cx="47.1" cy="4.9" r="0.5"/><circle cx="45.8" cy="5" r="0.5"/><circle cx="44.4" cy="4.4" r="0.5"/><circle cx="44" cy="3.1" r="0.3"/><circle cx="45" cy="1.8" r="0.3"/><circle cx="47.3" cy="2.4" r="0.3"/></g>
<g opacity="0.6"><circle cx="46.3" cy="2.5" r="1.5" fill="#b5b5b5"/><circle cx="44.6" cy="2.3" r="0.8" fill="#b5b5b5"/><circle cx="46.4" cy="2.8" r="1" fill="#666"/></g>
<g fill="#5e5e5e"><circle cx="22" cy="0.7" r="3.5"/><circle cx="24.5" cy="0.1" r="1.5"/><circle cx="23" cy="2.7" r="1.8"/><circle cx="20.8" cy="2.7" r="1.7"/><circle cx="19.5" cy="1.1" r="1.7"/><circle cx="19.7" cy="-0.6" r="1.4"/><circle cx="21.5" cy="-1.7" r="1.6"/><circle cx="23.7" cy="-1.3" r="1.7"/></g><g fill="#8c8c8c"><circle cx="22" cy="0.7" r="2.8"/><circle cx="24.5" cy="0.1" r="0.8"/><circle cx="23" cy="2.7" r="1"/><circle cx="20.8" cy="2.7" r="0.9"/><circle cx="19.5" cy="1.1" r="1"/><circle cx="19.7" cy="-0.6" r="0.7"/><circle cx="21.5" cy="-1.7" r="0.9"/><circle cx="23.7" cy="-1.3" r="1"/></g>
<g opacity="0.6"><circle cx="21.4" cy="0.8" r="1.3" fill="#777"/><circle cx="22.7" cy="2.5" r="0.6" fill="#666"/><circle cx="23.3" cy="2.3" r="0.6" fill="#777"/><circle cx="21.7" cy="-1.6" r="1.4" fill="#777"/><circle cx="24.4" cy="0.5" r="0.9" fill="#b5b5b5"/></g>
<g fill="#5e5e5e"><circle cx="48.6" cy="50.9" r="6.5"/><circle cx="53.1" cy="52.1" r="2.6"/><circle cx="52.5" cy="53.8" r="2.6"/><circle cx="48" cy="55.6" r="2.7"/><circle cx="43.7" cy="52.2" r="2.2"/><circle cx="44.2" cy="49.3" r="2.3"/><circle cx="47.9" cy="45.6" r="2.6"/><circle cx="53" cy="47.8" r="2.1"/></g><g fill="#959595"><circle cx="48.6" cy="50.9" r="5.8"/><circle cx="53.1" cy="52.1" r="1.9"/><circle cx="52.5" cy="53.8" r="1.8"/><circle cx="48" cy="55.6" r="1.9"/><circle cx="43.7" cy="52.2" r="1.5"/><circle cx="44.2" cy="49.3" r="1.6"/><circle cx="47.9" cy="45.6" r="1.8"/><circle cx="53" cy="47.8" r="1.4"/></g>
<g opacity="0.6"><circle cx="52.1" cy="53.5" r="1.5" fill="#b5b5b5"/><circle cx="50.4" cy="53.9" r="1.4" fill="#666"/><circle cx="44.8" cy="51.1" r="0.6" fill="#666"/><circle cx="49.9" cy="52.3" r="0.9" fill="#666"/><circle cx="49.9" cy="49.5" r="0.5" fill="#777"/><circle cx="49.6" cy="54.2" r="1" fill="#b5b5b5"/><circle cx="45.3" cy="51.6" r="1" fill="#777"/><circle cx="47.1" cy="50.8" r="1.4" fill="#b5b5b5"/><circle cx="47.9" cy="53.8" r="0.8" fill="#666"/><circle cx="51.1" cy="47.4" r="0.6" fill="#666"/><circle cx="47.5" cy="55.4" r="1.1" fill="#b5b5b5"/></g>
<g fill="#5e5e5e"><circle cx="17.7" cy="70.5" r="3.2"/><circle cx="19.9" cy="70.5" r="1.2"/><circle cx="18.6" cy="72.3" r="1.6"/><circle cx="17.7" cy="73" r="1.2"/><circle cx="15.6" cy="71" r="1.5"/><circle cx="16" cy="69.2" r="1.6"/><circle cx="17.3" cy="68.5" r="1.3"/><circle cx="19.1" cy="68.8" r="1.5"/></g><g fill="#959595"><circle cx="17.7" cy="70.5" r="2.4"/><circle cx="19.9" cy="70.5" r="0.4"/><circle cx="18.6" cy="72.3" r="0.9"/><circle cx="17.7" cy="73" r="0.4"/><circle cx="15.6" cy="71" r="0.7"/><circle cx="16" cy="69.2" r="0.9"/><circle cx="17.3" cy="68.5" r="0.5"/><circle cx="19.1" cy="68.8" r="0.8"/></g>
<g opacity="0.6"><circle cx="16.9" cy="70.8" r="0.9" fill="#b5b5b5"/><circle cx="17.3" cy="70.8" r="0.6" fill="#777"/><circle cx="17.4" cy="70.1" r="1.5" fill="#b5b5b5"/><circle cx="16.6" cy="72.4" r="1.4" fill="#777"/></g>
<g fill="#5e5e5e"><circle cx="15.9" cy="27.6" r="4.6"/><circle cx="18.9" cy="28.2" r="2.1"/><circle cx="17.5" cy="30.3" r="2.1"/><circle cx="15.5" cy="30.6" r="2.2"/><circle cx="12.8" cy="29.1" r="1.6"/><circle cx="13" cy="27" r="2"/><circle cx="15.4" cy="24.6" r="2.2"/><circle cx="17.6" cy="24.6" r="1.8"/></g><g fill="#9e9e9e"><circle cx="15.9" cy="27.6" r="3.8"/><circle cx="18.9" cy="28.2" r="1.3"/><circle cx="17.5" cy="30.3" r="1.3"/><circle cx="15.5" cy="30.6" r="1.4"/><circle cx="12.8" cy="29.1" r="0.9"/><circle cx="13" cy="27" r="1.3"/><circle cx="15.4" cy="24.6" r="1.5"/><circle cx="17.6" cy="24.6" r="1"/></g>
<g opacity="0.6"><circle cx="14.6" cy="25.4" r="1.2" fill="#777"/><circle cx="17" cy="30.6" r="0.9" fill="#666"/><circle cx="17.7" cy="29.1" r="0.6" fill="#b5b5b5"/><circle cx="17.7" cy="28" r="0.6" fill="#b5b5b5"/><circle cx="14.3" cy="27" r="0.9" fill="#666"/><circle cx="16.3" cy="30.6" r="1" fill="#666"/><circle cx="16.9" cy="27.8" r="1.5" fill="#b5b5b5"/></g>
<g fill="#5e5e5e"><circle cx="67.9" cy="69.3" r="3.9"/><circle cx="70.7" cy="68.9" r="1.9"/><circle cx="69.4" cy="71.5" r="1.7"/><circle cx="67.2" cy="72.2" r="1.9"/><circle cx="65.3" cy="70" r="1.7"/><circle cx="65.2" cy="68.3" r="1.4"/><circle cx="67.1" cy="66.4" r="1.9"/><circle cx="69.4" cy="67" r="2"/></g><g fill="#8c8c8c"><circle cx="67.9" cy="69.3" r="3.1"/><circle cx="70.7" cy="68.9" r="1.1"/><circle cx="69.4" cy="71.5" r="1"/><circle cx="67.2" cy="72.2" r="1.1"/><circle cx="65.3" cy="70" r="0.9"/><circle cx="65.2" cy="68.3" r="0.7"/><circle cx="67.1" cy="66.4" r="1.1"/><circle cx="69.4" cy="67" r="1.2"/></g>
<g opacity="0.6"><circle cx="68.4" cy="71.1" r="1.5" fill="#666"/><circle cx="66.3" cy="69.6" r="1" fill="#b5b5b5"/><circle cx="68.6" cy="69.4" r="1.4" fill="#666"/><circle cx="69.6" cy="69.8" r="0.8" fill="#b5b5b5"/><circle cx="69.6" cy="67.5" r="0.8" fill="#b5b5b5"/><circle cx="66.7" cy="69" r="1.3" fill="#777"/></g>
<g fill="#5e5e5e"><circle cx="53.3" cy="35.8" r="5.2"/><circle cx="56.9" cy="35.6" r="2.5"/><circle cx="56.7" cy="38.4" r="1.7"/><circle cx="53.2" cy="39.8" r="2"/><circle cx="49.6" cy="36.5" r="2.1"/><circle cx="50.2" cy="34.8" r="2.4"/><circle cx="51.8" cy="32.4" r="2.4"/><circle cx="55.2" cy="32.2" r="2.1"/></g><g fill="#a6a6a6"><circle cx="53.3" cy="35.8" r="4.4"/><circle cx="56.9" cy="35.6" r="1.7"/><circle cx="56.7" cy="38.4" r="1"/><circle cx="53.2" cy="39.8" r="1.3"/><circle cx="49.6" cy="36.5" r="1.3"/><circle cx="50.2" cy="34.8" r="1.7"/><circle cx="51.8" cy="32.4" r="1.6"/><circle cx="55.2" cy="32.2" r="1.3"/></g>
<g opacity="0.6"><circle cx="50.2" cy="34.2" r="1" fill="#777"/><circle cx="53.2" cy="34" r="1.2" fill="#777"/><circle cx="52.4" cy="37.3" r="1.5" fill="#777"/><circle cx="54.7" cy="34.1" r="1.6" fill="#666"/><circle cx="53.4" cy="39.3" r="1.4" fill="#666"/><circle cx="49.8" cy="35.6" r="1.5" fill="#666"/><circle cx="51.2" cy="36" r="1.1" fill="#666"/><circle cx="53" cy="38.6" r="0.7" fill="#b5b5b5"/></g>
<g fill="#5e5e5e"><circle cx="5.6" cy="71.8" r="3.8"/><circle cx="8.3" cy="71.7" r="1.6"/><circle cx="7.4" cy="73.9" r="1.6"/><circle cx="5.4" cy="74.5" r="1.9"/><circle cx="3" cy="72.2" r="1.6"/><circle cx="3.8" cy="70.2" r="1.7"/><circle cx="4.8" cy="68.8" r="1.4"/><circle cx="7" cy="70" r="1.8"/></g><g fill="#8c8c8c"><circle cx="5.6" cy="71.8" r="3"/><circle cx="8.3" cy="71.7" r="0.8"/><circle cx="7.4" cy="73.9" r="0.8"/><circle cx="5.4" cy="74.5" r="1.1"/><circle cx="3" cy="72.2" r="0.9"/><circle cx="3.8" cy="70.2" r="0.9"/><circle cx="4.8" cy="68.8" r="0.7"/><circle cx="7" cy="70" r="1"/></g>
<g opacity="0.6"><circle cx="6.2" cy="73.8" r="1" fill="#666"/><circle cx="8" cy="73" r="1.3" fill="#b5b5b5"/><circle cx="6" cy="72.6" r="0.5" fill="#b5b5b5"/><circle cx="5.8" cy="69.4" r="0.7" fill="#b5b5b5"/><circle cx="4.6" cy="71" r="1.6" fill="#777"/><circle cx="5.4" cy="72.1" r="0.8" fill="#b5b5b5"/></g>
<g fill="#5e5e5e"><circle cx="37.6" cy="35.9" r="4.9"/><circle cx="41.3" cy="36.5" r="1.7"/><circle cx="39.8" cy="38.8" r="2.3"/><circle cx="36.9" cy="39.3" r="1.9"/><circle cx="34.4" cy="36.9" r="2.4"/><circle cx="34.8" cy="34.2" r="2.2"/><circle cx="37.3" cy="31.9" r="1.7"/><circle cx="40.2" cy="33.6" r="2.2"/></g><g fill="#9e9e9e"><circle cx="37.6" cy="35.9" r="4.2"/><circle cx="41.3" cy="36.5" r="0.9"/><circle cx="39.8" cy="38.8" r="1.5"/><circle cx="36.9" cy="39.3" r="1.1"/><circle cx="34.4" cy="36.9" r="1.6"/><circle cx="34.8" cy="34.2" r="1.5"/><circle cx="37.3" cy="31.9" r="0.9"/><circle cx="40.2" cy="33.6" r="1.5"/></g>
<g opacity="0.6"><circle cx="39.7" cy="38" r="0.8" fill="#666"/><circle cx="36.6" cy="33.5" r="1.2" fill="#666"/><circle cx="39.1" cy="36.7" r="0.6" fill="#666"/><circle cx="37.3" cy="35.4" r="0.8" fill="#777"/><circle cx="37.7" cy="39" r="1.1" fill="#666"/><circle cx="36.9" cy="34.5" r="0.6" fill="#b5b5b5"/><circle cx="37.3" cy="33.8" r="0.7" fill="#777"/><circle cx="38.5" cy="37" r="0.6" fill="#777"/></g>
<g fill="#5e5e5e"><circle cx="39.1" cy="65" r="4.7"/><circle cx="42.3" cy="65.1" r="1.9"/><circle cx="41" cy="68" r="2.3"/><circle cx="37.4" cy="68.5" r="1.6"/><circle cx="35.8" cy="67.1" r="2"/><circle cx="35.5" cy="64" r="1.6"/><circle cx="38" cy="61.4" r="2"/><circle cx="41.2" cy="62.8" r="2.1"/></g><g fill="#8c8c8c"><circle cx="39.1" cy="65" r="4"/><circle cx="42.3" cy="65.1" r="1.1"/><circle cx="41" cy="68" r="1.6"/><circle cx="37.4" cy="68.5" r="0.9"/><circle cx="35.8" cy="67.1" r="1.3"/><circle cx="35.5" cy="64" r="0.9"/><circle cx="38" cy="61.4" r="1.2"/><circle cx="41.2" cy="62.8" r="1.4"/></g>
<g opacity="0.6"><circle cx="41.4" cy="64.7" r="1.4" fill="#b5b5b5"/><circle cx="40.6" cy="64.8" r="0.8" fill="#666"/><circle cx="40.9" cy="65.2" r="0.9" fill="#b5b5b5"/><circle cx="36.4" cy="63.1" r="1.5" fill="#777"/><circle cx="37.6" cy="62.8" r="0.7" fill="#777"/><circle cx="40.2" cy="62.1" r="0.9" fill="#b5b5b5"/><circle cx="40" cy="68" r="1.3" fill="#777"/></g>
<g fill="#5e5e5e"><circle cx="26.1" cy="5.1" r="5.2"/><circle cx="29.9" cy="4.8" r="1.9"/><circle cx="28.7" cy="7.5" r="2.3"/><circle cx="25.6" cy="8.9" r="2.1"/><circle cx="22.5" cy="7.7" r="1.8"/><circle cx="23.2" cy="2.9" r="2.4"/><circle cx="25.7" cy="0.9" r="1.8"/><circle cx="28.7" cy="1.9" r="1.8"/></g><g fill="#a6a6a6"><circle cx="26.1" cy="5.1" r="4.5"/><circle cx="29.9" cy="4.8" r="1.2"/><circle cx="28.7" cy="7.5" r="1.6"/><circle cx="25.6" cy="8.9" r="1.4"/><circle cx="22.5" cy="7.7" r="1"/><circle cx="23.2" cy="2.9" r="1.7"/><circle cx="25.7" cy="0.9" r="1.1"/><circle cx="28.7" cy="1.9" r="1"/></g>
<g opacity="0.6"><circle cx="23.6" cy="7" r="1.3" fill="#777"/><circle cx="24" cy="6.2" r="1.3" fill="#666"/><circle cx="29.8" cy="4.6" r="0.7" fill="#777"/><circle cx="23.3" cy="4.7" r="1.5" fill="#777"/><circle cx="29.2" cy="6" r="1.4" fill="#777"/><circle cx="26.9" cy="8.7" r="1.4" fill="#777"/><circle cx="22.5" cy="5.2" r="0.9" fill="#b5b5b5"/><circle cx="25.5" cy="1.3" r="0.8" fill="#666"/></g>
<g fill="#5e5e5e"><circle cx="47.1" cy="37.7" r="2.4"/><circle cx="48.5" cy="37.3" r="1.2"/><circle cx="48.3" cy="38.6" r="1.3"/><circle cx="47.1" cy="39.3" r="1.2"/><circle cx="45.6" cy="38.6" r="1"/><circle cx="45.5" cy="37.3" r="1.1"/><circle cx="47.1" cy="36.1" r="1.1"/><circle cx="48.4" cy="36.7" r="1.2"/></g><g fill="#8c8c8c"><circle cx="47.1" cy="37.7" r="1.6"/><circle cx="48.5" cy="37.3" r="0.4"/><circle cx="48.3" cy="38.6" r="0.5"/><circle cx="47.1" cy="39.3" r="0.4"/><circle cx="45.6" cy="38.6" r="0.3"/><circle cx="45.5" cy="37.3" r="0.4"/><circle cx="47.1" cy="36.1" r="0.4"/><circle cx="48.4" cy="36.7" r="0.5"/></g>
<g opacity="0.6"><circle cx="46.2" cy="37.6" r="1.3" fill="#666"/><circle cx="47.8" cy="37.4" r="1.2" fill="#b5b5b5"/><circle cx="47.4" cy="39.3" r="1" fill="#666"/></g>
<g fill="#5e5e5e"><circle cx="40.4" cy="9.2" r="6"/><circle cx="45" cy="9.1" r="2.3"/><circle cx="44.2" cy="11.8" r="2.7"/><circle cx="39.3" cy="13.8" r="2.2"/><circle cx="36.2" cy="11.8" r="2.2"/><circle cx="36.7" cy="7.2" r="2.5"/><circle cx="38.5" cy="5.7" r="2.4"/><circle cx="43.5" cy="6.3" r="2.3"/></g><g fill="#8c8c8c"><circle cx="40.4" cy="9.2" r="5.2"/><circle cx="45" cy="9.1" r="1.6"/><circle cx="44.2" cy="11.8" r="1.9"/><circle cx="39.3" cy="13.8" r="1.5"/><circle cx="36.2" cy="11.8" r="1.5"/><circle cx="36.7" cy="7.2" r="1.7"/><circle cx="38.5" cy="5.7" r="1.7"/><circle cx="43.5" cy="6.3" r="1.6"/></g>
<g opacity="0.6"><circle cx="40" cy="7.5" r="1.4" fill="#666"/><circle cx="40.1" cy="8.8" r="0.6" fill="#777"/><circle cx="37.5" cy="12.4" r="0.8" fill="#777"/><circle cx="41.4" cy="5.1" r="0.7" fill="#777"/><circle cx="40.3" cy="12" r="1.3" fill="#666"/><circle cx="43.6" cy="12" r="1.1" fill="#777"/><circle cx="40.4" cy="8" r="0.5" fill="#666"/><circle cx="40.2" cy="10.6" r="1.5" fill="#666"/><circle cx="43.2" cy="6.3" r="0.8" fill="#666"/><circle cx="42.5" cy="5.6" r="0.7" fill="#b5b5b5"/></g>
<g fill="#5e5e5e"><circle cx="13.9" cy="23.5" r="2.8"/><circle cx="15.9" cy="23.3" r="1.1"/><circle cx="15.1" cy="25" r="1.1"/><circle cx="13.1" cy="25.2" r="1.2"/><circle cx="12" cy="23.9" r="1.1"/><circle cx="12.3" cy="22.8" r="1.4"/><circle cx="13.8" cy="21.6" r="1.1"/><circle cx="14.7" cy="21.9" r="1.4"/></g><g fill="#8c8c8c"><circle cx="13.9" cy="23.5" r="2"/><circle cx="15.9" cy="23.3" r="0.3"/><circle cx="15.1" cy="25" r="0.3"/><circle cx="13.1" cy="25.2" r="0.5"/><circle cx="12" cy="23.9" r="0.4"/><circle cx="12.3" cy="22.8" r="0.6"/><circle cx="13.8" cy="21.6" r="0.3"/><circle cx="14.7" cy="21.9" r="0.7"/></g>
<g opacity="0.6"><circle cx="14.8" cy="24.3" r="1.5" fill="#b5b5b5"/><circle cx="12.1" cy="23.6" r="1.6" fill="#666"/><circle cx="15.6" cy="24.2" r="1.1" fill="#666"/><circle cx="14.5" cy="23.2" r="1.3" fill="#777"/></g>
<g fill="#5e5e5e"><circle cx="62.3" cy="56.1" r="3.8"/><circle cx="65" cy="56.3" r="1.4"/><circle cx="64.3" cy="58.4" r="1.4"/><circle cx="61.5" cy="58.9" r="1.6"/><circle cx="60.1" cy="57.5" r="1.4"/><circle cx="60.5" cy="54.5" r="1.9"/><circle cx="61.1" cy="53.5" r="1.8"/><circle cx="64.3" cy="54.4" r="1.9"/></g><g fill="#a6a6a6"><circle cx="62.3" cy="56.1" r="3.1"/><circle cx="65" cy="56.3" r="0.6"/><circle cx="64.3" cy="58.4" r="0.7"/><circle cx="61.5" cy="58.9" r="0.8"/><circle cx="60.1" cy="57.5" r="0.7"/><circle cx="60.5" cy="54.5" r="1.2"/><circle cx="61.1" cy="53.5" r="1"/><circle cx="64.3" cy="54.4" r="1.2"/></g>
<g opacity="0.6"><circle cx="63.9" cy="54.6" r="1.4" fill="#b5b5b5"/><circle cx="63" cy="54.8" r="1.1" fill="#777"/><circle cx="62.9" cy="58.3" r="1.2" fill="#777"/><circle cx="60.6" cy="55.4" r="0.8" fill="#666"/><circle cx="63.9" cy="54.2" r="1.1" fill="#b5b5b5"/><circle cx="64.3" cy="56.8" r="0.9" fill="#777"/></g>
<g fill="#5e5e5e"><circle cx="51.3" cy="6.6" r="5.9"/><circle cx="55.6" cy="5.4" r="2.4"/><circle cx="53.2" cy="10.8" r="2.5"/><circle cx="51.4" cy="10.9" r="2.6"/><circle cx="47.4" cy="7.8" r="2.8"/><circle cx="47.3" cy="3.7" r="2"/><circle cx="51.4" cy="2.3" r="2.5"/><circle cx="53.6" cy="3" r="2.1"/></g><g fill="#8c8c8c"><circle cx="51.3" cy="6.6" r="5.1"/><circle cx="55.6" cy="5.4" r="1.7"/><circle cx="53.2" cy="10.8" r="1.8"/><circle cx="51.4" cy="10.9" r="1.9"/><circle cx="47.4" cy="7.8" r="2"/><circle cx="47.3" cy="3.7" r="1.3"/><circle cx="51.4" cy="2.3" r="1.8"/><circle cx="53.6" cy="3" r="1.4"/></g>
<g opacity="0.6"><circle cx="50.9" cy="5.6" r="0.7" fill="#b5b5b5"/><circle cx="54.5" cy="9" r="0.7" fill="#b5b5b5"/><circle cx="53.8" cy="5.4" r="1.2" fill="#777"/><circle cx="47.8" cy="6.6" r="0.9" fill="#b5b5b5"/><circle cx="51.5" cy="4.6" r="1" fill="#666"/><circle cx="49.5" cy="3.4" r="0.9" fill="#b5b5b5"/><circle cx="51" cy="3.3" r="1.1" fill="#b5b5b5"/><circle cx="53.1" cy="3.6" r="1.3" fill="#777"/><circle cx="53.4" cy="4.2" r="1.3" fill="#b5b5b5"/></g>
<g fill="#555"><circle cx="38" cy="28" r="8.4"/><circle cx="45.2" cy="28.4" r="3.2"/><circle cx="43.2" cy="31.6" r="3.8"/><circle cx="38.9" cy="34.7" r="2.9"/><circle cx="35" cy="34.3" r="2.9"/><circle cx="32.9" cy="31.4" r="3.9"/><circle cx="32.5" cy="25.9" r="3.7"/><circle cx="34.4" cy="23.2" r="3.9"/><circle cx="40.9" cy="21.9" r="3.1"/><circle cx="41.4" cy="23.1" r="3.8"/></g><g fill="#858585"><circle cx="38" cy="28" r="7.5"/><circle cx="45.2" cy="28.4" r="2.3"/><circle cx="43.2" cy="31.6" r="2.9"/><circle cx="38.9" cy="34.7" r="2"/><circle cx="35" cy="34.3" r="2"/><circle cx="32.9" cy="31.4" r="3"/><circle cx="32.5" cy="25.9" r="2.8"/><circle cx="34.4" cy="23.2" r="3"/><circle cx="40.9" cy="21.9" r="2.2"/><circle cx="41.4" cy="23.1" r="2.9"/></g>
<g opacity="0.6"><circle cx="39.4" cy="24.3" r="1.5" fill="#5a5a5a"/><circle cx="35.7" cy="26.6" r="0.6" fill="#666"/><circle cx="33.3" cy="29.7" r="0.8" fill="#5a5a5a"/><circle cx="35.5" cy="22.6" r="1.2" fill="#666"/><circle cx="38.3" cy="32.1" r="1.4" fill="#5a5a5a"/><circle cx="38.9" cy="24.5" r="1" fill="#666"/><circle cx="38.1" cy="22.8" r="0.9" fill="#5a5a5a"/><circle cx="38.4" cy="27.1" r="1.2" fill="#5a5a5a"/><circle cx="35.3" cy="26.2" r="0.9" fill="#5a5a5a"/><circle cx="43.3" cy="25.7" r="0.7" fill="#5a5a5a"/><circle cx="41.5" cy="26.5" r="0.7" fill="#666"/><circle cx="33.3" cy="24.7" r="1.2" fill="#666"/><circle cx="33.4" cy="28.2" r="0.9" fill="#666"/><circle cx="37.3" cy="25.3" r="0.5" fill="#5a5a5a"/><circle cx="38.5" cy="29.3" r="1.5" fill="#666"/><circle cx="38.7" cy="24.5" r="0.9" fill="#666"/><circle cx="40.7" cy="24.9" r="1.4" fill="#666"/><circle cx="36.8" cy="32.4" r="0.7" fill="#5a5a5a"/><circle cx="32" cy="29.6" r="1.6" fill="#5a5a5a"/><circle cx="32.7" cy="27.6" r="1.1" fill="#5a5a5a"/></g>
</g>
<rect x="31.2" y="886.3" width="69.5" height="69.5" filter="url(#grain)" opacity="0.25"/>
</g>
<rect x="74.0" y="950.0" width="22.6" height="1.7" fill="#fff"/>
<g clip-path="url(#cpg5)">
<rect x="105.6" y="886.3" width="69.5" height="69.5" fill="#a9a9a9"/>
<g transform="translate(105.6,886.3)" filter="url(#soft)">
<circle cx="39.3" cy="66.8" r="1.6" fill="#b0b0b0" stroke="#6e6e6e" stroke-width="0.6"/>
<circle cx="11.3" cy="57.7" r="3.5" fill="#b0b0b0" stroke="#6e6e6e" stroke-width="0.6"/>
<circle cx="4.1" cy="19.9" r="3.1" fill="#a0a0a0" stroke="#6e6e6e" stroke-width="0.6"/>
<circle cx="44.9" cy="42" r="3.7" fill="#b0b0b0" stroke="#6e6e6e" stroke-width="0.6"/>
<circle cx="43.5" cy="8.9" r="2.4" fill="#a0a0a0" stroke="#6e6e6e" stroke-width="0.6"/>
<circle cx="-0.3" cy="63.4" r="1" fill="#a0a0a0" stroke="#6e6e6e" stroke-width="0.6"/>
<circle cx="41.6" cy="11.7" r="1.3" fill="#979797" stroke="#6e6e6e" stroke-width="0.6"/>
<circle cx="47" cy="31.5" r="1.8" fill="#a7a7a7" stroke="#6e6e6e" stroke-width="0.6"/>
<ellipse cx="67.3" cy="3.3" rx="1.9" ry="1.5" fill="#a7a7a7" stroke="#6e6e6e" stroke-width="0.6" transform="rotate(52 67.3 3.3)"/>
<circle cx="54.9" cy="27.2" r="1" fill="#a7a7a7" stroke="#6e6e6e" stroke-width="0.6"/>
<circle cx="61" cy="-3" r="4.2" fill="#979797" stroke="#6e6e6e" stroke-width="0.6"/>
<ellipse cx="25.3" cy="50.5" rx="1" ry="0.9" fill="#b0b0b0" stroke="#6e6e6e" stroke-width="0.6" transform="rotate(140 25.3 50.5)"/>
<circle cx="3.6" cy="22.1" r="1.2" fill="#b0b0b0" stroke="#6e6e6e" stroke-width="0.6"/>
<circle cx="15.6" cy="4.6" r="1" fill="#a0a0a0" stroke="#6e6e6e" stroke-width="0.6"/>
<circle cx="48.5" cy="11.2" r="1.7" fill="#979797" stroke="#6e6e6e" stroke-width="0.6"/>
<circle cx="28.7" cy="26" r="3" fill="#b0b0b0" stroke="#6e6e6e" stroke-width="0.6"/>
<circle cx="17.4" cy="70.3" r="1.1" fill="#a7a7a7" stroke="#6e6e6e" stroke-width="0.6"/>
<ellipse cx="11.1" cy="72.2" rx="1" ry="0.8" fill="#a0a0a0" stroke="#6e6e6e" stroke-width="0.6" transform="rotate(79 11.1 72.2)"/>
<ellipse cx="43.1" cy="59.7" rx="1" ry="0.8" fill="#b0b0b0" stroke="#6e6e6e" stroke-width="0.6" transform="rotate(105 43.1 59.7)"/>
<ellipse cx="42.4" cy="25.1" rx="1.2" ry="1" fill="#b0b0b0" stroke="#6e6e6e" stroke-width="0.6" transform="rotate(150 42.4 25.1)"/>
<circle cx="26.2" cy="44.4" r="1" fill="#a7a7a7" stroke="#6e6e6e" stroke-width="0.6"/>
<circle cx="15.8" cy="11.3" r="3.2" fill="#979797" stroke="#6e6e6e" stroke-width="0.6"/>
<ellipse cx="33.4" cy="2.9" rx="1.4" ry="1.1" fill="#a0a0a0" stroke="#6e6e6e" stroke-width="0.6" transform="rotate(173 33.4 2.9)"/>
<ellipse cx="50.2" cy="16.4" rx="1.1" ry="0.9" fill="#b0b0b0" stroke="#6e6e6e" stroke-width="0.6" transform="rotate(130 50.2 16.4)"/>
<ellipse cx="14.2" cy="39.2" rx="1" ry="0.9" fill="#a0a0a0" stroke="#6e6e6e" stroke-width="0.6" transform="rotate(37 14.2 39.2)"/>
<ellipse cx="17.3" cy="30.7" rx="1" ry="0.8" fill="#a0a0a0" stroke="#6e6e6e" stroke-width="0.6" transform="rotate(96 17.3 30.7)"/>
<circle cx="4" cy="7.4" r="4.3" fill="#b0b0b0" stroke="#6e6e6e" stroke-width="0.6"/>
<circle cx="49.2" cy="41.1" r="2.4" fill="#979797" stroke="#6e6e6e" stroke-width="0.6"/>
<circle cx="32.8" cy="24" r="3.9" fill="#a7a7a7" stroke="#6e6e6e" stroke-width="0.6"/>
<ellipse cx="45" cy="33.4" rx="1" ry="1" fill="#a7a7a7" stroke="#6e6e6e" stroke-width="0.6" transform="rotate(14 45 33.4)"/>
<circle cx="52.6" cy="65" r="1.9" fill="#979797" stroke="#6e6e6e" stroke-width="0.6"/>
<circle cx="23.6" cy="48.7" r="3.9" fill="#a0a0a0" stroke="#6e6e6e" stroke-width="0.6"/>
<circle cx="56.7" cy="62.2" r="1.5" fill="#a0a0a0" stroke="#6e6e6e" stroke-width="0.6"/>
<ellipse cx="41" cy="43" rx="1.4" ry="1.1" fill="#a0a0a0" stroke="#6e6e6e" stroke-width="0.6" transform="rotate(46 41 43)"/>
<circle cx="21.9" cy="67.5" r="1.5" fill="#b0b0b0" stroke="#6e6e6e" stroke-width="0.6"/>
<ellipse cx="3.3" cy="53.6" rx="3.4" ry="2.6" fill="#a0a0a0" stroke="#6e6e6e" stroke-width="0.6" transform="rotate(4 3.3 53.6)"/>
<ellipse cx="5.5" cy="55.9" rx="4.2" ry="3.1" fill="#b0b0b0" stroke="#6e6e6e" stroke-width="0.6" transform="rotate(54 5.5 55.9)"/>
<circle cx="12.3" cy="9.8" r="2.5" fill="#a7a7a7" stroke="#6e6e6e" stroke-width="0.6"/>
<ellipse cx="64.3" cy="21.7" rx="1.6" ry="1.3" fill="#a7a7a7" stroke="#6e6e6e" stroke-width="0.6" transform="rotate(145 64.3 21.7)"/>
<ellipse cx="63.5" cy="26" rx="3.9" ry="3" fill="#a7a7a7" stroke="#6e6e6e" stroke-width="0.6" transform="rotate(63 63.5 26)"/>
<circle cx="0.1" cy="1.8" r="3.7" fill="#a7a7a7" stroke="#6e6e6e" stroke-width="0.6"/>
<circle cx="32.6" cy="66.9" r="1" fill="#b0b0b0" stroke="#6e6e6e" stroke-width="0.6"/>
<ellipse cx="47.7" cy="51.1" rx="1.8" ry="1.7" fill="#b0b0b0" stroke="#6e6e6e" stroke-width="0.6" transform="rotate(50 47.7 51.1)"/>
<ellipse cx="48.2" cy="18.2" rx="2.2" ry="2" fill="#a7a7a7" stroke="#6e6e6e" stroke-width="0.6" transform="rotate(3 48.2 18.2)"/>
<ellipse cx="31.3" cy="-1.1" rx="1" ry="0.8" fill="#a7a7a7" stroke="#6e6e6e" stroke-width="0.6" transform="rotate(8 31.3 -1.1)"/>
<g fill="#5e5e5e"><circle cx="3.6" cy="14.6" r="8.4"/><circle cx="9.5" cy="13.4" r="3.6"/><circle cx="8.1" cy="19" r="3"/><circle cx="2.4" cy="20.9" r="3.4"/><circle cx="-0.5" cy="20.2" r="2.7"/><circle cx="-2.8" cy="14.3" r="2.8"/><circle cx="-2.2" cy="10.4" r="3"/><circle cx="5.2" cy="9.2" r="3.7"/><circle cx="8.8" cy="10" r="2.7"/></g><g fill="#949494"><circle cx="3.6" cy="14.6" r="7.5"/><circle cx="9.5" cy="13.4" r="2.7"/><circle cx="8.1" cy="19" r="2.1"/><circle cx="2.4" cy="20.9" r="2.5"/><circle cx="-0.5" cy="20.2" r="1.8"/><circle cx="-2.8" cy="14.3" r="1.9"/><circle cx="-2.2" cy="10.4" r="2.1"/><circle cx="5.2" cy="9.2" r="2.8"/><circle cx="8.8" cy="10" r="1.8"/></g>
<g opacity="0.6"><circle cx="1.4" cy="14.6" r="1.5" fill="#777"/><circle cx="9.1" cy="15.4" r="0.6" fill="#5a5a5a"/><circle cx="-1" cy="16" r="0.9" fill="#8a8a8a"/><circle cx="6.6" cy="18.8" r="1" fill="#6a6a6a"/><circle cx="6.1" cy="15.9" r="1.2" fill="#5a5a5a"/><circle cx="6.8" cy="17.7" r="1.4" fill="#6a6a6a"/><circle cx="2.3" cy="16.7" r="1.1" fill="#777"/><circle cx="0.8" cy="17.8" r="0.9" fill="#8a8a8a"/><circle cx="2.8" cy="15.3" r="0.6" fill="#8a8a8a"/><circle cx="5.3" cy="14.6" r="1.2" fill="#6a6a6a"/><circle cx="0.3" cy="13" r="1.6" fill="#5a5a5a"/><circle cx="4.7" cy="17" r="0.9" fill="#777"/><circle cx="0.8" cy="18.7" r="0.8" fill="#5a5a5a"/><circle cx="6.6" cy="20" r="0.7" fill="#8a8a8a"/><circle cx="-0.1" cy="18.3" r="1.2" fill="#6a6a6a"/><circle cx="-1.7" cy="18.1" r="1.6" fill="#5a5a5a"/></g>
<g fill="#5e5e5e"><circle cx="34.8" cy="10.1" r="10.4"/><circle cx="43.5" cy="12.6" r="3.5"/><circle cx="38.9" cy="17.9" r="3.6"/><circle cx="34.1" cy="17.5" r="3.8"/><circle cx="30.1" cy="16.6" r="4.9"/><circle cx="27.6" cy="9.7" r="4.8"/><circle cx="30.4" cy="2.6" r="4.5"/><circle cx="36.7" cy="2" r="4.3"/><circle cx="39" cy="3.9" r="4.7"/></g><g fill="#838383"><circle cx="34.8" cy="10.1" r="9.6"/><circle cx="43.5" cy="12.6" r="2.6"/><circle cx="38.9" cy="17.9" r="2.7"/><circle cx="34.1" cy="17.5" r="2.9"/><circle cx="30.1" cy="16.6" r="4"/><circle cx="27.6" cy="9.7" r="3.9"/><circle cx="30.4" cy="2.6" r="3.6"/><circle cx="36.7" cy="2" r="3.4"/><circle cx="39" cy="3.9" r="3.8"/></g>
<g opacity="0.6"><circle cx="41.3" cy="7.4" r="1.6" fill="#5a5a5a"/><circle cx="32.8" cy="4.2" r="0.8" fill="#8a8a8a"/><circle cx="32.1" cy="16.6" r="1.6" fill="#6a6a6a"/><circle cx="34" cy="14.2" r="1.3" fill="#8a8a8a"/><circle cx="40.4" cy="11.9" r="0.5" fill="#777"/><circle cx="29.1" cy="9.9" r="1" fill="#6a6a6a"/><circle cx="33.1" cy="14.7" r="1.1" fill="#777"/><circle cx="29.5" cy="7.4" r="1.1" fill="#8a8a8a"/><circle cx="41.6" cy="14.3" r="0.9" fill="#8a8a8a"/><circle cx="35.2" cy="8.2" r="1.4" fill="#6a6a6a"/><circle cx="29.8" cy="9.7" r="0.6" fill="#6a6a6a"/><circle cx="37.6" cy="15.3" r="0.9" fill="#777"/><circle cx="40.2" cy="6.7" r="1" fill="#5a5a5a"/><circle cx="27.8" cy="8.5" r="1.2" fill="#6a6a6a"/><circle cx="33.4" cy="8" r="0.7" fill="#5a5a5a"/><circle cx="38.4" cy="3.3" r="1" fill="#5a5a5a"/><circle cx="29" cy="10.2" r="1.1" fill="#8a8a8a"/><circle cx="32.8" cy="10.4" r="1.3" fill="#5a5a5a"/><circle cx="37.4" cy="4.5" r="1.5" fill="#5a5a5a"/><circle cx="36.6" cy="14.5" r="0.6" fill="#5a5a5a"/></g>
<g fill="#5e5e5e"><circle cx="60.6" cy="20.7" r="8.4"/><circle cx="65.8" cy="22.1" r="4"/><circle cx="66.1" cy="24" r="3.5"/><circle cx="60.5" cy="27.7" r="2.9"/><circle cx="56.1" cy="25.6" r="3"/><circle cx="54.4" cy="22.5" r="2.8"/><circle cx="56.1" cy="16.6" r="3.4"/><circle cx="60.1" cy="14.3" r="2.8"/><circle cx="65.1" cy="16.6" r="3.6"/></g><g fill="#969696"><circle cx="60.6" cy="20.7" r="7.5"/><circle cx="65.8" cy="22.1" r="3.1"/><circle cx="66.1" cy="24" r="2.6"/><circle cx="60.5" cy="27.7" r="2"/><circle cx="56.1" cy="25.6" r="2.1"/><circle cx="54.4" cy="22.5" r="1.9"/><circle cx="56.1" cy="16.6" r="2.5"/><circle cx="60.1" cy="14.3" r="1.9"/><circle cx="65.1" cy="16.6" r="2.7"/></g>
<g opacity="0.6"><circle cx="64.4" cy="20" r="1.3" fill="#777"/><circle cx="63.9" cy="20" r="1.6" fill="#5a5a5a"/><circle cx="61.7" cy="18.2" r="1" fill="#8a8a8a"/><circle cx="59.4" cy="18.4" r="1.4" fill="#777"/><circle cx="58.5" cy="16.6" r="1.1" fill="#5a5a5a"/><circle cx="61.6" cy="21.4" r="0.8" fill="#777"/><circle cx="62.2" cy="17.4" r="0.9" fill="#777"/><circle cx="54.8" cy="19.1" r="1" fill="#6a6a6a"/><circle cx="60.5" cy="22.8" r="1.4" fill="#8a8a8a"/><circle cx="61" cy="25.4" r="1.5" fill="#5a5a5a"/><circle cx="63.1" cy="19.8" r="1.6" fill="#5a5a5a"/><circle cx="57.9" cy="17.8" r="0.7" fill="#6a6a6a"/><circle cx="58.2" cy="14.9" r="1.4" fill="#5a5a5a"/><circle cx="54.4" cy="19.2" r="1.3" fill="#777"/><circle cx="66.3" cy="21.3" r="1" fill="#5a5a5a"/><circle cx="64.5" cy="22.7" r="0.7" fill="#8a8a8a"/></g>
<g fill="#5e5e5e"><circle cx="15.1" cy="32.8" r="9.4"/><circle cx="22.6" cy="33.8" r="4.3"/><circle cx="18.5" cy="39.2" r="3.3"/><circle cx="16.9" cy="40.2" r="4.1"/><circle cx="10" cy="36.8" r="4.1"/><circle cx="9.2" cy="33" r="4.3"/><circle cx="9.6" cy="29.4" r="3.8"/><circle cx="16.2" cy="25.3" r="3.6"/><circle cx="21.4" cy="29.3" r="3.1"/></g><g fill="#a3a3a3"><circle cx="15.1" cy="32.8" r="8.6"/><circle cx="22.6" cy="33.8" r="3.4"/><circle cx="18.5" cy="39.2" r="2.4"/><circle cx="16.9" cy="40.2" r="3.2"/><circle cx="10" cy="36.8" r="3.2"/><circle cx="9.2" cy="33" r="3.4"/><circle cx="9.6" cy="29.4" r="2.9"/><circle cx="16.2" cy="25.3" r="2.7"/><circle cx="21.4" cy="29.3" r="2.2"/></g>
<g opacity="0.6"><circle cx="16.7" cy="30.4" r="0.9" fill="#777"/><circle cx="20.3" cy="35.4" r="1.2" fill="#5a5a5a"/><circle cx="18.7" cy="31" r="1.5" fill="#5a5a5a"/><circle cx="13.8" cy="36.1" r="1.2" fill="#6a6a6a"/><circle cx="18.1" cy="26.3" r="1.4" fill="#777"/><circle cx="11.6" cy="31.4" r="0.7" fill="#8a8a8a"/><circle cx="16.4" cy="27.1" r="0.9" fill="#6a6a6a"/><circle cx="11.7" cy="26.6" r="0.6" fill="#777"/><circle cx="21.4" cy="32.7" r="1.1" fill="#6a6a6a"/><circle cx="17.4" cy="34.1" r="0.8" fill="#6a6a6a"/><circle cx="10.1" cy="36.9" r="0.9" fill="#8a8a8a"/><circle cx="12.4" cy="35.9" r="1.4" fill="#8a8a8a"/><circle cx="11.4" cy="38.5" r="1.5" fill="#5a5a5a"/><circle cx="19.6" cy="34.5" r="0.8" fill="#8a8a8a"/><circle cx="15.6" cy="30.7" r="0.6" fill="#777"/><circle cx="13.5" cy="26.5" r="1.1" fill="#8a8a8a"/><circle cx="19" cy="27.5" r="0.8" fill="#777"/><circle cx="14" cy="36.8" r="1.5" fill="#5a5a5a"/></g>
<g fill="#5e5e5e"><circle cx="16.6" cy="49.5" r="10.4"/><circle cx="23.4" cy="49" r="4.8"/><circle cx="22.6" cy="53.7" r="4.7"/><circle cx="18.8" cy="57.3" r="4.9"/><circle cx="11.7" cy="55.7" r="4"/><circle cx="9.6" cy="51.1" r="4.4"/><circle cx="11.4" cy="44.2" r="4.6"/><circle cx="18.2" cy="41.2" r="3.6"/><circle cx="21.9" cy="44" r="3.4"/></g><g fill="#959595"><circle cx="16.6" cy="49.5" r="9.6"/><circle cx="23.4" cy="49" r="3.9"/><circle cx="22.6" cy="53.7" r="3.8"/><circle cx="18.8" cy="57.3" r="4"/><circle cx="11.7" cy="55.7" r="3.1"/><circle cx="9.6" cy="51.1" r="3.5"/><circle cx="11.4" cy="44.2" r="3.7"/><circle cx="18.2" cy="41.2" r="2.7"/><circle cx="21.9" cy="44" r="2.5"/></g>
<g opacity="0.6"><circle cx="15" cy="47.6" r="1.1" fill="#8a8a8a"/><circle cx="12.6" cy="54.7" r="1.2" fill="#5a5a5a"/><circle cx="22" cy="52.1" r="1.1" fill="#6a6a6a"/><circle cx="15.6" cy="41.7" r="1.1" fill="#5a5a5a"/><circle cx="18.1" cy="46.1" r="1" fill="#8a8a8a"/><circle cx="11.4" cy="51.7" r="1.1" fill="#8a8a8a"/><circle cx="9.8" cy="52.1" r="1" fill="#6a6a6a"/><circle cx="21.5" cy="51" r="1.4" fill="#8a8a8a"/><circle cx="24.3" cy="50.4" r="1" fill="#777"/><circle cx="23.5" cy="47.1" r="0.6" fill="#6a6a6a"/><circle cx="13.6" cy="42.6" r="1.3" fill="#6a6a6a"/><circle cx="23.3" cy="46.1" r="1.3" fill="#6a6a6a"/><circle cx="19.6" cy="54.7" r="1.2" fill="#8a8a8a"/><circle cx="13.3" cy="53" r="1" fill="#8a8a8a"/><circle cx="14.4" cy="44.6" r="0.9" fill="#5a5a5a"/><circle cx="19.4" cy="46.5" r="0.8" fill="#5a5a5a"/><circle cx="15" cy="43.7" r="1.2" fill="#6a6a6a"/><circle cx="13.6" cy="48" r="1.2" fill="#5a5a5a"/><circle cx="16.4" cy="45.4" r="1.4" fill="#5a5a5a"/><circle cx="13.4" cy="49.1" r="1.5" fill="#777"/></g>
<g fill="#5e5e5e"><circle cx="60" cy="55" r="8.4"/><circle cx="66.9" cy="56" r="3"/><circle cx="64.2" cy="59.8" r="2.8"/><circle cx="59" cy="61.4" r="2.7"/><circle cx="56" cy="58.9" r="3.6"/><circle cx="54.3" cy="53.3" r="3.2"/><circle cx="56" cy="49.4" r="4"/><circle cx="61.8" cy="48.2" r="3"/><circle cx="64" cy="51.4" r="3.8"/></g><g fill="#939393"><circle cx="60" cy="55" r="7.5"/><circle cx="66.9" cy="56" r="2.1"/><circle cx="64.2" cy="59.8" r="1.9"/><circle cx="59" cy="61.4" r="1.8"/><circle cx="56" cy="58.9" r="2.7"/><circle cx="54.3" cy="53.3" r="2.3"/><circle cx="56" cy="49.4" r="3.1"/><circle cx="61.8" cy="48.2" r="2.1"/><circle cx="64" cy="51.4" r="2.9"/></g>
<g opacity="0.6"><circle cx="56.2" cy="59.4" r="0.5" fill="#777"/><circle cx="62.6" cy="51.1" r="1.1" fill="#5a5a5a"/><circle cx="54.9" cy="56.2" r="0.8" fill="#777"/><circle cx="62.5" cy="51.6" r="1.4" fill="#6a6a6a"/><circle cx="65.9" cy="57.2" r="0.7" fill="#8a8a8a"/><circle cx="63.3" cy="51.3" r="0.7" fill="#5a5a5a"/><circle cx="64.2" cy="57.1" r="1.3" fill="#5a5a5a"/><circle cx="62.9" cy="55.9" r="1.2" fill="#5a5a5a"/><circle cx="62.2" cy="52.1" r="0.9" fill="#5a5a5a"/><circle cx="65" cy="53.1" r="1.1" fill="#5a5a5a"/><circle cx="56.8" cy="59.2" r="1.4" fill="#6a6a6a"/><circle cx="58.5" cy="52" r="1.5" fill="#8a8a8a"/><circle cx="57.5" cy="58.6" r="0.9" fill="#5a5a5a"/><circle cx="62.4" cy="54.5" r="0.5" fill="#5a5a5a"/><circle cx="65" cy="54.1" r="1.4" fill="#8a8a8a"/><circle cx="62.7" cy="55.6" r="1.2" fill="#5a5a5a"/></g>
<g fill="#5e5e5e"><circle cx="8" cy="66" r="6.5"/><circle cx="12.1" cy="66.4" r="2.8"/><circle cx="11.9" cy="68.7" r="2.2"/><circle cx="8.5" cy="70.5" r="2.5"/><circle cx="5.4" cy="69.8" r="3.1"/><circle cx="3.7" cy="67.1" r="3.1"/><circle cx="4.3" cy="63.8" r="3"/><circle cx="8.6" cy="61.9" r="2.8"/><circle cx="10.1" cy="62.2" r="3.1"/></g><g fill="#999"><circle cx="8" cy="66" r="5.5"/><circle cx="12.1" cy="66.4" r="1.9"/><circle cx="11.9" cy="68.7" r="1.3"/><circle cx="8.5" cy="70.5" r="1.6"/><circle cx="5.4" cy="69.8" r="2.2"/><circle cx="3.7" cy="67.1" r="2.2"/><circle cx="4.3" cy="63.8" r="2.1"/><circle cx="8.6" cy="61.9" r="1.9"/><circle cx="10.1" cy="62.2" r="2.2"/></g>
<g opacity="0.6"><circle cx="7.9" cy="69.8" r="0.9" fill="#6a6a6a"/><circle cx="7" cy="62.7" r="0.6" fill="#8a8a8a"/><circle cx="8.1" cy="61.4" r="1.4" fill="#5a5a5a"/><circle cx="8.6" cy="62.5" r="0.7" fill="#6a6a6a"/><circle cx="7.5" cy="70.8" r="0.7" fill="#5a5a5a"/><circle cx="6.2" cy="66.6" r="1.5" fill="#8a8a8a"/><circle cx="12.4" cy="67.9" r="1.5" fill="#8a8a8a"/><circle cx="6.3" cy="68.3" r="1.4" fill="#6a6a6a"/><circle cx="3.5" cy="66.5" r="0.6" fill="#6a6a6a"/><circle cx="10" cy="69.7" r="1" fill="#5a5a5a"/><circle cx="5.9" cy="69.6" r="0.9" fill="#5a5a5a"/><circle cx="6.6" cy="70.1" r="1.3" fill="#5a5a5a"/></g>
<g fill="#5e5e5e"><circle cx="45" cy="66" r="6.5"/><circle cx="49.8" cy="64.9" r="2.3"/><circle cx="49.2" cy="68.8" r="2.3"/><circle cx="45.3" cy="71.1" r="2.3"/><circle cx="40.6" cy="68.9" r="2.3"/><circle cx="39.9" cy="67.5" r="2.4"/><circle cx="42.9" cy="62.1" r="2.5"/><circle cx="44" cy="61.6" r="3.1"/><circle cx="48.9" cy="62.9" r="2.8"/></g><g fill="#9a9a9a"><circle cx="45" cy="66" r="5.5"/><circle cx="49.8" cy="64.9" r="1.4"/><circle cx="49.2" cy="68.8" r="1.4"/><circle cx="45.3" cy="71.1" r="1.4"/><circle cx="40.6" cy="68.9" r="1.4"/><circle cx="39.9" cy="67.5" r="1.5"/><circle cx="42.9" cy="62.1" r="1.6"/><circle cx="44" cy="61.6" r="2.2"/><circle cx="48.9" cy="62.9" r="1.9"/></g>
<g opacity="0.6"><circle cx="45.4" cy="69.9" r="0.6" fill="#5a5a5a"/><circle cx="47.3" cy="65" r="1.2" fill="#5a5a5a"/><circle cx="40.5" cy="65.4" r="0.8" fill="#5a5a5a"/><circle cx="41" cy="63.9" r="0.7" fill="#5a5a5a"/><circle cx="49.1" cy="66.9" r="1.4" fill="#777"/><circle cx="47.3" cy="69.6" r="1.4" fill="#8a8a8a"/><circle cx="47.8" cy="63.3" r="0.7" fill="#6a6a6a"/><circle cx="43.7" cy="69.4" r="1.3" fill="#8a8a8a"/><circle cx="47.1" cy="65.2" r="0.6" fill="#777"/><circle cx="42.5" cy="69.1" r="1.5" fill="#5a5a5a"/><circle cx="40.5" cy="66" r="1.3" fill="#6a6a6a"/><circle cx="41.9" cy="65.1" r="1" fill="#8a8a8a"/></g>
<g fill="#5e5e5e"><circle cx="64" cy="38" r="5.5"/><circle cx="67.8" cy="38.1" r="2.1"/><circle cx="67.3" cy="40.5" r="2.3"/><circle cx="64.2" cy="42.2" r="2.7"/><circle cx="61.1" cy="41.1" r="2"/><circle cx="60.2" cy="36.8" r="2.1"/><circle cx="61.1" cy="35.4" r="2.5"/><circle cx="63.2" cy="34" r="2.2"/><circle cx="67.5" cy="35.6" r="2.3"/></g><g fill="#9a9a9a"><circle cx="64" cy="38" r="4.5"/><circle cx="67.8" cy="38.1" r="1.2"/><circle cx="67.3" cy="40.5" r="1.4"/><circle cx="64.2" cy="42.2" r="1.8"/><circle cx="61.1" cy="41.1" r="1.1"/><circle cx="60.2" cy="36.8" r="1.2"/><circle cx="61.1" cy="35.4" r="1.6"/><circle cx="63.2" cy="34" r="1.3"/><circle cx="67.5" cy="35.6" r="1.4"/></g>
<g opacity="0.6"><circle cx="63" cy="36.1" r="1.1" fill="#6a6a6a"/><circle cx="65.6" cy="34.4" r="1" fill="#6a6a6a"/><circle cx="64.1" cy="34.5" r="1.1" fill="#8a8a8a"/><circle cx="61.5" cy="39.9" r="1.4" fill="#5a5a5a"/><circle cx="63.6" cy="34.3" r="1.4" fill="#777"/><circle cx="65.4" cy="39.9" r="0.6" fill="#8a8a8a"/><circle cx="65.6" cy="40.7" r="1" fill="#777"/><circle cx="67" cy="36.7" r="0.9" fill="#6a6a6a"/><circle cx="63.8" cy="37.6" r="1.3" fill="#8a8a8a"/><circle cx="67.4" cy="36.2" r="0.6" fill="#6a6a6a"/></g>
<g fill="#5e5e5e"><circle cx="22" cy="3" r="5.5"/><circle cx="26.5" cy="3.1" r="2.1"/><circle cx="24.8" cy="6.3" r="2"/><circle cx="22.2" cy="6.4" r="2.4"/><circle cx="19.8" cy="5.3" r="2.7"/><circle cx="17.6" cy="3.7" r="1.9"/><circle cx="20.1" cy="0" r="2.4"/><circle cx="23.1" cy="-0.7" r="2.4"/><circle cx="24" cy="-0.5" r="1.9"/></g><g fill="#9c9c9c"><circle cx="22" cy="3" r="4.5"/><circle cx="26.5" cy="3.1" r="1.2"/><circle cx="24.8" cy="6.3" r="1.1"/><circle cx="22.2" cy="6.4" r="1.5"/><circle cx="19.8" cy="5.3" r="1.8"/><circle cx="17.6" cy="3.7" r="1"/><circle cx="20.1" cy="0" r="1.5"/><circle cx="23.1" cy="-0.7" r="1.5"/><circle cx="24" cy="-0.5" r="1"/></g>
<g opacity="0.6"><circle cx="20.4" cy="-0.1" r="1.1" fill="#777"/><circle cx="19.6" cy="0.1" r="0.6" fill="#8a8a8a"/><circle cx="23.3" cy="2.4" r="0.8" fill="#777"/><circle cx="22" cy="4.1" r="0.8" fill="#777"/><circle cx="22.5" cy="3.5" r="1.5" fill="#777"/><circle cx="23.4" cy="5.9" r="1" fill="#777"/><circle cx="18.3" cy="2.7" r="1.5" fill="#777"/><circle cx="25.5" cy="4.6" r="1.5" fill="#8a8a8a"/><circle cx="23.5" cy="1.6" r="1" fill="#777"/><circle cx="25" cy="0.7" r="0.7" fill="#6a6a6a"/></g>
<g fill="#5e5e5e"><circle cx="52" cy="2" r="5.5"/><circle cx="56.1" cy="0.8" r="1.9"/><circle cx="54.8" cy="5.5" r="2"/><circle cx="52.7" cy="6.2" r="2.5"/><circle cx="48.6" cy="4.6" r="2.4"/><circle cx="47.9" cy="1.9" r="2.2"/><circle cx="49.9" cy="-2" r="1.9"/><circle cx="53.1" cy="-2.2" r="2.2"/><circle cx="54.3" cy="-0.8" r="2.2"/></g><g fill="#9a9a9a"><circle cx="52" cy="2" r="4.5"/><circle cx="56.1" cy="0.8" r="1"/><circle cx="54.8" cy="5.5" r="1.1"/><circle cx="52.7" cy="6.2" r="1.6"/><circle cx="48.6" cy="4.6" r="1.5"/><circle cx="47.9" cy="1.9" r="1.3"/><circle cx="49.9" cy="-2" r="1"/><circle cx="53.1" cy="-2.2" r="1.3"/><circle cx="54.3" cy="-0.8" r="1.3"/></g>
<g opacity="0.6"><circle cx="52.5" cy="3.8" r="1.1" fill="#5a5a5a"/><circle cx="55.5" cy="0.9" r="0.9" fill="#6a6a6a"/><circle cx="54.1" cy="4.9" r="0.9" fill="#5a5a5a"/><circle cx="51.6" cy="-1.7" r="1.2" fill="#6a6a6a"/><circle cx="52.7" cy="4.5" r="0.9" fill="#777"/><circle cx="50.8" cy="0.6" r="0.5" fill="#777"/><circle cx="51.2" cy="4.9" r="1" fill="#777"/><circle cx="55.8" cy="1" r="1.6" fill="#777"/><circle cx="54.4" cy="0.2" r="1.5" fill="#777"/><circle cx="53.5" cy="3" r="1.5" fill="#777"/></g>
<g fill="#5e5e5e"><circle cx="30" cy="62" r="5.5"/><circle cx="34.1" cy="60.9" r="2"/><circle cx="32" cy="65.2" r="2.3"/><circle cx="30.9" cy="65.6" r="2.3"/><circle cx="27.6" cy="64.3" r="2.7"/><circle cx="26" cy="62.3" r="1.9"/><circle cx="26.6" cy="59.8" r="1.9"/><circle cx="30.7" cy="58.7" r="2.6"/><circle cx="32.5" cy="58.3" r="1.9"/></g><g fill="#a0a0a0"><circle cx="30" cy="62" r="4.5"/><circle cx="34.1" cy="60.9" r="1.1"/><circle cx="32" cy="65.2" r="1.4"/><circle cx="30.9" cy="65.6" r="1.4"/><circle cx="27.6" cy="64.3" r="1.8"/><circle cx="26" cy="62.3" r="1"/><circle cx="26.6" cy="59.8" r="1"/><circle cx="30.7" cy="58.7" r="1.7"/><circle cx="32.5" cy="58.3" r="1"/></g>
<g opacity="0.6"><circle cx="31.3" cy="61.8" r="0.7" fill="#5a5a5a"/><circle cx="26.5" cy="63.6" r="1.1" fill="#6a6a6a"/><circle cx="31.2" cy="63.9" r="1.5" fill="#6a6a6a"/><circle cx="26.5" cy="61.2" r="0.8" fill="#5a5a5a"/><circle cx="30.4" cy="59" r="0.8" fill="#777"/><circle cx="32.9" cy="63.5" r="1.4" fill="#777"/><circle cx="29.1" cy="62.5" r="1" fill="#6a6a6a"/><circle cx="26.8" cy="63.1" r="0.6" fill="#5a5a5a"/><circle cx="31.4" cy="63.5" r="1.1" fill="#6a6a6a"/><circle cx="28.7" cy="63.2" r="0.5" fill="#5a5a5a"/></g>
<g fill="#505050"><circle cx="42.4" cy="35.9" r="14.5"/><circle cx="52.5" cy="36.3" r="5.9"/><circle cx="51.4" cy="39.7" r="6"/><circle cx="44.5" cy="45.9" r="4.9"/><circle cx="40.3" cy="44.7" r="5.6"/><circle cx="35.6" cy="42.7" r="5.5"/><circle cx="30.8" cy="38.1" r="5.1"/><circle cx="31.3" cy="33" r="4.5"/><circle cx="36.7" cy="28" r="5.4"/><circle cx="43.6" cy="26.4" r="5.7"/><circle cx="44.5" cy="26.4" r="4.6"/><circle cx="50.6" cy="29.7" r="4.9"/></g><g fill="#7e7e7e"><circle cx="42.4" cy="35.9" r="13.5"/><circle cx="52.5" cy="36.3" r="4.9"/><circle cx="51.4" cy="39.7" r="5"/><circle cx="44.5" cy="45.9" r="3.9"/><circle cx="40.3" cy="44.7" r="4.6"/><circle cx="35.6" cy="42.7" r="4.5"/><circle cx="30.8" cy="38.1" r="4.1"/><circle cx="31.3" cy="33" r="3.5"/><circle cx="36.7" cy="28" r="4.4"/><circle cx="43.6" cy="26.4" r="4.7"/><circle cx="44.5" cy="26.4" r="3.6"/><circle cx="50.6" cy="29.7" r="3.9"/></g>
<g opacity="0.6"><circle cx="42.4" cy="32.4" r="0.9" fill="#6a6a6a"/><circle cx="36.1" cy="35.4" r="0.9" fill="#777"/><circle cx="35.8" cy="33.8" r="1.3" fill="#5a5a5a"/><circle cx="36.6" cy="41.9" r="1.3" fill="#5a5a5a"/><circle cx="45.6" cy="37.1" r="1.4" fill="#5a5a5a"/><circle cx="47.9" cy="37.8" r="0.7" fill="#6a6a6a"/><circle cx="39.3" cy="30.3" r="1.2" fill="#777"/><circle cx="36" cy="32.3" r="1.4" fill="#8a8a8a"/><circle cx="49.4" cy="38.9" r="0.9" fill="#777"/><circle cx="50.4" cy="41.9" r="0.5" fill="#8a8a8a"/><circle cx="40.6" cy="26.6" r="1.4" fill="#6a6a6a"/><circle cx="50.5" cy="31.3" r="1" fill="#5a5a5a"/><circle cx="50.5" cy="29.5" r="0.8" fill="#777"/><circle cx="35.4" cy="39.3" r="0.8" fill="#8a8a8a"/><circle cx="35" cy="41.6" r="0.8" fill="#777"/><circle cx="47.8" cy="44.5" r="1.5" fill="#777"/><circle cx="38.1" cy="32.2" r="1.2" fill="#777"/><circle cx="46" cy="30.1" r="1.4" fill="#777"/><circle cx="42.4" cy="28.2" r="1.1" fill="#5a5a5a"/><circle cx="42.9" cy="38.9" r="0.8" fill="#5a5a5a"/><circle cx="37.9" cy="33.9" r="0.7" fill="#5a5a5a"/><circle cx="50.9" cy="39.2" r="0.5" fill="#8a8a8a"/><circle cx="51.6" cy="35.7" r="0.5" fill="#6a6a6a"/><circle cx="33.2" cy="40.9" r="1.4" fill="#6a6a6a"/><circle cx="32.9" cy="38.3" r="1.1" fill="#6a6a6a"/><circle cx="43.8" cy="31.2" r="0.6" fill="#777"/><circle cx="51.4" cy="40.9" r="1" fill="#777"/><circle cx="51.9" cy="34.2" r="1.4" fill="#5a5a5a"/><circle cx="45.1" cy="29.2" r="0.8" fill="#777"/><circle cx="40.5" cy="39.1" r="0.9" fill="#777"/><circle cx="35" cy="41.6" r="0.8" fill="#5a5a5a"/><circle cx="32.3" cy="34.3" r="0.8" fill="#6a6a6a"/><circle cx="38.9" cy="37.8" r="1.4" fill="#8a8a8a"/><circle cx="33.7" cy="37.9" r="0.8" fill="#5a5a5a"/><circle cx="46.7" cy="36.5" r="0.7" fill="#777"/><circle cx="43.1" cy="43.8" r="1.4" fill="#8a8a8a"/><circle cx="35.8" cy="37.9" r="0.8" fill="#777"/><circle cx="42.8" cy="37.9" r="0.7" fill="#5a5a5a"/><circle cx="40.2" cy="38.7" r="1.6" fill="#8a8a8a"/><circle cx="37.5" cy="43.8" r="0.5" fill="#6a6a6a"/><circle cx="40.5" cy="32.7" r="0.7" fill="#8a8a8a"/><circle cx="35.2" cy="30.1" r="1.4" fill="#8a8a8a"/><circle cx="44.3" cy="40.1" r="1.5" fill="#8a8a8a"/><circle cx="48.3" cy="29.3" r="0.8" fill="#8a8a8a"/><circle cx="49.8" cy="31.5" r="0.8" fill="#8a8a8a"/></g>
</g>
<rect x="105.6" y="886.3" width="69.5" height="69.5" filter="url(#grain)" opacity="0.3"/>
</g>
<rect x="148.39999999999998" y="950.0" width="22.6" height="1.7" fill="#fff"/>
<g clip-path="url(#cpg6)">
<rect x="180.3" y="886.3" width="69.5" height="69.5" fill="#adadad"/>
<g transform="translate(180.3,886.3)" filter="url(#soft)">
<g fill="#666"><circle cx="66.4" cy="68.2" r="7.3"/><circle cx="71.5" cy="69.1" r="3.4"/><circle cx="70.9" cy="71.5" r="3.2"/><circle cx="65.4" cy="73.7" r="2.7"/><circle cx="61.5" cy="71.7" r="2.3"/><circle cx="61.2" cy="68.5" r="2.6"/><circle cx="61.4" cy="65.3" r="2.8"/><circle cx="65.3" cy="62.9" r="2.4"/><circle cx="70" cy="64" r="3.4"/></g><g fill="#b9b9b9"><circle cx="66.4" cy="68.2" r="6.6"/><circle cx="71.5" cy="69.1" r="2.7"/><circle cx="70.9" cy="71.5" r="2.5"/><circle cx="65.4" cy="73.7" r="2"/><circle cx="61.5" cy="71.7" r="1.6"/><circle cx="61.2" cy="68.5" r="1.9"/><circle cx="61.4" cy="65.3" r="2.1"/><circle cx="65.3" cy="62.9" r="1.7"/><circle cx="70" cy="64" r="2.7"/></g>
<g opacity="0.6"><circle cx="65.2" cy="70.2" r="0.6" fill="#d0d0d0"/><circle cx="69.6" cy="72.3" r="1" fill="#9a9a9a"/><circle cx="65.5" cy="63" r="1.2" fill="#9a9a9a"/><circle cx="64.5" cy="65" r="0.9" fill="#dadada"/><circle cx="61.8" cy="65.9" r="1.3" fill="#dadada"/><circle cx="70.1" cy="64.2" r="1.2" fill="#dadada"/></g>
<g fill="#666"><circle cx="-0.7" cy="20.7" r="4.7"/><circle cx="2.9" cy="21" r="2.1"/><circle cx="1.3" cy="23.7" r="1.8"/><circle cx="-1.2" cy="23.9" r="1.8"/><circle cx="-3.4" cy="23.5" r="1.9"/><circle cx="-4.4" cy="20.1" r="1.7"/><circle cx="-2.7" cy="18.2" r="1.9"/><circle cx="-1" cy="16.8" r="1.8"/><circle cx="1" cy="17.5" r="1.7"/></g><g fill="#b4b4b4"><circle cx="-0.7" cy="20.7" r="4"/><circle cx="2.9" cy="21" r="1.4"/><circle cx="1.3" cy="23.7" r="1.1"/><circle cx="-1.2" cy="23.9" r="1.1"/><circle cx="-3.4" cy="23.5" r="1.2"/><circle cx="-4.4" cy="20.1" r="1"/><circle cx="-2.7" cy="18.2" r="1.2"/><circle cx="-1" cy="16.8" r="1.1"/><circle cx="1" cy="17.5" r="1"/></g>
<g opacity="0.6"><circle cx="1.1" cy="22.3" r="0.7" fill="#dadada"/><circle cx="2.3" cy="21.4" r="1.5" fill="#9a9a9a"/><circle cx="-3.8" cy="21.4" r="0.7" fill="#9a9a9a"/><circle cx="2.2" cy="20.3" r="1.6" fill="#dadada"/></g>
<g fill="#666"><circle cx="7.6" cy="12.2" r="5.1"/><circle cx="11.7" cy="12.2" r="1.8"/><circle cx="9.9" cy="15.5" r="2.2"/><circle cx="6.7" cy="16.2" r="2.4"/><circle cx="4.4" cy="14.9" r="2"/><circle cx="3.6" cy="12.6" r="2.2"/><circle cx="4.6" cy="9.7" r="2.2"/><circle cx="8.5" cy="8.7" r="2.1"/><circle cx="9.5" cy="8.8" r="1.7"/></g><g fill="#c0c0c0"><circle cx="7.6" cy="12.2" r="4.4"/><circle cx="11.7" cy="12.2" r="1.1"/><circle cx="9.9" cy="15.5" r="1.5"/><circle cx="6.7" cy="16.2" r="1.7"/><circle cx="4.4" cy="14.9" r="1.3"/><circle cx="3.6" cy="12.6" r="1.5"/><circle cx="4.6" cy="9.7" r="1.5"/><circle cx="8.5" cy="8.7" r="1.4"/><circle cx="9.5" cy="8.8" r="1"/></g>
<g opacity="0.6"><circle cx="8.9" cy="14.6" r="1.5" fill="#dadada"/><circle cx="11.2" cy="13.4" r="0.8" fill="#dadada"/><circle cx="7.7" cy="15.9" r="1.3" fill="#d0d0d0"/><circle cx="10.6" cy="10.4" r="1.4" fill="#d0d0d0"/></g>
<g fill="#666"><circle cx="43.9" cy="64.7" r="3.4"/><circle cx="46.5" cy="64.2" r="1.4"/><circle cx="45.9" cy="66.4" r="1.7"/><circle cx="43.4" cy="67.3" r="1.6"/><circle cx="42.8" cy="66.6" r="1.5"/><circle cx="41.7" cy="64.8" r="1.6"/><circle cx="42.7" cy="62.6" r="1.5"/><circle cx="44.3" cy="62.3" r="1.5"/><circle cx="45.9" cy="63.4" r="1.4"/></g><g fill="#aaaaaa"><circle cx="43.9" cy="64.7" r="2.7"/><circle cx="46.5" cy="64.2" r="0.7"/><circle cx="45.9" cy="66.4" r="1"/><circle cx="43.4" cy="67.3" r="0.9"/><circle cx="42.8" cy="66.6" r="0.8"/><circle cx="41.7" cy="64.8" r="0.9"/><circle cx="42.7" cy="62.6" r="0.8"/><circle cx="44.3" cy="62.3" r="0.8"/><circle cx="45.9" cy="63.4" r="0.7"/></g>
<g opacity="0.6"><circle cx="43.4" cy="62.5" r="0.6" fill="#9a9a9a"/><circle cx="44.9" cy="65.2" r="1.1" fill="#9a9a9a"/><circle cx="44.7" cy="64.4" r="1.4" fill="#d0d0d0"/></g>
<g fill="#666"><circle cx="29.2" cy="35.9" r="6.5"/><circle cx="33.7" cy="35.8" r="2.7"/><circle cx="32.4" cy="40.3" r="2.3"/><circle cx="28.5" cy="40.6" r="2.8"/><circle cx="24.7" cy="38.4" r="2.7"/><circle cx="24.3" cy="36.4" r="2.1"/><circle cx="25.2" cy="32.4" r="2.6"/><circle cx="30.5" cy="30.6" r="2.5"/><circle cx="33.4" cy="32.7" r="2.9"/></g><g fill="#b4b4b4"><circle cx="29.2" cy="35.9" r="5.8"/><circle cx="33.7" cy="35.8" r="2"/><circle cx="32.4" cy="40.3" r="1.6"/><circle cx="28.5" cy="40.6" r="2.1"/><circle cx="24.7" cy="38.4" r="2"/><circle cx="24.3" cy="36.4" r="1.4"/><circle cx="25.2" cy="32.4" r="1.9"/><circle cx="30.5" cy="30.6" r="1.8"/><circle cx="33.4" cy="32.7" r="2.2"/></g>
<g opacity="0.6"><circle cx="28.2" cy="34.2" r="0.7" fill="#d0d0d0"/><circle cx="30.4" cy="35.5" r="0.6" fill="#9a9a9a"/><circle cx="26.1" cy="36.7" r="1.2" fill="#dadada"/><circle cx="29.1" cy="40" r="1" fill="#dadada"/><circle cx="28.5" cy="31.1" r="1.4" fill="#d0d0d0"/><circle cx="25.4" cy="37.3" r="1.2" fill="#9a9a9a"/></g>
<g fill="#666"><circle cx="55" cy="13.2" r="3"/><circle cx="57.2" cy="12.8" r="1.5"/><circle cx="56.3" cy="14.8" r="1.2"/><circle cx="54.9" cy="15.3" r="1.1"/><circle cx="53.2" cy="14.4" r="1.3"/><circle cx="53.2" cy="13" r="1.4"/><circle cx="54" cy="11.3" r="1.5"/><circle cx="54.4" cy="11" r="1.2"/><circle cx="56.5" cy="12.2" r="1.5"/></g><g fill="#b4b4b4"><circle cx="55" cy="13.2" r="2.3"/><circle cx="57.2" cy="12.8" r="0.8"/><circle cx="56.3" cy="14.8" r="0.5"/><circle cx="54.9" cy="15.3" r="0.4"/><circle cx="53.2" cy="14.4" r="0.6"/><circle cx="53.2" cy="13" r="0.7"/><circle cx="54" cy="11.3" r="0.8"/><circle cx="54.4" cy="11" r="0.5"/><circle cx="56.5" cy="12.2" r="0.8"/></g>
<g opacity="0.6"><circle cx="56.2" cy="11.7" r="1.6" fill="#dadada"/><circle cx="56.1" cy="13.6" r="0.8" fill="#9a9a9a"/></g>
<g fill="#666"><circle cx="46.7" cy="44" r="7.7"/><circle cx="52.7" cy="44.9" r="3"/><circle cx="51.4" cy="48.2" r="2.7"/><circle cx="46.6" cy="49.3" r="3.3"/><circle cx="42.5" cy="48.5" r="3.6"/><circle cx="41.8" cy="42.5" r="3.4"/><circle cx="42" cy="41" r="3.2"/><circle cx="48" cy="37.7" r="3.4"/><circle cx="50.9" cy="40.1" r="2.5"/></g><g fill="#b4b4b4"><circle cx="46.7" cy="44" r="7"/><circle cx="52.7" cy="44.9" r="2.3"/><circle cx="51.4" cy="48.2" r="2"/><circle cx="46.6" cy="49.3" r="2.6"/><circle cx="42.5" cy="48.5" r="2.9"/><circle cx="41.8" cy="42.5" r="2.7"/><circle cx="42" cy="41" r="2.5"/><circle cx="48" cy="37.7" r="2.7"/><circle cx="50.9" cy="40.1" r="1.8"/></g>
<g opacity="0.6"><circle cx="48.2" cy="40.2" r="1.5" fill="#d0d0d0"/><circle cx="43.8" cy="42" r="1.5" fill="#d0d0d0"/><circle cx="41.6" cy="43.3" r="0.5" fill="#d0d0d0"/><circle cx="41.9" cy="44.9" r="0.7" fill="#d0d0d0"/><circle cx="44.1" cy="47.3" r="1.3" fill="#9a9a9a"/><circle cx="42.6" cy="46.1" r="1.6" fill="#dadada"/><circle cx="51.7" cy="45" r="1.5" fill="#dadada"/></g>
<g fill="#666"><circle cx="39.8" cy="61.7" r="7.7"/><circle cx="45" cy="61.6" r="3.2"/><circle cx="44.3" cy="66" r="2.7"/><circle cx="38.5" cy="66.7" r="3.2"/><circle cx="36.5" cy="65.5" r="3.3"/><circle cx="34.9" cy="62.8" r="3.4"/><circle cx="36.7" cy="56" r="2.6"/><circle cx="41.4" cy="55.6" r="2.9"/><circle cx="44.6" cy="57.7" r="2.8"/></g><g fill="#b4b4b4"><circle cx="39.8" cy="61.7" r="7"/><circle cx="45" cy="61.6" r="2.5"/><circle cx="44.3" cy="66" r="2"/><circle cx="38.5" cy="66.7" r="2.5"/><circle cx="36.5" cy="65.5" r="2.6"/><circle cx="34.9" cy="62.8" r="2.7"/><circle cx="36.7" cy="56" r="1.9"/><circle cx="41.4" cy="55.6" r="2.2"/><circle cx="44.6" cy="57.7" r="2.1"/></g>
<g opacity="0.6"><circle cx="37.7" cy="63.4" r="1.4" fill="#dadada"/><circle cx="40.6" cy="60.6" r="1.2" fill="#dadada"/><circle cx="35.3" cy="63.4" r="1" fill="#d0d0d0"/><circle cx="44" cy="61.9" r="0.8" fill="#9a9a9a"/><circle cx="42" cy="64.6" r="0.9" fill="#dadada"/><circle cx="41.3" cy="61.2" r="0.6" fill="#dadada"/><circle cx="38.4" cy="61.7" r="0.7" fill="#9a9a9a"/></g>
<g fill="#666"><circle cx="46.9" cy="21.3" r="3.3"/><circle cx="49.2" cy="21.3" r="1.5"/><circle cx="49.1" cy="22.6" r="1.4"/><circle cx="46.7" cy="23.4" r="1.4"/><circle cx="45.1" cy="22.9" r="1.5"/><circle cx="44.6" cy="21.2" r="1.6"/><circle cx="45.6" cy="19.3" r="1.6"/><circle cx="47.2" cy="19.1" r="1.3"/><circle cx="48.8" cy="19.9" r="1.2"/></g><g fill="#aaaaaa"><circle cx="46.9" cy="21.3" r="2.6"/><circle cx="49.2" cy="21.3" r="0.8"/><circle cx="49.1" cy="22.6" r="0.7"/><circle cx="46.7" cy="23.4" r="0.7"/><circle cx="45.1" cy="22.9" r="0.8"/><circle cx="44.6" cy="21.2" r="0.9"/><circle cx="45.6" cy="19.3" r="0.9"/><circle cx="47.2" cy="19.1" r="0.6"/><circle cx="48.8" cy="19.9" r="0.5"/></g>
<g opacity="0.6"><circle cx="47.3" cy="23.3" r="1.1" fill="#dadada"/><circle cx="45.8" cy="23" r="0.7" fill="#d0d0d0"/></g>
<g fill="#666"><circle cx="11.1" cy="33.7" r="6.8"/><circle cx="16.4" cy="34.4" r="3.2"/><circle cx="15.6" cy="36.7" r="2.3"/><circle cx="11" cy="38.6" r="2.9"/><circle cx="8.1" cy="37.5" r="2.5"/><circle cx="5.5" cy="33.4" r="2.2"/><circle cx="6.7" cy="30.6" r="2.6"/><circle cx="9.7" cy="28.6" r="2.3"/><circle cx="14.8" cy="30.1" r="2.7"/></g><g fill="#c0c0c0"><circle cx="11.1" cy="33.7" r="6.1"/><circle cx="16.4" cy="34.4" r="2.5"/><circle cx="15.6" cy="36.7" r="1.6"/><circle cx="11" cy="38.6" r="2.2"/><circle cx="8.1" cy="37.5" r="1.8"/><circle cx="5.5" cy="33.4" r="1.5"/><circle cx="6.7" cy="30.6" r="1.9"/><circle cx="9.7" cy="28.6" r="1.6"/><circle cx="14.8" cy="30.1" r="2"/></g>
<g opacity="0.6"><circle cx="7.8" cy="30.7" r="1.6" fill="#d0d0d0"/><circle cx="13.6" cy="30.3" r="0.9" fill="#d0d0d0"/><circle cx="12.4" cy="38.7" r="0.8" fill="#9a9a9a"/><circle cx="8" cy="36.7" r="0.9" fill="#d0d0d0"/><circle cx="7" cy="33.6" r="0.8" fill="#9a9a9a"/><circle cx="6.7" cy="31.5" r="0.9" fill="#dadada"/></g>
<g fill="#666"><circle cx="11.5" cy="11.2" r="4.5"/><circle cx="14.5" cy="11.6" r="1.9"/><circle cx="14.1" cy="13.5" r="2.1"/><circle cx="10.8" cy="14.2" r="2.1"/><circle cx="9.1" cy="13.5" r="1.6"/><circle cx="8.4" cy="10.5" r="2.2"/><circle cx="8.9" cy="9.3" r="2.1"/><circle cx="11.3" cy="7.6" r="1.9"/><circle cx="14.1" cy="9.4" r="2.1"/></g><g fill="#c6c6c6"><circle cx="11.5" cy="11.2" r="3.8"/><circle cx="14.5" cy="11.6" r="1.2"/><circle cx="14.1" cy="13.5" r="1.4"/><circle cx="10.8" cy="14.2" r="1.4"/><circle cx="9.1" cy="13.5" r="0.9"/><circle cx="8.4" cy="10.5" r="1.5"/><circle cx="8.9" cy="9.3" r="1.4"/><circle cx="11.3" cy="7.6" r="1.2"/><circle cx="14.1" cy="9.4" r="1.4"/></g>
<g opacity="0.6"><circle cx="8.9" cy="10.5" r="1.4" fill="#dadada"/><circle cx="12.8" cy="13.4" r="1.5" fill="#9a9a9a"/><circle cx="11.6" cy="9.4" r="1.1" fill="#9a9a9a"/><circle cx="12.1" cy="12.6" r="0.7" fill="#d0d0d0"/></g>
<g fill="#666"><circle cx="12.5" cy="6.5" r="3.3"/><circle cx="15" cy="5.8" r="1.3"/><circle cx="14" cy="8.5" r="1.3"/><circle cx="12" cy="8.9" r="1.3"/><circle cx="10.3" cy="8" r="1.3"/><circle cx="10.2" cy="7.1" r="1.6"/><circle cx="10.5" cy="5.2" r="1.2"/><circle cx="12.8" cy="4.3" r="1.7"/><circle cx="14.5" cy="5.1" r="1.5"/></g><g fill="#b9b9b9"><circle cx="12.5" cy="6.5" r="2.6"/><circle cx="15" cy="5.8" r="0.6"/><circle cx="14" cy="8.5" r="0.6"/><circle cx="12" cy="8.9" r="0.6"/><circle cx="10.3" cy="8" r="0.6"/><circle cx="10.2" cy="7.1" r="0.9"/><circle cx="10.5" cy="5.2" r="0.5"/><circle cx="12.8" cy="4.3" r="1"/><circle cx="14.5" cy="5.1" r="0.8"/></g>
<g opacity="0.6"><circle cx="13" cy="6.8" r="0.6" fill="#9a9a9a"/><circle cx="13.1" cy="8.7" r="0.8" fill="#dadada"/></g>
<g fill="#666"><circle cx="40" cy="67.6" r="4.3"/><circle cx="43.2" cy="66.6" r="1.7"/><circle cx="42.3" cy="69.6" r="2.1"/><circle cx="40.7" cy="71" r="1.6"/><circle cx="37.5" cy="69.5" r="1.8"/><circle cx="37.3" cy="67.5" r="1.9"/><circle cx="37.4" cy="65.6" r="2"/><circle cx="40.8" cy="64.2" r="1.9"/><circle cx="41.6" cy="64.9" r="1.6"/></g><g fill="#c6c6c6"><circle cx="40" cy="67.6" r="3.6"/><circle cx="43.2" cy="66.6" r="1"/><circle cx="42.3" cy="69.6" r="1.4"/><circle cx="40.7" cy="71" r="0.9"/><circle cx="37.5" cy="69.5" r="1.1"/><circle cx="37.3" cy="67.5" r="1.2"/><circle cx="37.4" cy="65.6" r="1.3"/><circle cx="40.8" cy="64.2" r="1.2"/><circle cx="41.6" cy="64.9" r="0.9"/></g>
<g opacity="0.6"><circle cx="37.9" cy="68.2" r="1.2" fill="#d0d0d0"/><circle cx="40.2" cy="67.9" r="0.7" fill="#dadada"/><circle cx="37.5" cy="68.4" r="1.1" fill="#9a9a9a"/></g>
<g fill="#666"><circle cx="22.5" cy="25.4" r="4.3"/><circle cx="25.6" cy="24.4" r="1.5"/><circle cx="24.6" cy="27.9" r="1.8"/><circle cx="21.6" cy="28.5" r="1.5"/><circle cx="20.3" cy="26.9" r="1.9"/><circle cx="19.7" cy="25.3" r="1.8"/><circle cx="20.3" cy="23.5" r="2"/><circle cx="21.7" cy="21.9" r="1.5"/><circle cx="24.5" cy="22.5" r="1.5"/></g><g fill="#b4b4b4"><circle cx="22.5" cy="25.4" r="3.6"/><circle cx="25.6" cy="24.4" r="0.8"/><circle cx="24.6" cy="27.9" r="1.1"/><circle cx="21.6" cy="28.5" r="0.8"/><circle cx="20.3" cy="26.9" r="1.2"/><circle cx="19.7" cy="25.3" r="1.1"/><circle cx="20.3" cy="23.5" r="1.3"/><circle cx="21.7" cy="21.9" r="0.8"/><circle cx="24.5" cy="22.5" r="0.8"/></g>
<g opacity="0.6"><circle cx="20.5" cy="24.1" r="1.3" fill="#d0d0d0"/><circle cx="21.3" cy="24.9" r="1.2" fill="#dadada"/><circle cx="22.5" cy="28.4" r="0.9" fill="#9a9a9a"/></g>
<g fill="#666"><circle cx="64.2" cy="31.6" r="3.9"/><circle cx="67.2" cy="31.4" r="1.7"/><circle cx="66.3" cy="33.6" r="1.8"/><circle cx="64.1" cy="34.7" r="1.5"/><circle cx="61.7" cy="33.2" r="1.4"/><circle cx="61.4" cy="32.3" r="1.9"/><circle cx="61.9" cy="29.7" r="1.5"/><circle cx="64" cy="29.3" r="1.9"/><circle cx="66.2" cy="30" r="1.7"/></g><g fill="#c0c0c0"><circle cx="64.2" cy="31.6" r="3.2"/><circle cx="67.2" cy="31.4" r="1"/><circle cx="66.3" cy="33.6" r="1.1"/><circle cx="64.1" cy="34.7" r="0.8"/><circle cx="61.7" cy="33.2" r="0.7"/><circle cx="61.4" cy="32.3" r="1.2"/><circle cx="61.9" cy="29.7" r="0.8"/><circle cx="64" cy="29.3" r="1.2"/><circle cx="66.2" cy="30" r="1"/></g>
<g opacity="0.6"><circle cx="64.8" cy="32.9" r="1" fill="#d0d0d0"/><circle cx="64.5" cy="28.8" r="0.7" fill="#9a9a9a"/><circle cx="65.8" cy="33.3" r="1.5" fill="#dadada"/></g>
<g fill="#666"><circle cx="5.9" cy="56" r="6.4"/><circle cx="9.9" cy="55.2" r="3"/><circle cx="9.9" cy="58.4" r="3"/><circle cx="6.5" cy="60.2" r="2.9"/><circle cx="3.3" cy="60.6" r="2.2"/><circle cx="1.3" cy="56.5" r="2.5"/><circle cx="2.9" cy="52.4" r="3.1"/><circle cx="5.3" cy="52" r="2.9"/><circle cx="8.8" cy="53.1" r="2.7"/></g><g fill="#aaaaaa"><circle cx="5.9" cy="56" r="5.7"/><circle cx="9.9" cy="55.2" r="2.3"/><circle cx="9.9" cy="58.4" r="2.3"/><circle cx="6.5" cy="60.2" r="2.2"/><circle cx="3.3" cy="60.6" r="1.5"/><circle cx="1.3" cy="56.5" r="1.8"/><circle cx="2.9" cy="52.4" r="2.4"/><circle cx="5.3" cy="52" r="2.2"/><circle cx="8.8" cy="53.1" r="2"/></g>
<g opacity="0.6"><circle cx="5.2" cy="60.2" r="1.2" fill="#d0d0d0"/><circle cx="7.4" cy="54.2" r="1.5" fill="#d0d0d0"/><circle cx="10" cy="56.3" r="0.7" fill="#d0d0d0"/><circle cx="4.7" cy="53.1" r="1" fill="#9a9a9a"/><circle cx="5" cy="51.8" r="1.1" fill="#dadada"/><circle cx="4.9" cy="58" r="0.6" fill="#9a9a9a"/></g>
<g fill="#666"><circle cx="15.6" cy="38.4" r="7.4"/><circle cx="20.9" cy="39.4" r="3.4"/><circle cx="18.6" cy="42.6" r="3.4"/><circle cx="17.3" cy="44.1" r="2.8"/><circle cx="11" cy="41.3" r="3.3"/><circle cx="10.1" cy="38.3" r="2.7"/><circle cx="10.7" cy="34.5" r="2.5"/><circle cx="16.9" cy="33.3" r="2.8"/><circle cx="20.6" cy="34.6" r="2.7"/></g><g fill="#c6c6c6"><circle cx="15.6" cy="38.4" r="6.7"/><circle cx="20.9" cy="39.4" r="2.7"/><circle cx="18.6" cy="42.6" r="2.7"/><circle cx="17.3" cy="44.1" r="2.1"/><circle cx="11" cy="41.3" r="2.6"/><circle cx="10.1" cy="38.3" r="2"/><circle cx="10.7" cy="34.5" r="1.8"/><circle cx="16.9" cy="33.3" r="2.1"/><circle cx="20.6" cy="34.6" r="2"/></g>
<g opacity="0.6"><circle cx="10.8" cy="38.7" r="1.5" fill="#9a9a9a"/><circle cx="19.4" cy="38.7" r="0.9" fill="#9a9a9a"/><circle cx="14.2" cy="42.1" r="0.5" fill="#9a9a9a"/><circle cx="14.6" cy="43.5" r="0.6" fill="#9a9a9a"/><circle cx="14.4" cy="34.3" r="1.3" fill="#dadada"/><circle cx="17.3" cy="38.5" r="1.6" fill="#dadada"/><circle cx="14.6" cy="38.2" r="1.4" fill="#9a9a9a"/></g>
<g fill="#666"><circle cx="5.4" cy="26.3" r="5.1"/><circle cx="8.5" cy="26.9" r="2.5"/><circle cx="8.4" cy="29" r="1.8"/><circle cx="6.2" cy="30.1" r="2.4"/><circle cx="3.5" cy="29.5" r="1.8"/><circle cx="2.2" cy="26.5" r="2.3"/><circle cx="3.6" cy="23.3" r="1.9"/><circle cx="5.7" cy="22.9" r="2.4"/><circle cx="8.5" cy="23.8" r="2.2"/></g><g fill="#b9b9b9"><circle cx="5.4" cy="26.3" r="4.4"/><circle cx="8.5" cy="26.9" r="1.8"/><circle cx="8.4" cy="29" r="1.1"/><circle cx="6.2" cy="30.1" r="1.7"/><circle cx="3.5" cy="29.5" r="1.1"/><circle cx="2.2" cy="26.5" r="1.6"/><circle cx="3.6" cy="23.3" r="1.2"/><circle cx="5.7" cy="22.9" r="1.7"/><circle cx="8.5" cy="23.8" r="1.5"/></g>
<g opacity="0.6"><circle cx="8.5" cy="26.7" r="1.5" fill="#dadada"/><circle cx="3.2" cy="27.5" r="1.2" fill="#dadada"/><circle cx="3.7" cy="26.9" r="1.5" fill="#9a9a9a"/><circle cx="5.3" cy="22.8" r="1.5" fill="#d0d0d0"/></g>
<g fill="#666"><circle cx="2.1" cy="28.8" r="3"/><circle cx="4.1" cy="29.3" r="1.4"/><circle cx="3.8" cy="30" r="1.2"/><circle cx="1.7" cy="30.6" r="1.4"/><circle cx="0.3" cy="30.1" r="1.1"/><circle cx="-0.1" cy="28.2" r="1.2"/><circle cx="0.4" cy="27.6" r="1.3"/><circle cx="2.4" cy="27" r="1.4"/><circle cx="3.3" cy="27" r="1.2"/></g><g fill="#c0c0c0"><circle cx="2.1" cy="28.8" r="2.3"/><circle cx="4.1" cy="29.3" r="0.7"/><circle cx="3.8" cy="30" r="0.5"/><circle cx="1.7" cy="30.6" r="0.7"/><circle cx="0.3" cy="30.1" r="0.4"/><circle cx="-0.1" cy="28.2" r="0.5"/><circle cx="0.4" cy="27.6" r="0.6"/><circle cx="2.4" cy="27" r="0.7"/><circle cx="3.3" cy="27" r="0.5"/></g>
<g opacity="0.6"><circle cx="3.1" cy="30.3" r="1.5" fill="#d0d0d0"/><circle cx="3" cy="27.4" r="1.6" fill="#9a9a9a"/></g>
<g fill="#666"><circle cx="48.9" cy="70.1" r="6.9"/><circle cx="54.5" cy="70.4" r="2.2"/><circle cx="52.9" cy="72.6" r="3.3"/><circle cx="48.5" cy="75" r="2.9"/><circle cx="46.4" cy="73.9" r="3"/><circle cx="44" cy="71.5" r="3.2"/><circle cx="45" cy="67" r="2.8"/><circle cx="50.3" cy="64.7" r="2.3"/><circle cx="52.3" cy="65.8" r="2.5"/></g><g fill="#b9b9b9"><circle cx="48.9" cy="70.1" r="6.2"/><circle cx="54.5" cy="70.4" r="1.5"/><circle cx="52.9" cy="72.6" r="2.6"/><circle cx="48.5" cy="75" r="2.2"/><circle cx="46.4" cy="73.9" r="2.3"/><circle cx="44" cy="71.5" r="2.5"/><circle cx="45" cy="67" r="2.1"/><circle cx="50.3" cy="64.7" r="1.6"/><circle cx="52.3" cy="65.8" r="1.8"/></g>
<g opacity="0.6"><circle cx="48.2" cy="71.9" r="0.8" fill="#dadada"/><circle cx="49" cy="74.7" r="0.6" fill="#9a9a9a"/><circle cx="48.6" cy="71.6" r="0.6" fill="#dadada"/><circle cx="47" cy="65.8" r="1.3" fill="#d0d0d0"/><circle cx="46.9" cy="70.4" r="1.6" fill="#dadada"/><circle cx="46.3" cy="70.4" r="1.6" fill="#dadada"/></g>
<g fill="#666"><circle cx="37.9" cy="71.1" r="6.6"/><circle cx="42.6" cy="72.5" r="2.2"/><circle cx="41.8" cy="74.6" r="2.2"/><circle cx="37.1" cy="76.2" r="3"/><circle cx="34.9" cy="74.4" r="2.7"/><circle cx="32.7" cy="69.6" r="2.2"/><circle cx="33.4" cy="68" r="2.5"/><circle cx="37.9" cy="66.6" r="3.1"/><circle cx="40.2" cy="67.3" r="2.8"/></g><g fill="#b4b4b4"><circle cx="37.9" cy="71.1" r="5.9"/><circle cx="42.6" cy="72.5" r="1.5"/><circle cx="41.8" cy="74.6" r="1.5"/><circle cx="37.1" cy="76.2" r="2.3"/><circle cx="34.9" cy="74.4" r="2"/><circle cx="32.7" cy="69.6" r="1.5"/><circle cx="33.4" cy="68" r="1.8"/><circle cx="37.9" cy="66.6" r="2.4"/><circle cx="40.2" cy="67.3" r="2.1"/></g>
<g opacity="0.6"><circle cx="37.6" cy="75.7" r="1.6" fill="#d0d0d0"/><circle cx="34.8" cy="67.2" r="0.9" fill="#dadada"/><circle cx="35" cy="67.9" r="0.9" fill="#dadada"/><circle cx="37.3" cy="66.5" r="0.9" fill="#9a9a9a"/><circle cx="35.9" cy="71.3" r="0.7" fill="#dadada"/><circle cx="35.9" cy="67.6" r="1.2" fill="#d0d0d0"/></g>
<g fill="#666"><circle cx="-0.8" cy="56.3" r="5.3"/><circle cx="3.1" cy="55.4" r="2.5"/><circle cx="1.1" cy="59.1" r="2.4"/><circle cx="-1.4" cy="59.6" r="2.5"/><circle cx="-4.3" cy="58.7" r="2"/><circle cx="-5" cy="57.3" r="2.1"/><circle cx="-3.5" cy="53" r="1.8"/><circle cx="-0.1" cy="52" r="2.4"/><circle cx="1.4" cy="52.5" r="2"/></g><g fill="#b9b9b9"><circle cx="-0.8" cy="56.3" r="4.6"/><circle cx="3.1" cy="55.4" r="1.8"/><circle cx="1.1" cy="59.1" r="1.7"/><circle cx="-1.4" cy="59.6" r="1.8"/><circle cx="-4.3" cy="58.7" r="1.3"/><circle cx="-5" cy="57.3" r="1.4"/><circle cx="-3.5" cy="53" r="1.1"/><circle cx="-0.1" cy="52" r="1.7"/><circle cx="1.4" cy="52.5" r="1.3"/></g>
<g opacity="0.6"><circle cx="-1.6" cy="56" r="1.1" fill="#dadada"/><circle cx="0.6" cy="54" r="1.3" fill="#dadada"/><circle cx="0.5" cy="57" r="1" fill="#9a9a9a"/><circle cx="-0.7" cy="53.1" r="1.6" fill="#d0d0d0"/></g>
<g fill="#666"><circle cx="3.6" cy="32.5" r="3.8"/><circle cx="6.1" cy="31.8" r="1.6"/><circle cx="5.5" cy="34.6" r="1.3"/><circle cx="3.6" cy="34.9" r="1.8"/><circle cx="1.8" cy="35.1" r="1.4"/><circle cx="0.9" cy="32.4" r="1.6"/><circle cx="1.6" cy="30.5" r="1.9"/><circle cx="4" cy="29.4" r="1.6"/><circle cx="5.4" cy="30.5" r="1.8"/></g><g fill="#aaaaaa"><circle cx="3.6" cy="32.5" r="3.1"/><circle cx="6.1" cy="31.8" r="0.9"/><circle cx="5.5" cy="34.6" r="0.6"/><circle cx="3.6" cy="34.9" r="1.1"/><circle cx="1.8" cy="35.1" r="0.7"/><circle cx="0.9" cy="32.4" r="0.9"/><circle cx="1.6" cy="30.5" r="1.2"/><circle cx="4" cy="29.4" r="0.9"/><circle cx="5.4" cy="30.5" r="1.1"/></g>
<g opacity="0.6"><circle cx="2.6" cy="32.8" r="0.9" fill="#dadada"/><circle cx="1.6" cy="33.3" r="1" fill="#9a9a9a"/><circle cx="4" cy="29.9" r="1.2" fill="#9a9a9a"/></g>
<g fill="#666"><circle cx="68.3" cy="14" r="3.4"/><circle cx="70.7" cy="14.7" r="1.5"/><circle cx="70.2" cy="15.9" r="1.3"/><circle cx="67.9" cy="16.3" r="1.5"/><circle cx="67.3" cy="15.8" r="1.6"/><circle cx="66.1" cy="13.6" r="1.4"/><circle cx="66.7" cy="12.4" r="1.5"/><circle cx="68" cy="11.5" r="1.6"/><circle cx="70.5" cy="12.5" r="1.3"/></g><g fill="#c6c6c6"><circle cx="68.3" cy="14" r="2.7"/><circle cx="70.7" cy="14.7" r="0.8"/><circle cx="70.2" cy="15.9" r="0.6"/><circle cx="67.9" cy="16.3" r="0.8"/><circle cx="67.3" cy="15.8" r="0.9"/><circle cx="66.1" cy="13.6" r="0.7"/><circle cx="66.7" cy="12.4" r="0.8"/><circle cx="68" cy="11.5" r="0.9"/><circle cx="70.5" cy="12.5" r="0.6"/></g>
<g opacity="0.6"><circle cx="68" cy="15" r="0.8" fill="#dadada"/><circle cx="69.8" cy="12.1" r="1.3" fill="#d0d0d0"/><circle cx="69" cy="12.2" r="0.8" fill="#d0d0d0"/></g>
<g fill="#666"><circle cx="46.1" cy="49.1" r="5.6"/><circle cx="50.6" cy="48.3" r="1.8"/><circle cx="49.3" cy="51.8" r="2.7"/><circle cx="46.9" cy="53.2" r="1.9"/><circle cx="43.9" cy="52.8" r="2.6"/><circle cx="41.4" cy="48.3" r="2.3"/><circle cx="42.6" cy="46.4" r="2.7"/><circle cx="45.9" cy="45" r="2.3"/><circle cx="48.3" cy="45.7" r="2.4"/></g><g fill="#c0c0c0"><circle cx="46.1" cy="49.1" r="4.9"/><circle cx="50.6" cy="48.3" r="1.1"/><circle cx="49.3" cy="51.8" r="2"/><circle cx="46.9" cy="53.2" r="1.2"/><circle cx="43.9" cy="52.8" r="1.9"/><circle cx="41.4" cy="48.3" r="1.6"/><circle cx="42.6" cy="46.4" r="2"/><circle cx="45.9" cy="45" r="1.6"/><circle cx="48.3" cy="45.7" r="1.7"/></g>
<g opacity="0.6"><circle cx="43" cy="48.4" r="0.6" fill="#9a9a9a"/><circle cx="46.8" cy="47.8" r="0.5" fill="#9a9a9a"/><circle cx="44.1" cy="49.2" r="0.6" fill="#d0d0d0"/><circle cx="46.1" cy="46.4" r="0.9" fill="#d0d0d0"/><circle cx="44.5" cy="52.1" r="1.2" fill="#dadada"/></g>
<g fill="#666"><circle cx="16.7" cy="29.2" r="7.4"/><circle cx="22" cy="30.2" r="3.5"/><circle cx="19.8" cy="33.6" r="3.1"/><circle cx="18" cy="34.9" r="2.6"/><circle cx="12.2" cy="33.5" r="2.4"/><circle cx="12" cy="28.2" r="3.2"/><circle cx="11.7" cy="25.8" r="2.8"/><circle cx="15.9" cy="23.1" r="3"/><circle cx="20.4" cy="25.8" r="3.4"/></g><g fill="#aaaaaa"><circle cx="16.7" cy="29.2" r="6.7"/><circle cx="22" cy="30.2" r="2.8"/><circle cx="19.8" cy="33.6" r="2.4"/><circle cx="18" cy="34.9" r="1.9"/><circle cx="12.2" cy="33.5" r="1.7"/><circle cx="12" cy="28.2" r="2.5"/><circle cx="11.7" cy="25.8" r="2.1"/><circle cx="15.9" cy="23.1" r="2.3"/><circle cx="20.4" cy="25.8" r="2.7"/></g>
<g opacity="0.6"><circle cx="19.3" cy="30.9" r="1.1" fill="#9a9a9a"/><circle cx="16.9" cy="27.7" r="1.1" fill="#dadada"/><circle cx="16.6" cy="29.6" r="0.7" fill="#9a9a9a"/><circle cx="17.6" cy="28.8" r="0.6" fill="#d0d0d0"/><circle cx="21.1" cy="31.2" r="0.8" fill="#d0d0d0"/><circle cx="11.7" cy="28.8" r="1.1" fill="#dadada"/><circle cx="15" cy="25.7" r="0.8" fill="#9a9a9a"/></g>
<g fill="#666"><circle cx="54.4" cy="46.6" r="4.9"/><circle cx="58.3" cy="47.8" r="1.8"/><circle cx="56.9" cy="48.8" r="1.9"/><circle cx="53.4" cy="50.4" r="2.2"/><circle cx="51.4" cy="49.1" r="2.2"/><circle cx="51" cy="47.1" r="2.3"/><circle cx="51.3" cy="44" r="2.1"/><circle cx="54.8" cy="43.1" r="2"/><circle cx="57.5" cy="44.4" r="1.8"/></g><g fill="#c0c0c0"><circle cx="54.4" cy="46.6" r="4.2"/><circle cx="58.3" cy="47.8" r="1.1"/><circle cx="56.9" cy="48.8" r="1.2"/><circle cx="53.4" cy="50.4" r="1.5"/><circle cx="51.4" cy="49.1" r="1.5"/><circle cx="51" cy="47.1" r="1.6"/><circle cx="51.3" cy="44" r="1.4"/><circle cx="54.8" cy="43.1" r="1.3"/><circle cx="57.5" cy="44.4" r="1.1"/></g>
<g opacity="0.6"><circle cx="55.2" cy="44.8" r="1" fill="#dadada"/><circle cx="54.9" cy="48.9" r="0.6" fill="#dadada"/><circle cx="55.4" cy="47.2" r="0.7" fill="#dadada"/><circle cx="54.8" cy="48.7" r="1.4" fill="#d0d0d0"/></g>
<g fill="#666"><circle cx="64.2" cy="48.9" r="4.9"/><circle cx="67.3" cy="49.8" r="2.3"/><circle cx="66.7" cy="51.9" r="2.1"/><circle cx="63.7" cy="52.4" r="1.9"/><circle cx="62.4" cy="52.4" r="1.8"/><circle cx="61.1" cy="48.9" r="2.4"/><circle cx="62.5" cy="45.8" r="1.9"/><circle cx="64.7" cy="45.5" r="1.9"/><circle cx="66.9" cy="46.5" r="2"/></g><g fill="#c0c0c0"><circle cx="64.2" cy="48.9" r="4.2"/><circle cx="67.3" cy="49.8" r="1.6"/><circle cx="66.7" cy="51.9" r="1.4"/><circle cx="63.7" cy="52.4" r="1.2"/><circle cx="62.4" cy="52.4" r="1.1"/><circle cx="61.1" cy="48.9" r="1.7"/><circle cx="62.5" cy="45.8" r="1.2"/><circle cx="64.7" cy="45.5" r="1.2"/><circle cx="66.9" cy="46.5" r="1.3"/></g>
<g opacity="0.6"><circle cx="66.5" cy="49.1" r="0.9" fill="#d0d0d0"/><circle cx="65.2" cy="51.5" r="0.8" fill="#d0d0d0"/><circle cx="62.7" cy="50.6" r="0.5" fill="#d0d0d0"/><circle cx="63.5" cy="50.6" r="1.2" fill="#dadada"/></g>
<g fill="#666"><circle cx="38.4" cy="29.5" r="4.3"/><circle cx="41.4" cy="30" r="2"/><circle cx="41" cy="31" r="1.8"/><circle cx="38.2" cy="32.8" r="1.9"/><circle cx="36.5" cy="32.3" r="1.7"/><circle cx="35.4" cy="30.1" r="1.9"/><circle cx="35.4" cy="27.8" r="2"/><circle cx="38.8" cy="26" r="1.7"/><circle cx="40.5" cy="27.2" r="1.6"/></g><g fill="#c6c6c6"><circle cx="38.4" cy="29.5" r="3.6"/><circle cx="41.4" cy="30" r="1.3"/><circle cx="41" cy="31" r="1.1"/><circle cx="38.2" cy="32.8" r="1.2"/><circle cx="36.5" cy="32.3" r="1"/><circle cx="35.4" cy="30.1" r="1.2"/><circle cx="35.4" cy="27.8" r="1.3"/><circle cx="38.8" cy="26" r="1"/><circle cx="40.5" cy="27.2" r="0.9"/></g>
<g opacity="0.6"><circle cx="38.4" cy="28.9" r="1.2" fill="#d0d0d0"/><circle cx="39.5" cy="32" r="1.5" fill="#9a9a9a"/><circle cx="39.5" cy="28.2" r="0.9" fill="#dadada"/></g>
<g fill="#666"><circle cx="43.1" cy="1.8" r="4.3"/><circle cx="46.2" cy="2.1" r="1.6"/><circle cx="45.6" cy="3.6" r="1.9"/><circle cx="43.6" cy="4.7" r="1.6"/><circle cx="41" cy="4.3" r="1.5"/><circle cx="39.8" cy="1.6" r="1.6"/><circle cx="41" cy="-0.5" r="2"/><circle cx="42.7" cy="-0.9" r="1.9"/><circle cx="45.6" cy="0.1" r="1.5"/></g><g fill="#b9b9b9"><circle cx="43.1" cy="1.8" r="3.6"/><circle cx="46.2" cy="2.1" r="0.9"/><circle cx="45.6" cy="3.6" r="1.2"/><circle cx="43.6" cy="4.7" r="0.9"/><circle cx="41" cy="4.3" r="0.8"/><circle cx="39.8" cy="1.6" r="0.9"/><circle cx="41" cy="-0.5" r="1.3"/><circle cx="42.7" cy="-0.9" r="1.2"/><circle cx="45.6" cy="0.1" r="0.8"/></g>
<g opacity="0.6"><circle cx="45.3" cy="1.7" r="0.7" fill="#9a9a9a"/><circle cx="46" cy="1.5" r="0.6" fill="#9a9a9a"/><circle cx="43.9" cy="1" r="0.7" fill="#d0d0d0"/></g>
<g fill="#666"><circle cx="44.7" cy="22.6" r="5.6"/><circle cx="48.8" cy="23.5" r="1.9"/><circle cx="47" cy="26" r="2.5"/><circle cx="44.6" cy="27.3" r="2.2"/><circle cx="41.6" cy="25.2" r="2.7"/><circle cx="40.4" cy="23.2" r="2.5"/><circle cx="42.7" cy="19.7" r="2.7"/><circle cx="43.4" cy="18.1" r="1.9"/><circle cx="47.3" cy="18.8" r="2.2"/></g><g fill="#aaaaaa"><circle cx="44.7" cy="22.6" r="4.9"/><circle cx="48.8" cy="23.5" r="1.2"/><circle cx="47" cy="26" r="1.8"/><circle cx="44.6" cy="27.3" r="1.5"/><circle cx="41.6" cy="25.2" r="2"/><circle cx="40.4" cy="23.2" r="1.8"/><circle cx="42.7" cy="19.7" r="2"/><circle cx="43.4" cy="18.1" r="1.2"/><circle cx="47.3" cy="18.8" r="1.5"/></g>
<g opacity="0.6"><circle cx="47.1" cy="19.9" r="0.7" fill="#d0d0d0"/><circle cx="44.6" cy="24.8" r="0.5" fill="#9a9a9a"/><circle cx="48.4" cy="23" r="1.4" fill="#d0d0d0"/><circle cx="43.9" cy="22.9" r="0.7" fill="#9a9a9a"/><circle cx="42.4" cy="25.1" r="1.3" fill="#dadada"/></g>
<g fill="#666"><circle cx="16.4" cy="68.4" r="3.2"/><circle cx="18.3" cy="68.9" r="1.5"/><circle cx="18.1" cy="70" r="1.3"/><circle cx="16.1" cy="71" r="1.2"/><circle cx="14.9" cy="70.4" r="1.5"/><circle cx="14.1" cy="68.2" r="1.2"/><circle cx="14.3" cy="67.2" r="1.3"/><circle cx="16.4" cy="66.5" r="1.6"/><circle cx="18.1" cy="67.4" r="1.5"/></g><g fill="#c6c6c6"><circle cx="16.4" cy="68.4" r="2.5"/><circle cx="18.3" cy="68.9" r="0.8"/><circle cx="18.1" cy="70" r="0.6"/><circle cx="16.1" cy="71" r="0.5"/><circle cx="14.9" cy="70.4" r="0.8"/><circle cx="14.1" cy="68.2" r="0.5"/><circle cx="14.3" cy="67.2" r="0.6"/><circle cx="16.4" cy="66.5" r="0.9"/><circle cx="18.1" cy="67.4" r="0.8"/></g>
<g opacity="0.6"><circle cx="16" cy="67.7" r="0.8" fill="#d0d0d0"/><circle cx="18.5" cy="68.2" r="0.9" fill="#9a9a9a"/></g>
<g fill="#666"><circle cx="49" cy="6.4" r="7.3"/><circle cx="54.9" cy="5.4" r="3"/><circle cx="52.4" cy="9.8" r="3.1"/><circle cx="48.5" cy="11.6" r="2.5"/><circle cx="44.1" cy="9.6" r="2.6"/><circle cx="43" cy="6.1" r="2.7"/><circle cx="45.1" cy="3.4" r="3.3"/><circle cx="48.1" cy="0.5" r="3.2"/><circle cx="53.7" cy="3" r="3.3"/></g><g fill="#aaaaaa"><circle cx="49" cy="6.4" r="6.6"/><circle cx="54.9" cy="5.4" r="2.3"/><circle cx="52.4" cy="9.8" r="2.4"/><circle cx="48.5" cy="11.6" r="1.8"/><circle cx="44.1" cy="9.6" r="1.9"/><circle cx="43" cy="6.1" r="2"/><circle cx="45.1" cy="3.4" r="2.6"/><circle cx="48.1" cy="0.5" r="2.5"/><circle cx="53.7" cy="3" r="2.6"/></g>
<g opacity="0.6"><circle cx="53" cy="9" r="0.6" fill="#9a9a9a"/><circle cx="51.1" cy="10.3" r="1.6" fill="#d0d0d0"/><circle cx="50.2" cy="11.5" r="0.9" fill="#dadada"/><circle cx="48.6" cy="6.1" r="0.9" fill="#dadada"/><circle cx="51.2" cy="2.2" r="1.3" fill="#9a9a9a"/><circle cx="49.8" cy="2.7" r="1" fill="#d0d0d0"/></g>
<g fill="#666"><circle cx="57.2" cy="71.1" r="4.2"/><circle cx="60.4" cy="70.9" r="1.9"/><circle cx="59.6" cy="73.4" r="1.5"/><circle cx="57.7" cy="74.1" r="1.7"/><circle cx="54.6" cy="72.6" r="1.5"/><circle cx="54" cy="71.5" r="1.9"/><circle cx="55.1" cy="69" r="1.5"/><circle cx="58" cy="67.9" r="1.9"/><circle cx="58.9" cy="68.5" r="1.4"/></g><g fill="#b4b4b4"><circle cx="57.2" cy="71.1" r="3.5"/><circle cx="60.4" cy="70.9" r="1.2"/><circle cx="59.6" cy="73.4" r="0.8"/><circle cx="57.7" cy="74.1" r="1"/><circle cx="54.6" cy="72.6" r="0.8"/><circle cx="54" cy="71.5" r="1.2"/><circle cx="55.1" cy="69" r="0.8"/><circle cx="58" cy="67.9" r="1.2"/><circle cx="58.9" cy="68.5" r="0.7"/></g>
<g opacity="0.6"><circle cx="55.4" cy="68.9" r="1.2" fill="#d0d0d0"/><circle cx="55.4" cy="69" r="1.5" fill="#9a9a9a"/><circle cx="57" cy="71" r="0.7" fill="#dadada"/></g>
<g fill="#666"><circle cx="25.9" cy="56.1" r="3.6"/><circle cx="28.5" cy="56" r="1.5"/><circle cx="28.1" cy="57.6" r="1.4"/><circle cx="26.5" cy="58.7" r="1.3"/><circle cx="24.3" cy="58.2" r="1.8"/><circle cx="23.5" cy="56.4" r="1.6"/><circle cx="23.8" cy="54.6" r="1.3"/><circle cx="25.1" cy="53.4" r="1.6"/><circle cx="27.7" cy="54" r="1.4"/></g><g fill="#aaaaaa"><circle cx="25.9" cy="56.1" r="2.9"/><circle cx="28.5" cy="56" r="0.8"/><circle cx="28.1" cy="57.6" r="0.7"/><circle cx="26.5" cy="58.7" r="0.6"/><circle cx="24.3" cy="58.2" r="1.1"/><circle cx="23.5" cy="56.4" r="0.9"/><circle cx="23.8" cy="54.6" r="0.6"/><circle cx="25.1" cy="53.4" r="0.9"/><circle cx="27.7" cy="54" r="0.7"/></g>
<g opacity="0.6"><circle cx="25.7" cy="58.3" r="1.3" fill="#9a9a9a"/><circle cx="26.9" cy="57.5" r="0.7" fill="#dadada"/><circle cx="23.4" cy="55.8" r="0.7" fill="#9a9a9a"/></g>
<g fill="#666"><circle cx="13.1" cy="48.4" r="3.7"/><circle cx="15.6" cy="47.8" r="1.5"/><circle cx="15" cy="50.6" r="1.5"/><circle cx="13.5" cy="51" r="1.4"/><circle cx="11.1" cy="50.5" r="1.6"/><circle cx="10.7" cy="48.4" r="1.8"/><circle cx="11.7" cy="46.6" r="1.8"/><circle cx="12.3" cy="45.8" r="1.6"/><circle cx="15.1" cy="46.7" r="1.4"/></g><g fill="#aaaaaa"><circle cx="13.1" cy="48.4" r="3"/><circle cx="15.6" cy="47.8" r="0.8"/><circle cx="15" cy="50.6" r="0.8"/><circle cx="13.5" cy="51" r="0.7"/><circle cx="11.1" cy="50.5" r="0.9"/><circle cx="10.7" cy="48.4" r="1.1"/><circle cx="11.7" cy="46.6" r="1.1"/><circle cx="12.3" cy="45.8" r="0.9"/><circle cx="15.1" cy="46.7" r="0.7"/></g>
<g opacity="0.6"><circle cx="12.5" cy="46.1" r="0.5" fill="#dadada"/><circle cx="14.6" cy="48.2" r="0.7" fill="#d0d0d0"/><circle cx="15" cy="48.8" r="1.3" fill="#9a9a9a"/></g>
<g fill="#666"><circle cx="53.2" cy="68.6" r="4.9"/><circle cx="56.7" cy="69.2" r="2.1"/><circle cx="55.3" cy="71.7" r="2.1"/><circle cx="52.9" cy="72.5" r="2.2"/><circle cx="50.6" cy="71.8" r="1.7"/><circle cx="49.6" cy="69.5" r="1.8"/><circle cx="51.3" cy="65.5" r="1.9"/><circle cx="54.3" cy="64.6" r="1.7"/><circle cx="55.7" cy="66.9" r="2.3"/></g><g fill="#b4b4b4"><circle cx="53.2" cy="68.6" r="4.2"/><circle cx="56.7" cy="69.2" r="1.4"/><circle cx="55.3" cy="71.7" r="1.4"/><circle cx="52.9" cy="72.5" r="1.5"/><circle cx="50.6" cy="71.8" r="1"/><circle cx="49.6" cy="69.5" r="1.1"/><circle cx="51.3" cy="65.5" r="1.2"/><circle cx="54.3" cy="64.6" r="1"/><circle cx="55.7" cy="66.9" r="1.6"/></g>
<g opacity="0.6"><circle cx="50.7" cy="66.2" r="0.7" fill="#dadada"/><circle cx="51.6" cy="71.2" r="0.7" fill="#d0d0d0"/><circle cx="50.2" cy="69.2" r="0.7" fill="#dadada"/><circle cx="50.4" cy="69.5" r="1.3" fill="#dadada"/></g>
<g fill="#666"><circle cx="33.5" cy="49" r="5.5"/><circle cx="37.7" cy="49.6" r="2.7"/><circle cx="36.7" cy="52" r="2.4"/><circle cx="33.5" cy="53.1" r="2.1"/><circle cx="29.6" cy="51.1" r="2.7"/><circle cx="29.2" cy="48.7" r="2.2"/><circle cx="30" cy="47" r="2"/><circle cx="34.2" cy="45.2" r="2"/><circle cx="35.9" cy="45.9" r="2.1"/></g><g fill="#c6c6c6"><circle cx="33.5" cy="49" r="4.8"/><circle cx="37.7" cy="49.6" r="2"/><circle cx="36.7" cy="52" r="1.7"/><circle cx="33.5" cy="53.1" r="1.4"/><circle cx="29.6" cy="51.1" r="2"/><circle cx="29.2" cy="48.7" r="1.5"/><circle cx="30" cy="47" r="1.3"/><circle cx="34.2" cy="45.2" r="1.3"/><circle cx="35.9" cy="45.9" r="1.4"/></g>
<g opacity="0.6"><circle cx="34.2" cy="51.5" r="1" fill="#9a9a9a"/><circle cx="34.1" cy="51.3" r="1.5" fill="#dadada"/><circle cx="33.9" cy="52.3" r="0.5" fill="#d0d0d0"/><circle cx="37.1" cy="50" r="1.4" fill="#d0d0d0"/><circle cx="31.1" cy="51.8" r="1.3" fill="#d0d0d0"/></g>
<g fill="#666"><circle cx="11.1" cy="37.4" r="4.2"/><circle cx="14.4" cy="37" r="1.5"/><circle cx="13.5" cy="39" r="1.6"/><circle cx="10.6" cy="39.9" r="2"/><circle cx="8.4" cy="39.4" r="1.7"/><circle cx="8.2" cy="37.5" r="1.7"/><circle cx="9.5" cy="34.6" r="1.6"/><circle cx="11.1" cy="34.5" r="2"/><circle cx="13.7" cy="35.7" r="1.6"/></g><g fill="#b9b9b9"><circle cx="11.1" cy="37.4" r="3.5"/><circle cx="14.4" cy="37" r="0.8"/><circle cx="13.5" cy="39" r="0.9"/><circle cx="10.6" cy="39.9" r="1.3"/><circle cx="8.4" cy="39.4" r="1"/><circle cx="8.2" cy="37.5" r="1"/><circle cx="9.5" cy="34.6" r="0.9"/><circle cx="11.1" cy="34.5" r="1.3"/><circle cx="13.7" cy="35.7" r="0.9"/></g>
<g opacity="0.6"><circle cx="12.3" cy="36.9" r="1.4" fill="#9a9a9a"/><circle cx="10.7" cy="39.3" r="0.6" fill="#d0d0d0"/><circle cx="13.4" cy="39.1" r="1.3" fill="#9a9a9a"/></g>
<g fill="#666"><circle cx="14.8" cy="2.6" r="7.3"/><circle cx="19.4" cy="2" r="3.2"/><circle cx="17.7" cy="6.4" r="3.3"/><circle cx="15.2" cy="8.9" r="2.4"/><circle cx="11.3" cy="7" r="2.9"/><circle cx="8.7" cy="1.9" r="3.2"/><circle cx="10" cy="-0.5" r="2.3"/><circle cx="13.2" cy="-2.3" r="3.2"/><circle cx="18.8" cy="-1.8" r="2.6"/></g><g fill="#aaaaaa"><circle cx="14.8" cy="2.6" r="6.6"/><circle cx="19.4" cy="2" r="2.5"/><circle cx="17.7" cy="6.4" r="2.6"/><circle cx="15.2" cy="8.9" r="1.7"/><circle cx="11.3" cy="7" r="2.2"/><circle cx="8.7" cy="1.9" r="2.5"/><circle cx="10" cy="-0.5" r="1.6"/><circle cx="13.2" cy="-2.3" r="2.5"/><circle cx="18.8" cy="-1.8" r="1.9"/></g>
<g opacity="0.6"><circle cx="11.3" cy="-1.4" r="1.6" fill="#dadada"/><circle cx="12.2" cy="5.2" r="1.6" fill="#9a9a9a"/><circle cx="18.2" cy="6.6" r="0.8" fill="#9a9a9a"/><circle cx="14.4" cy="4.3" r="0.8" fill="#d0d0d0"/><circle cx="18.5" cy="3.7" r="0.7" fill="#d0d0d0"/><circle cx="14.3" cy="7.1" r="1" fill="#9a9a9a"/></g>
<g fill="#5e5e5e"><circle cx="16" cy="10" r="9.4"/><circle cx="22.6" cy="8.8" r="3.8"/><circle cx="22.3" cy="13.1" r="4"/><circle cx="15.7" cy="17.2" r="4.2"/><circle cx="11.9" cy="15.7" r="3.8"/><circle cx="8.7" cy="11.8" r="4"/><circle cx="8.9" cy="8.2" r="3.8"/><circle cx="13" cy="2.8" r="3.3"/><circle cx="17" cy="2.8" r="3"/><circle cx="20.9" cy="4.4" r="2.9"/></g><g fill="#bdbdbd"><circle cx="16" cy="10" r="8.6"/><circle cx="22.6" cy="8.8" r="3"/><circle cx="22.3" cy="13.1" r="3.2"/><circle cx="15.7" cy="17.2" r="3.4"/><circle cx="11.9" cy="15.7" r="3"/><circle cx="8.7" cy="11.8" r="3.2"/><circle cx="8.9" cy="8.2" r="3"/><circle cx="13" cy="2.8" r="2.5"/><circle cx="17" cy="2.8" r="2.2"/><circle cx="20.9" cy="4.4" r="2.1"/></g>
<g opacity="0.6"><circle cx="12" cy="13.2" r="0.7" fill="#a0a0a0"/><circle cx="15.8" cy="15.2" r="0.6" fill="#d4d4d4"/><circle cx="20.7" cy="13.5" r="1.2" fill="#dcdcdc"/><circle cx="18.7" cy="5.1" r="0.5" fill="#d4d4d4"/><circle cx="12.3" cy="4.8" r="0.9" fill="#a0a0a0"/><circle cx="10.8" cy="12.3" r="0.9" fill="#a0a0a0"/><circle cx="15.5" cy="4.3" r="1.2" fill="#d4d4d4"/><circle cx="17.2" cy="13.7" r="1.4" fill="#a0a0a0"/><circle cx="15.5" cy="6.3" r="0.9" fill="#d4d4d4"/><circle cx="17.6" cy="4.4" r="1.6" fill="#dcdcdc"/></g>
<g fill="#5e5e5e"><circle cx="56" cy="19" r="10.4"/><circle cx="63.7" cy="18.5" r="3.8"/><circle cx="62.3" cy="24.1" r="4.2"/><circle cx="56" cy="26.1" r="4.1"/><circle cx="52.6" cy="26.4" r="4"/><circle cx="47.6" cy="20.8" r="3.7"/><circle cx="47.1" cy="17.8" r="3.4"/><circle cx="51" cy="12.8" r="3.5"/><circle cx="55.4" cy="10.5" r="4.5"/><circle cx="61.5" cy="13.5" r="3.4"/></g><g fill="#bdbdbd"><circle cx="56" cy="19" r="9.6"/><circle cx="63.7" cy="18.5" r="3"/><circle cx="62.3" cy="24.1" r="3.4"/><circle cx="56" cy="26.1" r="3.3"/><circle cx="52.6" cy="26.4" r="3.2"/><circle cx="47.6" cy="20.8" r="2.9"/><circle cx="47.1" cy="17.8" r="2.6"/><circle cx="51" cy="12.8" r="2.7"/><circle cx="55.4" cy="10.5" r="3.7"/><circle cx="61.5" cy="13.5" r="2.6"/></g>
<g opacity="0.6"><circle cx="62.6" cy="20.5" r="1.2" fill="#d4d4d4"/><circle cx="54.5" cy="20.5" r="1" fill="#a0a0a0"/><circle cx="52.1" cy="24.8" r="1.5" fill="#dcdcdc"/><circle cx="58.1" cy="24.8" r="1.6" fill="#dcdcdc"/><circle cx="56.4" cy="18.3" r="1" fill="#a0a0a0"/><circle cx="63.7" cy="17.5" r="0.6" fill="#dcdcdc"/><circle cx="48.2" cy="19.2" r="1.3" fill="#dcdcdc"/><circle cx="48.4" cy="20.4" r="1.2" fill="#a0a0a0"/><circle cx="63.7" cy="20.4" r="1.5" fill="#dcdcdc"/><circle cx="59.9" cy="19.2" r="1.4" fill="#a0a0a0"/><circle cx="52.9" cy="21.4" r="0.9" fill="#a0a0a0"/><circle cx="52.3" cy="15.8" r="0.9" fill="#d4d4d4"/></g>
<g fill="#5e5e5e"><circle cx="32" cy="24" r="7.4"/><circle cx="37.5" cy="22.9" r="3"/><circle cx="36.5" cy="28.2" r="3"/><circle cx="34.4" cy="29.2" r="2.4"/><circle cx="29.4" cy="28.8" r="3.4"/><circle cx="26.4" cy="25.2" r="3.4"/><circle cx="27.4" cy="21.2" r="2.9"/><circle cx="30.2" cy="17.9" r="2.4"/><circle cx="34.1" cy="19.1" r="2.6"/><circle cx="36.4" cy="21.3" r="2.7"/></g><g fill="#bdbdbd"><circle cx="32" cy="24" r="6.6"/><circle cx="37.5" cy="22.9" r="2.2"/><circle cx="36.5" cy="28.2" r="2.2"/><circle cx="34.4" cy="29.2" r="1.6"/><circle cx="29.4" cy="28.8" r="2.6"/><circle cx="26.4" cy="25.2" r="2.6"/><circle cx="27.4" cy="21.2" r="2.1"/><circle cx="30.2" cy="17.9" r="1.6"/><circle cx="34.1" cy="19.1" r="1.8"/><circle cx="36.4" cy="21.3" r="1.9"/></g>
<g opacity="0.6"><circle cx="32.3" cy="24" r="1.4" fill="#a0a0a0"/><circle cx="31.9" cy="25.6" r="1.1" fill="#dcdcdc"/><circle cx="33.2" cy="21.6" r="0.8" fill="#dcdcdc"/><circle cx="30.7" cy="25.6" r="1.5" fill="#dcdcdc"/><circle cx="28.8" cy="27.3" r="1.5" fill="#dcdcdc"/><circle cx="35.5" cy="23.4" r="1.1" fill="#dcdcdc"/><circle cx="27.3" cy="21.3" r="1.2" fill="#a0a0a0"/><circle cx="30.2" cy="27.8" r="1.2" fill="#a0a0a0"/></g>
<g fill="#5e5e5e"><circle cx="58" cy="45" r="6.4"/><circle cx="62.1" cy="43.9" r="3"/><circle cx="61.8" cy="47.7" r="2.8"/><circle cx="58.2" cy="49.8" r="3"/><circle cx="55.3" cy="49.6" r="2.3"/><circle cx="53.6" cy="47" r="3"/><circle cx="54" cy="44" r="3.1"/><circle cx="55.2" cy="40.8" r="2.1"/><circle cx="58" cy="40.7" r="2.8"/><circle cx="62" cy="41.5" r="2.6"/></g><g fill="#bdbdbd"><circle cx="58" cy="45" r="5.6"/><circle cx="62.1" cy="43.9" r="2.2"/><circle cx="61.8" cy="47.7" r="2"/><circle cx="58.2" cy="49.8" r="2.2"/><circle cx="55.3" cy="49.6" r="1.5"/><circle cx="53.6" cy="47" r="2.2"/><circle cx="54" cy="44" r="2.3"/><circle cx="55.2" cy="40.8" r="1.3"/><circle cx="58" cy="40.7" r="2"/><circle cx="62" cy="41.5" r="1.8"/></g>
<g opacity="0.6"><circle cx="60.5" cy="46.1" r="1.5" fill="#d4d4d4"/><circle cx="54.7" cy="44.8" r="1.5" fill="#dcdcdc"/><circle cx="61.1" cy="44.8" r="0.6" fill="#a0a0a0"/><circle cx="59" cy="46.9" r="1.5" fill="#dcdcdc"/><circle cx="54.2" cy="43.7" r="0.8" fill="#a0a0a0"/><circle cx="54.5" cy="46.4" r="1.1" fill="#dcdcdc"/><circle cx="56" cy="41.4" r="0.5" fill="#dcdcdc"/></g>
<g fill="#5e5e5e"><circle cx="18" cy="40" r="6.4"/><circle cx="22.7" cy="39.1" r="2.7"/><circle cx="22" cy="43.4" r="2.1"/><circle cx="18.6" cy="45.2" r="2.7"/><circle cx="16.7" cy="45" r="3"/><circle cx="13.4" cy="41.8" r="2.3"/><circle cx="13.1" cy="38.3" r="2.4"/><circle cx="16.1" cy="36.5" r="3.1"/><circle cx="19.3" cy="35.5" r="3"/><circle cx="21.3" cy="35.9" r="2.3"/></g><g fill="#bdbdbd"><circle cx="18" cy="40" r="5.6"/><circle cx="22.7" cy="39.1" r="1.9"/><circle cx="22" cy="43.4" r="1.3"/><circle cx="18.6" cy="45.2" r="1.9"/><circle cx="16.7" cy="45" r="2.2"/><circle cx="13.4" cy="41.8" r="1.5"/><circle cx="13.1" cy="38.3" r="1.6"/><circle cx="16.1" cy="36.5" r="2.3"/><circle cx="19.3" cy="35.5" r="2.2"/><circle cx="21.3" cy="35.9" r="1.5"/></g>
<g opacity="0.6"><circle cx="19.9" cy="42.9" r="1.3" fill="#a0a0a0"/><circle cx="17.9" cy="44.5" r="0.9" fill="#d4d4d4"/><circle cx="20.8" cy="43.4" r="0.7" fill="#d4d4d4"/><circle cx="15.9" cy="37.5" r="0.9" fill="#a0a0a0"/><circle cx="15.1" cy="36.7" r="1.1" fill="#d4d4d4"/><circle cx="13.5" cy="40.3" r="1.1" fill="#d4d4d4"/><circle cx="17" cy="43.7" r="0.9" fill="#dcdcdc"/></g>
<g fill="#5e5e5e"><circle cx="45" cy="58" r="8.4"/><circle cx="51.5" cy="58.9" r="2.7"/><circle cx="49.7" cy="62.8" r="2.8"/><circle cx="47.1" cy="63.4" r="3.9"/><circle cx="43.5" cy="64.2" r="3.7"/><circle cx="39.5" cy="61.7" r="3.2"/><circle cx="39.3" cy="53.9" r="2.7"/><circle cx="42.6" cy="51.6" r="3.4"/><circle cx="45.9" cy="51.5" r="3.5"/><circle cx="50.3" cy="54.8" r="2.8"/></g><g fill="#bdbdbd"><circle cx="45" cy="58" r="7.6"/><circle cx="51.5" cy="58.9" r="1.9"/><circle cx="49.7" cy="62.8" r="2"/><circle cx="47.1" cy="63.4" r="3.1"/><circle cx="43.5" cy="64.2" r="2.9"/><circle cx="39.5" cy="61.7" r="2.4"/><circle cx="39.3" cy="53.9" r="1.9"/><circle cx="42.6" cy="51.6" r="2.6"/><circle cx="45.9" cy="51.5" r="2.7"/><circle cx="50.3" cy="54.8" r="2"/></g>
<g opacity="0.6"><circle cx="43.5" cy="57.2" r="1.1" fill="#d4d4d4"/><circle cx="43.8" cy="59.4" r="0.9" fill="#d4d4d4"/><circle cx="45.8" cy="54.5" r="0.8" fill="#d4d4d4"/><circle cx="42.2" cy="63.6" r="1" fill="#dcdcdc"/><circle cx="49.8" cy="61.3" r="1" fill="#a0a0a0"/><circle cx="44.1" cy="58.3" r="0.6" fill="#d4d4d4"/><circle cx="39.7" cy="59.5" r="1.2" fill="#a0a0a0"/><circle cx="44.7" cy="58.9" r="1.5" fill="#a0a0a0"/><circle cx="45.1" cy="57" r="1.3" fill="#dcdcdc"/></g>
<g fill="#5e5e5e"><circle cx="10" cy="60" r="7.4"/><circle cx="15.8" cy="60.7" r="3.5"/><circle cx="14.1" cy="62.7" r="3.4"/><circle cx="10.9" cy="64.9" r="3.5"/><circle cx="8.3" cy="65.7" r="2.4"/><circle cx="4.7" cy="60.6" r="3.2"/><circle cx="5.4" cy="57.1" r="3.4"/><circle cx="6" cy="55.8" r="2.4"/><circle cx="10.3" cy="54.1" r="3.5"/><circle cx="15.3" cy="56.5" r="2.5"/></g><g fill="#bdbdbd"><circle cx="10" cy="60" r="6.6"/><circle cx="15.8" cy="60.7" r="2.7"/><circle cx="14.1" cy="62.7" r="2.6"/><circle cx="10.9" cy="64.9" r="2.7"/><circle cx="8.3" cy="65.7" r="1.6"/><circle cx="4.7" cy="60.6" r="2.4"/><circle cx="5.4" cy="57.1" r="2.6"/><circle cx="6" cy="55.8" r="1.6"/><circle cx="10.3" cy="54.1" r="2.7"/><circle cx="15.3" cy="56.5" r="1.7"/></g>
<g opacity="0.6"><circle cx="11.3" cy="62.6" r="1.1" fill="#d4d4d4"/><circle cx="7.2" cy="63.9" r="1.2" fill="#a0a0a0"/><circle cx="6.3" cy="60.3" r="1.2" fill="#dcdcdc"/><circle cx="6.3" cy="59.8" r="1.6" fill="#a0a0a0"/><circle cx="5.7" cy="63.1" r="1.4" fill="#dcdcdc"/><circle cx="9.1" cy="63.9" r="1.5" fill="#a0a0a0"/><circle cx="10.2" cy="58.6" r="0.7" fill="#d4d4d4"/><circle cx="8" cy="62.2" r="0.5" fill="#a0a0a0"/></g>
<circle cx="41" cy="38" r="5" fill="#4a4a4a" opacity="0.85"/>
<circle cx="42" cy="29" r="2.5" fill="#e8e8e8"/>
<circle cx="23" cy="45" r="2" fill="#e0e0e0"/>
<circle cx="13" cy="28" r="2.5" fill="#e4e4e4"/>
<circle cx="52" cy="10" r="2" fill="#e0e0e0"/>
<circle cx="36" cy="30" r="2" fill="#e6e6e6"/>
<circle cx="62" cy="30" r="1.8" fill="#e0e0e0"/>
<circle cx="8" cy="52" r="2" fill="#dedede"/>
<ellipse cx="66" cy="62" rx="3" ry="6" fill="#333" opacity="0.7"/>
</g>
<rect x="180.3" y="886.3" width="69.5" height="69.5" filter="url(#grain)" opacity="0.3"/>
</g>
<rect x="223.10000000000002" y="950.0" width="22.6" height="1.7" fill="#fff"/>
<text x="7.00" y="584.80" font-size="13.5" text-anchor="start" fill="#111" font-weight="bold" >f</text>
<text x="3.20" y="789.50" font-size="13.5" text-anchor="start" fill="#111" font-weight="bold" >g</text>
<text x="140.50" y="587.10" font-size="12.2" text-anchor="middle" fill="#2a2223" stroke="#2a2223" stroke-width="0.22" >Organoids</text>
<text x="140.30" y="790.00" font-size="12.2" text-anchor="middle" fill="#2a2223" stroke="#2a2223" stroke-width="0.22" >Tumoroids</text>
<text x="66.00" y="605.70" font-size="12.2" text-anchor="middle" fill="#2a2223" stroke="#2a2223" stroke-width="0.22" >WCB169N</text>
<text x="140.30" y="605.70" font-size="12.2" text-anchor="middle" fill="#2a2223" stroke="#2a2223" stroke-width="0.22" >WCB173N</text>
<text x="215.00" y="605.70" font-size="12.2" text-anchor="middle" fill="#2a2223" stroke="#2a2223" stroke-width="0.22" >WCB239N</text>
<text x="66.00" y="807.00" font-size="12.2" text-anchor="middle" fill="#2a2223" stroke="#2a2223" stroke-width="0.22" >WCB152T</text>
<text x="140.30" y="807.00" font-size="12.2" text-anchor="middle" fill="#2a2223" stroke="#2a2223" stroke-width="0.22" >WCB157T</text>
<text x="215.00" y="807.00" font-size="12.2" text-anchor="middle" fill="#2a2223" stroke="#2a2223" stroke-width="0.22" >WCB172T</text>
<text x="0.00" y="0.00" font-size="12.2" text-anchor="middle" fill="#2a2223" stroke="#2a2223" stroke-width="0.22" transform="translate(24.6,644.7) rotate(-90)">Dome</text>
<text x="0.00" y="0.00" font-size="12.2" text-anchor="middle" fill="#2a2223" stroke="#2a2223" stroke-width="0.22" transform="translate(24.6,719.4) rotate(-90)">Suspension</text>
<text x="0.00" y="0.00" font-size="12.2" text-anchor="middle" fill="#2a2223" stroke="#2a2223" stroke-width="0.22" transform="translate(24.6,846.3) rotate(-90)">Dome</text>
<text x="0.00" y="0.00" font-size="12.2" text-anchor="middle" fill="#2a2223" stroke="#2a2223" stroke-width="0.22" transform="translate(24.6,921.0) rotate(-90)">Suspension</text>
<rect x="381.0" y="686.71" width="18.10" height="56.39" fill="#f5a04a"/>
<rect x="408.1" y="675.89" width="19.00" height="67.21" fill="#6797d0"/>
<rect x="454.7" y="656.52" width="18.50" height="86.58" fill="#f5a04a"/>
<rect x="482.6" y="639.20" width="18.40" height="103.90" fill="#6797d0"/>
<rect x="528.7" y="678.74" width="18.70" height="64.36" fill="#f5a04a"/>
<rect x="556.4" y="643.99" width="18.70" height="99.11" fill="#6797d0"/>
<path d="M371.4,600.7 L371.4,743.1 L585.5,743.1" fill="none" stroke="#1a1a1a" stroke-width="1.3"/>
<line x1="365.5" y1="743.10" x2="371.4" y2="743.10" stroke="#1a1a1a" stroke-width="1.3"/>
<text x="362.80" y="747.40" font-size="12.2" text-anchor="end" fill="#1a1a1a" stroke="#1a1a1a" stroke-width="0.22" >0</text>
<line x1="365.5" y1="714.62" x2="371.4" y2="714.62" stroke="#1a1a1a" stroke-width="1.3"/>
<text x="362.80" y="718.92" font-size="12.2" text-anchor="end" fill="#1a1a1a" stroke="#1a1a1a" stroke-width="0.22" >500,000</text>
<line x1="365.5" y1="686.14" x2="371.4" y2="686.14" stroke="#1a1a1a" stroke-width="1.3"/>
<text x="362.80" y="690.44" font-size="12.2" text-anchor="end" fill="#1a1a1a" stroke="#1a1a1a" stroke-width="0.22" >1,000,000</text>
<line x1="365.5" y1="657.66" x2="371.4" y2="657.66" stroke="#1a1a1a" stroke-width="1.3"/>
<text x="362.80" y="661.96" font-size="12.2" text-anchor="end" fill="#1a1a1a" stroke="#1a1a1a" stroke-width="0.22" >1,500,000</text>
<line x1="365.5" y1="629.18" x2="371.4" y2="629.18" stroke="#1a1a1a" stroke-width="1.3"/>
<text x="362.80" y="633.48" font-size="12.2" text-anchor="end" fill="#1a1a1a" stroke="#1a1a1a" stroke-width="0.22" >2,000,000</text>
<line x1="365.5" y1="600.70" x2="371.4" y2="600.70" stroke="#1a1a1a" stroke-width="1.3"/>
<text x="362.80" y="605.00" font-size="12.2" text-anchor="end" fill="#1a1a1a" stroke="#1a1a1a" stroke-width="0.22" >2,500,000</text>
<line x1="403.4" y1="743.1" x2="403.4" y2="749.1" stroke="#1a1a1a" stroke-width="1.3"/>
<text x="407.40" y="761.20" font-size="12.2" text-anchor="middle" fill="#1a1a1a" stroke="#1a1a1a" stroke-width="0.22" >WCB169N</text>
<line x1="477.6" y1="743.1" x2="477.6" y2="749.1" stroke="#1a1a1a" stroke-width="1.3"/>
<text x="481.60" y="761.20" font-size="12.2" text-anchor="middle" fill="#1a1a1a" stroke="#1a1a1a" stroke-width="0.22" >WCB173N</text>
<line x1="551.8" y1="743.1" x2="551.8" y2="749.1" stroke="#1a1a1a" stroke-width="1.3"/>
<text x="555.80" y="761.20" font-size="12.2" text-anchor="middle" fill="#1a1a1a" stroke="#1a1a1a" stroke-width="0.22" >WCB239N</text>
<line x1="389.9" y1="673.2" x2="389.9" y2="700.7" stroke="#1a1a1a" stroke-width="1.1"/>
<line x1="385.09999999999997" y1="673.2" x2="394.7" y2="673.2" stroke="#1a1a1a" stroke-width="1.1"/>
<line x1="385.09999999999997" y1="700.7" x2="394.7" y2="700.7" stroke="#1a1a1a" stroke-width="1.1"/>
<circle cx="389.9" cy="671.0" r="2.1" fill="#fff" stroke="#1a1a1a" stroke-width="1.15"/>
<circle cx="385.5" cy="695.5" r="2.1" fill="#fff" stroke="#1a1a1a" stroke-width="1.15"/>
<circle cx="394.1" cy="694.6" r="2.1" fill="#fff" stroke="#1a1a1a" stroke-width="1.15"/>
<line x1="417.7" y1="666.6" x2="417.7" y2="685.2" stroke="#1a1a1a" stroke-width="1.1"/>
<line x1="412.9" y1="666.6" x2="422.5" y2="666.6" stroke="#1a1a1a" stroke-width="1.1"/>
<line x1="412.9" y1="685.2" x2="422.5" y2="685.2" stroke="#1a1a1a" stroke-width="1.1"/>
<circle cx="417.7" cy="665.2" r="2.1" fill="#fff" stroke="#1a1a1a" stroke-width="1.15"/>
<circle cx="413.3" cy="681.7" r="2.1" fill="#fff" stroke="#1a1a1a" stroke-width="1.15"/>
<circle cx="421.8" cy="681.1" r="2.1" fill="#fff" stroke="#1a1a1a" stroke-width="1.15"/>
<line x1="464.0" y1="652.3" x2="464.0" y2="662.0" stroke="#1a1a1a" stroke-width="1.1"/>
<line x1="459.2" y1="652.3" x2="468.8" y2="652.3" stroke="#1a1a1a" stroke-width="1.1"/>
<line x1="459.2" y1="662.0" x2="468.8" y2="662.0" stroke="#1a1a1a" stroke-width="1.1"/>
<circle cx="464.2" cy="651.8" r="2.1" fill="#fff" stroke="#1a1a1a" stroke-width="1.15"/>
<circle cx="460.1" cy="659.9" r="2.1" fill="#fff" stroke="#1a1a1a" stroke-width="1.15"/>
<circle cx="467.4" cy="658.5" r="2.1" fill="#fff" stroke="#1a1a1a" stroke-width="1.15"/>
<line x1="491.8" y1="631.9" x2="491.8" y2="646.5" stroke="#1a1a1a" stroke-width="1.1"/>
<line x1="487.0" y1="631.9" x2="496.6" y2="631.9" stroke="#1a1a1a" stroke-width="1.1"/>
<line x1="487.0" y1="646.5" x2="496.6" y2="646.5" stroke="#1a1a1a" stroke-width="1.1"/>
<circle cx="491.6" cy="632.8" r="2.1" fill="#fff" stroke="#1a1a1a" stroke-width="1.15"/>
<circle cx="491.6" cy="639.5" r="2.1" fill="#fff" stroke="#1a1a1a" stroke-width="1.15"/>
<circle cx="491.6" cy="645.9" r="2.1" fill="#fff" stroke="#1a1a1a" stroke-width="1.15"/>
<line x1="538.0" y1="672.8" x2="538.0" y2="684.5" stroke="#1a1a1a" stroke-width="1.1"/>
<line x1="533.2" y1="672.8" x2="542.8" y2="672.8" stroke="#1a1a1a" stroke-width="1.1"/>
<line x1="533.2" y1="684.5" x2="542.8" y2="684.5" stroke="#1a1a1a" stroke-width="1.1"/>
<circle cx="538" cy="673.6" r="2.1" fill="#fff" stroke="#1a1a1a" stroke-width="1.15"/>
<circle cx="538" cy="678.9" r="2.1" fill="#fff" stroke="#1a1a1a" stroke-width="1.15"/>
<circle cx="538" cy="683.3" r="2.1" fill="#fff" stroke="#1a1a1a" stroke-width="1.15"/>
<line x1="565.7" y1="637.2" x2="565.7" y2="648.2" stroke="#1a1a1a" stroke-width="1.1"/>
<line x1="560.9000000000001" y1="637.2" x2="570.5" y2="637.2" stroke="#1a1a1a" stroke-width="1.1"/>
<line x1="560.9000000000001" y1="648.2" x2="570.5" y2="648.2" stroke="#1a1a1a" stroke-width="1.1"/>
<circle cx="565.8" cy="638" r="2.1" fill="#fff" stroke="#1a1a1a" stroke-width="1.15"/>
<circle cx="562.3" cy="646.5" r="2.1" fill="#fff" stroke="#1a1a1a" stroke-width="1.15"/>
<circle cx="570.1" cy="645.3" r="2.1" fill="#fff" stroke="#1a1a1a" stroke-width="1.15"/>
<text x="469.20" y="586.90" font-size="12.2" text-anchor="middle" fill="#1a1a1a" stroke="#1a1a1a" stroke-width="0.22" >Organoids</text>
<text x="0.00" y="0.00" font-size="12.2" text-anchor="middle" fill="#1a1a1a" stroke="#1a1a1a" stroke-width="0.22" transform="translate(301.2,673.4) rotate(-90)">Total live cells</text>
<line x1="388.9" y1="656.1" x2="417.2" y2="656.1" stroke="#1a1a1a" stroke-width="1.2"/>
<text x="403.20" y="651.80" font-size="12.2" text-anchor="middle" fill="#1a1a1a" stroke="#1a1a1a" stroke-width="0.22" >NS</text>
<line x1="463" y1="620.2" x2="491.3" y2="620.2" stroke="#1a1a1a" stroke-width="1.2"/>
<text x="477.10" y="620.50" font-size="15" text-anchor="middle" fill="#1a1a1a" font-weight="bold" >*</text>
<line x1="537.4" y1="620.2" x2="565.8" y2="620.2" stroke="#1a1a1a" stroke-width="1.2"/>
<text x="551.60" y="620.50" font-size="15" text-anchor="middle" fill="#1a1a1a" font-weight="bold" >***</text>
<rect x="381.0" y="861.75" width="18.30" height="83.05" fill="#f5a04a"/>
<rect x="410.2" y="858.04" width="15.60" height="86.76" fill="#6797d0"/>
<rect x="454.7" y="880.01" width="19.00" height="64.79" fill="#f5a04a"/>
<rect x="484.2" y="875.73" width="15.70" height="69.07" fill="#6797d0"/>
<rect x="528.8" y="844.05" width="18.90" height="100.75" fill="#f5a04a"/>
<rect x="558.2" y="818.08" width="16.10" height="126.72" fill="#6797d0"/>
<path d="M371.4,802.1 L371.4,944.8 L585.5,944.8" fill="none" stroke="#1a1a1a" stroke-width="1.3"/>
<line x1="365.5" y1="944.80" x2="371.4" y2="944.80" stroke="#1a1a1a" stroke-width="1.3"/>
<text x="362.80" y="949.10" font-size="12.2" text-anchor="end" fill="#1a1a1a" stroke="#1a1a1a" stroke-width="0.22" >0</text>
<line x1="365.5" y1="916.26" x2="371.4" y2="916.26" stroke="#1a1a1a" stroke-width="1.3"/>
<text x="362.80" y="920.56" font-size="12.2" text-anchor="end" fill="#1a1a1a" stroke="#1a1a1a" stroke-width="0.22" >500,000</text>
<line x1="365.5" y1="887.72" x2="371.4" y2="887.72" stroke="#1a1a1a" stroke-width="1.3"/>
<text x="362.80" y="892.02" font-size="12.2" text-anchor="end" fill="#1a1a1a" stroke="#1a1a1a" stroke-width="0.22" >1,000,000</text>
<line x1="365.5" y1="859.18" x2="371.4" y2="859.18" stroke="#1a1a1a" stroke-width="1.3"/>
<text x="362.80" y="863.48" font-size="12.2" text-anchor="end" fill="#1a1a1a" stroke="#1a1a1a" stroke-width="0.22" >1,500,000</text>
<line x1="365.5" y1="830.64" x2="371.4" y2="830.64" stroke="#1a1a1a" stroke-width="1.3"/>
<text x="362.80" y="834.94" font-size="12.2" text-anchor="end" fill="#1a1a1a" stroke="#1a1a1a" stroke-width="0.22" >2,000,000</text>
<line x1="365.5" y1="802.10" x2="371.4" y2="802.10" stroke="#1a1a1a" stroke-width="1.3"/>
<text x="362.80" y="806.40" font-size="12.2" text-anchor="end" fill="#1a1a1a" stroke="#1a1a1a" stroke-width="0.22" >2,500,000</text>
<line x1="403.4" y1="944.8" x2="403.4" y2="950.8" stroke="#1a1a1a" stroke-width="1.3"/>
<text x="407.40" y="962.70" font-size="12.2" text-anchor="middle" fill="#1a1a1a" stroke="#1a1a1a" stroke-width="0.22" >WCB152T</text>
<line x1="477.6" y1="944.8" x2="477.6" y2="950.8" stroke="#1a1a1a" stroke-width="1.3"/>
<text x="481.60" y="962.70" font-size="12.2" text-anchor="middle" fill="#1a1a1a" stroke="#1a1a1a" stroke-width="0.22" >WCB157T</text>
<line x1="551.8" y1="944.8" x2="551.8" y2="950.8" stroke="#1a1a1a" stroke-width="1.3"/>
<text x="555.80" y="962.70" font-size="12.2" text-anchor="middle" fill="#1a1a1a" stroke="#1a1a1a" stroke-width="0.22" >WCB172T</text>
<line x1="389.9" y1="860.5" x2="389.9" y2="862.5" stroke="#1a1a1a" stroke-width="1.1"/>
<line x1="385.09999999999997" y1="860.5" x2="394.7" y2="860.5" stroke="#1a1a1a" stroke-width="1.1"/>
<line x1="385.09999999999997" y1="862.5" x2="394.7" y2="862.5" stroke="#1a1a1a" stroke-width="1.1"/>
<circle cx="382.8" cy="861.4" r="2.1" fill="#fff" stroke="#1a1a1a" stroke-width="1.15"/>
<circle cx="388.6" cy="859.6" r="2.1" fill="#fff" stroke="#1a1a1a" stroke-width="1.15"/>
<circle cx="396.8" cy="861.4" r="2.1" fill="#fff" stroke="#1a1a1a" stroke-width="1.15"/>
<line x1="417.7" y1="855.5" x2="417.7" y2="858.2" stroke="#1a1a1a" stroke-width="1.1"/>
<line x1="412.9" y1="855.5" x2="422.5" y2="855.5" stroke="#1a1a1a" stroke-width="1.1"/>
<line x1="412.9" y1="858.2" x2="422.5" y2="858.2" stroke="#1a1a1a" stroke-width="1.1"/>
<circle cx="412" cy="858.2" r="2.1" fill="#fff" stroke="#1a1a1a" stroke-width="1.15"/>
<circle cx="418.1" cy="855.5" r="2.1" fill="#fff" stroke="#1a1a1a" stroke-width="1.15"/>
<circle cx="425.1" cy="855.5" r="2.1" fill="#fff" stroke="#1a1a1a" stroke-width="1.15"/>
<line x1="464.2" y1="876.9" x2="464.2" y2="883.5" stroke="#1a1a1a" stroke-width="1.1"/>
<line x1="459.4" y1="876.9" x2="469.0" y2="876.9" stroke="#1a1a1a" stroke-width="1.1"/>
<line x1="459.4" y1="883.5" x2="469.0" y2="883.5" stroke="#1a1a1a" stroke-width="1.1"/>
<circle cx="460.4" cy="877.4" r="2.1" fill="#fff" stroke="#1a1a1a" stroke-width="1.15"/>
<circle cx="468.0" cy="877.4" r="2.1" fill="#fff" stroke="#1a1a1a" stroke-width="1.15"/>
<circle cx="464.2" cy="884.1" r="2.1" fill="#fff" stroke="#1a1a1a" stroke-width="1.15"/>
<line x1="491.8" y1="864.9" x2="491.8" y2="882.9" stroke="#1a1a1a" stroke-width="1.1"/>
<line x1="487.0" y1="864.9" x2="496.6" y2="864.9" stroke="#1a1a1a" stroke-width="1.1"/>
<line x1="487.0" y1="882.9" x2="496.6" y2="882.9" stroke="#1a1a1a" stroke-width="1.1"/>
<circle cx="491.8" cy="864.5" r="2.1" fill="#fff" stroke="#1a1a1a" stroke-width="1.15"/>
<circle cx="491.8" cy="876.9" r="2.1" fill="#fff" stroke="#1a1a1a" stroke-width="1.15"/>
<circle cx="491.8" cy="881.6" r="2.1" fill="#fff" stroke="#1a1a1a" stroke-width="1.15"/>
<line x1="538.3" y1="834.7" x2="538.3" y2="854.5" stroke="#1a1a1a" stroke-width="1.1"/>
<line x1="533.5" y1="834.7" x2="543.0999999999999" y2="834.7" stroke="#1a1a1a" stroke-width="1.1"/>
<line x1="533.5" y1="854.5" x2="543.0999999999999" y2="854.5" stroke="#1a1a1a" stroke-width="1.1"/>
<circle cx="538.3" cy="834.7" r="2.1" fill="#fff" stroke="#1a1a1a" stroke-width="1.15"/>
<circle cx="538.3" cy="844.6" r="2.1" fill="#fff" stroke="#1a1a1a" stroke-width="1.15"/>
<circle cx="538.3" cy="854.5" r="2.1" fill="#fff" stroke="#1a1a1a" stroke-width="1.15"/>
<line x1="566.0" y1="815.0" x2="566.0" y2="817.2" stroke="#1a1a1a" stroke-width="1.1"/>
<line x1="561.2" y1="815.0" x2="570.8" y2="815.0" stroke="#1a1a1a" stroke-width="1.1"/>
<line x1="561.2" y1="817.2" x2="570.8" y2="817.2" stroke="#1a1a1a" stroke-width="1.1"/>
<circle cx="558.6" cy="817.7" r="2.1" fill="#fff" stroke="#1a1a1a" stroke-width="1.15"/>
<circle cx="565.8" cy="814.8" r="2.1" fill="#fff" stroke="#1a1a1a" stroke-width="1.15"/>
<circle cx="573.4" cy="816.7" r="2.1" fill="#fff" stroke="#1a1a1a" stroke-width="1.15"/>
<text x="469.40" y="789.90" font-size="12.2" text-anchor="middle" fill="#1a1a1a" stroke="#1a1a1a" stroke-width="0.22" >Tumoroids</text>
<text x="0.00" y="0.00" font-size="12.2" text-anchor="middle" fill="#1a1a1a" stroke="#1a1a1a" stroke-width="0.22" transform="translate(301.2,874.9) rotate(-90)">Total live cells</text>
<line x1="388.9" y1="846.5" x2="417.2" y2="846.5" stroke="#1a1a1a" stroke-width="1.2"/>
<text x="403.00" y="841.50" font-size="12.2" text-anchor="middle" fill="#1a1a1a" stroke="#1a1a1a" stroke-width="0.22" >NS</text>
<line x1="462.9" y1="846.1" x2="490.8" y2="846.1" stroke="#1a1a1a" stroke-width="1.2"/>
<text x="477.10" y="841.50" font-size="12.2" text-anchor="middle" fill="#1a1a1a" stroke="#1a1a1a" stroke-width="0.22" >NS</text>
<line x1="537.3" y1="808.4" x2="565.2" y2="808.4" stroke="#1a1a1a" stroke-width="1.2"/>
<text x="551.20" y="808.30" font-size="15" text-anchor="middle" fill="#1a1a1a" font-weight="bold" >**</text>
<rect x="598.9" y="752.2" width="13.8" height="6.6" fill="#f5a04a"/>
<text x="622.70" y="759.60" font-size="12.2" text-anchor="start" fill="#1a1a1a" stroke="#1a1a1a" stroke-width="0.22" >Domes</text>
<rect x="598.9" y="780.7" width="13.8" height="6.4" fill="#6797d0"/>
<text x="622.70" y="788.00" font-size="12.2" text-anchor="start" fill="#1a1a1a" stroke="#1a1a1a" stroke-width="0.22" >Suspension</text>
</svg>
</body></html>
